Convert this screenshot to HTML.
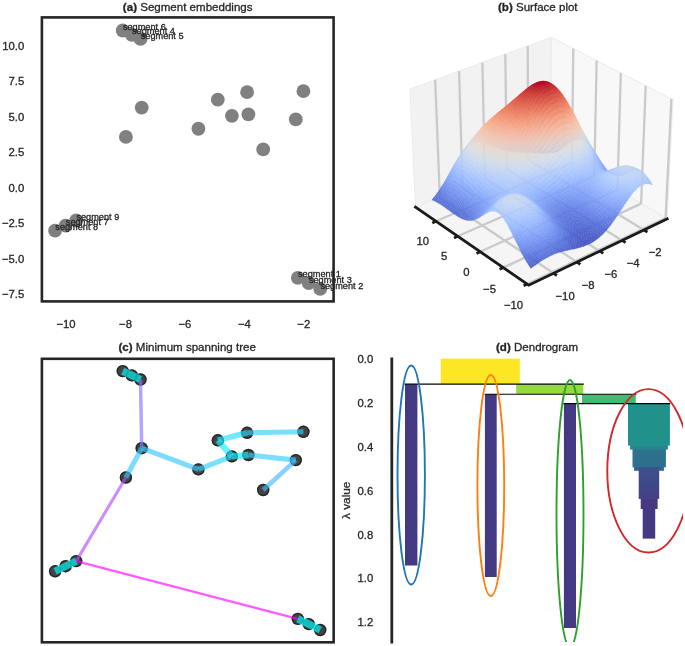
<!DOCTYPE html>
<html><head><meta charset="utf-8"><title>figure</title>
<style>html,body{margin:0;padding:0;background:#fff}svg{display:block}text{font-family:"Liberation Sans", sans-serif}</style></head>
<body><svg width="685" height="646" viewBox="0 0 685 646">
<rect width="685" height="646" fill="#fff"/>
<g opacity="0.9999">
<g>
<circle cx="122.7" cy="30.5" r="6.9" fill="#808080"/>
<circle cx="131.8" cy="34.8" r="6.9" fill="#808080"/>
<circle cx="140.5" cy="38.9" r="6.9" fill="#808080"/>
<circle cx="141.7" cy="107.6" r="6.9" fill="#808080"/>
<circle cx="125.9" cy="136.9" r="6.9" fill="#808080"/>
<circle cx="198.4" cy="128.75" r="6.9" fill="#808080"/>
<circle cx="217.8" cy="99.7" r="6.9" fill="#808080"/>
<circle cx="231.9" cy="115.8" r="6.9" fill="#808080"/>
<circle cx="247.1" cy="92.2" r="6.9" fill="#808080"/>
<circle cx="248.4" cy="114.35" r="6.9" fill="#808080"/>
<circle cx="263.2" cy="149.4" r="6.9" fill="#808080"/>
<circle cx="295.8" cy="119.45" r="6.9" fill="#808080"/>
<circle cx="303.4" cy="91.15" r="6.9" fill="#808080"/>
<circle cx="55.1" cy="230.7" r="6.9" fill="#808080"/>
<circle cx="65.6" cy="225.6" r="6.9" fill="#808080"/>
<circle cx="76.2" cy="220.5" r="6.9" fill="#808080"/>
<circle cx="297.8" cy="277.8" r="6.9" fill="#808080"/>
<circle cx="308.7" cy="283.0" r="6.9" fill="#808080"/>
<circle cx="320.2" cy="288.95" r="6.9" fill="#808080"/>
<rect x="41.9" y="17.4" width="291.70" height="284.00" fill="none" stroke="#262626" stroke-width="2.6"/>
<text opacity="0.9999" stroke="#262626" stroke-width="0.3" x="122.9" y="30.1" font-size="9.2" fill="#262626">segment 6</text>
<text opacity="0.9999" stroke="#262626" stroke-width="0.3" x="132.0" y="34.4" font-size="9.2" fill="#262626">segment 4</text>
<text opacity="0.9999" stroke="#262626" stroke-width="0.3" x="140.7" y="38.5" font-size="9.2" fill="#262626">segment 5</text>
<text opacity="0.9999" stroke="#262626" stroke-width="0.3" x="76.4" y="220.1" font-size="9.2" fill="#262626">segment 9</text>
<text opacity="0.9999" stroke="#262626" stroke-width="0.3" x="65.8" y="225.2" font-size="9.2" fill="#262626">segment 7</text>
<text opacity="0.9999" stroke="#262626" stroke-width="0.3" x="55.3" y="230.3" font-size="9.2" fill="#262626">segment 8</text>
<text opacity="0.9999" stroke="#262626" stroke-width="0.3" x="298.0" y="277.4" font-size="9.2" fill="#262626">segment 1</text>
<text opacity="0.9999" stroke="#262626" stroke-width="0.3" x="308.9" y="282.6" font-size="9.2" fill="#262626">segment 3</text>
<text opacity="0.9999" stroke="#262626" stroke-width="0.3" x="320.4" y="288.6" font-size="9.2" fill="#262626">segment 2</text>
<text opacity="0.9999" stroke="#262626" stroke-width="0.3" x="24.2" y="49.7" text-anchor="end" font-size="11.3" fill="#262626">10.0</text>
<text opacity="0.9999" stroke="#262626" stroke-width="0.3" x="24.2" y="85.2" text-anchor="end" font-size="11.3" fill="#262626">7.5</text>
<text opacity="0.9999" stroke="#262626" stroke-width="0.3" x="24.2" y="120.7" text-anchor="end" font-size="11.3" fill="#262626">5.0</text>
<text opacity="0.9999" stroke="#262626" stroke-width="0.3" x="24.2" y="156.2" text-anchor="end" font-size="11.3" fill="#262626">2.5</text>
<text opacity="0.9999" stroke="#262626" stroke-width="0.3" x="24.2" y="191.7" text-anchor="end" font-size="11.3" fill="#262626">0.0</text>
<text opacity="0.9999" stroke="#262626" stroke-width="0.3" x="24.2" y="227.2" text-anchor="end" font-size="11.3" fill="#262626">−2.5</text>
<text opacity="0.9999" stroke="#262626" stroke-width="0.3" x="24.2" y="262.7" text-anchor="end" font-size="11.3" fill="#262626">−5.0</text>
<text opacity="0.9999" stroke="#262626" stroke-width="0.3" x="24.2" y="298.2" text-anchor="end" font-size="11.3" fill="#262626">−7.5</text>
<text opacity="0.9999" stroke="#262626" stroke-width="0.3" x="66.0" y="328" text-anchor="middle" font-size="11.3" fill="#262626">−10</text>
<text opacity="0.9999" stroke="#262626" stroke-width="0.3" x="125.5" y="328" text-anchor="middle" font-size="11.3" fill="#262626">−8</text>
<text opacity="0.9999" stroke="#262626" stroke-width="0.3" x="184.9" y="328" text-anchor="middle" font-size="11.3" fill="#262626">−6</text>
<text opacity="0.9999" stroke="#262626" stroke-width="0.3" x="244.4" y="328" text-anchor="middle" font-size="11.3" fill="#262626">−4</text>
<text opacity="0.9999" stroke="#262626" stroke-width="0.3" x="303.8" y="328" text-anchor="middle" font-size="11.3" fill="#262626">−2</text>
<text opacity="0.9999" stroke="#262626" stroke-width="0.3" x="187.7" y="10.7" text-anchor="middle" font-size="11.55" fill="#262626"><tspan font-weight="bold">(a)</tspan> Segment embeddings</text>
</g>
<g>
<polygon points="415.5,207.2 550.9,150.4 551.3,37.3 409.9,89.0" fill="#f2f2f2" stroke="#e8e8e8" stroke-width="0.8"/>
<polygon points="667.2,218.9 550.9,150.4 551.3,37.3 673.0,99.7" fill="#f8f8f8" stroke="#e8e8e8" stroke-width="0.8"/>
<polygon points="528.7,285.2 667.2,218.9 550.9,150.4 415.5,207.2" fill="#f5f5f5" stroke="#e8e8e8" stroke-width="0.8"/>
<line x1="553.6" y1="273.3" x2="439.8" y2="197.0" stroke="#cacaca" stroke-width="2.3" stroke-linecap="butt"/>
<line x1="439.8" y1="197.0" x2="435.2" y2="79.7" stroke="#cacaca" stroke-width="2.3" stroke-linecap="butt"/>
<line x1="577.0" y1="262.1" x2="462.5" y2="187.5" stroke="#cacaca" stroke-width="2.3" stroke-linecap="butt"/>
<line x1="462.5" y1="187.5" x2="459.1" y2="71.0" stroke="#cacaca" stroke-width="2.3" stroke-linecap="butt"/>
<line x1="599.9" y1="251.2" x2="484.9" y2="178.1" stroke="#cacaca" stroke-width="2.3" stroke-linecap="butt"/>
<line x1="484.9" y1="178.1" x2="482.4" y2="62.5" stroke="#cacaca" stroke-width="2.3" stroke-linecap="butt"/>
<line x1="622.2" y1="240.4" x2="506.8" y2="168.9" stroke="#cacaca" stroke-width="2.3" stroke-linecap="butt"/>
<line x1="506.8" y1="168.9" x2="505.3" y2="54.1" stroke="#cacaca" stroke-width="2.3" stroke-linecap="butt"/>
<line x1="644.1" y1="230.0" x2="528.2" y2="159.9" stroke="#cacaca" stroke-width="2.3" stroke-linecap="butt"/>
<line x1="528.2" y1="159.9" x2="527.7" y2="45.9" stroke="#cacaca" stroke-width="2.3" stroke-linecap="butt"/>
<line x1="527.2" y1="284.1" x2="665.6" y2="218.0" stroke="#cacaca" stroke-width="2.3" stroke-linecap="butt"/>
<line x1="665.6" y1="218.0" x2="671.4" y2="98.9" stroke="#cacaca" stroke-width="2.3" stroke-linecap="butt"/>
<line x1="503.3" y1="267.6" x2="641.1" y2="203.6" stroke="#cacaca" stroke-width="2.3" stroke-linecap="butt"/>
<line x1="641.1" y1="203.6" x2="645.7" y2="85.7" stroke="#cacaca" stroke-width="2.3" stroke-linecap="butt"/>
<line x1="480.1" y1="251.7" x2="617.4" y2="189.6" stroke="#cacaca" stroke-width="2.3" stroke-linecap="butt"/>
<line x1="617.4" y1="189.6" x2="620.8" y2="72.9" stroke="#cacaca" stroke-width="2.3" stroke-linecap="butt"/>
<line x1="457.7" y1="236.2" x2="594.3" y2="176.0" stroke="#cacaca" stroke-width="2.3" stroke-linecap="butt"/>
<line x1="594.3" y1="176.0" x2="596.6" y2="60.5" stroke="#cacaca" stroke-width="2.3" stroke-linecap="butt"/>
<line x1="435.9" y1="221.2" x2="571.9" y2="162.8" stroke="#cacaca" stroke-width="2.3" stroke-linecap="butt"/>
<line x1="571.9" y1="162.8" x2="573.3" y2="48.5" stroke="#cacaca" stroke-width="2.3" stroke-linecap="butt"/>
<style>.s0{fill:#3b4cc0;stroke:#3b4cc0}.s1{fill:#3c4ec2;stroke:#3c4ec2}.s2{fill:#3e51c5;stroke:#3e51c5}.s3{fill:#3f53c6;stroke:#3f53c6}.s4{fill:#4257c9;stroke:#4257c9}.s5{fill:#445acc;stroke:#445acc}.s6{fill:#455cce;stroke:#455cce}.s7{fill:#485fd1;stroke:#485fd1}.s8{fill:#4961d2;stroke:#4961d2}.s9{fill:#4b64d5;stroke:#4b64d5}.s10{fill:#4e68d8;stroke:#4e68d8}.s11{fill:#4f69d9;stroke:#4f69d9}.s12{fill:#516ddb;stroke:#516ddb}.s13{fill:#536edd;stroke:#536edd}.s14{fill:#5572df;stroke:#5572df}.s15{fill:#5875e1;stroke:#5875e1}.s16{fill:#5977e3;stroke:#5977e3}.s17{fill:#5b7ae5;stroke:#5b7ae5}.s18{fill:#5d7ce6;stroke:#5d7ce6}.s19{fill:#5f7fe8;stroke:#5f7fe8}.s20{fill:#6282ea;stroke:#6282ea}.s21{fill:#6384eb;stroke:#6384eb}.s22{fill:#6687ed;stroke:#6687ed}.s23{fill:#688aef;stroke:#688aef}.s24{fill:#6a8bef;stroke:#6a8bef}.s25{fill:#6c8ff1;stroke:#6c8ff1}.s26{fill:#6e90f2;stroke:#6e90f2}.s27{fill:#7093f3;stroke:#7093f3}.s28{fill:#7396f5;stroke:#7396f5}.s29{fill:#7597f6;stroke:#7597f6}.s30{fill:#779af7;stroke:#779af7}.s31{fill:#799cf8;stroke:#799cf8}.s32{fill:#7b9ff9;stroke:#7b9ff9}.s33{fill:#7ea1fa;stroke:#7ea1fa}.s34{fill:#80a3fa;stroke:#80a3fa}.s35{fill:#82a6fb;stroke:#82a6fb}.s36{fill:#84a7fc;stroke:#84a7fc}.s37{fill:#86a9fc;stroke:#86a9fc}.s38{fill:#89acfd;stroke:#89acfd}.s39{fill:#8badfd;stroke:#8badfd}.s40{fill:#8db0fe;stroke:#8db0fe}.s41{fill:#90b2fe;stroke:#90b2fe}.s42{fill:#92b4fe;stroke:#92b4fe}.s43{fill:#94b6ff;stroke:#94b6ff}.s44{fill:#96b7ff;stroke:#96b7ff}.s45{fill:#98b9ff;stroke:#98b9ff}.s46{fill:#9bbcff;stroke:#9bbcff}.s47{fill:#9dbdff;stroke:#9dbdff}.s48{fill:#9fbfff;stroke:#9fbfff}.s49{fill:#a1c0ff;stroke:#a1c0ff}.s50{fill:#a3c2fe;stroke:#a3c2fe}.s51{fill:#a6c4fe;stroke:#a6c4fe}.s52{fill:#a7c5fe;stroke:#a7c5fe}.s53{fill:#aac7fd;stroke:#aac7fd}.s54{fill:#abc8fd;stroke:#abc8fd}.s55{fill:#aec9fc;stroke:#aec9fc}.s56{fill:#b1cbfc;stroke:#b1cbfc}.s57{fill:#b2ccfb;stroke:#b2ccfb}.s58{fill:#b5cdfa;stroke:#b5cdfa}.s59{fill:#b6cefa;stroke:#b6cefa}.s60{fill:#b9d0f9;stroke:#b9d0f9}.s61{fill:#bbd1f8;stroke:#bbd1f8}.s62{fill:#bcd2f7;stroke:#bcd2f7}.s63{fill:#bfd3f6;stroke:#bfd3f6}.s64{fill:#c1d4f4;stroke:#c1d4f4}.s65{fill:#c3d5f4;stroke:#c3d5f4}.s66{fill:#c5d6f2;stroke:#c5d6f2}.s67{fill:#c6d6f1;stroke:#c6d6f1}.s68{fill:#c9d7f0;stroke:#c9d7f0}.s69{fill:#cbd8ee;stroke:#cbd8ee}.s70{fill:#ccd9ed;stroke:#ccd9ed}.s71{fill:#cedaeb;stroke:#cedaeb}.s72{fill:#cfdaea;stroke:#cfdaea}.s73{fill:#d2dbe8;stroke:#d2dbe8}.s74{fill:#d4dbe6;stroke:#d4dbe6}.s75{fill:#d5dbe5;stroke:#d5dbe5}.s76{fill:#d7dce3;stroke:#d7dce3}.s77{fill:#d8dce2;stroke:#d8dce2}.s78{fill:#dadce0;stroke:#dadce0}.s79{fill:#dcdddd;stroke:#dcdddd}.s80{fill:#dddcdc;stroke:#dddcdc}.s81{fill:#dfdbd9;stroke:#dfdbd9}.s82{fill:#e1dad6;stroke:#e1dad6}.s83{fill:#e2dad5;stroke:#e2dad5}.s84{fill:#e4d9d2;stroke:#e4d9d2}.s85{fill:#e5d8d1;stroke:#e5d8d1}.s86{fill:#e7d7ce;stroke:#e7d7ce}.s87{fill:#e9d5cb;stroke:#e9d5cb}.s88{fill:#ead5c9;stroke:#ead5c9}.s89{fill:#ebd3c6;stroke:#ebd3c6}.s90{fill:#ecd3c5;stroke:#ecd3c5}.s91{fill:#edd1c2;stroke:#edd1c2}.s92{fill:#efcfbf;stroke:#efcfbf}.s93{fill:#efcebd;stroke:#efcebd}.s94{fill:#f1cdba;stroke:#f1cdba}.s95{fill:#f1ccb8;stroke:#f1ccb8}.s96{fill:#f2cab5;stroke:#f2cab5}.s97{fill:#f3c8b2;stroke:#f3c8b2}.s98{fill:#f3c7b1;stroke:#f3c7b1}.s99{fill:#f4c5ad;stroke:#f4c5ad}.s100{fill:#f5c2aa;stroke:#f5c2aa}.s101{fill:#f5c1a9;stroke:#f5c1a9}.s102{fill:#f6bfa6;stroke:#f6bfa6}.s103{fill:#f6bea4;stroke:#f6bea4}.s104{fill:#f7bca1;stroke:#f7bca1}.s105{fill:#f7b99e;stroke:#f7b99e}.s106{fill:#f7b89c;stroke:#f7b89c}.s107{fill:#f7b599;stroke:#f7b599}.s108{fill:#f7b497;stroke:#f7b497}.s109{fill:#f7b194;stroke:#f7b194}.s110{fill:#f7af91;stroke:#f7af91}.s111{fill:#f7ad90;stroke:#f7ad90}.s112{fill:#f7aa8c;stroke:#f7aa8c}.s113{fill:#f7a98b;stroke:#f7a98b}.s114{fill:#f7a688;stroke:#f7a688}.s115{fill:#f6a385;stroke:#f6a385}.s116{fill:#f6a283;stroke:#f6a283}.s117{fill:#f59f80;stroke:#f59f80}.s118{fill:#f59d7e;stroke:#f59d7e}.s119{fill:#f49a7b;stroke:#f49a7b}.s120{fill:#f39778;stroke:#f39778}.s121{fill:#f39577;stroke:#f39577}.s122{fill:#f29274;stroke:#f29274}.s123{fill:#f18f71;stroke:#f18f71}.s124{fill:#f18d6f;stroke:#f18d6f}.s125{fill:#f08a6c;stroke:#f08a6c}.s126{fill:#ef886b;stroke:#ef886b}.s127{fill:#ee8468;stroke:#ee8468}.s128{fill:#ec8165;stroke:#ec8165}.s129{fill:#ec7f63;stroke:#ec7f63}.s130{fill:#ea7b60;stroke:#ea7b60}.s131{fill:#e97a5f;stroke:#e97a5f}.s132{fill:#e8765c;stroke:#e8765c}.s133{fill:#e67259;stroke:#e67259}.s134{fill:#e57058;stroke:#e57058}.s135{fill:#e36c55;stroke:#e36c55}.s136{fill:#e36b54;stroke:#e36b54}.s137{fill:#e16751;stroke:#e16751}.s138{fill:#df634e;stroke:#df634e}.s139{fill:#de614d;stroke:#de614d}.s140{fill:#dc5d4a;stroke:#dc5d4a}.s141{fill:#d95847;stroke:#d95847}.s142{fill:#d85646;stroke:#d85646}.s143{fill:#d65244;stroke:#d65244}.s144{fill:#d55042;stroke:#d55042}.s145{fill:#d24b40;stroke:#d24b40}.s146{fill:#d0473d;stroke:#d0473d}.s147{fill:#cf453c;stroke:#cf453c}.s148{fill:#cc403a;stroke:#cc403a}.s149{fill:#cb3e38;stroke:#cb3e38}.s150{fill:#c83836;stroke:#c83836}.s151{fill:#c53334;stroke:#c53334}.s152{fill:#c43032;stroke:#c43032}.s153{fill:#c12b30;stroke:#c12b30}.s154{fill:#c0282f;stroke:#c0282f}.s155{fill:#bd1f2d;stroke:#bd1f2d}.s156{fill:#ba162b;stroke:#ba162b}.s157{fill:#b8122a;stroke:#b8122a}.s158{fill:#b50927;stroke:#b50927}.s159{fill:#b40426;stroke:#b40426}</style>
<g fill-opacity="0.93" stroke-opacity="0.6" stroke-width="0.4">
<path class="s4" d="M550 152.8l1.7 0-1.4 .1-1.6 .1z"/>
<path class="s5" d="M548.4 152.8l1.6 0-1.3 .2-1.7 .1z"/>
<path class="s6" d="M551.4 152.5l1.6 .1-1.3 .2-1.7 0z"/>
<path class="s6" d="M546.8 152.8l1.6 0-1.4 .3-1.6 0z"/>
<path class="s7" d="M549.8 152.4l1.6 .1-1.4 .3-1.6 0z"/>
<path class="s7" d="M552.8 152.1l1.6 .2-1.4 .3-1.6-.1z"/>
<path class="s7" d="M545.2 152.7l1.6 .1-1.4 .3-1.6 .1z"/>
<path class="s8" d="M548.2 152.2l1.6 .2-1.4 .4-1.6 0z"/>
<path class="s9" d="M551.2 151.8l1.6 .3-1.4 .4-1.6-.1z"/>
<path class="s9" d="M554.2 151.5l1.6 .4-1.4 .4-1.6-.2z"/>
<path class="s8" d="M543.5 152.6l1.7 .1-1.4 .5-1.7 0z"/>
<path class="s9" d="M546.5 152l1.7 .2-1.4 .6-1.6-.1z"/>
<path class="s10" d="M549.6 151.5l1.6 .3-1.4 .6-1.6-.2z"/>
<path class="s9" d="M541.9 152.4l1.6 .2-1.4 .6-1.6 0z"/>
<path class="s11" d="M552.6 151.1l1.6 .4-1.4 .6-1.6-.3z"/>
<path class="s11" d="M555.6 150.8l1.6 .5-1.4 .6-1.6-.4z"/>
<path class="s11" d="M544.9 151.8l1.6 .2-1.3 .7-1.7-.1z"/>
<path class="s12" d="M547.9 151.2l1.7 .3-1.4 .7-1.7-.2z"/>
<path class="s11" d="M540.2 152.3l1.7 .1-1.4 .8-1.6-.1z"/>
<path class="s12" d="M550.9 150.7l1.7 .4-1.4 .7-1.6-.3z"/>
<path class="s13" d="M554 150.3l1.6 .5-1.4 .7-1.6-.4z"/>
<path class="s12" d="M543.3 151.5l1.6 .3-1.4 .8-1.6-.2z"/>
<path class="s14" d="M557 150l1.6 .7-1.4 .6-1.6-.5z"/>
<path class="s13" d="M546.3 150.8l1.6 .4-1.4 .8-1.6-.2z"/>
<path class="s12" d="M538.6 152.1l1.6 .2-1.3 .8-1.7 0z"/>
<path class="s14" d="M549.3 150.2l1.6 .5-1.3 .8-1.7-.3z"/>
<path class="s13" d="M541.6 151.2l1.7 .3-1.4 .9-1.7-.1z"/>
<path class="s15" d="M552.3 149.7l1.7 .6-1.4 .8-1.7-.4z"/>
<path class="s16" d="M555.4 149.3l1.6 .7-1.4 .8-1.6-.5z"/>
<path class="s15" d="M544.6 150.4l1.7 .4-1.4 1-1.6-.3z"/>
<path class="s13" d="M536.9 151.9l1.7 .2-1.4 1-1.6-.1z"/>
<path class="s16" d="M558.4 149.1l1.6 .8-1.4 .8-1.6-.7z"/>
<path class="s16" d="M547.7 149.7l1.6 .5-1.4 1-1.6-.4z"/>
<path class="s15" d="M540 150.9l1.6 .3-1.4 1.1-1.6-.2z"/>
<path class="s17" d="M550.7 149l1.6 .7-1.4 1-1.6-.5z"/>
<path class="s16" d="M543 150l1.6 .4-1.3 1.1-1.7-.3z"/>
<path class="s14" d="M535.3 151.8l1.6 .1-1.3 1.1-1.7 0z"/>
<path class="s18" d="M553.7 148.6l1.7 .7-1.4 1-1.7-.6z"/>
<path class="s18" d="M556.8 148.3l1.6 .8-1.4 .9-1.6-.7z"/>
<path class="s18" d="M546 149.1l1.7 .6-1.4 1.1-1.7-.4z"/>
<path class="s19" d="M559.8 148.1l1.6 1-1.4 .8-1.6-.8z"/>
<path class="s16" d="M538.3 150.6l1.7 .3-1.4 1.2-1.7-.2z"/>
<path class="s19" d="M549.1 148.4l1.6 .6-1.4 1.2-1.6-.5z"/>
<path class="s16" d="M533.6 151.6l1.7 .2-1.4 1.2-1.6-.1z"/>
<path class="s18" d="M541.3 149.5l1.7 .5-1.4 1.2-1.6-.3z"/>
<path class="s20" d="M552.1 147.8l1.6 .8-1.4 1.1-1.6-.7z"/>
<path class="s21" d="M555.2 147.3l1.6 1-1.4 1-1.7-.7z"/>
<path class="s20" d="M544.4 148.5l1.6 .6-1.4 1.3-1.6-.4z"/>
<path class="s18" d="M536.7 150.3l1.6 .3-1.4 1.3-1.6-.1z"/>
<path class="s21" d="M558.2 147.1l1.6 1-1.4 1-1.6-.8z"/>
<path class="s22" d="M561.2 147l1.7 1.2-1.5 .9-1.6-1z"/>
<path class="s17" d="M532 151.4l1.6 .2-1.3 1.3-1.7-.1z"/>
<path class="s21" d="M547.4 147.6l1.7 .8-1.4 1.3-1.7-.6z"/>
<path class="s20" d="M539.7 149.1l1.6 .4-1.3 1.4-1.7-.3z"/>
<path class="s22" d="M550.5 146.9l1.6 .9-1.4 1.2-1.6-.6z"/>
<path class="s19" d="M535 150l1.7 .3-1.4 1.5-1.7-.2z"/>
<path class="s21" d="M542.7 147.9l1.7 .6-1.4 1.5-1.7-.5z"/>
<path class="s23" d="M553.5 146.3l1.7 1-1.5 1.3-1.6-.8z"/>
<path class="s18" d="M530.3 151.2l1.7 .2-1.4 1.4-1.7 0z"/>
<path class="s24" d="M556.6 145.9l1.6 1.2-1.4 1.2-1.6-1z"/>
<path class="s23" d="M545.8 146.9l1.6 .7-1.4 1.5-1.6-.6z"/>
<path class="s21" d="M538 148.6l1.7 .5-1.4 1.5-1.6-.3z"/>
<path class="s24" d="M559.6 145.8l1.6 1.2-1.4 1.1-1.6-1z"/>
<path class="s24" d="M562.7 145.9l1.6 1.3-1.4 1-1.7-1.2z"/>
<path class="s25" d="M548.8 146l1.7 .9-1.4 1.5-1.7-.8z"/>
<path class="s21" d="M533.3 149.7l1.7 .3-1.4 1.6-1.6-.2z"/>
<path class="s23" d="M541.1 147.3l1.6 .6-1.4 1.6-1.6-.4z"/>
<path class="s19" d="M528.6 151l1.7 .2-1.4 1.6-1.6-.1z"/>
<path class="s26" d="M551.9 145.3l1.6 1-1.4 1.5-1.6-.9z"/>
<path class="s23" d="M536.4 148.2l1.6 .4-1.3 1.7-1.7-.3z"/>
<path class="s25" d="M544.1 146.1l1.7 .8-1.4 1.6-1.7-.6z"/>
<path class="s27" d="M554.9 144.7l1.7 1.2-1.4 1.4-1.7-1z"/>
<path class="s27" d="M558 144.5l1.6 1.3-1.4 1.3-1.6-1.2z"/>
<path class="s22" d="M531.7 149.4l1.6 .3-1.3 1.7-1.7-.2z"/>
<path class="s28" d="M561 144.4l1.7 1.5-1.5 1.1-1.6-1.2z"/>
<path class="s27" d="M547.2 145l1.6 1-1.4 1.6-1.6-.7z"/>
<path class="s25" d="M539.4 146.7l1.7 .6-1.4 1.8-1.7-.5z"/>
<path class="s27" d="M564.1 144.7l1.6 1.5-1.4 1-1.6-1.3z"/>
<path class="s21" d="M527 150.8l1.6 .2-1.3 1.7-1.7-.1z"/>
<path class="s28" d="M550.2 144.2l1.7 1.1-1.4 1.6-1.7-.9z"/>
<path class="s25" d="M534.7 147.7l1.7 .5-1.4 1.8-1.7-.3z"/>
<path class="s27" d="M542.5 145.3l1.6 .8-1.4 1.8-1.6-.6z"/>
<path class="s23" d="M530 149.1l1.7 .3-1.4 1.8-1.7-.2z"/>
<path class="s29" d="M553.3 143.5l1.6 1.2-1.4 1.6-1.6-1z"/>
<path class="s22" d="M525.3 150.6l1.7 .2-1.4 1.8-1.7-.1z"/>
<path class="s30" d="M556.3 143.1l1.7 1.4-1.4 1.4-1.7-1.2z"/>
<path class="s27" d="M537.8 146.1l1.6 .6-1.4 1.9-1.6-.4z"/>
<path class="s29" d="M545.5 144.1l1.7 .9-1.4 1.9-1.7-.8z"/>
<path class="s31" d="M559.4 142.9l1.6 1.5-1.4 1.4-1.6-1.3z"/>
<path class="s31" d="M562.5 143.1l1.6 1.6-1.4 1.2-1.7-1.5z"/>
<path class="s26" d="M533 147.2l1.7 .5-1.4 2-1.6-.3z"/>
<path class="s30" d="M565.5 143.5l1.6 1.7-1.4 1-1.6-1.5z"/>
<path class="s31" d="M548.6 143l1.6 1.2-1.4 1.8-1.6-1z"/>
<path class="s29" d="M540.8 144.5l1.7 .8-1.4 2-1.7-.6z"/>
<path class="s25" d="M528.3 148.7l1.7 .4-1.4 1.9-1.6-.2z"/>
<path class="s23" d="M523.6 150.5l1.7 .1-1.4 1.9-1.7 0z"/>
<path class="s32" d="M551.6 142.2l1.7 1.3-1.4 1.8-1.7-1.1z"/>
<path class="s29" d="M536.1 145.5l1.7 .6-1.4 2.1-1.7-.5z"/>
<path class="s32" d="M543.9 143.1l1.6 1-1.4 2-1.6-.8z"/>
<path class="s33" d="M554.7 141.6l1.6 1.5-1.4 1.6-1.6-1.2z"/>
<path class="s28" d="M531.4 146.8l1.6 .4-1.3 2.2-1.7-.3z"/>
<path class="s34" d="M557.8 141.3l1.6 1.6-1.4 1.6-1.7-1.4z"/>
<path class="s26" d="M526.6 148.5l1.7 .2-1.3 2.1-1.7-.2z"/>
<path class="s34" d="M560.8 141.3l1.7 1.8-1.5 1.3-1.6-1.5z"/>
<path class="s32" d="M539.1 143.7l1.7 .8-1.4 2.2-1.6-.6z"/>
<path class="s34" d="M546.9 141.9l1.7 1.1-1.4 2-1.7-.9z"/>
<path class="s25" d="M521.9 150.3l1.7 .2-1.4 2-1.6-.1z"/>
<path class="s33" d="M567 142.3l1.6 1.8-1.5 1.1-1.6-1.7z"/>
<path class="s34" d="M563.9 141.6l1.6 1.9-1.4 1.2-1.6-1.6z"/>
<path class="s31" d="M534.4 144.9l1.7 .6-1.4 2.2-1.7-.5z"/>
<path class="s35" d="M550 140.9l1.6 1.3-1.4 2-1.6-1.2z"/>
<path class="s34" d="M542.2 142.1l1.7 1-1.4 2.2-1.7-.8z"/>
<path class="s29" d="M529.7 146.4l1.7 .4-1.4 2.3-1.7-.4z"/>
<path class="s28" d="M525 148.2l1.6 .3-1.3 2.1-1.7-.1z"/>
<path class="s37" d="M553.1 140.1l1.6 1.5-1.4 1.9-1.7-1.3z"/>
<path class="s26" d="M520.2 150.1l1.7 .2-1.3 2.1-1.7-.1z"/>
<path class="s34" d="M537.5 143l1.6 .7-1.3 2.4-1.7-.6z"/>
<path class="s37" d="M556.1 139.7l1.7 1.6-1.5 1.8-1.6-1.5z"/>
<path class="s36" d="M545.3 140.7l1.6 1.2-1.4 2.2-1.6-1z"/>
<path class="s38" d="M559.2 139.5l1.6 1.8-1.4 1.6-1.6-1.6z"/>
<path class="s33" d="M532.7 144.3l1.7 .6-1.4 2.3-1.6-.4z"/>
<path class="s36" d="M568.4 141.1l1.6 2.1-1.4 .9-1.6-1.8z"/>
<path class="s38" d="M562.3 139.7l1.6 1.9-1.4 1.5-1.7-1.8z"/>
<path class="s37" d="M565.3 140.2l1.7 2.1-1.5 1.2-1.6-1.9z"/>
<path class="s31" d="M528 146l1.7 .4-1.4 2.3-1.7-.2z"/>
<path class="s38" d="M548.3 139.5l1.7 1.4-1.4 2.1-1.7-1.1z"/>
<path class="s29" d="M523.3 147.9l1.7 .3-1.4 2.3-1.7-.2z"/>
<path class="s36" d="M540.5 141.2l1.7 .9-1.4 2.4-1.7-.8z"/>
<path class="s27" d="M518.5 149.9l1.7 .2-1.3 2.2-1.7-.1z"/>
<path class="s40" d="M551.4 138.6l1.7 1.5-1.5 2.1-1.6-1.3z"/>
<path class="s36" d="M535.8 142.2l1.7 .8-1.4 2.5-1.7-.6z"/>
<path class="s39" d="M543.6 139.6l1.7 1.1-1.4 2.4-1.7-1z"/>
<path class="s35" d="M531.1 143.7l1.6 .6-1.3 2.5-1.7-.4z"/>
<path class="s41" d="M554.5 137.9l1.6 1.8-1.4 1.9-1.6-1.5z"/>
<path class="s33" d="M526.3 145.6l1.7 .4-1.4 2.5-1.6-.3z"/>
<path class="s31" d="M521.6 147.6l1.7 .3-1.4 2.4-1.7-.2z"/>
<path class="s42" d="M557.6 137.6l1.6 1.9-1.4 1.8-1.7-1.6z"/>
<path class="s39" d="M569.8 140l1.7 2.2-1.5 1-1.6-2.1z"/>
<path class="s28" d="M516.8 149.7l1.7 .2-1.3 2.3-1.7-.2z"/>
<path class="s39" d="M538.9 140.2l1.6 1-1.4 2.5-1.6-.7z"/>
<path class="s42" d="M560.6 137.7l1.7 2-1.5 1.6-1.6-1.8z"/>
<path class="s40" d="M566.8 138.9l1.6 2.2-1.4 1.2-1.7-2.1z"/>
<path class="s41" d="M563.7 138.1l1.6 2.1-1.4 1.4-1.6-1.9z"/>
<path class="s41" d="M546.7 138.1l1.6 1.4-1.4 2.4-1.6-1.2z"/>
<path class="s38" d="M534.1 141.5l1.7 .7-1.4 2.7-1.7-.6z"/>
<path class="s36" d="M529.4 143.2l1.7 .5-1.4 2.7-1.7-.4z"/>
<path class="s43" d="M549.8 137l1.6 1.6-1.4 2.3-1.7-1.4z"/>
<path class="s34" d="M524.6 145.2l1.7 .4-1.3 2.6-1.7-.3z"/>
<path class="s42" d="M541.9 138.4l1.7 1.2-1.4 2.5-1.7-.9z"/>
<path class="s32" d="M519.9 147.3l1.7 .3-1.4 2.5-1.7-.2z"/>
<path class="s30" d="M515.1 149.4l1.7 .3-1.3 2.3-1.7-.2z"/>
<path class="s44" d="M552.8 136.2l1.7 1.7-1.4 2.2-1.7-1.5z"/>
<path class="s41" d="M537.2 139.3l1.7 .9-1.4 2.8-1.7-.8z"/>
<path class="s42" d="M571.3 139l1.6 2.4-1.4 .8-1.7-2.2z"/>
<path class="s45" d="M555.9 135.7l1.7 1.9-1.5 2.1-1.6-1.8z"/>
<path class="s44" d="M545 136.8l1.7 1.3-1.4 2.6-1.7-1.1z"/>
<path class="s40" d="M532.4 140.8l1.7 .7-1.4 2.8-1.6-.6z"/>
<path class="s44" d="M568.2 137.6l1.6 2.4-1.4 1.1-1.6-2.2z"/>
<path class="s46" d="M559 135.6l1.6 2.1-1.4 1.8-1.6-1.9z"/>
<path class="s45" d="M565.2 136.6l1.6 2.3-1.5 1.3-1.6-2.1z"/>
<path class="s38" d="M527.7 142.6l1.7 .6-1.4 2.8-1.7-.4z"/>
<path class="s46" d="M562.1 135.9l1.6 2.2-1.4 1.6-1.7-2z"/>
<path class="s36" d="M522.9 144.8l1.7 .4-1.3 2.7-1.7-.3z"/>
<path class="s34" d="M518.2 147l1.7 .3-1.4 2.6-1.7-.2z"/>
<path class="s31" d="M513.4 149.1l1.7 .3-1.3 2.4-1.7-.2z"/>
<path class="s44" d="M540.3 137.3l1.6 1.1-1.4 2.8-1.6-1z"/>
<path class="s46" d="M548.1 135.4l1.7 1.6-1.5 2.5-1.6-1.4z"/>
<path class="s44" d="M535.5 138.4l1.7 .9-1.4 2.9-1.7-.7z"/>
<path class="s48" d="M551.2 134.4l1.6 1.8-1.4 2.4-1.6-1.6z"/>
<path class="s42" d="M530.8 140.1l1.6 .7-1.3 2.9-1.7-.5z"/>
<path class="s44" d="M572.7 138.1l1.7 2.6-1.5 .7-1.6-2.4z"/>
<path class="s40" d="M526 142.1l1.7 .5-1.4 3-1.7-.4z"/>
<path class="s47" d="M543.3 135.4l1.7 1.4-1.4 2.8-1.7-1.2z"/>
<path class="s37" d="M521.2 144.4l1.7 .4-1.3 2.8-1.7-.3z"/>
<path class="s35" d="M516.5 146.7l1.7 .3-1.4 2.7-1.7-.3z"/>
<path class="s33" d="M511.7 148.8l1.7 .3-1.3 2.5-1.7-.2z"/>
<path class="s49" d="M554.3 133.7l1.6 2-1.4 2.2-1.7-1.7z"/>
<path class="s47" d="M569.7 136.4l1.6 2.6-1.5 1-1.6-2.4z"/>
<path class="s50" d="M557.4 133.4l1.6 2.2-1.4 2-1.7-1.9z"/>
<path class="s48" d="M566.6 135.1l1.6 2.5-1.4 1.3-1.6-2.3z"/>
<path class="s47" d="M538.6 136.2l1.7 1.1-1.4 2.9-1.7-.9z"/>
<path class="s50" d="M560.4 133.6l1.7 2.3-1.5 1.8-1.6-2.1z"/>
<path class="s49" d="M563.5 134.1l1.7 2.5-1.5 1.5-1.6-2.2z"/>
<path class="s50" d="M546.4 133.9l1.7 1.5-1.4 2.7-1.7-1.3z"/>
<path class="s46" d="M533.8 137.5l1.7 .9-1.4 3.1-1.7-.7z"/>
<path class="s44" d="M529.1 139.4l1.7 .7-1.4 3.1-1.7-.6z"/>
<path class="s42" d="M524.3 141.6l1.7 .5-1.4 3.1-1.7-.4z"/>
<path class="s39" d="M519.5 144l1.7 .4-1.3 2.9-1.7-.3z"/>
<path class="s36" d="M514.8 146.3l1.7 .4-1.4 2.7-1.7-.3z"/>
<path class="s34" d="M510 148.5l1.7 .3-1.3 2.6-1.7-.3z"/>
<path class="s52" d="M549.5 132.6l1.7 1.8-1.4 2.6-1.7-1.6z"/>
<path class="s47" d="M574.2 137.4l1.6 2.7-1.4 .6-1.7-2.6z"/>
<path class="s50" d="M541.7 134.1l1.6 1.3-1.4 3-1.6-1.1z"/>
<path class="s49" d="M571.1 135.4l1.6 2.7-1.4 .9-1.6-2.6z"/>
<path class="s53" d="M552.6 131.7l1.7 2-1.5 2.5-1.6-1.8z"/>
<path class="s49" d="M536.9 135.1l1.7 1.1-1.4 3.1-1.7-.9z"/>
<path class="s52" d="M568.1 133.7l1.6 2.7-1.5 1.2-1.6-2.5z"/>
<path class="s48" d="M532.1 136.7l1.7 .8-1.4 3.3-1.6-.7z"/>
<path class="s54" d="M555.7 131.2l1.7 2.2-1.5 2.3-1.6-2z"/>
<path class="s53" d="M544.8 132.3l1.6 1.6-1.4 2.9-1.7-1.4z"/>
<path class="s41" d="M517.8 143.6l1.7 .4-1.3 3-1.7-.3z"/>
<path class="s46" d="M527.4 138.8l1.7 .6-1.4 3.2-1.7-.5z"/>
<path class="s38" d="M513.1 146l1.7 .3-1.4 2.8-1.7-.3z"/>
<path class="s43" d="M522.6 141.2l1.7 .4-1.4 3.2-1.7-.4z"/>
<path class="s36" d="M508.3 148.1l1.7 .4-1.3 2.6-1.7-.3z"/>
<path class="s53" d="M565 132.5l1.6 2.6-1.4 1.5-1.7-2.5z"/>
<path class="s54" d="M558.8 131.2l1.6 2.4-1.4 2-1.6-2.2z"/>
<path class="s54" d="M561.9 131.6l1.6 2.5-1.4 1.8-1.7-2.3z"/>
<path class="s49" d="M575.7 136.9l1.6 2.8-1.5 .4-1.6-2.7z"/>
<path class="s53" d="M540 132.8l1.7 1.3-1.4 3.2-1.7-1.1z"/>
<path class="s55" d="M547.9 130.8l1.6 1.8-1.4 2.8-1.7-1.5z"/>
<path class="s52" d="M535.2 134.1l1.7 1-1.4 3.3-1.7-.9z"/>
<path class="s52" d="M572.6 134.6l1.6 2.8-1.5 .7-1.6-2.7z"/>
<path class="s42" d="M516.1 143.2l1.7 .4-1.3 3.1-1.7-.4z"/>
<path class="s40" d="M511.3 145.6l1.8 .4-1.4 2.8-1.7-.3z"/>
<path class="s50" d="M530.4 135.9l1.7 .8-1.3 3.4-1.7-.7z"/>
<path class="s45" d="M520.9 140.7l1.7 .5-1.4 3.2-1.7-.4z"/>
<path class="s48" d="M525.7 138.2l1.7 .6-1.4 3.3-1.7-.5z"/>
<path class="s57" d="M551 129.7l1.6 2-1.4 2.7-1.7-1.8z"/>
<path class="s37" d="M506.6 147.6l1.7 .5-1.3 2.7-1.8-.4z"/>
<path class="s56" d="M543.1 130.8l1.7 1.5-1.5 3.1-1.6-1.3z"/>
<path class="s55" d="M569.5 132.6l1.6 2.8-1.4 1-1.6-2.7z"/>
<path class="s58" d="M554.1 129l1.6 2.2-1.4 2.5-1.7-2z"/>
<path class="s51" d="M577.1 136.6l1.6 2.9-1.4 .2-1.6-2.8z"/>
<path class="s57" d="M566.4 130.9l1.7 2.8-1.5 1.4-1.6-2.6z"/>
<path class="s59" d="M557.2 128.8l1.6 2.4-1.4 2.2-1.7-2.2z"/>
<path class="s56" d="M538.3 131.6l1.7 1.2-1.4 3.4-1.7-1.1z"/>
<path class="s58" d="M563.3 129.8l1.7 2.7-1.5 1.6-1.6-2.5z"/>
<path class="s59" d="M560.2 129l1.7 2.6-1.5 2-1.6-2.4z"/>
<path class="s59" d="M546.2 129.1l1.7 1.7-1.5 3.1-1.6-1.6z"/>
<path class="s44" d="M514.4 142.8l1.7 .4-1.3 3.1-1.7-.3z"/>
<path class="s41" d="M509.6 145.1l1.7 .5-1.3 2.9-1.7-.4z"/>
<path class="s54" d="M533.5 133.1l1.7 1-1.4 3.4-1.7-.8z"/>
<path class="s47" d="M519.2 140.2l1.7 .5-1.4 3.3-1.7-.4z"/>
<path class="s50" d="M524 137.7l1.7 .5-1.4 3.4-1.7-.4z"/>
<path class="s52" d="M528.7 135.2l1.7 .7-1.3 3.5-1.7-.6z"/>
<path class="s39" d="M504.8 147.1l1.8 .5-1.4 2.8-1.7-.5z"/>
<path class="s54" d="M574 133.9l1.7 3-1.5 .5-1.6-2.8z"/>
<path class="s61" d="M549.3 127.7l1.7 2-1.5 2.9-1.6-1.8z"/>
<path class="s59" d="M541.4 129.3l1.7 1.5-1.4 3.3-1.7-1.3z"/>
<path class="s52" d="M578.6 136.5l1.6 3-1.5 0-1.6-2.9z"/>
<path class="s57" d="M571 131.6l1.6 3-1.5 .8-1.6-2.8z"/>
<path class="s62" d="M552.4 126.8l1.7 2.2-1.5 2.7-1.6-2z"/>
<path class="s58" d="M536.6 130.4l1.7 1.2-1.4 3.5-1.7-1z"/>
<path class="s46" d="M512.7 142.3l1.7 .5-1.3 3.2-1.8-.4z"/>
<path class="s43" d="M507.9 144.6l1.7 .5-1.3 3-1.7-.5z"/>
<path class="s48" d="M517.5 139.8l1.7 .4-1.4 3.4-1.7-.4z"/>
<path class="s60" d="M567.9 129.6l1.6 3-1.4 1.1-1.7-2.8z"/>
<path class="s51" d="M522.3 137.1l1.7 .6-1.4 3.5-1.7-.5z"/>
<path class="s41" d="M503.1 146.6l1.7 .5-1.3 2.8-1.7-.5z"/>
<path class="s57" d="M531.8 132.2l1.7 .9-1.4 3.6-1.7-.8z"/>
<path class="s54" d="M527 134.5l1.7 .7-1.3 3.6-1.7-.6z"/>
<path class="s63" d="M555.5 126.4l1.7 2.4-1.5 2.4-1.6-2.2z"/>
<path class="s62" d="M564.8 128l1.6 2.9-1.4 1.6-1.7-2.7z"/>
<path class="s62" d="M544.5 127.4l1.7 1.7-1.4 3.2-1.7-1.5z"/>
<path class="s56" d="M575.5 133.5l1.6 3.1-1.4 .3-1.7-3z"/>
<path class="s64" d="M558.6 126.4l1.6 2.6-1.4 2.2-1.6-2.4z"/>
<path class="s63" d="M561.7 127l1.6 2.8-1.4 1.8-1.7-2.6z"/>
<path class="s53" d="M580 136.7l1.6 3-1.4-.2-1.6-3z"/>
<path class="s62" d="M539.7 127.9l1.7 1.4-1.4 3.5-1.7-1.2z"/>
<path class="s60" d="M572.4 130.8l1.6 3.1-1.4 .7-1.6-3z"/>
<path class="s65" d="M547.6 125.8l1.7 1.9-1.4 3.1-1.7-1.7z"/>
<path class="s47" d="M511 141.8l1.7 .5-1.4 3.3-1.7-.5z"/>
<path class="s45" d="M506.2 144.1l1.7 .5-1.3 3-1.8-.5z"/>
<path class="s50" d="M515.8 139.3l1.7 .5-1.4 3.4-1.7-.4z"/>
<path class="s53" d="M520.5 136.6l1.8 .5-1.4 3.6-1.7-.5z"/>
<path class="s61" d="M534.9 129.3l1.7 1.1-1.4 3.7-1.7-1z"/>
<path class="s43" d="M501.4 145.9l1.7 .7-1.3 2.8-1.7-.6z"/>
<path class="s56" d="M525.3 133.9l1.7 .6-1.3 3.7-1.7-.5z"/>
<path class="s59" d="M530.1 131.4l1.7 .8-1.4 3.7-1.7-.7z"/>
<path class="s58" d="M577 133.4l1.6 3.1-1.5 .1-1.6-3.1z"/>
<path class="s63" d="M569.3 128.4l1.7 3.2-1.5 1-1.6-3z"/>
<path class="s67" d="M550.7 124.6l1.7 2.2-1.4 2.9-1.7-2z"/>
<path class="s54" d="M581.5 137.1l1.6 3.1-1.5-.5-1.6-3z"/>
<path class="s66" d="M542.8 125.7l1.7 1.7-1.4 3.4-1.7-1.5z"/>
<path class="s65" d="M566.3 126.5l1.6 3.1-1.5 1.3-1.6-2.9z"/>
<path class="s68" d="M553.8 123.9l1.7 2.5-1.4 2.6-1.7-2.2z"/>
<path class="s49" d="M509.2 141.3l1.8 .5-1.4 3.3-1.7-.5z"/>
<path class="s67" d="M563.2 125.1l1.6 2.9-1.5 1.8-1.6-2.8z"/>
<path class="s52" d="M514 138.8l1.8 .5-1.4 3.5-1.7-.5z"/>
<path class="s68" d="M556.9 123.8l1.7 2.6-1.4 2.4-1.7-2.4z"/>
<path class="s47" d="M504.4 143.5l1.8 .6-1.4 3-1.7-.5z"/>
<path class="s65" d="M538 126.6l1.7 1.3-1.4 3.7-1.7-1.2z"/>
<path class="s68" d="M560.1 124.2l1.6 2.8-1.5 2-1.6-2.6z"/>
<path class="s62" d="M573.9 130.3l1.6 3.2-1.5 .4-1.6-3.1z"/>
<path class="s55" d="M518.8 136.1l1.7 .5-1.3 3.6-1.7-.4z"/>
<path class="s45" d="M499.6 145.2l1.8 .7-1.3 2.9-1.8-.6z"/>
<path class="s58" d="M523.6 133.2l1.7 .7-1.3 3.8-1.7-.6z"/>
<path class="s64" d="M533.2 128.3l1.7 1-1.4 3.8-1.7-.9z"/>
<path class="s61" d="M528.4 130.6l1.7 .8-1.4 3.8-1.7-.7z"/>
<path class="s69" d="M545.9 123.8l1.7 2-1.4 3.3-1.7-1.7z"/>
<path class="s54" d="M582.9 137.9l1.6 3-1.4-.7-1.6-3.1z"/>
<path class="s59" d="M578.4 133.5l1.6 3.2-1.4-.2-1.6-3.1z"/>
<path class="s65" d="M570.8 127.6l1.6 3.2-1.4 .8-1.7-3.2z"/>
<path class="s71" d="M549 122.4l1.7 2.2-1.4 3.1-1.7-1.9z"/>
<path class="s69" d="M541.1 124.1l1.7 1.6-1.4 3.6-1.7-1.4z"/>
<path class="s51" d="M507.5 140.7l1.7 .6-1.3 3.3-1.7-.5z"/>
<path class="s54" d="M512.3 138.3l1.7 .5-1.3 3.5-1.7-.5z"/>
<path class="s49" d="M502.7 142.8l1.7 .7-1.3 3.1-1.7-.7z"/>
<path class="s57" d="M517.1 135.5l1.7 .6-1.3 3.7-1.7-.5z"/>
<path class="s54" d="M584.4 138.8l1.6 3.1-1.5-1-1.6-3z"/>
<path class="s69" d="M567.7 125.2l1.6 3.2-1.4 1.2-1.6-3.1z"/>
<path class="s64" d="M575.4 130.1l1.6 3.3-1.5 .1-1.6-3.2z"/>
<path class="s60" d="M521.9 132.7l1.7 .5-1.3 3.9-1.8-.5z"/>
<path class="s47" d="M497.9 144.5l1.7 .7-1.3 3-1.7-.7z"/>
<path class="s68" d="M536.3 125.3l1.7 1.3-1.4 3.8-1.7-1.1z"/>
<path class="s60" d="M579.9 133.9l1.6 3.2-1.5-.4-1.6-3.2z"/>
<path class="s72" d="M552.2 121.5l1.6 2.4-1.4 2.9-1.7-2.2z"/>
<path class="s63" d="M526.7 129.8l1.7 .8-1.4 3.9-1.7-.6z"/>
<path class="s66" d="M531.5 127.3l1.7 1-1.4 3.9-1.7-.8z"/>
<path class="s71" d="M564.6 123.4l1.7 3.1-1.5 1.5-1.6-2.9z"/>
<path class="s73" d="M555.3 121.1l1.6 2.7-1.4 2.6-1.7-2.5z"/>
<path class="s72" d="M544.2 122l1.7 1.8-1.4 3.6-1.7-1.7z"/>
<path class="s72" d="M561.5 122.1l1.7 3-1.5 1.9-1.6-2.8z"/>
<path class="s73" d="M558.4 121.3l1.7 2.9-1.5 2.2-1.7-2.6z"/>
<path class="s54" d="M585.9 140.1l1.5 2.9-1.4-1.1-1.6-3.1z"/>
<path class="s68" d="M572.3 127l1.6 3.3-1.5 .5-1.6-3.2z"/>
<path class="s56" d="M510.6 137.7l1.7 .6-1.3 3.5-1.8-.5z"/>
<path class="s53" d="M505.8 140.1l1.7 .6-1.3 3.4-1.8-.6z"/>
<path class="s59" d="M515.4 135l1.7 .5-1.3 3.8-1.8-.5z"/>
<path class="s51" d="M501 142.1l1.7 .7-1.3 3.1-1.8-.7z"/>
<path class="s60" d="M581.3 134.6l1.6 3.3-1.4-.8-1.6-3.2z"/>
<path class="s65" d="M576.8 130.2l1.6 3.3-1.4-.1-1.6-3.3z"/>
<path class="s72" d="M539.4 122.6l1.7 1.5-1.4 3.8-1.7-1.3z"/>
<path class="s62" d="M520.2 132.1l1.7 .6-1.4 3.9-1.7-.5z"/>
<path class="s49" d="M496.1 143.8l1.8 .7-1.3 3-1.8-.8z"/>
<path class="s75" d="M547.4 120.3l1.6 2.1-1.4 3.4-1.7-2z"/>
<path class="s53" d="M587.3 141.5l1.6 3-1.5-1.5-1.5-2.9z"/>
<path class="s65" d="M525 129.1l1.7 .7-1.4 4.1-1.7-.7z"/>
<path class="s71" d="M534.6 124.1l1.7 1.2-1.4 4-1.7-1z"/>
<path class="s71" d="M569.2 124.2l1.6 3.4-1.5 .8-1.6-3.2z"/>
<path class="s69" d="M529.8 126.4l1.7 .9-1.4 4.1-1.7-.8z"/>
<path class="s77" d="M550.5 119.1l1.7 2.4-1.5 3.1-1.7-2.2z"/>
<path class="s60" d="M582.8 135.6l1.6 3.2-1.5-.9-1.6-3.3z"/>
<path class="s74" d="M566.1 122l1.6 3.2-1.4 1.3-1.7-3.1z"/>
<path class="s52" d="M588.8 143.2l1.5 2.9-1.4-1.6-1.6-3z"/>
<path class="s70" d="M573.7 126.7l1.7 3.4-1.5 .2-1.6-3.3z"/>
<path class="s57" d="M508.8 137.2l1.8 .5-1.4 3.6-1.7-.6z"/>
<path class="s55" d="M504 139.4l1.8 .7-1.4 3.4-1.7-.7z"/>
<path class="s76" d="M542.6 120.2l1.6 1.8-1.4 3.7-1.7-1.6z"/>
<path class="s60" d="M513.7 134.5l1.7 .5-1.4 3.8-1.7-.5z"/>
<path class="s66" d="M578.3 130.5l1.6 3.4-1.5-.4-1.6-3.3z"/>
<path class="s53" d="M499.2 141.4l1.8 .7-1.4 3.1-1.7-.7z"/>
<path class="s78" d="M553.6 118.5l1.7 2.6-1.5 2.8-1.6-2.4z"/>
<path class="s76" d="M563 120.2l1.6 3.2-1.4 1.7-1.7-3z"/>
<path class="s64" d="M518.5 131.5l1.7 .6-1.4 4-1.7-.6z"/>
<path class="s78" d="M556.7 118.5l1.7 2.8-1.5 2.5-1.6-2.7z"/>
<path class="s78" d="M559.9 119.1l1.6 3-1.4 2.1-1.7-2.9z"/>
<path class="s52" d="M494.4 143l1.7 .8-1.3 2.9-1.7-.7z"/>
<path class="s67" d="M523.3 128.5l1.7 .6-1.4 4.1-1.7-.5z"/>
<path class="s51" d="M590.2 145.1l1.6 2.8-1.5-1.8-1.5-2.9z"/>
<path class="s75" d="M537.7 121.2l1.7 1.4-1.4 4-1.7-1.3z"/>
<path class="s60" d="M584.3 136.9l1.6 3.2-1.5-1.3-1.6-3.2z"/>
<path class="s71" d="M528.1 125.6l1.7 .8-1.4 4.2-1.7-.8z"/>
<path class="s74" d="M532.9 123l1.7 1.1-1.4 4.2-1.7-1z"/>
<path class="s74" d="M570.7 123.5l1.6 3.5-1.5 .6-1.6-3.4z"/>
<path class="s79" d="M545.7 118.3l1.7 2-1.5 3.5-1.7-1.8z"/>
<path class="s49" d="M591.7 147.2l1.5 2.6-1.4-1.9-1.6-2.8z"/>
<path class="s66" d="M579.7 131.3l1.6 3.3-1.4-.7-1.6-3.4z"/>
<path class="s59" d="M507.1 136.5l1.7 .7-1.3 3.5-1.7-.6z"/>
<path class="s71" d="M575.2 126.7l1.6 3.5-1.4-.1-1.7-3.4z"/>
<path class="s57" d="M502.3 138.7l1.7 .7-1.3 3.4-1.7-.7z"/>
<path class="s62" d="M511.9 133.9l1.8 .6-1.4 3.8-1.7-.6z"/>
<path class="s59" d="M585.7 138.5l1.6 3-1.4-1.4-1.6-3.2z"/>
<path class="s55" d="M497.4 140.6l1.8 .8-1.3 3.1-1.8-.7z"/>
<path class="s66" d="M516.7 131l1.8 .5-1.4 4-1.7-.5z"/>
<path class="s47" d="M593.1 149.4l1.6 2.5-1.5-2.1-1.5-2.6z"/>
<path class="s77" d="M567.6 120.8l1.6 3.4-1.5 1-1.6-3.2z"/>
<path class="s81" d="M548.8 116.9l1.7 2.2-1.5 3.3-1.6-2.1z"/>
<path class="s79" d="M540.9 118.6l1.7 1.6-1.5 3.9-1.7-1.5z"/>
<path class="s69" d="M521.6 127.9l1.7 .6-1.4 4.2-1.7-.6z"/>
<path class="s54" d="M492.6 142.2l1.8 .8-1.3 3-1.8-.8z"/>
<path class="s45" d="M594.5 151.7l1.6 2.4-1.4-2.2-1.6-2.5z"/>
<path class="s73" d="M526.4 124.8l1.7 .8-1.4 4.2-1.7-.7z"/>
<path class="s78" d="M536 119.9l1.7 1.3-1.4 4.1-1.7-1.2z"/>
<path class="s58" d="M587.2 140.3l1.6 2.9-1.5-1.7-1.6-3z"/>
<path class="s66" d="M581.2 132.3l1.6 3.3-1.5-1-1.6-3.3z"/>
<path class="s80" d="M564.4 118.6l1.7 3.4-1.5 1.4-1.6-3.2z"/>
<path class="s76" d="M531.2 122.1l1.7 .9-1.4 4.3-1.7-.9z"/>
<path class="s83" d="M551.9 116l1.7 2.5-1.4 3-1.7-2.4z"/>
<path class="s76" d="M572.1 123.1l1.6 3.6-1.4 .3-1.6-3.5z"/>
<path class="s43" d="M596 154.1l1.6 2.2-1.5-2.2-1.6-2.4z"/>
<path class="s72" d="M576.7 127.1l1.6 3.4-1.5-.3-1.6-3.5z"/>
<path class="s82" d="M561.3 117l1.7 3.2-1.5 1.9-1.6-3z"/>
<path class="s83" d="M555.1 115.7l1.6 2.8-1.4 2.6-1.7-2.6z"/>
<path class="s61" d="M505.4 135.9l1.7 .6-1.3 3.6-1.8-.7z"/>
<path class="s83" d="M558.2 116l1.7 3.1-1.5 2.2-1.7-2.8z"/>
<path class="s64" d="M510.2 133.4l1.7 .5-1.3 3.8-1.8-.5z"/>
<path class="s56" d="M588.6 142.3l1.6 2.8-1.4-1.9-1.6-2.9z"/>
<path class="s59" d="M500.5 138l1.8 .7-1.3 3.4-1.8-.7z"/>
<path class="s83" d="M544 116.4l1.7 1.9-1.5 3.7-1.6-1.8z"/>
<path class="s68" d="M515 130.5l1.7 .5-1.3 4-1.7-.5z"/>
<path class="s41" d="M597.4 156.5l1.6 2-1.4-2.2-1.6-2.2z"/>
<path class="s57" d="M495.7 139.8l1.7 .8-1.3 3.2-1.7-.8z"/>
<path class="s66" d="M582.7 133.6l1.6 3.3-1.5-1.3-1.6-3.3z"/>
<path class="s71" d="M519.8 127.3l1.8 .6-1.4 4.2-1.7-.6z"/>
<path class="s54" d="M590.1 144.5l1.6 2.7-1.5-2.1-1.6-2.8z"/>
<path class="s56" d="M490.8 141.4l1.8 .8-1.3 3-1.8-.8z"/>
<path class="s80" d="M569 120l1.7 3.5-1.5 .7-1.6-3.4z"/>
<path class="s39" d="M598.9 158.9l1.6 1.9-1.5-2.3-1.6-2z"/>
<path class="s83" d="M539.2 117l1.7 1.6-1.5 4-1.7-1.4z"/>
<path class="s75" d="M524.7 124.1l1.7 .7-1.4 4.3-1.7-.6z"/>
<path class="s85" d="M547.1 114.6l1.7 2.3-1.4 3.4-1.7-2z"/>
<path class="s72" d="M578.1 127.8l1.6 3.5-1.4-.8-1.6-3.4z"/>
<path class="s78" d="M529.5 121.2l1.7 .9-1.4 4.3-1.7-.8z"/>
<path class="s81" d="M534.3 118.7l1.7 1.2-1.4 4.2-1.7-1.1z"/>
<path class="s52" d="M591.5 146.8l1.6 2.6-1.4-2.2-1.6-2.7z"/>
<path class="s77" d="M573.6 123.1l1.6 3.6-1.5 0-1.6-3.6z"/>
<path class="s36" d="M600.3 161.3l1.6 1.7-1.4-2.2-1.6-1.9z"/>
<path class="s65" d="M584.1 135.3l1.6 3.2-1.4-1.6-1.6-3.3z"/>
<path class="s63" d="M503.6 135.2l1.8 .7-1.4 3.5-1.7-.7z"/>
<path class="s66" d="M508.4 132.8l1.8 .6-1.4 3.8-1.7-.7z"/>
<path class="s83" d="M565.9 117.4l1.7 3.4-1.5 1.2-1.7-3.4z"/>
<path class="s50" d="M592.9 149.3l1.6 2.4-1.4-2.3-1.6-2.6z"/>
<path class="s61" d="M498.8 137.2l1.7 .8-1.3 3.4-1.8-.8z"/>
<path class="s69" d="M513.3 129.9l1.7 .6-1.3 4-1.8-.6z"/>
<path class="s34" d="M601.8 163.5l1.6 1.6-1.5-2.1-1.6-1.7z"/>
<path class="s87" d="M550.3 113.5l1.6 2.5-1.4 3.1-1.7-2.2z"/>
<path class="s60" d="M493.9 139l1.8 .8-1.3 3.2-1.8-.8z"/>
<path class="s63" d="M585.6 137.2l1.6 3.1-1.5-1.8-1.6-3.2z"/>
<path class="s73" d="M518.1 126.8l1.7 .5-1.3 4.2-1.8-.5z"/>
<path class="s48" d="M594.4 151.9l1.6 2.2-1.5-2.4-1.6-2.4z"/>
<path class="s86" d="M542.3 114.6l1.7 1.8-1.4 3.8-1.7-1.6z"/>
<path class="s86" d="M562.8 115.3l1.6 3.3-1.4 1.6-1.7-3.2z"/>
<path class="s72" d="M579.6 128.8l1.6 3.5-1.5-1-1.6-3.5z"/>
<path class="s58" d="M489.1 140.7l1.7 .7-1.3 3-1.7-.7z"/>
<path class="s88" d="M553.4 113l1.7 2.7-1.5 2.8-1.7-2.5z"/>
<path class="s32" d="M603.2 165.7l1.6 1.4-1.4-2-1.6-1.6z"/>
<path class="s77" d="M522.9 123.5l1.8 .6-1.4 4.4-1.7-.6z"/>
<path class="s82" d="M570.5 119.6l1.6 3.5-1.4 .4-1.7-3.5z"/>
<path class="s88" d="M559.7 113.9l1.6 3.1-1.4 2.1-1.7-3.1z"/>
<path class="s45" d="M595.8 154.4l1.6 2.1-1.4-2.4-1.6-2.2z"/>
<path class="s89" d="M556.5 113.1l1.7 2.9-1.5 2.5-1.6-2.8z"/>
<path class="s78" d="M575.1 123.5l1.6 3.6-1.5-.4-1.6-3.6z"/>
<path class="s62" d="M587 139.3l1.6 3-1.4-2-1.6-3.1z"/>
<path class="s86" d="M537.4 115.6l1.8 1.4-1.5 4.2-1.7-1.3z"/>
<path class="s81" d="M527.8 120.4l1.7 .8-1.4 4.4-1.7-.8z"/>
<path class="s84" d="M532.6 117.6l1.7 1.1-1.4 4.3-1.7-.9z"/>
<path class="s43" d="M597.3 157l1.6 1.9-1.5-2.4-1.6-2.1z"/>
<path class="s31" d="M604.7 167.6l1.6 1.3-1.5-1.8-1.6-1.4z"/>
<path class="s68" d="M506.7 132.2l1.7 .6-1.3 3.7-1.7-.6z"/>
<path class="s66" d="M501.8 134.5l1.8 .7-1.3 3.5-1.8-.7z"/>
<path class="s72" d="M581.1 130.2l1.6 3.4-1.5-1.3-1.6-3.5z"/>
<path class="s60" d="M588.5 141.7l1.6 2.8-1.5-2.2-1.6-3z"/>
<path class="s89" d="M545.4 112.6l1.7 2-1.4 3.7-1.7-1.9z"/>
<path class="s71" d="M511.5 129.4l1.8 .5-1.4 4-1.7-.5z"/>
<path class="s64" d="M497 136.5l1.8 .7-1.4 3.4-1.7-.8z"/>
<path class="s40" d="M598.7 159.5l1.6 1.8-1.4-2.4-1.6-1.9z"/>
<path class="s86" d="M567.4 116.5l1.6 3.5-1.4 .8-1.7-3.4z"/>
<path class="s75" d="M516.4 126.3l1.7 .5-1.4 4.2-1.7-.5z"/>
<path class="s62" d="M492.1 138.3l1.8 .7-1.3 3.2-1.8-.8z"/>
<path class="s57" d="M589.9 144.2l1.6 2.6-1.4-2.3-1.6-2.8z"/>
<path class="s29" d="M606.2 169.4l1.6 1.2-1.5-1.7-1.6-1.3z"/>
<path class="s38" d="M600.2 161.9l1.6 1.6-1.5-2.2-1.6-1.8z"/>
<path class="s60" d="M487.3 140l1.8 .7-1.3 3-1.8-.6z"/>
<path class="s79" d="M576.5 124.2l1.6 3.6-1.4-.7-1.6-3.6z"/>
<path class="s79" d="M521.2 122.9l1.7 .6-1.3 4.4-1.8-.6z"/>
<path class="s71" d="M582.5 132l1.6 3.3-1.4-1.7-1.6-3.4z"/>
<path class="s55" d="M591.3 146.8l1.6 2.5-1.4-2.5-1.6-2.6z"/>
<path class="s84" d="M572 119.5l1.6 3.6-1.5 0-1.6-3.5z"/>
<path class="s92" d="M548.6 111.1l1.7 2.4-1.5 3.4-1.7-2.3z"/>
<path class="s90" d="M540.6 112.9l1.7 1.7-1.4 4-1.7-1.6z"/>
<path class="s36" d="M601.6 164.2l1.6 1.5-1.4-2.2-1.6-1.6z"/>
<path class="s89" d="M564.3 113.9l1.6 3.5-1.5 1.2-1.6-3.3z"/>
<path class="s83" d="M526 119.6l1.8 .8-1.4 4.4-1.7-.7z"/>
<path class="s52" d="M592.8 149.5l1.6 2.4-1.5-2.6-1.6-2.5z"/>
<path class="s28" d="M607.6 171l1.6 1.1-1.4-1.5-1.6-1.2z"/>
<path class="s89" d="M535.7 114.3l1.7 1.3-1.4 4.3-1.7-1.2z"/>
<path class="s86" d="M530.9 116.6l1.7 1-1.4 4.5-1.7-.9z"/>
<path class="s70" d="M504.9 131.5l1.8 .7-1.3 3.7-1.8-.7z"/>
<path class="s69" d="M584 134l1.6 3.2-1.5-1.9-1.6-3.3z"/>
<path class="s68" d="M500.1 133.8l1.7 .7-1.3 3.5-1.7-.8z"/>
<path class="s93" d="M551.7 110.3l1.7 2.7-1.5 3-1.6-2.5z"/>
<path class="s50" d="M594.2 152.3l1.6 2.1-1.4-2.5-1.6-2.4z"/>
<path class="s73" d="M509.8 128.8l1.7 .6-1.3 4-1.8-.6z"/>
<path class="s92" d="M561.1 112l1.7 3.3-1.5 1.7-1.6-3.1z"/>
<path class="s34" d="M603.1 166.3l1.6 1.3-1.5-1.9-1.6-1.5z"/>
<path class="s66" d="M495.2 135.7l1.8 .8-1.3 3.3-1.8-.8z"/>
<path class="s78" d="M578 125.3l1.6 3.5-1.5-1-1.6-3.6z"/>
<path class="s94" d="M554.9 110.2l1.6 2.9-1.4 2.6-1.7-2.7z"/>
<path class="s77" d="M514.6 125.8l1.8 .5-1.4 4.2-1.7-.6z"/>
<path class="s93" d="M558 110.7l1.7 3.2-1.5 2.1-1.7-2.9z"/>
<path class="s47" d="M595.7 155l1.6 2-1.5-2.6-1.6-2.1z"/>
<path class="s64" d="M490.4 137.5l1.7 .8-1.3 3.1-1.7-.7z"/>
<path class="s67" d="M585.4 136.2l1.6 3.1-1.4-2.1-1.6-3.2z"/>
<path class="s88" d="M568.9 115.9l1.6 3.7-1.5 .4-1.6-3.5z"/>
<path class="s93" d="M543.7 110.6l1.7 2-1.4 3.8-1.7-1.8z"/>
<path class="s27" d="M609.1 172.3l1.6 1-1.5-1.2-1.6-1.1z"/>
<path class="s62" d="M485.5 139.5l1.8 .5-1.3 3.1-1.8-.6z"/>
<path class="s44" d="M597.1 157.7l1.6 1.8-1.4-2.5-1.6-2z"/>
<path class="s81" d="M519.5 122.4l1.7 .5-1.4 4.4-1.7-.5z"/>
<path class="s85" d="M573.4 119.8l1.7 3.7-1.5-.4-1.6-3.6z"/>
<path class="s32" d="M604.6 168.2l1.6 1.2-1.5-1.8-1.6-1.3z"/>
<path class="s65" d="M586.9 138.7l1.6 3-1.5-2.4-1.6-3.1z"/>
<path class="s42" d="M598.6 160.2l1.6 1.7-1.5-2.4-1.6-1.8z"/>
<path class="s85" d="M524.3 119l1.7 .6-1.3 4.5-1.8-.6z"/>
<path class="s78" d="M579.4 126.8l1.7 3.4-1.5-1.4-1.6-3.5z"/>
<path class="s93" d="M538.9 111.3l1.7 1.6-1.4 4.1-1.8-1.4z"/>
<path class="s63" d="M588.3 141.4l1.6 2.8-1.4-2.5-1.6-3z"/>
<path class="s72" d="M503.2 130.9l1.7 .6-1.3 3.7-1.8-.7z"/>
<path class="s89" d="M529.2 115.8l1.7 .8-1.4 4.6-1.7-.8z"/>
<path class="s39" d="M600 162.6l1.6 1.6-1.4-2.3-1.6-1.7z"/>
<path class="s31" d="M606 169.8l1.6 1.2-1.4-1.6-1.6-1.2z"/>
<path class="s75" d="M508 128.3l1.8 .5-1.4 4-1.7-.6z"/>
<path class="s70" d="M498.3 133.1l1.8 .7-1.3 3.4-1.8-.7z"/>
<path class="s92" d="M565.7 112.9l1.7 3.6-1.5 .9-1.6-3.5z"/>
<path class="s91" d="M534 113.1l1.7 1.2-1.4 4.4-1.7-1.1z"/>
<path class="s96" d="M546.9 108.9l1.7 2.2-1.5 3.5-1.7-2z"/>
<path class="s27" d="M610.6 173.4l1.6 1-1.5-1.1-1.6-1z"/>
<path class="s60" d="M589.7 144.2l1.6 2.6-1.4-2.6-1.6-2.8z"/>
<path class="s68" d="M493.5 135l1.7 .7-1.3 3.3-1.8-.7z"/>
<path class="s79" d="M512.9 125.3l1.7 .5-1.3 4.1-1.8-.5z"/>
<path class="s66" d="M488.6 136.9l1.8 .6-1.3 3.2-1.8-.7z"/>
<path class="s77" d="M580.9 128.6l1.6 3.4-1.4-1.8-1.7-3.4z"/>
<path class="s85" d="M574.9 120.6l1.6 3.6-1.4-.7-1.7-3.7z"/>
<path class="s57" d="M591.2 147.1l1.6 2.4-1.5-2.7-1.6-2.6z"/>
<path class="s37" d="M601.5 164.9l1.6 1.4-1.5-2.1-1.6-1.6z"/>
<path class="s64" d="M483.7 139l1.8 .5-1.3 3-1.8-.5z"/>
<path class="s90" d="M570.3 115.8l1.7 3.7-1.5 .1-1.6-3.7z"/>
<path class="s82" d="M517.7 121.9l1.8 .5-1.4 4.4-1.7-.5z"/>
<path class="s95" d="M562.6 110.5l1.7 3.4-1.5 1.4-1.7-3.3z"/>
<path class="s54" d="M592.6 150l1.6 2.3-1.4-2.8-1.6-2.4z"/>
<path class="s98" d="M550 107.8l1.7 2.5-1.4 3.2-1.7-2.4z"/>
<path class="s30" d="M607.5 171.2l1.6 1.1-1.5-1.3-1.6-1.2z"/>
<path class="s51" d="M594.1 152.9l1.6 2.1-1.5-2.7-1.6-2.3z"/>
<path class="s35" d="M602.9 166.9l1.7 1.3-1.5-1.9-1.6-1.4z"/>
<path class="s97" d="M542 108.8l1.7 1.8-1.4 4-1.7-1.7z"/>
<path class="s75" d="M582.3 130.7l1.7 3.3-1.5-2-1.6-3.4z"/>
<path class="s87" d="M522.6 118.4l1.7 .6-1.4 4.5-1.7-.6z"/>
<path class="s27" d="M612.1 174.2l1.6 1-1.5-.8-1.6-1z"/>
<path class="s98" d="M559.5 108.7l1.6 3.3-1.4 1.9-1.7-3.2z"/>
<path class="s99" d="M553.2 107.4l1.7 2.8-1.5 2.8-1.7-2.7z"/>
<path class="s48" d="M595.5 155.8l1.6 1.9-1.4-2.7-1.6-2.1z"/>
<path class="s99" d="M556.3 107.7l1.7 3-1.5 2.4-1.6-2.9z"/>
<path class="s74" d="M501.4 130.2l1.8 .7-1.4 3.6-1.7-.7z"/>
<path class="s77" d="M506.3 127.7l1.7 .6-1.3 3.9-1.8-.7z"/>
<path class="s91" d="M527.4 115.1l1.8 .7-1.4 4.6-1.8-.8z"/>
<path class="s85" d="M576.4 121.7l1.6 3.6-1.5-1.1-1.6-3.6z"/>
<path class="s72" d="M496.6 132.3l1.7 .8-1.3 3.4-1.8-.8z"/>
<path class="s45" d="M597 158.5l1.6 1.7-1.5-2.5-1.6-1.9z"/>
<path class="s73" d="M583.8 133.1l1.6 3.1-1.4-2.2-1.7-3.3z"/>
<path class="s96" d="M537.2 109.9l1.7 1.4-1.5 4.3-1.7-1.3z"/>
<path class="s80" d="M511.1 124.8l1.8 .5-1.4 4.1-1.7-.6z"/>
<path class="s94" d="M532.3 112.1l1.7 1-1.4 4.5-1.7-1z"/>
<path class="s70" d="M491.7 134.3l1.8 .7-1.4 3.3-1.7-.8z"/>
<path class="s34" d="M604.4 168.7l1.6 1.1-1.4-1.6-1.7-1.3z"/>
<path class="s30" d="M609 172.4l1.6 1-1.5-1.1-1.6-1.1z"/>
<path class="s95" d="M567.2 112.3l1.7 3.6-1.5 .6-1.7-3.6z"/>
<path class="s68" d="M486.8 136.4l1.8 .5-1.3 3.1-1.8-.5z"/>
<path class="s43" d="M598.4 161.1l1.6 1.5-1.4-2.4-1.6-1.7z"/>
<path class="s66" d="M482 138.8l1.7 .2-1.3 3-1.7-.3z"/>
<path class="s91" d="M571.8 116.2l1.6 3.6-1.4-.3-1.7-3.7z"/>
<path class="s71" d="M585.2 135.8l1.7 2.9-1.5-2.5-1.6-3.1z"/>
<path class="s84" d="M516 121.5l1.7 .4-1.3 4.4-1.8-.5z"/>
<path class="s100" d="M545.2 106.8l1.7 2.1-1.5 3.7-1.7-2z"/>
<path class="s27" d="M613.6 174.8l1.6 .9-1.5-.5-1.6-1z"/>
<path class="s68" d="M586.7 138.6l1.6 2.8-1.4-2.7-1.7-2.9z"/>
<path class="s41" d="M599.9 163.5l1.6 1.4-1.5-2.3-1.6-1.5z"/>
<path class="s84" d="M577.8 123.3l1.6 3.5-1.4-1.5-1.6-3.6z"/>
<path class="s88" d="M520.8 117.9l1.8 .5-1.4 4.5-1.7-.5z"/>
<path class="s33" d="M605.9 170.2l1.6 1-1.5-1.4-1.6-1.1z"/>
<path class="s65" d="M588.1 141.6l1.6 2.6-1.4-2.8-1.6-2.8z"/>
<path class="s98" d="M564.1 109.4l1.6 3.5-1.4 1-1.7-3.4z"/>
<path class="s62" d="M589.6 144.7l1.6 2.4-1.5-2.9-1.6-2.6z"/>
<path class="s29" d="M610.5 173.3l1.6 .9-1.5-.8-1.6-1z"/>
<path class="s39" d="M601.3 165.6l1.6 1.3-1.4-2-1.6-1.4z"/>
<path class="s76" d="M499.6 129.5l1.8 .7-1.3 3.6-1.8-.7z"/>
<path class="s79" d="M504.5 127.1l1.8 .6-1.4 3.8-1.7-.6z"/>
<path class="s59" d="M591 147.8l1.6 2.2-1.4-2.9-1.6-2.4z"/>
<path class="s102" d="M548.3 105.4l1.7 2.4-1.4 3.3-1.7-2.2z"/>
<path class="s93" d="M525.7 114.4l1.7 .7-1.4 4.5-1.7-.6z"/>
<path class="s101" d="M540.3 107.1l1.7 1.7-1.4 4.1-1.7-1.6z"/>
<path class="s74" d="M494.8 131.7l1.8 .6-1.4 3.4-1.7-.7z"/>
<path class="s83" d="M579.3 125.2l1.6 3.4-1.5-1.8-1.6-3.5z"/>
<path class="s82" d="M509.4 124.3l1.7 .5-1.3 4-1.8-.5z"/>
<path class="s55" d="M592.5 150.9l1.6 2-1.5-2.9-1.6-2.2z"/>
<path class="s91" d="M573.3 116.9l1.6 3.7-1.5-.8-1.6-3.6z"/>
<path class="s72" d="M489.9 133.8l1.8 .5-1.3 3.2-1.8-.6z"/>
<path class="s67" d="M480.2 138.7l1.8 .1-1.3 2.9-1.8-.1z"/>
<path class="s96" d="M530.6 111.2l1.7 .9-1.4 4.5-1.7-.8z"/>
<path class="s52" d="M593.9 153.9l1.6 1.9-1.4-2.9-1.6-2z"/>
<path class="s70" d="M485 136l1.8 .4-1.3 3.1-1.8-.5z"/>
<path class="s101" d="M560.9 107.1l1.7 3.4-1.5 1.5-1.6-3.3z"/>
<path class="s99" d="M535.4 108.7l1.8 1.2-1.5 4.4-1.7-1.2z"/>
<path class="s96" d="M568.7 112.2l1.6 3.6-1.4 .1-1.7-3.6z"/>
<path class="s32" d="M607.4 171.4l1.6 1-1.5-1.2-1.6-1z"/>
<path class="s86" d="M514.2 121.1l1.8 .4-1.4 4.3-1.7-.5z"/>
<path class="s37" d="M602.8 167.5l1.6 1.2-1.5-1.8-1.6-1.3z"/>
<path class="s104" d="M551.5 104.7l1.7 2.7-1.5 2.9-1.7-2.5z"/>
<path class="s49" d="M595.3 156.8l1.7 1.7-1.5-2.7-1.6-1.9z"/>
<path class="s28" d="M615.2 175.1l1.6 1-1.6-.4-1.6-.9z"/>
<path class="s103" d="M557.8 105.6l1.7 3.1-1.5 2-1.7-3z"/>
<path class="s81" d="M580.7 127.4l1.6 3.3-1.4-2.1-1.6-3.4z"/>
<path class="s104" d="M554.6 104.8l1.7 2.9-1.4 2.5-1.7-2.8z"/>
<path class="s46" d="M596.8 159.6l1.6 1.5-1.4-2.6-1.7-1.7z"/>
<path class="s90" d="M519.1 117.5l1.7 .4-1.3 4.5-1.8-.5z"/>
<path class="s30" d="M612 173.9l1.6 .9-1.5-.6-1.6-.9z"/>
<path class="s79" d="M582.2 130l1.6 3.1-1.5-2.4-1.6-3.3z"/>
<path class="s104" d="M543.5 104.8l1.7 2-1.5 3.8-1.7-1.8z"/>
<path class="s44" d="M598.2 162.1l1.7 1.4-1.5-2.4-1.6-1.5z"/>
<path class="s36" d="M604.3 169.1l1.6 1.1-1.5-1.5-1.6-1.2z"/>
<path class="s91" d="M574.7 118.1l1.7 3.6-1.5-1.1-1.6-3.7z"/>
<path class="s81" d="M502.7 126.5l1.8 .6-1.3 3.8-1.8-.7z"/>
<path class="s95" d="M524 113.9l1.7 .5-1.4 4.6-1.7-.6z"/>
<path class="s78" d="M497.9 128.9l1.7 .6-1.3 3.6-1.7-.8z"/>
<path class="s32" d="M608.9 172.3l1.6 1-1.5-.9-1.6-1z"/>
<path class="s101" d="M565.6 108.7l1.6 3.6-1.5 .6-1.6-3.5z"/>
<path class="s68" d="M478.4 138.8l1.8-.1-1.3 2.9-1.8 0z"/>
<path class="s76" d="M583.6 132.8l1.6 3-1.4-2.7-1.6-3.1z"/>
<path class="s76" d="M493 131.1l1.8 .6-1.3 3.3-1.8-.7z"/>
<path class="s84" d="M507.6 123.8l1.8 .5-1.4 4-1.7-.6z"/>
<path class="s74" d="M488.1 133.3l1.8 .5-1.3 3.1-1.8-.5z"/>
<path class="s42" d="M599.7 164.4l1.6 1.2-1.4-2.1-1.7-1.4z"/>
<path class="s71" d="M483.3 135.8l1.7 .2-1.3 3-1.7-.2z"/>
<path class="s97" d="M570.1 112.5l1.7 3.7-1.5-.4-1.6-3.6z"/>
<path class="s73" d="M585.1 135.8l1.6 2.8-1.5-2.8-1.6-3z"/>
<path class="s104" d="M538.6 105.6l1.7 1.5-1.4 4.2-1.7-1.4z"/>
<path class="s99" d="M528.8 110.5l1.8 .7-1.4 4.6-1.8-.7z"/>
<path class="s88" d="M512.5 120.7l1.7 .4-1.3 4.2-1.8-.5z"/>
<path class="s70" d="M586.5 139l1.6 2.6-1.4-3-1.6-2.8z"/>
<path class="s29" d="M616.7 175.2l1.6 1-1.5-.1-1.6-1z"/>
<path class="s102" d="M533.7 107.6l1.7 1.1-1.4 4.4-1.7-1z"/>
<path class="s67" d="M588 142.2l1.6 2.5-1.5-3.1-1.6-2.6z"/>
<path class="s35" d="M605.8 170.5l1.6 .9-1.5-1.2-1.6-1.1z"/>
<path class="s90" d="M576.2 119.7l1.6 3.6-1.4-1.6-1.7-3.6z"/>
<path class="s107" d="M546.6 103.2l1.7 2.2-1.4 3.5-1.7-2.1z"/>
<path class="s63" d="M589.4 145.5l1.6 2.3-1.4-3.1-1.6-2.5z"/>
<path class="s30" d="M613.5 174.2l1.7 .9-1.6-.3-1.6-.9z"/>
<path class="s40" d="M601.2 166.4l1.6 1.1-1.5-1.9-1.6-1.2z"/>
<path class="s60" d="M590.8 148.8l1.7 2.1-1.5-3.1-1.6-2.3z"/>
<path class="s92" d="M517.4 117.1l1.7 .4-1.4 4.4-1.7-.4z"/>
<path class="s105" d="M562.4 105.9l1.7 3.5-1.5 1.1-1.7-3.4z"/>
<path class="s56" d="M592.3 152.1l1.6 1.8-1.4-3-1.7-2.1z"/>
<path class="s53" d="M593.7 155.1l1.6 1.7-1.4-2.9-1.6-1.8z"/>
<path class="s32" d="M610.4 173l1.6 .9-1.5-.6-1.6-1z"/>
<path class="s69" d="M476.6 139.2l1.8-.4-1.3 2.8-1.8 .3z"/>
<path class="s50" d="M595.2 158.1l1.6 1.5-1.5-2.8-1.6-1.7z"/>
<path class="s108" d="M549.8 102.2l1.7 2.5-1.5 3.1-1.7-2.4z"/>
<path class="s89" d="M577.6 121.7l1.7 3.5-1.5-1.9-1.6-3.6z"/>
<path class="s96" d="M522.2 113.4l1.8 .5-1.4 4.5-1.8-.5z"/>
<path class="s83" d="M501 126l1.7 .5-1.3 3.7-1.8-.7z"/>
<path class="s107" d="M559.3 103.8l1.6 3.3-1.4 1.6-1.7-3.1z"/>
<path class="s80" d="M496.1 128.4l1.8 .5-1.3 3.4-1.8-.6z"/>
<path class="s38" d="M602.7 168.1l1.6 1-1.5-1.6-1.6-1.1z"/>
<path class="s98" d="M571.6 113.3l1.7 3.6-1.5-.7-1.7-3.7z"/>
<path class="s73" d="M481.5 135.8l1.8 0-1.3 3-1.8-.1z"/>
<path class="s86" d="M505.9 123.3l1.7 .5-1.3 3.9-1.8-.6z"/>
<path class="s78" d="M491.2 130.6l1.8 .5-1.3 3.2-1.8-.5z"/>
<path class="s47" d="M596.6 160.8l1.6 1.3-1.4-2.5-1.6-1.5z"/>
<path class="s76" d="M486.3 133l1.8 .3-1.3 3.1-1.8-.4z"/>
<path class="s103" d="M567 108.6l1.7 3.6-1.5 .1-1.6-3.6z"/>
<path class="s34" d="M607.3 171.5l1.6 .8-1.5-.9-1.6-.9z"/>
<path class="s108" d="M541.7 103.1l1.8 1.7-1.5 4-1.7-1.7z"/>
<path class="s109" d="M552.9 102l1.7 2.8-1.4 2.6-1.7-2.7z"/>
<path class="s109" d="M556.1 102.5l1.7 3.1-1.5 2.1-1.7-2.9z"/>
<path class="s89" d="M510.7 120.3l1.8 .4-1.4 4.1-1.7-.5z"/>
<path class="s87" d="M579.1 124.1l1.6 3.3-1.4-2.2-1.7-3.5z"/>
<path class="s101" d="M527.1 109.8l1.7 .7-1.4 4.6-1.7-.7z"/>
<path class="s30" d="M618.2 175.1l1.6 1-1.5 .1-1.6-1z"/>
<path class="s45" d="M598.1 163.2l1.6 1.2-1.5-2.3-1.6-1.3z"/>
<path class="s31" d="M615.1 174.3l1.6 .9-1.5-.1-1.7-.9z"/>
<path class="s107" d="M536.9 104.3l1.7 1.3-1.4 4.3-1.8-1.2z"/>
<path class="s104" d="M532 106.7l1.7 .9-1.4 4.5-1.7-.9z"/>
<path class="s69" d="M474.8 139.8l1.8-.6-1.3 2.7-1.7 .5z"/>
<path class="s93" d="M515.6 116.8l1.8 .3-1.4 4.4-1.8-.4z"/>
<path class="s85" d="M580.5 126.8l1.7 3.2-1.5-2.6-1.6-3.3z"/>
<path class="s37" d="M604.1 169.6l1.7 .9-1.5-1.4-1.6-1z"/>
<path class="s33" d="M611.9 173.4l1.6 .8-1.5-.3-1.6-.9z"/>
<path class="s43" d="M599.6 165.4l1.6 1-1.5-2-1.6-1.2z"/>
<path class="s98" d="M573.1 114.5l1.6 3.6-1.4-1.2-1.7-3.6z"/>
<path class="s82" d="M582 129.8l1.6 3-1.4-2.8-1.7-3.2z"/>
<path class="s107" d="M563.9 105.2l1.7 3.5-1.5 .7-1.7-3.5z"/>
<path class="s73" d="M479.7 136l1.8-.2-1.3 2.9-1.8 .1z"/>
<path class="s111" d="M544.9 101.1l1.7 2.1-1.4 3.6-1.7-2z"/>
<path class="s34" d="M608.8 172.2l1.6 .8-1.5-.7-1.6-.8z"/>
<path class="s79" d="M583.4 133l1.7 2.8-1.5-3-1.6-3z"/>
<path class="s98" d="M520.5 113.1l1.7 .3-1.4 4.5-1.7-.4z"/>
<path class="s75" d="M584.9 136.3l1.6 2.7-1.4-3.2-1.7-2.8z"/>
<path class="s85" d="M499.2 125.5l1.8 .5-1.4 3.5-1.7-.6z"/>
<path class="s71" d="M586.3 139.8l1.7 2.4-1.5-3.2-1.6-2.7z"/>
<path class="s68" d="M587.8 143.3l1.6 2.2-1.4-3.3-1.7-2.4z"/>
<path class="s77" d="M484.6 132.9l1.7 .1-1.3 3-1.7-.2z"/>
<path class="s82" d="M494.3 127.9l1.8 .5-1.3 3.3-1.8-.6z"/>
<path class="s64" d="M589.2 146.8l1.6 2-1.4-3.3-1.6-2.2z"/>
<path class="s60" d="M590.6 150.2l1.7 1.9-1.5-3.3-1.6-2z"/>
<path class="s88" d="M504.1 122.9l1.8 .4-1.4 3.8-1.8-.6z"/>
<path class="s80" d="M489.4 130.2l1.8 .4-1.3 3.2-1.8-.5z"/>
<path class="s104" d="M568.5 108.9l1.6 3.6-1.4-.3-1.7-3.6z"/>
<path class="s57" d="M592.1 153.5l1.6 1.6-1.4-3-1.7-1.9z"/>
<path class="s69" d="M473.1 140.7l1.7-.9-1.2 2.6-1.8 .8z"/>
<path class="s41" d="M601 167.2l1.7 .9-1.5-1.7-1.6-1z"/>
<path class="s53" d="M593.5 156.6l1.7 1.5-1.5-3-1.6-1.6z"/>
<path class="s91" d="M509 119.9l1.7 .4-1.3 4-1.8-.5z"/>
<path class="s37" d="M605.6 170.6l1.7 .9-1.5-1-1.7-.9z"/>
<path class="s102" d="M525.4 109.3l1.7 .5-1.4 4.6-1.7-.5z"/>
<path class="s97" d="M574.5 116.2l1.7 3.5-1.5-1.6-1.6-3.6z"/>
<path class="s50" d="M595 159.5l1.6 1.3-1.4-2.7-1.7-1.5z"/>
<path class="s110" d="M560.7 102.6l1.7 3.3-1.5 1.2-1.6-3.3z"/>
<path class="s113" d="M548.1 99.8l1.7 2.4-1.5 3.2-1.7-2.2z"/>
<path class="s32" d="M619.8 174.8l1.6 1-1.6 .3-1.6-1z"/>
<path class="s111" d="M540 101.5l1.7 1.6-1.4 4-1.7-1.5z"/>
<path class="s95" d="M513.8 116.5l1.8 .3-1.4 4.3-1.7-.4z"/>
<path class="s33" d="M616.6 174.2l1.6 .9-1.5 .1-1.6-.9z"/>
<path class="s107" d="M530.2 105.9l1.8 .8-1.4 4.5-1.8-.7z"/>
<path class="s48" d="M596.4 162.1l1.7 1.1-1.5-2.4-1.6-1.3z"/>
<path class="s34" d="M613.5 173.5l1.6 .8-1.6-.1-1.6-.8z"/>
<path class="s74" d="M477.9 136.5l1.8-.5-1.3 2.8-1.8 .4z"/>
<path class="s110" d="M535.1 103.2l1.8 1.1-1.5 4.4-1.7-1.1z"/>
<path class="s40" d="M602.5 168.7l1.6 .9-1.4-1.5-1.7-.9z"/>
<path class="s69" d="M471.3 141.8l1.8-1.1-1.3 2.5-1.8 1z"/>
<path class="s35" d="M610.3 172.6l1.6 .8-1.5-.4-1.6-.8z"/>
<path class="s113" d="M557.6 100.7l1.7 3.1-1.5 1.8-1.7-3.1z"/>
<path class="s114" d="M551.2 99.3l1.7 2.7-1.4 2.7-1.7-2.5z"/>
<path class="s95" d="M576 118.4l1.6 3.3-1.4-2-1.7-3.5z"/>
<path class="s114" d="M554.4 99.6l1.7 2.9-1.5 2.3-1.7-2.8z"/>
<path class="s100" d="M518.7 112.8l1.8 .3-1.4 4.4-1.7-.4z"/>
<path class="s78" d="M482.8 133l1.8-.1-1.3 2.9-1.8 0z"/>
<path class="s45" d="M597.9 164.4l1.7 1-1.5-2.2-1.7-1.1z"/>
<path class="s104" d="M570 109.7l1.6 3.6-1.5-.8-1.6-3.6z"/>
<path class="s109" d="M565.4 105l1.6 3.6-1.4 .1-1.7-3.5z"/>
<path class="s37" d="M607.2 171.4l1.6 .8-1.5-.7-1.7-.9z"/>
<path class="s81" d="M487.7 130l1.7 .2-1.3 3.1-1.8-.3z"/>
<path class="s86" d="M497.4 125l1.8 .5-1.3 3.4-1.8-.5z"/>
<path class="s84" d="M492.5 127.5l1.8 .4-1.3 3.2-1.8-.5z"/>
<path class="s89" d="M502.3 122.5l1.8 .4-1.4 3.6-1.7-.5z"/>
<path class="s93" d="M577.5 120.9l1.6 3.2-1.5-2.4-1.6-3.3z"/>
<path class="s93" d="M507.2 119.6l1.8 .3-1.4 3.9-1.7-.5z"/>
<path class="s68" d="M469.5 143.2l1.8-1.4-1.3 2.4-1.7 1.3z"/>
<path class="s115" d="M543.2 99.3l1.7 1.8-1.4 3.7-1.8-1.7z"/>
<path class="s104" d="M523.6 109l1.8 .3-1.4 4.6-1.8-.5z"/>
<path class="s43" d="M599.4 166.4l1.6 .8-1.4-1.8-1.7-1z"/>
<path class="s74" d="M476.1 137.2l1.8-.7-1.3 2.7-1.8 .6z"/>
<path class="s39" d="M604 169.9l1.6 .7-1.5-1-1.6-.9z"/>
<path class="s90" d="M578.9 123.7l1.6 3.1-1.4-2.7-1.6-3.2z"/>
<path class="s97" d="M512.1 116.2l1.7 .3-1.3 4.2-1.8-.4z"/>
<path class="s60" d="M590.5 152l1.6 1.5-1.5-3.3-1.6-1.7z"/>
<path class="s64" d="M589 148.5l1.6 1.7-1.4-3.4-1.6-1.9z"/>
<path class="s68" d="M587.6 144.9l1.6 1.9-1.4-3.5-1.7-2.1z"/>
<path class="s57" d="M591.9 155.3l1.6 1.3-1.4-3.1-1.6-1.5z"/>
<path class="s87" d="M580.4 126.9l1.6 2.9-1.5-3-1.6-3.1z"/>
<path class="s72" d="M586.1 141.2l1.7 2.1-1.5-3.5-1.6-2.3z"/>
<path class="s76" d="M584.7 137.5l1.6 2.3-1.4-3.5-1.7-2.5z"/>
<path class="s84" d="M581.8 130.2l1.6 2.8-1.4-3.2-1.6-2.9z"/>
<path class="s34" d="M621.3 174.3l1.6 1-1.5 .5-1.6-1z"/>
<path class="s34" d="M618.2 173.8l1.6 1-1.6 .3-1.6-.9z"/>
<path class="s53" d="M593.3 158.3l1.7 1.2-1.5-2.9-1.6-1.3z"/>
<path class="s80" d="M583.2 133.8l1.7 2.5-1.5-3.3-1.6-2.8z"/>
<path class="s104" d="M571.4 111l1.7 3.5-1.5-1.2-1.6-3.6z"/>
<path class="s109" d="M528.5 105.3l1.7 .6-1.4 4.6-1.7-.7z"/>
<path class="s67" d="M467.8 145l1.7-1.8-1.2 2.3-1.8 1.6z"/>
<path class="s35" d="M615 173.3l1.6 .9-1.5 .1-1.6-.8z"/>
<path class="s113" d="M562.2 101.9l1.7 3.3-1.5 .7-1.7-3.3z"/>
<path class="s79" d="M481 133.3l1.8-.3-1.3 2.8-1.8 .2z"/>
<path class="s36" d="M611.8 172.7l1.7 .8-1.6-.1-1.6-.8z"/>
<path class="s114" d="M538.3 100.2l1.7 1.3-1.4 4.1-1.7-1.3z"/>
<path class="s50" d="M594.8 161.1l1.6 1-1.4-2.6-1.7-1.2z"/>
<path class="s112" d="M533.4 102.3l1.7 .9-1.4 4.4-1.7-.9z"/>
<path class="s101" d="M517 112.6l1.7 .2-1.3 4.3-1.8-.3z"/>
<path class="s42" d="M600.9 168l1.6 .7-1.5-1.5-1.6-.8z"/>
<path class="s37" d="M608.7 171.9l1.6 .7-1.5-.4-1.6-.8z"/>
<path class="s83" d="M485.9 130l1.8 0-1.4 3-1.7-.1z"/>
<path class="s117" d="M546.4 97.7l1.7 2.1-1.5 3.4-1.7-2.1z"/>
<path class="s74" d="M474.4 138.2l1.7-1-1.3 2.6-1.7 .9z"/>
<path class="s65" d="M466 146.9l1.8-1.9-1.3 2.1-1.8 1.8z"/>
<path class="s110" d="M566.8 105.4l1.7 3.5-1.5-.3-1.6-3.6z"/>
<path class="s86" d="M490.8 127.2l1.7 .3-1.3 3.1-1.8-.4z"/>
<path class="s88" d="M495.7 124.7l1.7 .3-1.3 3.4-1.8-.5z"/>
<path class="s91" d="M500.5 122.1l1.8 .4-1.3 3.5-1.8-.5z"/>
<path class="s48" d="M596.3 163.5l1.6 .9-1.5-2.3-1.6-1z"/>
<path class="s39" d="M605.5 170.8l1.7 .6-1.6-.8-1.6-.7z"/>
<path class="s94" d="M505.4 119.2l1.8 .4-1.3 3.7-1.8-.4z"/>
<path class="s103" d="M572.9 112.8l1.6 3.4-1.4-1.7-1.7-3.5z"/>
<path class="s25" d="M443.6 185.3l1.8-3-1.4 .1-1.7 2.8z"/>
<path class="s116" d="M559.1 99.4l1.6 3.2-1.4 1.2-1.7-3.1z"/>
<path class="s21" d="M441.9 188.1l1.7-2.8-1.3-.1-1.7 2.8z"/>
<path class="s63" d="M464.3 149.2l1.7-2.3-1.3 2-1.7 2.1z"/>
<path class="s28" d="M445.4 182.3l1.7-3.1-1.3 .2-1.8 3z"/>
<path class="s106" d="M521.9 108.7l1.7 .3-1.4 4.4-1.7-.3z"/>
<path class="s18" d="M440.2 190.9l1.7-2.8-1.3-.1-1.7 2.6z"/>
<path class="s31" d="M447.1 179.2l1.7-3.1-1.3 .3-1.7 3z"/>
<path class="s119" d="M549.5 96.9l1.7 2.4-1.4 2.9-1.7-2.4z"/>
<path class="s35" d="M448.8 176.1l1.7-3.2-1.3 .4-1.7 3.1z"/>
<path class="s16" d="M438.4 193.5l1.8-2.6-1.3-.3-1.8 2.5z"/>
<path class="s98" d="M510.3 116l1.8 .2-1.4 4.1-1.7-.4z"/>
<path class="s38" d="M450.5 172.9l1.7-3.2-1.3 .6-1.7 3z"/>
<path class="s61" d="M462.6 151.6l1.7-2.4-1.3 1.8-1.7 2.3z"/>
<path class="s41" d="M602.4 169.3l1.6 .6-1.5-1.2-1.6-.7z"/>
<path class="s46" d="M597.7 165.6l1.7 .8-1.5-2-1.6-.9z"/>
<path class="s79" d="M479.2 133.9l1.8-.6-1.3 2.7-1.8 .5z"/>
<path class="s13" d="M436.7 195.9l1.7-2.4-1.3-.4-1.7 2.4z"/>
<path class="s74" d="M472.6 139.5l1.8-1.3-1.3 2.5-1.8 1.1z"/>
<path class="s42" d="M452.2 169.7l1.7-3.3-1.3 .8-1.7 3.1z"/>
<path class="s118" d="M555.9 97.7l1.7 3-1.5 1.8-1.7-2.9z"/>
<path class="s119" d="M552.7 96.9l1.7 2.7-1.5 2.4-1.7-2.7z"/>
<path class="s58" d="M460.8 154.3l1.8-2.7-1.3 1.7-1.8 2.5z"/>
<path class="s46" d="M453.9 166.4l1.8-3.1-1.4 .9-1.7 3z"/>
<path class="s49" d="M455.7 163.3l1.7-3.1-1.3 1.1-1.8 2.9z"/>
<path class="s56" d="M459.1 157.2l1.7-2.9-1.3 1.5-1.7 2.7z"/>
<path class="s52" d="M457.4 160.2l1.7-3-1.3 1.3-1.7 2.8z"/>
<path class="s118" d="M541.5 97.7l1.7 1.6-1.5 3.8-1.7-1.6z"/>
<path class="s101" d="M574.4 115l1.6 3.4-1.5-2.2-1.6-3.4z"/>
<path class="s110" d="M526.8 104.9l1.7 .4-1.4 4.5-1.7-.5z"/>
<path class="s11" d="M435 198.2l1.7-2.3-1.3-.4-1.8 2.2z"/>
<path class="s37" d="M616.6 173l1.6 .8-1.6 .4-1.6-.9z"/>
<path class="s37" d="M613.4 172.6l1.6 .7-1.5 .2-1.7-.8z"/>
<path class="s102" d="M515.2 112.4l1.8 .2-1.4 4.2-1.8-.3z"/>
<path class="s84" d="M484.1 130.2l1.8-.2-1.3 2.9-1.8 .1z"/>
<path class="s36" d="M619.7 173.3l1.6 1-1.5 .5-1.6-1z"/>
<path class="s60" d="M590.3 154l1.6 1.3-1.4-3.3-1.7-1.5z"/>
<path class="s36" d="M622.9 173.7l1.6 1.1-1.6 .5-1.6-1z"/>
<path class="s38" d="M610.2 172.1l1.6 .6-1.5-.1-1.6-.7z"/>
<path class="s64" d="M588.8 150.5l1.7 1.5-1.5-3.5-1.6-1.7z"/>
<path class="s110" d="M568.3 106.2l1.7 3.5-1.5-.8-1.7-3.5z"/>
<path class="s56" d="M591.7 157.2l1.6 1.1-1.4-3-1.6-1.3z"/>
<path class="s115" d="M563.7 101.6l1.7 3.4-1.5 .2-1.7-3.3z"/>
<path class="s8" d="M433.2 200.4l1.8-2.2-1.4-.5-1.7 2.1z"/>
<path class="s68" d="M587.4 146.8l1.6 1.7-1.4-3.6-1.7-1.9z"/>
<path class="s114" d="M531.7 101.5l1.7 .8-1.4 4.4-1.8-.8z"/>
<path class="s87" d="M489 127.1l1.8 .1-1.4 3-1.7-.2z"/>
<path class="s44" d="M599.2 167.4l1.7 .6-1.5-1.6-1.7-.8z"/>
<path class="s117" d="M536.6 99l1.7 1.2-1.4 4.1-1.8-1.1z"/>
<path class="s39" d="M607 171.3l1.7 .6-1.5-.5-1.7-.6z"/>
<path class="s73" d="M470.8 141.1l1.8-1.6-1.3 2.3-1.8 1.4z"/>
<path class="s99" d="M575.8 117.7l1.7 3.2-1.5-2.5-1.6-3.4z"/>
<path class="s72" d="M585.9 143l1.7 1.9-1.5-3.7-1.6-2.1z"/>
<path class="s90" d="M493.9 124.4l1.8 .3-1.4 3.2-1.8-.4z"/>
<path class="s53" d="M593.2 160.2l1.6 .9-1.5-2.8-1.6-1.1z"/>
<path class="s93" d="M498.8 121.8l1.7 .3-1.3 3.4-1.8-.5z"/>
<path class="s76" d="M584.5 139.1l1.6 2.1-1.4-3.7-1.7-2.3z"/>
<path class="s79" d="M477.4 134.7l1.8-.8-1.3 2.6-1.8 .7z"/>
<path class="s96" d="M503.7 119l1.7 .2-1.3 3.7-1.8-.4z"/>
<path class="s41" d="M603.9 170.2l1.6 .6-1.5-.9-1.6-.6z"/>
<path class="s96" d="M577.3 120.7l1.6 3-1.4-2.8-1.7-3.2z"/>
<path class="s81" d="M583 135.2l1.7 2.3-1.5-3.7-1.6-2.5z"/>
<path class="s107" d="M520.1 108.5l1.8 .2-1.4 4.4-1.8-.3z"/>
<path class="s22" d="M443.2 188.4l1.8-2.9-1.4-.2-1.7 2.8z"/>
<path class="s50" d="M594.6 162.8l1.7 .7-1.5-2.4-1.6-.9z"/>
<path class="s19" d="M441.5 191.2l1.7-2.8-1.3-.3-1.7 2.8z"/>
<path class="s26" d="M445 185.5l1.7-3.1-1.3-.1-1.8 3z"/>
<path class="s85" d="M581.6 131.3l1.6 2.5-1.4-3.6-1.6-2.6z"/>
<path class="s93" d="M578.7 124l1.7 2.9-1.5-3.2-1.6-3z"/>
<path class="s16" d="M439.8 193.9l1.7-2.7-1.3-.3-1.8 2.6z"/>
<path class="s29" d="M446.7 182.4l1.7-3.2-1.3 0-1.7 3.1z"/>
<path class="s89" d="M580.2 127.6l1.6 2.6-1.4-3.3-1.7-2.9z"/>
<path class="s71" d="M469.1 142.9l1.7-1.8-1.3 2.1-1.7 1.8z"/>
<path class="s99" d="M508.6 115.8l1.7 .2-1.3 3.9-1.8-.3z"/>
<path class="s121" d="M544.6 95.8l1.8 1.9-1.5 3.4-1.7-1.8z"/>
<path class="s33" d="M448.4 179.2l1.7-3.3-1.3 .2-1.7 3.1z"/>
<path class="s14" d="M438 196.4l1.8-2.5-1.4-.4-1.7 2.4z"/>
<path class="s37" d="M450.1 175.9l1.7-3.4-1.3 .4-1.7 3.2z"/>
<path class="s43" d="M600.7 168.8l1.7 .5-1.5-1.3-1.7-.6z"/>
<path class="s110" d="M569.8 107.6l1.6 3.4-1.4-1.3-1.7-3.5z"/>
<path class="s119" d="M560.5 98.6l1.7 3.3-1.5 .7-1.6-3.2z"/>
<path class="s11" d="M436.3 198.8l1.7-2.4-1.3-.5-1.7 2.3z"/>
<path class="s48" d="M596.1 165l1.6 .6-1.4-2.1-1.7-.7z"/>
<path class="s84" d="M482.3 130.7l1.8-.5-1.3 2.8-1.8 .3z"/>
<path class="s70" d="M467.3 145.1l1.8-2.2-1.3 2.1-1.8 1.9z"/>
<path class="s41" d="M451.8 172.5l1.7-3.3-1.3 .5-1.7 3.2z"/>
<path class="s112" d="M525 104.6l1.8 .3-1.4 4.4-1.8-.3z"/>
<path class="s104" d="M513.5 112.3l1.7 .1-1.4 4.1-1.7-.3z"/>
<path class="s79" d="M475.7 135.9l1.7-1.2-1.3 2.5-1.7 1z"/>
<path class="s44" d="M453.5 169.2l1.7-3.4-1.3 .6-1.7 3.3z"/>
<path class="s9" d="M434.5 201l1.8-2.2-1.3-.6-1.8 2.2z"/>
<path class="s88" d="M487.2 127.3l1.8-.2-1.3 2.9-1.8 0z"/>
<path class="s67" d="M465.6 147.5l1.7-2.4-1.3 1.8-1.7 2.3z"/>
<path class="s48" d="M455.2 165.8l1.8-3.4-1.3 .9-1.8 3.1z"/>
<path class="s39" d="M611.7 172l1.7 .6-1.6 .1-1.6-.6z"/>
<path class="s116" d="M565.2 102l1.6 3.4-1.4-.4-1.7-3.4z"/>
<path class="s123" d="M547.8 94.7l1.7 2.2-1.4 2.9-1.7-2.1z"/>
<path class="s39" d="M614.9 172.2l1.7 .8-1.6 .3-1.6-.7z"/>
<path class="s40" d="M608.6 171.5l1.6 .6-1.5-.2-1.7-.6z"/>
<path class="s91" d="M492.1 124.3l1.8 .1-1.4 3.1-1.7-.3z"/>
<path class="s121" d="M539.7 96.3l1.8 1.4-1.5 3.8-1.7-1.3z"/>
<path class="s39" d="M618.1 172.5l1.6 .8-1.5 .5-1.6-.8z"/>
<path class="s52" d="M457 162.4l1.7-3.2-1.3 1-1.7 3.1z"/>
<path class="s65" d="M463.9 150.1l1.7-2.6-1.3 1.7-1.7 2.4z"/>
<path class="s116" d="M529.9 101l1.8 .5-1.5 4.4-1.7-.6z"/>
<path class="s122" d="M557.4 96.4l1.7 3-1.5 1.3-1.7-3z"/>
<path class="s46" d="M597.6 166.9l1.6 .5-1.5-1.8-1.6-.6z"/>
<path class="s41" d="M605.4 170.8l1.6 .5-1.5-.5-1.6-.6z"/>
<path class="s94" d="M497 121.6l1.8 .2-1.4 3.2-1.7-.3z"/>
<path class="s38" d="M621.3 172.7l1.6 1-1.6 .6-1.6-1z"/>
<path class="s55" d="M458.7 159.2l1.7-3.2-1.3 1.2-1.7 3z"/>
<path class="s62" d="M462.1 153l1.8-2.9-1.3 1.5-1.8 2.7z"/>
<path class="s59" d="M460.4 156l1.7-3-1.3 1.3-1.7 2.9z"/>
<path class="s38" d="M624.5 173l1.6 1.1-1.6 .7-1.6-1.1z"/>
<path class="s63" d="M588.6 152.9l1.7 1.1-1.5-3.5-1.6-1.3z"/>
<path class="s59" d="M590 156.3l1.7 .9-1.4-3.2-1.7-1.1z"/>
<path class="s109" d="M571.2 109.5l1.7 3.3-1.5-1.8-1.6-3.4z"/>
<path class="s97" d="M501.9 118.7l1.8 .3-1.4 3.5-1.8-.4z"/>
<path class="s119" d="M534.8 98.1l1.8 .9-1.5 4.2-1.7-.9z"/>
<path class="s108" d="M518.4 108.4l1.7 .1-1.4 4.3-1.7-.2z"/>
<path class="s67" d="M587.2 149.2l1.6 1.3-1.4-3.7-1.7-1.5z"/>
<path class="s124" d="M551 94.4l1.7 2.5-1.5 2.4-1.7-2.4z"/>
<path class="s55" d="M591.5 159.4l1.7 .8-1.5-3-1.7-.9z"/>
<path class="s20" d="M442.8 191.7l1.8-2.9-1.4-.4-1.7 2.8z"/>
<path class="s123" d="M554.2 95l1.7 2.7-1.5 1.9-1.7-2.7z"/>
<path class="s23" d="M444.6 188.8l1.7-3.1-1.3-.2-1.8 2.9z"/>
<path class="s43" d="M602.2 169.8l1.7 .4-1.5-.9-1.7-.5z"/>
<path class="s17" d="M441.1 194.4l1.7-2.7-1.3-.5-1.7 2.7z"/>
<path class="s78" d="M473.9 137.3l1.8-1.4-1.3 2.3-1.8 1.3z"/>
<path class="s27" d="M446.3 185.7l1.7-3.2-1.3-.1-1.7 3.1z"/>
<path class="s71" d="M585.7 145.3l1.7 1.5-1.5-3.8-1.6-1.7z"/>
<path class="s84" d="M480.5 131.4l1.8-.7-1.3 2.6-1.8 .6z"/>
<path class="s101" d="M506.8 115.7l1.8 .1-1.4 3.8-1.8-.4z"/>
<path class="s14" d="M439.4 197l1.7-2.6-1.3-.5-1.8 2.5z"/>
<path class="s52" d="M593 162.2l1.6 .6-1.4-2.6-1.7-.8z"/>
<path class="s31" d="M448 182.5l1.7-3.3-1.3 0-1.7 3.2z"/>
<path class="s76" d="M584.3 141.3l1.6 1.7-1.4-3.9-1.7-1.9z"/>
<path class="s12" d="M437.6 199.4l1.8-2.4-1.4-.6-1.7 2.4z"/>
<path class="s34" d="M449.7 179.2l1.7-3.4-1.3 .1-1.7 3.3z"/>
<path class="s107" d="M572.7 111.8l1.7 3.2-1.5-2.2-1.7-3.3z"/>
<path class="s45" d="M599.1 168.5l1.6 .3-1.5-1.4-1.6-.5z"/>
<path class="s113" d="M523.3 104.4l1.7 .2-1.4 4.4-1.7-.3z"/>
<path class="s81" d="M582.8 137.2l1.7 1.9-1.5-3.9-1.6-2.2z"/>
<path class="s105" d="M511.7 112.2l1.8 .1-1.4 3.9-1.8-.2z"/>
<path class="s38" d="M451.4 175.8l1.7-3.5-1.3 .2-1.7 3.4z"/>
<path class="s9" d="M435.9 201.7l1.7-2.3-1.3-.6-1.8 2.2z"/>
<path class="s50" d="M594.4 164.6l1.7 .4-1.5-2.2-1.6-.6z"/>
<path class="s89" d="M485.4 127.6l1.8-.3-1.3 2.7-1.8 .2z"/>
<path class="s77" d="M472.1 139l1.8-1.7-1.3 2.2-1.8 1.6z"/>
<path class="s121" d="M562 98.4l1.7 3.2-1.5 .3-1.7-3.3z"/>
<path class="s116" d="M566.6 102.9l1.7 3.3-1.5-.8-1.6-3.4z"/>
<path class="s125" d="M542.9 94.1l1.7 1.7-1.4 3.5-1.7-1.6z"/>
<path class="s85" d="M581.4 133l1.6 2.2-1.4-3.9-1.6-2.3z"/>
<path class="s42" d="M453.1 172.3l1.8-3.5-1.4 .4-1.7 3.3z"/>
<path class="s105" d="M574.2 114.6l1.6 3.1-1.4-2.7-1.7-3.2z"/>
<path class="s92" d="M490.3 124.4l1.8-.1-1.3 2.9-1.8-.1z"/>
<path class="s90" d="M580 129l1.6 2.3-1.4-3.7-1.7-2.6z"/>
<path class="s84" d="M478.8 132.4l1.7-1-1.3 2.5-1.8 .8z"/>
<path class="s41" d="M610.1 171.5l1.6 .5-1.5 .1-1.6-.6z"/>
<path class="s42" d="M606.9 171.1l1.7 .4-1.6-.2-1.6-.5z"/>
<path class="s96" d="M495.2 121.5l1.8 .1-1.3 3.1-1.8-.3z"/>
<path class="s46" d="M454.9 168.8l1.7-3.5-1.4 .5-1.7 3.4z"/>
<path class="s101" d="M575.6 117.8l1.7 2.9-1.5-3-1.6-3.1z"/>
<path class="s76" d="M470.4 141.1l1.7-2.1-1.3 2.1-1.7 1.8z"/>
<path class="s41" d="M613.3 171.6l1.6 .6-1.5 .4-1.7-.6z"/>
<path class="s118" d="M528.2 100.6l1.7 .4-1.4 4.3-1.7-.4z"/>
<path class="s94" d="M578.5 125l1.7 2.6-1.5-3.6-1.6-2.7z"/>
<path class="s43" d="M603.7 170.5l1.7 .3-1.5-.6-1.7-.4z"/>
<path class="s98" d="M577.1 121.3l1.6 2.7-1.4-3.3-1.7-2.9z"/>
<path class="s48" d="M595.9 166.6l1.7 .3-1.5-1.9-1.7-.4z"/>
<path class="s110" d="M516.6 108.4l1.8 0-1.4 4.2-1.8-.2z"/>
<path class="s99" d="M500.1 118.6l1.8 .1-1.4 3.4-1.7-.3z"/>
<path class="s41" d="M616.5 171.7l1.6 .8-1.5 .5-1.7-.8z"/>
<path class="s50" d="M456.6 165.3l1.7-3.5-1.3 .6-1.8 3.4z"/>
<path class="s21" d="M444.2 192.2l1.7-3-1.3-.4-1.8 2.9z"/>
<path class="s18" d="M442.4 195l1.8-2.8-1.4-.5-1.7 2.7z"/>
<path class="s24" d="M445.9 189.2l1.7-3.1-1.3-.4-1.7 3.1z"/>
<path class="s124" d="M538 95.1l1.7 1.2-1.4 3.9-1.7-1.2z"/>
<path class="s41" d="M619.7 171.8l1.6 .9-1.6 .6-1.6-.8z"/>
<path class="s15" d="M440.7 197.7l1.7-2.7-1.3-.6-1.7 2.6z"/>
<path class="s45" d="M600.6 169.6l1.6 .2-1.5-1-1.6-.3z"/>
<path class="s122" d="M533.1 97.4l1.7 .7-1.4 4.2-1.7-.8z"/>
<path class="s74" d="M468.6 143.4l1.8-2.3-1.3 1.8-1.8 2.2z"/>
<path class="s102" d="M505 115.6l1.8 .1-1.4 3.5-1.7-.2z"/>
<path class="s28" d="M447.6 186.1l1.7-3.3-1.3-.3-1.7 3.2z"/>
<path class="s61" d="M588.4 155.5l1.6 .8-1.4-3.4-1.7-1z"/>
<path class="s54" d="M458.3 161.8l1.7-3.5-1.3 .9-1.7 3.2z"/>
<path class="s41" d="M622.9 171.9l1.6 1.1-1.6 .7-1.6-1z"/>
<path class="s58" d="M589.8 158.8l1.7 .6-1.5-3.1-1.6-.8z"/>
<path class="s65" d="M586.9 151.9l1.7 1-1.4-3.7-1.7-1.2z"/>
<path class="s12" d="M439 200.1l1.7-2.4-1.3-.7-1.8 2.4z"/>
<path class="s40" d="M626.1 172.2l1.6 1.2-1.6 .7-1.6-1.1z"/>
<path class="s124" d="M558.8 95.6l1.7 3-1.4 .8-1.7-3z"/>
<path class="s127" d="M546.1 92.7l1.7 2-1.4 3-1.8-1.9z"/>
<path class="s32" d="M449.3 182.8l1.8-3.4-1.4-.2-1.7 3.3z"/>
<path class="s58" d="M460 158.3l1.7-3.3-1.3 1-1.7 3.2z"/>
<path class="s89" d="M483.6 128.2l1.8-.6-1.3 2.6-1.8 .5z"/>
<path class="s71" d="M466.9 146l1.7-2.6-1.3 1.7-1.7 2.4z"/>
<path class="s116" d="M568.1 104.3l1.7 3.3-1.5-1.4-1.7-3.3z"/>
<path class="s54" d="M591.3 161.7l1.7 .5-1.5-2.8-1.7-.6z"/>
<path class="s70" d="M585.5 148l1.7 1.2-1.5-3.9-1.6-1.4z"/>
<path class="s62" d="M461.7 155l1.7-3.2-1.3 1.2-1.7 3z"/>
<path class="s84" d="M477 133.7l1.8-1.3-1.4 2.3-1.7 1.2z"/>
<path class="s10" d="M437.2 202.4l1.8-2.3-1.4-.7-1.7 2.3z"/>
<path class="s68" d="M465.2 148.8l1.7-2.8-1.3 1.5-1.7 2.6z"/>
<path class="s65" d="M463.4 151.8l1.8-3-1.3 1.3-1.8 2.9z"/>
<path class="s115" d="M521.5 104.3l1.8 .1-1.4 4.3-1.8-.2z"/>
<path class="s36" d="M451.1 179.4l1.7-3.5-1.4-.1-1.7 3.4z"/>
<path class="s106" d="M509.9 112.2l1.8 0-1.4 3.8-1.7-.2z"/>
<path class="s47" d="M597.4 168.3l1.7 .2-1.5-1.6-1.7-.3z"/>
<path class="s75" d="M584.1 143.9l1.6 1.4-1.4-4-1.7-1.6z"/>
<path class="s52" d="M592.8 164.3l1.6 .3-1.4-2.4-1.7-.5z"/>
<path class="s93" d="M488.5 124.7l1.8-.3-1.3 2.7-1.8 .2z"/>
<path class="s40" d="M452.8 175.9l1.7-3.6-1.4 0-1.7 3.5z"/>
<path class="s127" d="M555.7 93.6l1.7 2.8-1.5 1.3-1.7-2.7z"/>
<path class="s128" d="M549.3 92.2l1.7 2.2-1.5 2.5-1.7-2.2z"/>
<path class="s122" d="M563.5 98.7l1.7 3.3-1.5-.4-1.7-3.2z"/>
<path class="s80" d="M582.6 139.7l1.7 1.6-1.5-4.1-1.6-1.8z"/>
<path class="s97" d="M493.4 121.5l1.8 0-1.3 2.9-1.8-.1z"/>
<path class="s128" d="M552.5 92.4l1.7 2.6-1.5 1.9-1.7-2.5z"/>
<path class="s44" d="M454.5 172.3l1.7-3.7-1.3 .2-1.8 3.5z"/>
<path class="s44" d="M605.3 170.9l1.6 .2-1.5-.3-1.7-.3z"/>
<path class="s111" d="M514.8 108.4l1.8 0-1.4 4-1.7-.1z"/>
<path class="s83" d="M475.2 135.3l1.8-1.6-1.3 2.2-1.8 1.4z"/>
<path class="s115" d="M569.6 106.3l1.6 3.2-1.4-1.9-1.7-3.3z"/>
<path class="s43" d="M608.5 171.1l1.6 .4-1.5 0-1.7-.4z"/>
<path class="s119" d="M526.4 100.4l1.8 .2-1.4 4.3-1.8-.3z"/>
<path class="s100" d="M498.3 118.6l1.8 0-1.3 3.2-1.8-.2z"/>
<path class="s45" d="M602.1 170.4l1.6 .1-1.5-.7-1.6-.2z"/>
<path class="s50" d="M594.2 166.5l1.7 .1-1.5-2-1.6-.3z"/>
<path class="s18" d="M443.8 195.7l1.7-2.9-1.3-.6-1.8 2.8z"/>
<path class="s21" d="M445.5 192.8l1.8-3-1.4-.6-1.7 3z"/>
<path class="s43" d="M611.7 171.2l1.6 .4-1.6 .4-1.6-.5z"/>
<path class="s15" d="M442.1 198.4l1.7-2.7-1.4-.7-1.7 2.7z"/>
<path class="s128" d="M541.2 92.7l1.7 1.4-1.4 3.6-1.8-1.4z"/>
<path class="s89" d="M481.9 129.1l1.7-.9-1.3 2.5-1.8 .7z"/>
<path class="s84" d="M581.2 135.4l1.6 1.8-1.4-4.2-1.7-1.9z"/>
<path class="s25" d="M447.3 189.8l1.7-3.3-1.4-.4-1.7 3.1z"/>
<path class="s48" d="M456.2 168.6l1.7-3.7-1.3 .4-1.7 3.5z"/>
<path class="s103" d="M503.3 115.5l1.7 .1-1.3 3.4-1.8-.3z"/>
<path class="s46" d="M598.9 169.5l1.7 .1-1.5-1.1-1.7-.2z"/>
<path class="s12" d="M440.3 200.9l1.8-2.5-1.4-.7-1.7 2.4z"/>
<path class="s43" d="M614.9 171.1l1.6 .6-1.6 .5-1.6-.6z"/>
<path class="s29" d="M449 186.5l1.7-3.3-1.4-.4-1.7 3.3z"/>
<path class="s124" d="M531.3 96.9l1.8 .5-1.4 4.1-1.8-.5z"/>
<path class="s89" d="M579.7 131.1l1.7 1.9-1.4-4-1.7-2.2z"/>
<path class="s81" d="M473.5 137.2l1.7-1.9-1.3 2-1.8 1.7z"/>
<path class="s10" d="M438.5 203.2l1.8-2.3-1.3-.8-1.8 2.3z"/>
<path class="s52" d="M457.9 164.9l1.7-3.6-1.3 .5-1.7 3.5z"/>
<path class="s43" d="M618.1 171l1.6 .8-1.6 .7-1.6-.8z"/>
<path class="s113" d="M571 108.7l1.7 3.1-1.5-2.3-1.6-3.2z"/>
<path class="s33" d="M450.7 183.2l1.7-3.5-1.3-.3-1.8 3.4z"/>
<path class="s126" d="M536.3 94.2l1.7 .9-1.4 3.9-1.8-.9z"/>
<path class="s60" d="M588.2 158.3l1.6 .5-1.4-3.3-1.7-.6z"/>
<path class="s64" d="M586.7 154.9l1.7 .6-1.5-3.6-1.6-.8z"/>
<path class="s116" d="M519.8 104.4l1.7-.1-1.4 4.2-1.7-.1z"/>
<path class="s107" d="M508.2 112.2l1.7 0-1.3 3.6-1.8-.1z"/>
<path class="s56" d="M589.6 161.4l1.7 .3-1.5-2.9-1.6-.5z"/>
<path class="s94" d="M486.7 125.2l1.8-.5-1.3 2.6-1.8 .3z"/>
<path class="s43" d="M621.3 171l1.6 .9-1.6 .8-1.6-.9z"/>
<path class="s48" d="M595.7 168.2l1.7 .1-1.5-1.7-1.7-.1z"/>
<path class="s68" d="M585.3 151.1l1.6 .8-1.4-3.9-1.7-1z"/>
<path class="s94" d="M578.3 126.8l1.7 2.2-1.5-4-1.6-2.4z"/>
<path class="s57" d="M459.6 161.3l1.7-3.6-1.3 .6-1.7 3.5z"/>
<path class="s126" d="M560.3 95.3l1.7 3.1-1.5 .2-1.7-3z"/>
<path class="s37" d="M452.4 179.7l1.7-3.7-1.3-.1-1.7 3.5z"/>
<path class="s43" d="M624.5 171.1l1.6 1.1-1.6 .8-1.6-1.1z"/>
<path class="s122" d="M565 99.7l1.6 3.2-1.4-.9-1.7-3.3z"/>
<path class="s110" d="M572.5 111.7l1.7 2.9-1.5-2.8-1.7-3.1z"/>
<path class="s80" d="M471.7 139.4l1.8-2.2-1.4 1.8-1.7 2.1z"/>
<path class="s43" d="M627.7 171.5l1.6 1.2-1.6 .7-1.6-1.2z"/>
<path class="s53" d="M591.1 164.1l1.7 .2-1.5-2.6-1.7-.3z"/>
<path class="s99" d="M576.9 122.6l1.6 2.4-1.4-3.7-1.7-2.6z"/>
<path class="s89" d="M480.1 130.2l1.8-1.1-1.4 2.3-1.7 1z"/>
<path class="s73" d="M583.8 147l1.7 1-1.4-4.1-1.7-1.2z"/>
<path class="s61" d="M461.3 157.7l1.7-3.5-1.3 .8-1.7 3.3z"/>
<path class="s98" d="M491.6 121.8l1.8-.3-1.3 2.8-1.8 .1z"/>
<path class="s107" d="M574 115l1.6 2.8-1.4-3.2-1.7-2.9z"/>
<path class="s103" d="M575.4 118.7l1.7 2.6-1.5-3.5-1.6-2.8z"/>
<path class="s41" d="M454.1 176l1.7-3.7-1.3 0-1.7 3.6z"/>
<path class="s130" d="M544.4 91l1.7 1.7-1.5 3.1-1.7-1.7z"/>
<path class="s77" d="M470 141.9l1.7-2.5-1.3 1.7-1.8 2.3z"/>
<path class="s112" d="M513.1 108.5l1.7-.1-1.3 3.9-1.8-.1z"/>
<path class="s65" d="M463 154.2l1.8-3.4-1.4 1-1.7 3.2z"/>
<path class="s45" d="M603.6 170.9l1.7 0-1.6-.4-1.6-.1z"/>
<path class="s101" d="M496.6 118.7l1.7-.1-1.3 3-1.8-.1z"/>
<path class="s18" d="M445.1 196.4l1.8-2.9-1.4-.7-1.7 2.9z"/>
<path class="s121" d="M524.7 100.3l1.7 .1-1.4 4.2-1.7-.2z"/>
<path class="s75" d="M468.2 144.6l1.8-2.7-1.4 1.5-1.7 2.6z"/>
<path class="s22" d="M446.9 193.5l1.7-3.1-1.3-.6-1.8 3z"/>
<path class="s46" d="M600.4 170.5l1.7-.1-1.5-.8-1.7-.1z"/>
<path class="s68" d="M464.8 150.8l1.7-3.2-1.3 1.2-1.8 3z"/>
<path class="s15" d="M443.4 199.1l1.7-2.7-1.3-.7-1.7 2.7z"/>
<path class="s78" d="M582.4 142.7l1.7 1.2-1.5-4.2-1.7-1.4z"/>
<path class="s45" d="M606.8 171l1.7 .1-1.6 0-1.6-.2z"/>
<path class="s51" d="M592.6 166.5l1.6 0-1.4-2.2-1.7-.2z"/>
<path class="s72" d="M466.5 147.6l1.7-3-1.3 1.4-1.7 2.8z"/>
<path class="s25" d="M448.6 190.4l1.7-3.3-1.3-.6-1.7 3.3z"/>
<path class="s45" d="M455.8 172.3l1.7-3.7-1.3 0-1.7 3.7z"/>
<path class="s13" d="M441.7 201.7l1.7-2.6-1.3-.7-1.8 2.5z"/>
<path class="s105" d="M501.5 115.6l1.8-.1-1.4 3.2-1.8-.1z"/>
<path class="s45" d="M610 170.9l1.7 .3-1.6 .3-1.6-.4z"/>
<path class="s47" d="M597.2 169.7l1.7-.2-1.5-1.2-1.7-.1z"/>
<path class="s130" d="M557.1 92.7l1.7 2.9-1.4 .8-1.7-2.8z"/>
<path class="s29" d="M450.3 187.1l1.7-3.4-1.3-.5-1.7 3.3z"/>
<path class="s10" d="M439.9 204l1.8-2.3-1.4-.8-1.8 2.3z"/>
<path class="s88" d="M478.3 131.7l1.8-1.5-1.3 2.2-1.8 1.3z"/>
<path class="s94" d="M485 125.9l1.7-.7-1.3 2.4-1.8 .6z"/>
<path class="s83" d="M580.9 138.3l1.7 1.4-1.4-4.3-1.7-1.6z"/>
<path class="s132" d="M547.6 90.2l1.7 2-1.5 2.5-1.7-2z"/>
<path class="s50" d="M457.5 168.6l1.7-3.8-1.3 .1-1.7 3.7z"/>
<path class="s45" d="M613.2 170.7l1.7 .4-1.6 .5-1.6-.4z"/>
<path class="s122" d="M566.4 101.2l1.7 3.1-1.5-1.4-1.6-3.2z"/>
<path class="s117" d="M518 104.5l1.8-.1-1.4 4-1.8 0z"/>
<path class="s125" d="M529.6 96.6l1.7 .3-1.4 4.1-1.7-.4z"/>
<path class="s33" d="M452 183.7l1.8-3.6-1.4-.4-1.7 3.5z"/>
<path class="s108" d="M506.4 112.3l1.8-.1-1.4 3.5-1.8-.1z"/>
<path class="s131" d="M539.5 91.6l1.7 1.1-1.5 3.6-1.7-1.2z"/>
<path class="s49" d="M594 168.4l1.7-.2-1.5-1.7-1.6 0z"/>
<path class="s61" d="M586.5 158l1.7 .3-1.5-3.4-1.7-.5z"/>
<path class="s132" d="M554 91l1.7 2.6-1.5 1.4-1.7-2.6z"/>
<path class="s58" d="M587.9 161.3l1.7 .1-1.4-3.1-1.7-.3z"/>
<path class="s45" d="M616.4 170.4l1.7 .6-1.6 .7-1.6-.6z"/>
<path class="s133" d="M550.8 90.1l1.7 2.3-1.5 2-1.7-2.2z"/>
<path class="s129" d="M534.5 93.5l1.8 .7-1.5 3.9-1.7-.7z"/>
<path class="s66" d="M585 154.4l1.7 .5-1.4-3.8-1.7-.6z"/>
<path class="s54" d="M459.2 164.8l1.7-3.8-1.3 .3-1.7 3.6z"/>
<path class="s88" d="M579.5 133.8l1.7 1.6-1.5-4.3-1.6-1.9z"/>
<path class="s38" d="M453.8 180.1l1.7-3.7-1.4-.4-1.7 3.7z"/>
<path class="s98" d="M489.9 122.2l1.7-.4-1.3 2.6-1.8 .3z"/>
<path class="s127" d="M561.8 95.7l1.7 3-1.5-.3-1.7-3.1z"/>
<path class="s55" d="M589.4 164.2l1.7-.1-1.5-2.7-1.7-.1z"/>
<path class="s87" d="M476.5 133.5l1.8-1.8-1.3 2-1.8 1.6z"/>
<path class="s46" d="M619.6 170.2l1.7 .8-1.6 .8-1.6-.8z"/>
<path class="s70" d="M583.6 150.5l1.7 .6-1.5-4.1-1.7-.8z"/>
<path class="s113" d="M511.3 108.7l1.8-.2-1.4 3.7-1.8 0z"/>
<path class="s59" d="M460.9 161l1.8-3.8-1.4 .5-1.7 3.6z"/>
<path class="s19" d="M446.5 197.2l1.7-3-1.3-.7-1.8 2.9z"/>
<path class="s102" d="M494.8 118.9l1.8-.2-1.4 2.8-1.8 0z"/>
<path class="s42" d="M455.5 176.4l1.7-3.8-1.4-.3-1.7 3.7z"/>
<path class="s16" d="M444.8 199.9l1.7-2.7-1.4-.8-1.7 2.7z"/>
<path class="s46" d="M601.9 171l1.7-.1-1.5-.5-1.7 .1z"/>
<path class="s22" d="M448.2 194.2l1.8-3.1-1.4-.7-1.7 3.1z"/>
<path class="s120" d="M567.9 103.3l1.7 3-1.5-2-1.7-3.1z"/>
<path class="s46" d="M622.9 170.2l1.6 .9-1.6 .8-1.6-.9z"/>
<path class="s47" d="M598.7 170.7l1.7-.2-1.5-1-1.7 .2z"/>
<path class="s122" d="M522.9 100.4l1.8-.1-1.4 4.1-1.8-.1z"/>
<path class="s93" d="M578.1 129.2l1.6 1.9-1.4-4.3-1.7-2z"/>
<path class="s94" d="M483.2 127l1.8-1.1-1.4 2.3-1.7 .9z"/>
<path class="s52" d="M590.9 166.7l1.7-.2-1.5-2.4-1.7 .1z"/>
<path class="s13" d="M443 202.5l1.8-2.6-1.4-.8-1.7 2.6z"/>
<path class="s46" d="M605.1 171l1.7 0-1.5-.1-1.7 0z"/>
<path class="s26" d="M450 191.1l1.7-3.3-1.4-.7-1.7 3.3z"/>
<path class="s75" d="M582.1 146.2l1.7 .8-1.4-4.3-1.7-.9z"/>
<path class="s46" d="M626.1 170.3l1.6 1.2-1.6 .7-1.6-1.1z"/>
<path class="s45" d="M629.3 170.8l1.6 1.2-1.6 .7-1.6-1.2z"/>
<path class="s85" d="M474.8 135.5l1.7-2-1.3 1.8-1.7 1.9z"/>
<path class="s48" d="M595.5 170l1.7-.3-1.5-1.5-1.7 .2z"/>
<path class="s106" d="M499.7 115.8l1.8-.2-1.4 3-1.8 0z"/>
<path class="s63" d="M462.7 157.2l1.7-3.6-1.4 .6-1.7 3.5z"/>
<path class="s10" d="M441.3 204.9l1.7-2.4-1.3-.8-1.8 2.3z"/>
<path class="s30" d="M451.7 187.8l1.7-3.5-1.4-.6-1.7 3.4z"/>
<path class="s47" d="M457.2 172.6l1.7-3.9-1.4-.1-1.7 3.7z"/>
<path class="s46" d="M608.3 170.8l1.7 .1-1.5 .2-1.7-.1z"/>
<path class="s98" d="M576.6 124.8l1.7 2-1.4-4.2-1.7-2.2z"/>
<path class="s134" d="M542.6 89.6l1.8 1.4-1.5 3.1-1.7-1.4z"/>
<path class="s118" d="M516.2 104.7l1.8-.2-1.4 3.9-1.8 0z"/>
<path class="s118" d="M569.4 105.9l1.6 2.8-1.4-2.4-1.7-3z"/>
<path class="s67" d="M464.4 153.6l1.7-3.6-1.3 .8-1.8 3.4z"/>
<path class="s83" d="M473 137.9l1.8-2.4-1.3 1.7-1.8 2.2z"/>
<path class="s109" d="M504.6 112.5l1.8-.2-1.4 3.3-1.7-.1z"/>
<path class="s81" d="M580.7 141.8l1.7 .9-1.5-4.4-1.6-1.2z"/>
<path class="s34" d="M453.4 184.3l1.7-3.7-1.3-.5-1.8 3.6z"/>
<path class="s50" d="M592.4 168.8l1.6-.4-1.4-1.9-1.7 .2z"/>
<path class="s127" d="M527.8 96.5l1.8 .1-1.4 4-1.8-.2z"/>
<path class="s46" d="M611.6 170.4l1.6 .3-1.5 .5-1.7-.3z"/>
<path class="s99" d="M488.1 122.9l1.8-.7-1.4 2.5-1.8 .5z"/>
<path class="s103" d="M575.2 120.4l1.7 2.2-1.5-3.9-1.7-2.4z"/>
<path class="s71" d="M466.1 150l1.7-3.3-1.3 .9-1.7 3.2z"/>
<path class="s132" d="M558.6 92.5l1.7 2.8-1.5 .3-1.7-2.9z"/>
<path class="s81" d="M471.3 140.6l1.7-2.7-1.3 1.5-1.7 2.5z"/>
<path class="s51" d="M458.9 168.7l1.7-3.9-1.4 0-1.7 3.8z"/>
<path class="s115" d="M570.8 108.9l1.7 2.8-1.5-3-1.6-2.8z"/>
<path class="s59" d="M586.3 161.4l1.6-.1-1.4-3.3-1.7 0z"/>
<path class="s75" d="M467.8 146.7l1.8-3.2-1.4 1.1-1.7 3z"/>
<path class="s63" d="M584.8 158l1.7 0-1.5-3.6-1.6-.2z"/>
<path class="s93" d="M481.4 128.3l1.8-1.3-1.3 2.1-1.8 1.1z"/>
<path class="s78" d="M469.6 143.5l1.7-2.9-1.3 1.3-1.8 2.7z"/>
<path class="s128" d="M563.3 96.7l1.7 3-1.5-1-1.7-3z"/>
<path class="s108" d="M573.7 116.3l1.7 2.4-1.4-3.7-1.7-2.6z"/>
<path class="s112" d="M572.3 112.4l1.7 2.6-1.5-3.3-1.7-2.8z"/>
<path class="s38" d="M455.1 180.6l1.7-3.7-1.3-.5-1.7 3.7z"/>
<path class="s56" d="M587.7 164.5l1.7-.3-1.5-2.9-1.6 .1z"/>
<path class="s47" d="M614.8 170l1.6 .4-1.5 .7-1.7-.4z"/>
<path class="s67" d="M583.4 154.2l1.6 .2-1.4-3.9-1.7-.5z"/>
<path class="s133" d="M537.7 90.7l1.8 .9-1.5 3.5-1.7-.9z"/>
<path class="s114" d="M509.5 109l1.8-.3-1.4 3.5-1.7 0z"/>
<path class="s130" d="M532.8 93.1l1.7 .4-1.4 3.9-1.8-.5z"/>
<path class="s86" d="M579.3 137.1l1.6 1.2-1.4-4.5-1.7-1.4z"/>
<path class="s103" d="M493 119.4l1.8-.5-1.4 2.6-1.8 .3z"/>
<path class="s19" d="M447.9 198l1.7-2.9-1.4-.9-1.7 3z"/>
<path class="s16" d="M446.1 200.8l1.8-2.8-1.4-.8-1.7 2.7z"/>
<path class="s47" d="M597 171.1l1.7-.4-1.5-1-1.7 .3z"/>
<path class="s56" d="M460.6 164.8l1.7-3.9-1.4 .1-1.7 3.8z"/>
<path class="s22" d="M449.6 195.1l1.7-3.2-1.3-.8-1.8 3.1z"/>
<path class="s47" d="M600.2 171.4l1.7-.4-1.5-.5-1.7 .2z"/>
<path class="s123" d="M521.2 100.6l1.7-.2-1.4 3.9-1.7 .1z"/>
<path class="s136" d="M545.8 88.4l1.8 1.8-1.5 2.5-1.7-1.7z"/>
<path class="s53" d="M589.2 167.1l1.7-.4-1.5-2.5-1.7 .3z"/>
<path class="s13" d="M444.4 203.4l1.7-2.6-1.3-.9-1.8 2.6z"/>
<path class="s26" d="M451.3 191.9l1.8-3.3-1.4-.8-1.7 3.3z"/>
<path class="s43" d="M456.8 176.9l1.7-3.9-1.3-.4-1.7 3.8z"/>
<path class="s72" d="M581.9 150l1.7 .5-1.5-4.3-1.6-.6z"/>
<path class="s47" d="M603.5 171.3l1.6-.3-1.5-.1-1.7 .1z"/>
<path class="s49" d="M593.9 170.5l1.6-.5-1.5-1.6-1.6 .4z"/>
<path class="s48" d="M618 169.7l1.6 .5-1.5 .8-1.7-.6z"/>
<path class="s134" d="M555.4 90.1l1.7 2.6-1.4 .9-1.7-2.6z"/>
<path class="s106" d="M497.9 116.1l1.8-.3-1.4 2.8-1.7 .1z"/>
<path class="s10" d="M442.6 205.8l1.8-2.4-1.4-.9-1.7 2.4z"/>
<path class="s92" d="M479.6 129.9l1.8-1.6-1.3 1.9-1.8 1.5z"/>
<path class="s30" d="M453.1 188.6l1.7-3.6-1.4-.7-1.7 3.5z"/>
<path class="s92" d="M577.8 132.4l1.7 1.4-1.4-4.6-1.7-1.5z"/>
<path class="s60" d="M462.3 160.9l1.7-3.9-1.3 .2-1.8 3.8z"/>
<path class="s99" d="M486.3 123.8l1.8-.9-1.4 2.3-1.7 .7z"/>
<path class="s47" d="M606.7 170.9l1.6-.1-1.5 .2-1.7 0z"/>
<path class="s48" d="M621.2 169.4l1.7 .8-1.6 .8-1.7-.8z"/>
<path class="s118" d="M514.5 105.1l1.7-.4-1.4 3.7-1.7 .1z"/>
<path class="s137" d="M549 88.1l1.8 2-1.5 2.1-1.7-2z"/>
<path class="s136" d="M552.2 88.7l1.8 2.3-1.5 1.4-1.7-2.3z"/>
<path class="s51" d="M590.7 169.3l1.7-.5-1.5-2.1-1.7 .4z"/>
<path class="s77" d="M580.5 145.6l1.6 .6-1.4-4.4-1.7-.8z"/>
<path class="s47" d="M458.5 173l1.7-4-1.3-.3-1.7 3.9z"/>
<path class="s110" d="M502.8 112.8l1.8-.3-1.3 3-1.8 .1z"/>
<path class="s127" d="M564.8 98.3l1.6 2.9-1.4-1.5-1.7-3z"/>
<path class="s34" d="M454.8 185l1.7-3.7-1.4-.7-1.7 3.7z"/>
<path class="s48" d="M624.4 169.4l1.7 .9-1.6 .8-1.6-.9z"/>
<path class="s128" d="M526.1 96.5l1.7 0-1.4 3.9-1.7-.1z"/>
<path class="s65" d="M464 157l1.7-3.8-1.3 .4-1.7 3.6z"/>
<path class="s47" d="M630.9 170.1l1.6 1.4-1.6 .5-1.6-1.2z"/>
<path class="s48" d="M627.7 169.6l1.6 1.2-1.6 .7-1.6-1.2z"/>
<path class="s91" d="M477.9 131.9l1.7-2-1.3 1.8-1.8 1.8z"/>
<path class="s48" d="M609.9 170.4l1.7 0-1.6 .5-1.7-.1z"/>
<path class="s60" d="M584.6 161.7l1.7-.3-1.5-3.4-1.7 .1z"/>
<path class="s97" d="M576.4 127.7l1.7 1.5-1.5-4.4-1.6-1.8z"/>
<path class="s56" d="M586 164.9l1.7-.4-1.4-3.1-1.7 .3z"/>
<path class="s64" d="M583.1 158.1l1.7-.1-1.4-3.8-1.7-.1z"/>
<path class="s133" d="M560.1 92.9l1.7 2.8-1.5-.4-1.7-2.8z"/>
<path class="s103" d="M491.2 120l1.8-.6-1.4 2.4-1.7 .4z"/>
<path class="s52" d="M460.2 169l1.7-4-1.3-.2-1.7 3.9z"/>
<path class="s39" d="M456.5 181.3l1.7-3.8-1.4-.6-1.7 3.7z"/>
<path class="s114" d="M507.8 109.3l1.7-.3-1.3 3.2-1.8 .1z"/>
<path class="s136" d="M540.9 88.5l1.7 1.1-1.4 3.1-1.7-1.1z"/>
<path class="s48" d="M595.4 171.8l1.6-.7-1.5-1.1-1.6 .5z"/>
<path class="s83" d="M579 141l1.7 .8-1.4-4.7-1.7-1z"/>
<path class="s19" d="M449.2 199l1.8-3-1.4-.9-1.7 2.9z"/>
<path class="s69" d="M465.7 153.2l1.7-3.7-1.3 .5-1.7 3.6z"/>
<path class="s16" d="M447.5 201.7l1.7-2.7-1.3-1-1.8 2.8z"/>
<path class="s47" d="M598.6 171.9l1.6-.5-1.5-.7-1.7 .4z"/>
<path class="s22" d="M451 196l1.7-3.2-1.4-.9-1.7 3.2z"/>
<path class="s53" d="M587.5 167.7l1.7-.6-1.5-2.6-1.7 .4z"/>
<path class="s69" d="M581.7 154.1l1.7 .1-1.5-4.2-1.7-.2z"/>
<path class="s13" d="M445.7 204.3l1.8-2.6-1.4-.9-1.7 2.6z"/>
<path class="s49" d="M592.2 171.1l1.7-.6-1.5-1.7-1.7 .5z"/>
<path class="s89" d="M476.1 134.1l1.8-2.2-1.4 1.6-1.7 2z"/>
<path class="s123" d="M519.4 100.9l1.8-.3-1.4 3.8-1.8 .1z"/>
<path class="s49" d="M613.1 169.8l1.7 .2-1.6 .7-1.6-.3z"/>
<path class="s98" d="M484.5 125.1l1.8-1.3-1.3 2.1-1.8 1.1z"/>
<path class="s132" d="M531 92.9l1.8 .2-1.5 3.8-1.7-.3z"/>
<path class="s26" d="M452.7 192.8l1.7-3.4-1.3-.8-1.8 3.3z"/>
<path class="s47" d="M601.8 171.8l1.7-.5-1.6-.3-1.7 .4z"/>
<path class="s102" d="M575 123l1.6 1.8-1.4-4.4-1.7-2z"/>
<path class="s125" d="M566.2 100.5l1.7 2.8-1.5-2.1-1.6-2.9z"/>
<path class="s73" d="M467.4 149.5l1.8-3.5-1.4 .7-1.7 3.3z"/>
<path class="s107" d="M496.1 116.5l1.8-.4-1.3 2.6-1.8 .2z"/>
<path class="s10" d="M444 206.7l1.7-2.4-1.3-.9-1.8 2.4z"/>
<path class="s135" d="M536 90.1l1.7 .6-1.4 3.5-1.8-.7z"/>
<path class="s43" d="M458.2 177.5l1.7-4-1.4-.5-1.7 3.9z"/>
<path class="s87" d="M474.4 136.7l1.7-2.6-1.3 1.4-1.8 2.4z"/>
<path class="s57" d="M461.9 165l1.8-4.1-1.4 0-1.7 3.9z"/>
<path class="s77" d="M469.2 146l1.7-3.4-1.3 .9-1.8 3.2z"/>
<path class="s30" d="M454.4 189.4l1.7-3.5-1.3-.9-1.7 3.6z"/>
<path class="s51" d="M589 170l1.7-.7-1.5-2.2-1.7 .6z"/>
<path class="s74" d="M580.2 149.8l1.7 .2-1.4-4.4-1.7-.4z"/>
<path class="s84" d="M472.6 139.5l1.8-2.8-1.4 1.2-1.7 2.7z"/>
<path class="s81" d="M470.9 142.6l1.7-3.1-1.3 1.1-1.7 2.9z"/>
<path class="s119" d="M512.7 105.5l1.8-.4-1.4 3.4-1.8 .2z"/>
<path class="s89" d="M577.6 136.1l1.7 1-1.5-4.7-1.7-1.2z"/>
<path class="s48" d="M605 171.3l1.7-.4-1.6 .1-1.6 .3z"/>
<path class="s49" d="M616.4 169.3l1.6 .4-1.6 .7-1.6-.4z"/>
<path class="s108" d="M573.5 118.4l1.7 2-1.5-4.1-1.6-2.2z"/>
<path class="s111" d="M501.1 113.2l1.7-.4-1.3 2.8-1.8 .2z"/>
<path class="s123" d="M567.7 103.2l1.7 2.7-1.5-2.6-1.7-2.8z"/>
<path class="s34" d="M456.1 185.9l1.8-3.8-1.4-.8-1.7 3.7z"/>
<path class="s48" d="M459.9 173.5l1.7-4-1.4-.5-1.7 4z"/>
<path class="s136" d="M556.9 90l1.7 2.5-1.5 .2-1.7-2.6z"/>
<path class="s62" d="M463.7 160.9l1.7-4-1.4 .1-1.7 3.9z"/>
<path class="s103" d="M489.4 120.9l1.8-.9-1.3 2.2-1.8 .7z"/>
<path class="s112" d="M572.1 114.1l1.6 2.2-1.4-3.9-1.7-2.3z"/>
<path class="s139" d="M544.1 87l1.7 1.4-1.4 2.6-1.8-1.4z"/>
<path class="s128" d="M524.3 96.7l1.8-.2-1.4 3.8-1.8 .1z"/>
<path class="s97" d="M482.8 126.6l1.7-1.5-1.3 1.9-1.8 1.3z"/>
<path class="s60" d="M582.9 162.2l1.7-.5-1.5-3.6-1.7 .3z"/>
<path class="s57" d="M584.3 165.5l1.7-.6-1.4-3.2-1.7 .5z"/>
<path class="s120" d="M569.2 106.4l1.6 2.5-1.4-3-1.7-2.7z"/>
<path class="s50" d="M619.6 168.8l1.6 .6-1.6 .8-1.6-.5z"/>
<path class="s48" d="M593.7 172.6l1.7-.8-1.5-1.3-1.7 .6z"/>
<path class="s116" d="M570.6 110.1l1.7 2.3-1.5-3.5-1.6-2.5z"/>
<path class="s49" d="M608.2 170.6l1.7-.2-1.6 .4-1.6 .1z"/>
<path class="s79" d="M578.8 145.2l1.7 .4-1.5-4.6-1.7-.6z"/>
<path class="s48" d="M596.9 172.7l1.7-.8-1.6-.8-1.6 .7z"/>
<path class="s133" d="M561.6 94l1.7 2.7-1.5-1-1.7-2.8z"/>
<path class="s65" d="M581.4 158.4l1.7-.3-1.4-4-1.7 .2z"/>
<path class="s53" d="M585.8 168.4l1.7-.7-1.5-2.8-1.7 .6z"/>
<path class="s115" d="M506 109.7l1.8-.4-1.4 3-1.8 .2z"/>
<path class="s49" d="M590.5 172l1.7-.9-1.5-1.8-1.7 .7z"/>
<path class="s19" d="M450.6 199.9l1.7-3-1.3-.9-1.8 3z"/>
<path class="s16" d="M448.9 202.7l1.7-2.8-1.4-.9-1.7 2.7z"/>
<path class="s95" d="M576.1 131.2l1.7 1.2-1.4-4.7-1.7-1.4z"/>
<path class="s39" d="M457.9 182.1l1.7-3.9-1.4-.7-1.7 3.8z"/>
<path class="s22" d="M452.3 196.9l1.8-3.1-1.4-1-1.7 3.2z"/>
<path class="s13" d="M447.1 205.3l1.8-2.6-1.4-1-1.8 2.6z"/>
<path class="s124" d="M517.6 101.3l1.8-.4-1.4 3.6-1.8 .2z"/>
<path class="s51" d="M622.8 168.6l1.6 .8-1.5 .8-1.7-.8z"/>
<path class="s48" d="M600.1 172.4l1.7-.6-1.6-.4-1.6 .5z"/>
<path class="s66" d="M465.4 156.9l1.7-3.9-1.4 .2-1.7 3.8z"/>
<path class="s53" d="M461.6 169.5l1.7-4.1-1.4-.4-1.7 4z"/>
<path class="s26" d="M454.1 193.8l1.7-3.4-1.4-1-1.7 3.4z"/>
<path class="s107" d="M494.4 117.2l1.7-.7-1.3 2.4-1.8 .5z"/>
<path class="s70" d="M580 154.3l1.7-.2-1.5-4.3-1.7 .1z"/>
<path class="s139" d="M553.7 87.9l1.7 2.2-1.4 .9-1.8-2.3z"/>
<path class="s10" d="M445.3 207.7l1.8-2.4-1.4-1-1.7 2.4z"/>
<path class="s140" d="M547.3 86.4l1.7 1.7-1.4 2.1-1.8-1.8z"/>
<path class="s51" d="M587.3 171l1.7-1-1.5-2.3-1.7 .7z"/>
<path class="s96" d="M481 128.4l1.8-1.8-1.4 1.7-1.8 1.6z"/>
<path class="s51" d="M626 168.6l1.7 1-1.6 .7-1.7-.9z"/>
<path class="s49" d="M632.5 169.7l1.5 1.3-1.5 .5-1.6-1.4z"/>
<path class="s50" d="M611.5 169.9l1.6-.1-1.5 .6-1.7 0z"/>
<path class="s133" d="M529.3 92.9l1.7 0-1.4 3.7-1.8-.1z"/>
<path class="s50" d="M629.3 169l1.6 1.1-1.6 .7-1.6-1.2z"/>
<path class="s85" d="M577.3 140.4l1.7 .6-1.4-4.9-1.7-.7z"/>
<path class="s44" d="M459.6 178.2l1.7-4-1.4-.7-1.7 4z"/>
<path class="s30" d="M455.8 190.4l1.7-3.6-1.4-.9-1.7 3.5z"/>
<path class="s140" d="M550.5 86.7l1.7 2-1.4 1.4-1.8-2z"/>
<path class="s139" d="M539.2 87.6l1.7 .9-1.4 3.1-1.8-.9z"/>
<path class="s119" d="M510.9 105.9l1.8-.4-1.4 3.2-1.8 .3z"/>
<path class="s48" d="M603.3 171.9l1.7-.6-1.5 0-1.7 .5z"/>
<path class="s71" d="M467.1 153l1.7-3.8-1.4 .3-1.7 3.7z"/>
<path class="s100" d="M574.7 126.3l1.7 1.4-1.4-4.7-1.7-1.6z"/>
<path class="s103" d="M487.7 122l1.7-1.1-1.3 2-1.8 .9z"/>
<path class="s111" d="M499.3 113.7l1.8-.5-1.4 2.6-1.8 .3z"/>
<path class="s137" d="M534.2 89.7l1.8 .4-1.5 3.4-1.7-.4z"/>
<path class="s58" d="M463.3 165.4l1.7-4.2-1.3-.3-1.8 4.1z"/>
<path class="s75" d="M578.5 149.9l1.7-.1-1.4-4.6-1.7-.1z"/>
<path class="s48" d="M592 173.6l1.7-1-1.5-1.5-1.7 .9z"/>
<path class="s57" d="M582.6 166.3l1.7-.8-1.4-3.3-1.7 .6z"/>
<path class="s94" d="M479.2 130.6l1.8-2.2-1.4 1.5-1.7 2z"/>
<path class="s34" d="M457.5 186.8l1.7-3.8-1.3-.9-1.8 3.8z"/>
<path class="s61" d="M581.2 162.8l1.7-.6-1.5-3.8-1.7 .6z"/>
<path class="s47" d="M595.2 173.7l1.7-1-1.5-.9-1.7 .8z"/>
<path class="s132" d="M563.1 95.7l1.7 2.6-1.5-1.6-1.7-2.7z"/>
<path class="s51" d="M614.7 169.1l1.7 .2-1.6 .7-1.7-.2z"/>
<path class="s49" d="M588.7 173.1l1.8-1.1-1.5-2-1.7 1z"/>
<path class="s75" d="M468.8 149.2l1.7-3.7-1.3 .5-1.8 3.5z"/>
<path class="s53" d="M584.1 169.4l1.7-1-1.5-2.9-1.7 .8z"/>
<path class="s129" d="M522.6 97.1l1.7-.4-1.4 3.7-1.7 .2z"/>
<path class="s49" d="M461.3 174.2l1.7-4.1-1.4-.6-1.7 4z"/>
<path class="s50" d="M606.6 171.1l1.6-.5-1.5 .3-1.7 .4z"/>
<path class="s65" d="M579.7 159l1.7-.6-1.4-4.1-1.7 .4z"/>
<path class="s115" d="M504.2 110.2l1.8-.5-1.4 2.8-1.8 .3z"/>
<path class="s19" d="M452 200.9l1.7-2.9-1.4-1.1-1.7 3z"/>
<path class="s92" d="M477.5 133l1.7-2.4-1.3 1.3-1.8 2.2z"/>
<path class="s91" d="M575.9 135.4l1.7 .7-1.5-4.9-1.6-.9z"/>
<path class="s16" d="M450.2 203.7l1.8-2.8-1.4-1-1.7 2.8z"/>
<path class="s48" d="M598.4 173.3l1.7-.9-1.5-.5-1.7 .8z"/>
<path class="s79" d="M470.5 145.5l1.8-3.5-1.4 .6-1.7 3.4z"/>
<path class="s106" d="M573.3 121.4l1.7 1.6-1.5-4.6-1.7-1.7z"/>
<path class="s137" d="M558.4 90.4l1.7 2.5-1.5-.4-1.7-2.5z"/>
<path class="s22" d="M453.7 198l1.7-3.2-1.3-1-1.8 3.1z"/>
<path class="s63" d="M465 161.2l1.7-4.1-1.3-.2-1.7 4z"/>
<path class="s39" d="M459.2 183l1.7-3.9-1.3-.9-1.7 3.9z"/>
<path class="s51" d="M585.6 172.1l1.7-1.1-1.5-2.6-1.7 1z"/>
<path class="s107" d="M492.6 118l1.8-.8-1.4 2.2-1.8 .6z"/>
<path class="s13" d="M448.5 206.3l1.7-2.6-1.3-1-1.8 2.6z"/>
<path class="s124" d="M515.9 101.9l1.7-.6-1.4 3.4-1.7 .4z"/>
<path class="s90" d="M475.7 135.7l1.8-2.7-1.4 1.1-1.7 2.6z"/>
<path class="s83" d="M472.3 142l1.7-3.2-1.4 .7-1.7 3.1z"/>
<path class="s81" d="M577.1 145.1l1.7 .1-1.5-4.8-1.7-.3z"/>
<path class="s52" d="M617.9 168.5l1.7 .3-1.6 .9-1.6-.4z"/>
<path class="s26" d="M455.4 194.8l1.8-3.4-1.4-1-1.7 3.4z"/>
<path class="s87" d="M474 138.8l1.7-3.1-1.3 1-1.8 2.8z"/>
<path class="s102" d="M485.9 123.5l1.8-1.5-1.4 1.8-1.8 1.3z"/>
<path class="s10" d="M446.7 208.7l1.8-2.4-1.4-1-1.8 2.4z"/>
<path class="s71" d="M578.3 154.7l1.7-.4-1.5-4.4-1.7 .2z"/>
<path class="s54" d="M463 170.1l1.7-4.2-1.4-.5-1.7 4.1z"/>
<path class="s130" d="M564.5 97.9l1.7 2.6-1.4-2.2-1.7-2.6z"/>
<path class="s142" d="M542.4 85.9l1.7 1.1-1.5 2.6-1.7-1.1z"/>
<path class="s49" d="M601.6 172.7l1.7-.8-1.5-.1-1.7 .6z"/>
<path class="s30" d="M457.2 191.4l1.7-3.6-1.4-1-1.7 3.6z"/>
<path class="s111" d="M571.8 116.7l1.7 1.7-1.4-4.3-1.7-1.9z"/>
<path class="s47" d="M590.2 174.8l1.8-1.2-1.5-1.6-1.8 1.1z"/>
<path class="s51" d="M609.8 170.2l1.7-.3-1.6 .5-1.7 .2z"/>
<path class="s134" d="M527.5 93.1l1.8-.2-1.5 3.6-1.7 0z"/>
<path class="s120" d="M509.2 106.5l1.7-.6-1.4 3.1-1.7 .3z"/>
<path class="s44" d="M460.9 179.1l1.8-4-1.4-.9-1.7 4z"/>
<path class="s68" d="M466.7 157.1l1.7-4-1.3-.1-1.7 3.9z"/>
<path class="s48" d="M587 174.3l1.7-1.2-1.4-2.1-1.7 1.1z"/>
<path class="s112" d="M497.5 114.4l1.8-.7-1.4 2.4-1.8 .4z"/>
<path class="s47" d="M593.5 174.8l1.7-1.1-1.5-1.1-1.7 1z"/>
<path class="s57" d="M580.9 167.3l1.7-1-1.4-3.5-1.8 .9z"/>
<path class="s53" d="M621.2 168l1.6 .6-1.6 .8-1.6-.6z"/>
<path class="s53" d="M582.4 170.5l1.7-1.1-1.5-3.1-1.7 1z"/>
<path class="s97" d="M574.5 130.3l1.6 .9-1.4-4.9-1.7-1.1z"/>
<path class="s61" d="M579.4 163.7l1.8-.9-1.5-3.8-1.7 .7z"/>
<path class="s34" d="M458.9 187.8l1.7-3.8-1.4-1-1.7 3.8z"/>
<path class="s116" d="M570.4 112.2l1.7 1.9-1.5-4-1.7-2.1z"/>
<path class="s128" d="M566 100.8l1.7 2.4-1.5-2.7-1.7-2.6z"/>
<path class="s87" d="M575.6 140.1l1.7 .3-1.4-5-1.7-.5z"/>
<path class="s76" d="M576.8 150.1l1.7-.2-1.4-4.8-1.7 .1z"/>
<path class="s101" d="M484.1 125.2l1.8-1.7-1.4 1.6-1.7 1.5z"/>
<path class="s141" d="M555.2 87.7l1.7 2.3-1.5 .1-1.7-2.2z"/>
<path class="s48" d="M596.7 174.4l1.7-1.1-1.5-.6-1.7 1z"/>
<path class="s50" d="M583.8 173.3l1.8-1.2-1.5-2.7-1.7 1.1z"/>
<path class="s53" d="M624.4 167.8l1.6 .8-1.6 .8-1.6-.8z"/>
<path class="s130" d="M520.8 97.6l1.8-.5-1.4 3.5-1.8 .3z"/>
<path class="s59" d="M464.7 165.9l1.7-4.2-1.4-.5-1.7 4.2z"/>
<path class="s51" d="M634 169.4l1.6 1.4-1.6 .2-1.5-1.3z"/>
<path class="s138" d="M532.5 89.6l1.7 .1-1.4 3.4-1.8-.2z"/>
<path class="s141" d="M537.4 87.1l1.8 .5-1.5 3.1-1.7-.6z"/>
<path class="s107" d="M490.8 119.1l1.8-1.1-1.4 2-1.8 .9z"/>
<path class="s50" d="M604.9 171.8l1.7-.7-1.6 .2-1.7 .6z"/>
<path class="s66" d="M578 159.7l1.7-.7-1.4-4.3-1.8 .6z"/>
<path class="s121" d="M568.9 108l1.7 2.1-1.4-3.7-1.7-2.2z"/>
<path class="s72" d="M468.4 153.1l1.8-4-1.4 .1-1.7 3.8z"/>
<path class="s125" d="M567.5 104.2l1.7 2.2-1.5-3.2-1.7-2.4z"/>
<path class="s116" d="M502.4 110.8l1.8-.6-1.4 2.6-1.7 .4z"/>
<path class="s49" d="M462.7 175.1l1.7-4.2-1.4-.8-1.7 4.1z"/>
<path class="s52" d="M613 169.2l1.7-.1-1.6 .7-1.6 .1z"/>
<path class="s53" d="M627.6 168l1.7 1-1.6 .6-1.7-1z"/>
<path class="s19" d="M453.4 202l1.7-3-1.4-1-1.7 2.9z"/>
<path class="s52" d="M630.8 168.5l1.7 1.2-1.6 .4-1.6-1.1z"/>
<path class="s15" d="M451.6 204.7l1.8-2.7-1.4-1.1-1.8 2.8z"/>
<path class="s143" d="M545.6 85l1.7 1.4-1.5 2-1.7-1.4z"/>
<path class="s22" d="M455.1 199l1.7-3.2-1.4-1-1.7 3.2z"/>
<path class="s125" d="M514.1 102.5l1.8-.6-1.4 3.2-1.8 .4z"/>
<path class="s137" d="M559.9 91.5l1.7 2.5-1.5-1.1-1.7-2.5z"/>
<path class="s39" d="M460.6 184l1.7-3.9-1.4-1-1.7 3.9z"/>
<path class="s13" d="M449.8 207.3l1.8-2.6-1.4-1-1.7 2.6z"/>
<path class="s47" d="M588.5 176.2l1.7-1.4-1.5-1.7-1.7 1.2z"/>
<path class="s26" d="M456.8 195.8l1.8-3.3-1.4-1.1-1.8 3.4z"/>
<path class="s48" d="M585.3 175.7l1.7-1.4-1.4-2.2-1.8 1.2z"/>
<path class="s103" d="M573 125.2l1.7 1.1-1.4-4.9-1.7-1.3z"/>
<path class="s143" d="M552 85.9l1.7 2-1.5 .8-1.7-2z"/>
<path class="s48" d="M599.9 173.7l1.7-1-1.5-.3-1.7 .9z"/>
<path class="s46" d="M591.7 176.2l1.8-1.4-1.5-1.2-1.8 1.2z"/>
<path class="s99" d="M482.3 127.2l1.8-2-1.3 1.4-1.8 1.8z"/>
<path class="s77" d="M470.2 149.1l1.7-3.8-1.4 .2-1.7 3.7z"/>
<path class="s10" d="M448.1 209.7l1.7-2.4-1.3-1-1.8 2.4z"/>
<path class="s144" d="M548.8 85l1.7 1.7-1.5 1.4-1.7-1.7z"/>
<path class="s56" d="M579.2 168.5l1.7-1.2-1.5-3.6-1.7 1z"/>
<path class="s71" d="M576.5 155.3l1.8-.6-1.5-4.6-1.7 .5z"/>
<path class="s52" d="M580.6 171.8l1.8-1.3-1.5-3.2-1.7 1.2z"/>
<path class="s64" d="M466.4 161.7l1.7-4.2-1.4-.4-1.7 4.1z"/>
<path class="s82" d="M575.4 145.2l1.7-.1-1.5-5-1.7 0z"/>
<path class="s30" d="M458.6 192.5l1.7-3.6-1.4-1.1-1.7 3.6z"/>
<path class="s112" d="M495.7 115.3l1.8-.9-1.4 2.1-1.7 .7z"/>
<path class="s120" d="M507.4 107.1l1.8-.6-1.4 2.8-1.8 .4z"/>
<path class="s93" d="M574.2 134.9l1.7 .5-1.4-5.1-1.7-.6z"/>
<path class="s61" d="M577.7 164.7l1.7-1-1.4-4-1.7 .9z"/>
<path class="s54" d="M464.4 170.9l1.7-4.2-1.4-.8-1.7 4.2z"/>
<path class="s51" d="M608.1 170.7l1.7-.5-1.6 .4-1.6 .5z"/>
<path class="s53" d="M616.3 168.4l1.6 .1-1.5 .8-1.7-.2z"/>
<path class="s49" d="M582.1 174.7l1.7-1.4-1.4-2.8-1.8 1.3z"/>
<path class="s135" d="M525.7 93.4l1.8-.3-1.4 3.4-1.8 .2z"/>
<path class="s44" d="M462.3 180.1l1.7-4-1.3-1-1.8 4z"/>
<path class="s47" d="M595 175.7l1.7-1.3-1.5-.7-1.7 1.1z"/>
<path class="s81" d="M471.9 145.3l1.7-3.6-1.3 .3-1.8 3.5z"/>
<path class="s97" d="M480.6 129.5l1.7-2.3-1.3 1.2-1.8 2.2z"/>
<path class="s107" d="M489 120.5l1.8-1.4-1.4 1.8-1.7 1.1z"/>
<path class="s34" d="M460.3 188.9l1.7-3.8-1.4-1.1-1.7 3.8z"/>
<path class="s46" d="M586.8 177.7l1.7-1.5-1.5-1.9-1.7 1.4z"/>
<path class="s109" d="M571.6 120.1l1.7 1.3-1.5-4.7-1.7-1.5z"/>
<path class="s66" d="M576.3 160.6l1.7-.9-1.5-4.4-1.7 .8z"/>
<path class="s85" d="M473.6 141.7l1.7-3.5-1.3 .6-1.7 3.2z"/>
<path class="s50" d="M603.2 172.7l1.7-.9-1.6 .1-1.7 .8z"/>
<path class="s130" d="M519 98.3l1.8-.7-1.4 3.3-1.8 .4z"/>
<path class="s95" d="M478.8 132.2l1.8-2.7-1.4 1.1-1.7 2.4z"/>
<path class="s69" d="M468.1 157.5l1.7-4.1-1.4-.3-1.7 4z"/>
<path class="s47" d="M583.6 177.2l1.7-1.5-1.5-2.4-1.7 1.4z"/>
<path class="s77" d="M575.1 150.6l1.7-.5-1.4-4.9-1.7 .3z"/>
<path class="s116" d="M500.7 111.6l1.7-.8-1.3 2.4-1.8 .5z"/>
<path class="s46" d="M590 177.7l1.7-1.5-1.5-1.4-1.7 1.4z"/>
<path class="s89" d="M475.3 138.2l1.8-3.1-1.4 .6-1.7 3.1z"/>
<path class="s92" d="M477.1 135.1l1.7-2.9-1.3 .8-1.8 2.7z"/>
<path class="s137" d="M561.4 93.3l1.7 2.4-1.5-1.7-1.7-2.5z"/>
<path class="s144" d="M540.6 85.1l1.8 .8-1.5 2.6-1.7-.9z"/>
<path class="s54" d="M619.5 167.7l1.7 .3-1.6 .8-1.7-.3z"/>
<path class="s18" d="M454.7 203.1l1.8-3-1.4-1.1-1.7 3z"/>
<path class="s52" d="M578.9 173.2l1.7-1.4-1.4-3.3-1.7 1.3z"/>
<path class="s59" d="M466.1 166.7l1.7-4.3-1.4-.7-1.7 4.2z"/>
<path class="s48" d="M598.2 174.9l1.7-1.2-1.5-.4-1.7 1.1z"/>
<path class="s15" d="M453 205.8l1.7-2.7-1.3-1.1-1.8 2.7z"/>
<path class="s49" d="M464 176.1l1.8-4.2-1.4-1-1.7 4.2z"/>
<path class="s56" d="M577.5 169.8l1.7-1.3-1.5-3.8-1.7 1.2z"/>
<path class="s125" d="M512.3 103.2l1.8-.7-1.4 3-1.8 .4z"/>
<path class="s22" d="M456.5 200.1l1.7-3.1-1.4-1.2-1.7 3.2z"/>
<path class="s139" d="M530.7 89.7l1.8-.1-1.5 3.3-1.7 0z"/>
<path class="s88" d="M573.9 140.1l1.7 0-1.4-5.2-1.7-.2z"/>
<path class="s53" d="M611.4 169.6l1.6-.4-1.5 .7-1.7 .3z"/>
<path class="s39" d="M462 185.1l1.7-3.9-1.4-1.1-1.7 3.9z"/>
<path class="s48" d="M580.4 176.2l1.7-1.5-1.5-2.9-1.7 1.4z"/>
<path class="s142" d="M556.7 88.2l1.7 2.2-1.5-.4-1.7-2.3z"/>
<path class="s100" d="M572.8 129.7l1.7 .6-1.5-5.1-1.7-.8z"/>
<path class="s12" d="M451.2 208.3l1.8-2.5-1.4-1.1-1.8 2.6z"/>
<path class="s25" d="M458.2 197l1.8-3.4-1.4-1.1-1.8 3.3z"/>
<path class="s46" d="M593.3 177.2l1.7-1.5-1.5-.9-1.8 1.4z"/>
<path class="s60" d="M576 165.9l1.7-1.2-1.4-4.1-1.7 1.1z"/>
<path class="s143" d="M535.7 86.8l1.7 .3-1.4 3-1.8-.4z"/>
<path class="s106" d="M487.2 122.1l1.8-1.6-1.3 1.5-1.8 1.5z"/>
<path class="s71" d="M574.8 156.1l1.7-.8-1.4-4.7-1.7 .7z"/>
<path class="s111" d="M493.9 116.3l1.8-1-1.3 1.9-1.8 .8z"/>
<path class="s115" d="M570.1 115.2l1.7 1.5-1.4-4.5-1.7-1.7z"/>
<path class="s73" d="M469.8 153.4l1.7-4.1-1.3-.2-1.8 4z"/>
<path class="s55" d="M622.8 167.3l1.6 .5-1.6 .8-1.6-.6z"/>
<path class="s10" d="M449.5 210.7l1.7-2.4-1.4-1-1.7 2.4z"/>
<path class="s53" d="M635.6 169.3l1.6 1.4-1.6 .1-1.6-1.4z"/>
<path class="s45" d="M585.1 179.3l1.7-1.6-1.5-2-1.7 1.5z"/>
<path class="s120" d="M505.6 107.9l1.8-.8-1.4 2.6-1.8 .5z"/>
<path class="s29" d="M460 193.6l1.7-3.5-1.4-1.2-1.7 3.6z"/>
<path class="s45" d="M581.9 178.8l1.7-1.6-1.5-2.5-1.7 1.5z"/>
<path class="s52" d="M606.4 171.5l1.7-.8-1.5 .4-1.7 .7z"/>
<path class="s44" d="M588.3 179.3l1.7-1.6-1.5-1.5-1.7 1.5z"/>
<path class="s135" d="M562.8 95.7l1.7 2.2-1.4-2.2-1.7-2.4z"/>
<path class="s83" d="M573.7 145.5l1.7-.3-1.5-5.1-1.7 .2z"/>
<path class="s55" d="M626 167.2l1.6 .8-1.6 .6-1.6-.8z"/>
<path class="s64" d="M467.8 162.4l1.7-4.3-1.4-.6-1.7 4.2z"/>
<path class="s135" d="M524 94l1.7-.6-1.4 3.3-1.7 .4z"/>
<path class="s44" d="M463.7 181.2l1.7-4.1-1.4-1-1.7 4z"/>
<path class="s54" d="M465.8 171.9l1.7-4.3-1.4-.9-1.7 4.2z"/>
<path class="s54" d="M632.4 168.2l1.6 1.2-1.5 .3-1.7-1.2z"/>
<path class="s65" d="M574.6 161.7l1.7-1.1-1.5-4.5-1.7 1z"/>
<path class="s50" d="M601.5 173.8l1.7-1.1-1.6 0-1.7 1z"/>
<path class="s51" d="M577.2 174.7l1.7-1.5-1.4-3.4-1.8 1.4z"/>
<path class="s55" d="M629.2 167.5l1.6 1-1.5 .5-1.7-1z"/>
<path class="s120" d="M568.7 110.5l1.7 1.7-1.5-4.2-1.7-1.8z"/>
<path class="s146" d="M543.8 83.9l1.8 1.1-1.5 2-1.7-1.1z"/>
<path class="s54" d="M614.6 168.5l1.7-.1-1.6 .7-1.7 .1z"/>
<path class="s55" d="M575.7 171.2l1.8-1.4-1.5-3.9-1.7 1.4z"/>
<path class="s47" d="M596.5 176.4l1.7-1.5-1.5-.5-1.7 1.3z"/>
<path class="s34" d="M461.7 190.1l1.7-3.8-1.4-1.2-1.7 3.8z"/>
<path class="s47" d="M578.7 177.9l1.7-1.7-1.5-3-1.7 1.5z"/>
<path class="s78" d="M471.5 149.3l1.8-3.9-1.4-.1-1.7 3.8z"/>
<path class="s130" d="M517.3 99l1.7-.7-1.4 3-1.7 .6z"/>
<path class="s104" d="M485.5 124l1.7-1.9-1.3 1.4-1.8 1.7z"/>
<path class="s116" d="M498.9 112.5l1.8-.9-1.4 2.1-1.8 .7z"/>
<path class="s95" d="M572.5 134.7l1.7 .2-1.4-5.2-1.8-.4z"/>
<path class="s45" d="M591.5 178.9l1.8-1.7-1.6-1-1.7 1.5z"/>
<path class="s145" d="M553.5 85.8l1.7 1.9-1.5 .2-1.7-2z"/>
<path class="s106" d="M571.3 124.4l1.7 .8-1.4-5.1-1.7-1z"/>
<path class="s77" d="M573.4 151.3l1.7-.7-1.4-5.1-1.8 .6z"/>
<path class="s132" d="M564.3 98.7l1.7 2.1-1.5-2.9-1.7-2.2z"/>
<path class="s43" d="M583.4 181.1l1.7-1.8-1.5-2.1-1.7 1.6z"/>
<path class="s125" d="M567.2 106.2l1.7 1.8-1.4-3.8-1.7-2z"/>
<path class="s59" d="M574.3 167.3l1.7-1.4-1.4-4.2-1.8 1.3z"/>
<path class="s44" d="M580.1 180.6l1.8-1.8-1.5-2.6-1.7 1.7z"/>
<path class="s125" d="M510.6 104l1.7-.8-1.4 2.7-1.7 .6z"/>
<path class="s129" d="M565.8 102.2l1.7 2-1.5-3.4-1.7-2.1z"/>
<path class="s18" d="M456.1 204.1l1.8-2.9-1.4-1.1-1.8 3z"/>
<path class="s111" d="M492.2 117.7l1.7-1.4-1.3 1.7-1.8 1.1z"/>
<path class="s43" d="M586.6 181.1l1.7-1.8-1.5-1.6-1.7 1.6z"/>
<path class="s21" d="M457.9 201.2l1.7-3.1-1.4-1.1-1.7 3.1z"/>
<path class="s15" d="M454.4 206.9l1.7-2.8-1.4-1-1.7 2.7z"/>
<path class="s49" d="M465.4 177.1l1.8-4.1-1.4-1.1-1.8 4.2z"/>
<path class="s83" d="M473.3 145.4l1.7-3.8-1.4 .1-1.7 3.6z"/>
<path class="s69" d="M469.5 158.1l1.7-4.2-1.4-.5-1.7 4.1z"/>
<path class="s38" d="M463.4 186.3l1.7-3.9-1.4-1.2-1.7 3.9z"/>
<path class="s147" d="M547.1 83.6l1.7 1.4-1.5 1.4-1.7-1.4z"/>
<path class="s71" d="M573.1 157.1l1.7-1-1.4-4.8-1.7 .9z"/>
<path class="s59" d="M467.5 167.6l1.7-4.3-1.4-.9-1.7 4.3z"/>
<path class="s53" d="M609.7 170.2l1.7-.6-1.6 .6-1.7 .5z"/>
<path class="s147" d="M550.3 84.2l1.7 1.7-1.5 .8-1.7-1.7z"/>
<path class="s102" d="M483.7 126.3l1.8-2.3-1.4 1.2-1.8 2z"/>
<path class="s25" d="M459.6 198.1l1.7-3.3-1.3-1.2-1.8 3.4z"/>
<path class="s140" d="M528.9 90l1.8-.3-1.4 3.2-1.8 .2z"/>
<path class="s12" d="M452.6 209.4l1.8-2.5-1.4-1.1-1.8 2.5z"/>
<path class="s49" d="M575.5 176.4l1.7-1.7-1.5-3.5-1.7 1.6z"/>
<path class="s142" d="M558.2 89.4l1.7 2.1-1.5-1.1-1.7-2.2z"/>
<path class="s56" d="M617.9 167.6l1.6 .1-1.6 .8-1.6-.1z"/>
<path class="s46" d="M576.9 179.6l1.8-1.7-1.5-3.2-1.7 1.7z"/>
<path class="s89" d="M572.2 140.3l1.7-.2-1.4-5.4-1.7 .1z"/>
<path class="s120" d="M503.8 108.8l1.8-.9-1.4 2.3-1.8 .6z"/>
<path class="s51" d="M604.7 172.5l1.7-1-1.5 .3-1.7 .9z"/>
<path class="s46" d="M594.8 178l1.7-1.6-1.5-.7-1.7 1.5z"/>
<path class="s54" d="M574 172.8l1.7-1.6-1.4-3.9-1.8 1.5z"/>
<path class="s49" d="M599.7 175.2l1.8-1.4-1.6-.1-1.7 1.2z"/>
<path class="s87" d="M475 141.6l1.7-3.6-1.4 .2-1.7 3.5z"/>
<path class="s44" d="M589.8 180.7l1.7-1.8-1.5-1.2-1.7 1.6z"/>
<path class="s65" d="M572.8 163l1.8-1.3-1.5-4.6-1.7 1.2z"/>
<path class="s29" d="M461.3 194.8l1.8-3.5-1.4-1.2-1.7 3.5z"/>
<path class="s10" d="M450.8 211.7l1.8-2.3-1.4-1.1-1.7 2.4z"/>
<path class="s42" d="M581.6 182.9l1.8-1.8-1.5-2.3-1.8 1.8z"/>
<path class="s146" d="M538.9 84.6l1.7 .5-1.4 2.5-1.8-.5z"/>
<path class="s100" d="M482 128.8l1.7-2.5-1.4 .9-1.7 2.3z"/>
<path class="s43" d="M578.4 182.4l1.7-1.8-1.4-2.7-1.8 1.7z"/>
<path class="s112" d="M569.9 119.1l1.7 1-1.5-4.9-1.7-1.1z"/>
<path class="s144" d="M533.9 86.8l1.8 0-1.5 2.9-1.7-.1z"/>
<path class="s42" d="M584.8 183l1.8-1.9-1.5-1.8-1.7 1.8z"/>
<path class="s135" d="M522.2 94.7l1.8-.7-1.4 3.1-1.8 .5z"/>
<path class="s43" d="M465.1 182.4l1.7-4.1-1.4-1.2-1.7 4.1z"/>
<path class="s91" d="M476.7 138l1.8-3.3-1.4 .4-1.8 3.1z"/>
<path class="s83" d="M571.9 146.1l1.8-.6-1.5-5.2-1.7 .4z"/>
<path class="s101" d="M571 129.3l1.8 .4-1.5-5.3-1.7-.6z"/>
<path class="s97" d="M480.2 131.6l1.8-2.8-1.4 .7-1.8 2.7z"/>
<path class="s74" d="M471.2 153.9l1.7-4.2-1.4-.4-1.7 4.1z"/>
<path class="s59" d="M572.5 168.8l1.8-1.5-1.5-4.3-1.7 1.4z"/>
<path class="s54" d="M467.2 173l1.7-4.3-1.4-1.1-1.7 4.3z"/>
<path class="s94" d="M478.5 134.7l1.7-3.1-1.4 .6-1.7 2.9z"/>
<path class="s116" d="M497.1 113.6l1.8-1.1-1.4 1.9-1.8 .9z"/>
<path class="s110" d="M490.4 119.2l1.8-1.5-1.4 1.4-1.8 1.4z"/>
<path class="s130" d="M515.5 99.9l1.8-.9-1.4 2.9-1.8 .6z"/>
<path class="s33" d="M463.1 191.3l1.7-3.7-1.4-1.3-1.7 3.8z"/>
<path class="s64" d="M469.2 163.3l1.7-4.4-1.4-.8-1.7 4.3z"/>
<path class="s57" d="M621.1 167l1.7 .3-1.6 .7-1.7-.3z"/>
<path class="s48" d="M573.7 178.1l1.8-1.7-1.5-3.6-1.7 1.6z"/>
<path class="s77" d="M571.7 152.2l1.7-.9-1.5-5.2-1.7 .8z"/>
<path class="s44" d="M575.2 181.4l1.7-1.8-1.4-3.2-1.8 1.7z"/>
<path class="s54" d="M637.2 169.5l1.6 1.4-1.6-.2-1.6-1.4z"/>
<path class="s55" d="M612.9 169l1.7-.5-1.6 .7-1.6 .4z"/>
<path class="s42" d="M588.1 182.6l1.7-1.9-1.5-1.4-1.7 1.8z"/>
<path class="s40" d="M579.9 184.8l1.7-1.9-1.5-2.3-1.7 1.8z"/>
<path class="s45" d="M593 179.8l1.8-1.8-1.5-.8-1.8 1.7z"/>
<path class="s125" d="M508.8 104.9l1.8-.9-1.4 2.5-1.8 .6z"/>
<path class="s52" d="M572.3 174.4l1.7-1.6-1.5-4-1.7 1.6z"/>
<path class="s71" d="M571.4 158.3l1.7-1.2-1.4-4.9-1.8 1z"/>
<path class="s41" d="M576.7 184.3l1.7-1.9-1.5-2.8-1.7 1.8z"/>
<path class="s40" d="M583.1 185l1.7-2-1.4-1.9-1.8 1.8z"/>
<path class="s48" d="M598 176.8l1.7-1.6-1.5-.3-1.7 1.5z"/>
<path class="s18" d="M457.5 205.2l1.8-2.8-1.4-1.2-1.8 2.9z"/>
<path class="s141" d="M559.6 91.3l1.8 2-1.5-1.8-1.7-2.1z"/>
<path class="s64" d="M571.1 164.4l1.7-1.4-1.4-4.7-1.8 1.3z"/>
<path class="s48" d="M466.8 178.3l1.8-4.1-1.4-1.2-1.8 4.1z"/>
<path class="s21" d="M459.3 202.4l1.7-3.1-1.4-1.2-1.7 3.1z"/>
<path class="s38" d="M464.8 187.6l1.7-3.9-1.4-1.3-1.7 3.9z"/>
<path class="s57" d="M624.4 166.7l1.6 .5-1.6 .6-1.6-.5z"/>
<path class="s118" d="M568.4 114.1l1.7 1.1-1.4-4.7-1.7-1.3z"/>
<path class="s53" d="M608 171.1l1.7-.9-1.6 .5-1.7 .8z"/>
<path class="s79" d="M472.9 149.7l1.7-4-1.3-.3-1.8 3.9z"/>
<path class="s15" d="M455.7 207.9l1.8-2.7-1.4-1.1-1.7 2.8z"/>
<path class="s51" d="M603 173.8l1.7-1.3-1.5 .2-1.7 1.1z"/>
<path class="s96" d="M570.8 134.8l1.7-.1-1.5-5.4-1.7-.1z"/>
<path class="s56" d="M634 168.2l1.6 1.1-1.6 .1-1.6-1.2z"/>
<path class="s25" d="M461 199.3l1.7-3.3-1.4-1.2-1.7 3.3z"/>
<path class="s146" d="M555 86.3l1.7 1.9-1.5-.5-1.7-1.9z"/>
<path class="s120" d="M502.1 109.8l1.7-1-1.4 2-1.7 .8z"/>
<path class="s59" d="M468.9 168.7l1.7-4.4-1.4-1-1.7 4.3z"/>
<path class="s57" d="M570.8 170.4l1.7-1.6-1.4-4.4-1.7 1.5z"/>
<path class="s12" d="M454 210.4l1.7-2.5-1.3-1-1.8 2.5z"/>
<path class="s140" d="M527.2 90.6l1.7-.6-1.4 3.1-1.8 .3z"/>
<path class="s109" d="M488.6 121.1l1.8-1.9-1.4 1.3-1.8 1.6z"/>
<path class="s57" d="M627.6 166.7l1.6 .8-1.6 .5-1.6-.8z"/>
<path class="s148" d="M542.1 83.2l1.7 .7-1.4 2-1.8-.8z"/>
<path class="s43" d="M573.5 183.2l1.7-1.8-1.5-3.3-1.7 1.8z"/>
<path class="s57" d="M630.8 167.2l1.6 1-1.6 .3-1.6-1z"/>
<path class="s70" d="M470.9 158.9l1.7-4.3-1.4-.7-1.7 4.2z"/>
<path class="s47" d="M572 179.9l1.7-1.8-1.4-3.7-1.8 1.7z"/>
<path class="s40" d="M586.3 184.6l1.8-2-1.5-1.5-1.8 1.9z"/>
<path class="s39" d="M578.2 186.8l1.7-2-1.5-2.4-1.7 1.9z"/>
<path class="s43" d="M591.3 181.7l1.7-1.9-1.5-.9-1.7 1.8z"/>
<path class="s29" d="M462.7 196l1.8-3.5-1.4-1.2-1.8 3.5z"/>
<path class="s108" d="M569.6 123.8l1.7 .6-1.4-5.3-1.7-.6z"/>
<path class="s115" d="M495.3 114.9l1.8-1.3-1.4 1.7-1.8 1z"/>
<path class="s90" d="M570.5 140.7l1.7-.4-1.4-5.5-1.7 .3z"/>
<path class="s38" d="M581.4 187l1.7-2-1.5-2.1-1.7 1.9z"/>
<path class="s40" d="M574.9 186.2l1.8-1.9-1.5-2.9-1.7 1.8z"/>
<path class="s51" d="M570.5 176.1l1.8-1.7-1.5-4-1.7 1.6z"/>
<path class="s10" d="M452.2 212.7l1.8-2.3-1.4-1-1.8 2.3z"/>
<path class="s135" d="M520.5 95.6l1.7-.9-1.4 2.9-1.8 .7z"/>
<path class="s57" d="M616.2 167.9l1.7-.3-1.6 .8-1.7 .1z"/>
<path class="s84" d="M474.6 145.7l1.8-3.9-1.4-.2-1.7 3.8z"/>
<path class="s43" d="M466.5 183.7l1.7-4.1-1.4-1.3-1.7 4.1z"/>
<path class="s123" d="M567 109.2l1.7 1.3-1.5-4.3-1.7-1.5z"/>
<path class="s84" d="M570.2 146.9l1.7-.8-1.4-5.4-1.7 .7z"/>
<path class="s47" d="M596.3 178.5l1.7-1.7-1.5-.4-1.7 1.6z"/>
<path class="s130" d="M513.7 100.8l1.8-.9-1.4 2.6-1.8 .7z"/>
<path class="s139" d="M561.1 93.8l1.7 1.9-1.4-2.4-1.8-2z"/>
<path class="s53" d="M468.6 174.2l1.7-4.3-1.4-1.2-1.7 4.3z"/>
<path class="s77" d="M569.9 153.2l1.8-1-1.5-5.3-1.7 1z"/>
<path class="s70" d="M569.6 159.6l1.8-1.3-1.5-5.1-1.7 1.3z"/>
<path class="s33" d="M464.5 192.5l1.7-3.7-1.4-1.2-1.7 3.7z"/>
<path class="s107" d="M486.9 123.2l1.7-2.1-1.4 1-1.7 1.9z"/>
<path class="s63" d="M569.4 165.9l1.7-1.5-1.5-4.8-1.7 1.5z"/>
<path class="s39" d="M584.6 186.7l1.7-2.1-1.5-1.6-1.7 2z"/>
<path class="s145" d="M532.1 87l1.8-.2-1.4 2.8-1.8 .1z"/>
<path class="s37" d="M576.4 188.8l1.8-2-1.5-2.5-1.8 1.9z"/>
<path class="s41" d="M571.7 185l1.8-1.8-1.5-3.3-1.7 1.8z"/>
<path class="s125" d="M507 105.9l1.8-1-1.4 2.2-1.8 .8z"/>
<path class="s148" d="M537.1 84.4l1.8 .2-1.5 2.5-1.7-.3z"/>
<path class="s148" d="M551.8 84.2l1.7 1.6-1.5 .1-1.7-1.7z"/>
<path class="s56" d="M569.1 172l1.7-1.6-1.4-4.5-1.8 1.7z"/>
<path class="s45" d="M570.3 181.7l1.7-1.8-1.5-3.8-1.7 1.8z"/>
<path class="s50" d="M601.3 175.3l1.7-1.5-1.5 0-1.8 1.4z"/>
<path class="s64" d="M470.6 164.3l1.7-4.4-1.4-1-1.7 4.4z"/>
<path class="s42" d="M589.6 183.8l1.7-2.1-1.5-1-1.7 1.9z"/>
<path class="s150" d="M545.3 82.6l1.8 1-1.5 1.4-1.8-1.1z"/>
<path class="s36" d="M579.6 189l1.8-2-1.5-2.2-1.7 2z"/>
<path class="s88" d="M476.4 141.8l1.7-3.8-1.4 0-1.7 3.6z"/>
<path class="s75" d="M472.6 154.6l1.7-4.2-1.4-.7-1.7 4.2z"/>
<path class="s128" d="M565.5 104.7l1.7 1.5-1.4-4-1.7-1.7z"/>
<path class="s55" d="M611.3 169.7l1.6-.7-1.5 .6-1.7 .6z"/>
<path class="s38" d="M573.2 188.1l1.7-1.9-1.4-3-1.8 1.8z"/>
<path class="s136" d="M562.6 96.9l1.7 1.8-1.5-3-1.7-1.9z"/>
<path class="s53" d="M606.3 172.2l1.7-1.1-1.6 .4-1.7 1z"/>
<path class="s103" d="M569.3 129.2l1.7 .1-1.4-5.5-1.7-.2z"/>
<path class="s50" d="M568.8 177.9l1.7-1.8-1.4-4.1-1.8 1.8z"/>
<path class="s150" d="M548.5 82.9l1.8 1.3-1.5 .8-1.7-1.4z"/>
<path class="s133" d="M564.1 100.5l1.7 1.7-1.5-3.5-1.7-1.8z"/>
<path class="s120" d="M500.3 111l1.8-1.2-1.4 1.8-1.8 .9z"/>
<path class="s105" d="M485.1 125.6l1.8-2.4-1.4 .8-1.8 2.3z"/>
<path class="s37" d="M466.2 188.8l1.7-3.8-1.4-1.3-1.7 3.9z"/>
<path class="s48" d="M468.2 179.6l1.8-4.1-1.4-1.3-1.8 4.1z"/>
<path class="s58" d="M619.5 167l1.6 0-1.6 .7-1.6-.1z"/>
<path class="s18" d="M458.9 206.3l1.7-2.8-1.3-1.1-1.8 2.8z"/>
<path class="s45" d="M594.6 180.5l1.7-2-1.5-.5-1.8 1.8z"/>
<path class="s21" d="M460.6 203.5l1.8-3.1-1.4-1.1-1.7 3.1z"/>
<path class="s114" d="M493.6 116.5l1.7-1.6-1.4 1.4-1.7 1.4z"/>
<path class="s37" d="M582.9 188.8l1.7-2.1-1.5-1.7-1.7 2z"/>
<path class="s92" d="M478.1 138l1.7-3.5-1.3 .2-1.8 3.3z"/>
<path class="s114" d="M568.2 118.5l1.7 .6-1.5-5-1.7-.9z"/>
<path class="s15" d="M457.1 209l1.8-2.7-1.4-1.1-1.8 2.7z"/>
<path class="s55" d="M638.8 170l1.6 1.3-1.6-.4-1.6-1.4z"/>
<path class="s24" d="M462.4 200.4l1.7-3.2-1.4-1.2-1.7 3.3z"/>
<path class="s35" d="M574.7 190.7l1.7-1.9-1.5-2.6-1.7 1.9z"/>
<path class="s40" d="M587.8 185.9l1.8-2.1-1.5-1.2-1.8 2z"/>
<path class="s102" d="M483.3 128.3l1.8-2.7-1.4 .7-1.7 2.5z"/>
<path class="s59" d="M470.3 169.9l1.7-4.4-1.4-1.2-1.7 4.4z"/>
<path class="s35" d="M577.9 191.1l1.7-2.1-1.4-2.2-1.8 2z"/>
<path class="s141" d="M525.4 91.3l1.8-.7-1.5 2.8-1.7 .6z"/>
<path class="s40" d="M570 186.9l1.7-1.9-1.4-3.3-1.8 1.8z"/>
<path class="s96" d="M479.8 134.5l1.8-3.2-1.4 .3-1.7 3.1z"/>
<path class="s146" d="M556.4 87.6l1.8 1.8-1.5-1.2-1.7-1.9z"/>
<path class="s44" d="M568.5 183.5l1.8-1.8-1.5-3.8-1.7 1.8z"/>
<path class="s62" d="M567.6 167.6l1.8-1.7-1.5-4.8-1.7 1.6z"/>
<path class="s99" d="M481.6 131.3l1.7-3-1.3 .5-1.8 2.8z"/>
<path class="s97" d="M569.1 135.1l1.7-.3-1.5-5.6-1.7 .2z"/>
<path class="s12" d="M455.4 211.4l1.7-2.4-1.4-1.1-1.7 2.5z"/>
<path class="s69" d="M567.9 161.1l1.7-1.5-1.4-5.1-1.7 1.5z"/>
<path class="s55" d="M567.3 173.8l1.8-1.8-1.5-4.4-1.7 1.7z"/>
<path class="s28" d="M464.1 197.2l1.8-3.4-1.4-1.3-1.8 3.5z"/>
<path class="s135" d="M518.7 96.5l1.8-.9-1.5 2.7-1.7 .7z"/>
<path class="s36" d="M571.5 189.9l1.7-1.8-1.5-3.1-1.7 1.9z"/>
<path class="s80" d="M474.3 150.4l1.7-4.2-1.4-.5-1.7 4z"/>
<path class="s49" d="M599.6 177l1.7-1.7-1.6-.1-1.7 1.6z"/>
<path class="s76" d="M568.2 154.5l1.7-1.3-1.4-5.3-1.8 1.2z"/>
<path class="s70" d="M472.3 159.9l1.7-4.3-1.4-1-1.7 4.3z"/>
<path class="s90" d="M568.8 141.4l1.7-.7-1.4-5.6-1.8 .6z"/>
<path class="s130" d="M512 101.9l1.7-1.1-1.4 2.4-1.7 .8z"/>
<path class="s83" d="M568.5 147.9l1.7-1-1.4-5.5-1.8 .9z"/>
<path class="s42" d="M467.9 185l1.8-4-1.5-1.4-1.7 4.1z"/>
<path class="s35" d="M581.1 190.9l1.8-2.1-1.5-1.8-1.8 2z"/>
<path class="s48" d="M567.1 179.7l1.7-1.8-1.5-4.1-1.7 1.8z"/>
<path class="s43" d="M592.8 182.5l1.8-2-1.6-.7-1.7 1.9z"/>
<path class="s59" d="M622.7 166.4l1.7 .3-1.6 .6-1.7-.3z"/>
<path class="s10" d="M453.6 213.7l1.8-2.3-1.4-1-1.8 2.3z"/>
<path class="s38" d="M586.1 188.1l1.7-2.2-1.5-1.3-1.7 2.1z"/>
<path class="s53" d="M470 175.5l1.7-4.3-1.4-1.3-1.7 4.3z"/>
<path class="s57" d="M635.6 168.4l1.6 1.1-1.6-.2-1.6-1.1z"/>
<path class="s124" d="M505.2 107l1.8-1.1-1.4 2-1.8 .9z"/>
<path class="s57" d="M614.5 168.4l1.7-.5-1.6 .6-1.7 .5z"/>
<path class="s32" d="M465.9 193.8l1.7-3.6-1.4-1.4-1.7 3.7z"/>
<path class="s33" d="M576.2 193.1l1.7-2-1.5-2.3-1.7 1.9z"/>
<path class="s33" d="M572.9 192.7l1.8-2-1.5-2.6-1.7 1.8z"/>
<path class="s113" d="M491.8 118.3l1.8-1.8-1.4 1.2-1.8 1.5z"/>
<path class="s52" d="M604.6 173.6l1.7-1.4-1.6 .3-1.7 1.3z"/>
<path class="s38" d="M568.3 188.7l1.7-1.8-1.5-3.4-1.7 1.8z"/>
<path class="s150" d="M540.3 82.8l1.8 .4-1.5 1.9-1.7-.5z"/>
<path class="s119" d="M498.5 112.3l1.8-1.3-1.4 1.5-1.8 1.1z"/>
<path class="s120" d="M566.7 113.2l1.7 .9-1.4-4.9-1.7-1z"/>
<path class="s42" d="M566.8 185.3l1.7-1.8-1.4-3.8-1.8 1.8z"/>
<path class="s55" d="M609.5 170.7l1.8-1-1.6 .5-1.7 .9z"/>
<path class="s59" d="M626 166.2l1.6 .5-1.6 .5-1.6-.5z"/>
<path class="s110" d="M567.9 123.6l1.7 .2-1.4-5.3-1.8-.4z"/>
<path class="s145" d="M530.4 87.5l1.7-.5-1.4 2.7-1.8 .3z"/>
<path class="s60" d="M565.9 169.3l1.7-1.7-1.4-4.9-1.8 1.7z"/>
<path class="s33" d="M579.4 193.1l1.7-2.2-1.5-1.9-1.7 2.1z"/>
<path class="s53" d="M565.6 175.6l1.7-1.8-1.4-4.5-1.8 1.8z"/>
<path class="s84" d="M476 146.2l1.8-4-1.4-.4-1.8 3.9z"/>
<path class="s64" d="M472 165.5l1.7-4.4-1.4-1.2-1.7 4.4z"/>
<path class="s35" d="M569.7 191.8l1.8-1.9-1.5-3-1.7 1.8z"/>
<path class="s58" d="M632.4 167.2l1.6 1-1.6 0-1.6-1z"/>
<path class="s41" d="M591.1 184.7l1.7-2.2-1.5-.8-1.7 2.1z"/>
<path class="s36" d="M584.4 190.3l1.7-2.2-1.5-1.4-1.7 2.1z"/>
<path class="s47" d="M597.8 178.9l1.8-1.9-1.6-.2-1.7 1.7z"/>
<path class="s59" d="M629.2 166.5l1.6 .7-1.6 .3-1.6-.8z"/>
<path class="s68" d="M566.2 162.7l1.7-1.6-1.4-5.1-1.8 1.5z"/>
<path class="s47" d="M469.7 181l1.7-4.2-1.4-1.3-1.8 4.1z"/>
<path class="s37" d="M467.6 190.2l1.7-3.8-1.4-1.4-1.7 3.8z"/>
<path class="s47" d="M565.3 181.5l1.8-1.8-1.5-4.1-1.7 1.8z"/>
<path class="s75" d="M474 155.6l1.7-4.4-1.4-.8-1.7 4.2z"/>
<path class="s149" d="M535.4 84.5l1.7-.1-1.4 2.4-1.8 0z"/>
<path class="s31" d="M574.4 195.1l1.8-2-1.5-2.4-1.8 2z"/>
<path class="s144" d="M557.9 89.6l1.7 1.7-1.4-1.9-1.8-1.8z"/>
<path class="s75" d="M566.5 156l1.7-1.5-1.5-5.4-1.7 1.4z"/>
<path class="s32" d="M571.2 194.5l1.7-1.8-1.4-2.8-1.8 1.9z"/>
<path class="s20" d="M462 204.6l1.8-3-1.4-1.2-1.8 3.1z"/>
<path class="s17" d="M460.3 207.4l1.7-2.8-1.4-1.1-1.7 2.8z"/>
<path class="s149" d="M553.2 84.8l1.8 1.5-1.5-.5-1.7-1.6z"/>
<path class="s111" d="M490 120.3l1.8-2-1.4 .9-1.8 1.9z"/>
<path class="s141" d="M523.6 92.2l1.8-.9-1.4 2.7-1.8 .7z"/>
<path class="s24" d="M463.8 201.6l1.7-3.2-1.4-1.2-1.7 3.2z"/>
<path class="s58" d="M471.7 171.2l1.7-4.4-1.4-1.3-1.7 4.4z"/>
<path class="s31" d="M577.7 195.2l1.7-2.1-1.5-2-1.7 2z"/>
<path class="s104" d="M567.6 129.4l1.7-.2-1.4-5.6-1.7 .1z"/>
<path class="s14" d="M458.5 210l1.8-2.6-1.4-1.1-1.8 2.7z"/>
<path class="s135" d="M516.9 97.6l1.8-1.1-1.4 2.5-1.8 .9z"/>
<path class="s37" d="M566.5 190.5l1.8-1.8-1.5-3.4-1.8 1.8z"/>
<path class="s39" d="M589.4 187l1.7-2.3-1.5-.9-1.8 2.1z"/>
<path class="s89" d="M477.8 142.2l1.7-3.8-1.4-.4-1.7 3.8z"/>
<path class="s34" d="M582.6 192.6l1.8-2.3-1.5-1.5-1.8 2.1z"/>
<path class="s83" d="M566.7 149.1l1.8-1.2-1.5-5.6-1.7 1.2z"/>
<path class="s41" d="M565 187.1l1.8-1.8-1.5-3.8-1.7 1.8z"/>
<path class="s129" d="M510.2 103l1.8-1.1-1.4 2.1-1.8 .9z"/>
<path class="s59" d="M617.8 167.2l1.7-.2-1.6 .6-1.7 .3z"/>
<path class="s126" d="M565.3 108.2l1.7 1-1.5-4.5-1.7-1.2z"/>
<path class="s51" d="M602.8 175.3l1.8-1.7-1.6 .2-1.7 1.5z"/>
<path class="s52" d="M563.9 177.4l1.7-1.8-1.5-4.5-1.7 1.8z"/>
<path class="s33" d="M568 193.6l1.7-1.8-1.4-3.1-1.8 1.8z"/>
<path class="s28" d="M465.5 198.4l1.8-3.4-1.4-1.2-1.8 3.4z"/>
<path class="s59" d="M564.1 171.1l1.8-1.8-1.5-4.9-1.7 1.8z"/>
<path class="s46" d="M596.1 181l1.7-2.1-1.5-.4-1.7 2z"/>
<path class="s90" d="M567 142.3l1.8-.9-1.5-5.7-1.7 .8z"/>
<path class="s97" d="M567.3 135.7l1.8-.6-1.5-5.7-1.7 .5z"/>
<path class="s41" d="M469.3 186.4l1.8-4-1.4-1.4-1.8 4z"/>
<path class="s12" d="M456.8 212.4l1.7-2.4-1.4-1-1.7 2.4z"/>
<path class="s124" d="M503.5 108.3l1.7-1.3-1.4 1.8-1.7 1z"/>
<path class="s55" d="M640.4 170.8l1.6 1.3-1.6-.8-1.6-1.3z"/>
<path class="s152" d="M543.6 82l1.7 .6-1.5 1.3-1.7-.7z"/>
<path class="s118" d="M496.7 113.9l1.8-1.6-1.4 1.3-1.8 1.3z"/>
<path class="s69" d="M473.7 161.1l1.7-4.4-1.4-1.1-1.7 4.3z"/>
<path class="s45" d="M563.6 183.3l1.7-1.8-1.4-4.1-1.8 1.8z"/>
<path class="s66" d="M564.4 164.4l1.8-1.7-1.5-5.2-1.7 1.7z"/>
<path class="s29" d="M572.7 197l1.7-1.9-1.5-2.4-1.7 1.8z"/>
<path class="s109" d="M488.2 122.7l1.8-2.4-1.4 .8-1.7 2.1z"/>
<path class="s52" d="M471.4 176.8l1.7-4.2-1.4-1.4-1.7 4.3z"/>
<path class="s37" d="M587.6 189.3l1.8-2.3-1.6-1.1-1.7 2.2z"/>
<path class="s93" d="M479.5 138.4l1.7-3.7-1.4-.2-1.7 3.5z"/>
<path class="s80" d="M475.7 151.2l1.7-4.2-1.4-.8-1.7 4.2z"/>
<path class="s31" d="M580.9 194.8l1.7-2.2-1.5-1.7-1.7 2.2z"/>
<path class="s30" d="M569.5 196.4l1.7-1.9-1.5-2.7-1.7 1.8z"/>
<path class="s32" d="M467.3 195l1.7-3.5-1.4-1.3-1.7 3.6z"/>
<path class="s55" d="M607.8 171.9l1.7-1.2-1.5 .4-1.7 1.1z"/>
<path class="s142" d="M559.4 92.2l1.7 1.6-1.5-2.5-1.7-1.7z"/>
<path class="s29" d="M575.9 197.2l1.8-2-1.5-2.1-1.8 2z"/>
<path class="s151" d="M550 82.9l1.8 1.3-1.5 0-1.8-1.3z"/>
<path class="s116" d="M566.4 118.1l1.8 .4-1.5-5.3-1.7-.5z"/>
<path class="s58" d="M612.8 169.1l1.7-.7-1.6 .6-1.6 .7z"/>
<path class="s9" d="M455 214.6l1.8-2.2-1.4-1-1.8 2.3z"/>
<path class="s131" d="M563.8 103.5l1.7 1.2-1.4-4.2-1.8-1.3z"/>
<path class="s152" d="M546.8 82l1.7 .9-1.4 .7-1.8-1z"/>
<path class="s74" d="M564.7 157.5l1.8-1.5-1.5-5.5-1.7 1.6z"/>
<path class="s44" d="M594.4 183.2l1.7-2.2-1.5-.5-1.8 2z"/>
<path class="s107" d="M486.5 125.3l1.7-2.6-1.3 .5-1.8 2.4z"/>
<path class="s35" d="M564.8 192.2l1.7-1.7-1.5-3.4-1.7 1.7z"/>
<path class="s97" d="M481.2 134.7l1.8-3.4-1.4 0-1.8 3.2z"/>
<path class="s39" d="M563.3 188.8l1.7-1.7-1.4-3.8-1.8 1.8z"/>
<path class="s63" d="M473.4 166.8l1.7-4.4-1.4-1.3-1.7 4.4z"/>
<path class="s50" d="M562.1 179.2l1.8-1.8-1.5-4.5-1.7 1.8z"/>
<path class="s145" d="M528.6 88.2l1.8-.7-1.5 2.5-1.7 .6z"/>
<path class="s35" d="M585.9 191.7l1.7-2.4-1.5-1.2-1.7 2.2z"/>
<path class="s57" d="M562.4 172.9l1.7-1.8-1.4-4.9-1.8 1.8z"/>
<path class="s60" d="M621.1 166.4l1.6 0-1.6 .6-1.6 0z"/>
<path class="s32" d="M566.2 195.3l1.8-1.7-1.5-3.1-1.7 1.7z"/>
<path class="s139" d="M560.9 95.4l1.7 1.5-1.5-3.1-1.7-1.6z"/>
<path class="s50" d="M601.1 177.1l1.7-1.8-1.5 0-1.7 1.7z"/>
<path class="s104" d="M484.7 128.2l1.8-2.9-1.4 .3-1.8 2.7z"/>
<path class="s46" d="M471.1 182.4l1.7-4.1-1.4-1.5-1.7 4.2z"/>
<path class="s101" d="M483 131.3l1.7-3.1-1.4 .1-1.7 3z"/>
<path class="s136" d="M562.3 99.2l1.8 1.3-1.5-3.6-1.7-1.5z"/>
<path class="s36" d="M469 191.5l1.7-3.7-1.4-1.4-1.7 3.8z"/>
<path class="s29" d="M579.1 197l1.8-2.2-1.5-1.7-1.7 2.1z"/>
<path class="s58" d="M637.2 168.9l1.6 1.1-1.6-.5-1.6-1.1z"/>
<path class="s28" d="M570.9 198.9l1.8-1.9-1.5-2.5-1.7 1.9z"/>
<path class="s82" d="M565 150.5l1.7-1.4-1.4-5.6-1.7 1.3z"/>
<path class="s44" d="M561.8 185.1l1.8-1.8-1.5-4.1-1.7 1.8z"/>
<path class="s65" d="M562.7 166.2l1.7-1.8-1.4-5.2-1.8 1.8z"/>
<path class="s27" d="M574.2 199.2l1.7-2-1.5-2.1-1.7 1.9z"/>
<path class="s140" d="M521.9 93.3l1.7-1.1-1.4 2.5-1.7 .9z"/>
<path class="s134" d="M515.1 98.8l1.8-1.2-1.4 2.3-1.8 .9z"/>
<path class="s117" d="M494.9 115.7l1.8-1.8-1.4 1-1.7 1.6z"/>
<path class="s129" d="M508.4 104.3l1.8-1.3-1.4 1.9-1.8 1z"/>
<path class="s42" d="M592.6 185.5l1.8-2.3-1.6-.7-1.7 2.2z"/>
<path class="s85" d="M477.4 147l1.8-4.1-1.4-.7-1.8 4z"/>
<path class="s75" d="M475.4 156.7l1.7-4.4-1.4-1.1-1.7 4.4z"/>
<path class="s29" d="M567.7 198.1l1.8-1.7-1.5-2.8-1.8 1.7z"/>
<path class="s57" d="M473.1 172.6l1.7-4.4-1.4-1.4-1.7 4.4z"/>
<path class="s33" d="M584.1 194l1.8-2.3-1.5-1.4-1.8 2.3z"/>
<path class="s152" d="M538.6 82.7l1.7 .1-1.4 1.8-1.8-.2z"/>
<path class="s111" d="M566.2 123.7l1.7-.1-1.5-5.5-1.7-.1z"/>
<path class="s123" d="M501.7 109.7l1.8-1.4-1.4 1.5-1.8 1.2z"/>
<path class="s20" d="M463.4 205.7l1.8-3-1.4-1.1-1.8 3z"/>
<path class="s17" d="M461.7 208.4l1.7-2.7-1.4-1.1-1.7 2.8z"/>
<path class="s149" d="M554.7 86.2l1.7 1.4-1.4-1.3-1.8-1.5z"/>
<path class="s24" d="M465.2 202.7l1.7-3.1-1.4-1.2-1.7 3.2z"/>
<path class="s149" d="M533.6 84.9l1.8-.4-1.5 2.3-1.8 .2z"/>
<path class="s90" d="M565.3 143.5l1.7-1.2-1.4-5.8-1.7 1.1z"/>
<path class="s61" d="M624.3 166l1.7 .2-1.6 .5-1.7-.3z"/>
<path class="s27" d="M577.4 199.1l1.7-2.1-1.4-1.8-1.8 2z"/>
<path class="s73" d="M563 159.2l1.7-1.7-1.4-5.4-1.8 1.7z"/>
<path class="s34" d="M563 193.9l1.8-1.7-1.5-3.4-1.7 1.7z"/>
<path class="s54" d="M606.1 173.4l1.7-1.5-1.5 .3-1.7 1.4z"/>
<path class="s41" d="M470.7 187.8l1.8-3.9-1.4-1.5-1.8 4z"/>
<path class="s14" d="M459.9 211l1.8-2.6-1.4-1-1.8 2.6z"/>
<path class="s49" d="M560.4 181l1.7-1.8-1.4-4.5-1.8 1.8z"/>
<path class="s56" d="M560.7 174.7l1.7-1.8-1.5-4.9-1.7 1.9z"/>
<path class="s38" d="M561.6 190.5l1.7-1.7-1.5-3.7-1.7 1.7z"/>
<path class="s60" d="M634 167.5l1.6 .9-1.6-.2-1.6-1z"/>
<path class="s48" d="M599.4 179.2l1.7-2.1-1.5-.1-1.8 1.9z"/>
<path class="s27" d="M466.9 199.6l1.8-3.3-1.4-1.3-1.8 3.4z"/>
<path class="s123" d="M565 112.7l1.7 .5-1.4-5-1.8-.7z"/>
<path class="s39" d="M590.9 187.9l1.7-2.4-1.5-.8-1.7 2.3z"/>
<path class="s105" d="M565.9 129.9l1.7-.5-1.4-5.7-1.8 .4z"/>
<path class="s98" d="M565.6 136.5l1.7-.8-1.4-5.8-1.8 .8z"/>
<path class="s60" d="M616.1 167.8l1.7-.6-1.6 .7-1.7 .5z"/>
<path class="s30" d="M582.4 196.3l1.7-2.3-1.5-1.4-1.7 2.2z"/>
<path class="s30" d="M564.5 196.9l1.7-1.6-1.4-3.1-1.8 1.7z"/>
<path class="s51" d="M472.8 178.3l1.7-4.2-1.4-1.5-1.7 4.2z"/>
<path class="s69" d="M475.1 162.4l1.7-4.4-1.4-1.3-1.7 4.4z"/>
<path class="s61" d="M627.6 166l1.6 .5-1.6 .2-1.6-.5z"/>
<path class="s26" d="M569.2 200.6l1.7-1.7-1.4-2.5-1.8 1.7z"/>
<path class="s25" d="M572.4 201.1l1.8-1.9-1.5-2.2-1.8 1.9z"/>
<path class="s63" d="M560.9 168l1.8-1.8-1.5-5.2-1.7 1.9z"/>
<path class="s42" d="M560.1 186.8l1.7-1.7-1.4-4.1-1.8 1.7z"/>
<path class="s61" d="M630.8 166.5l1.6 .7-1.6 0-1.6-.7z"/>
<path class="s12" d="M458.1 213.4l1.8-2.4-1.4-1-1.7 2.4z"/>
<path class="s57" d="M611.1 170.2l1.7-1.1-1.5 .6-1.8 1z"/>
<path class="s90" d="M479.2 142.9l1.7-4-1.4-.5-1.7 3.8z"/>
<path class="s55" d="M641.9 171.9l1.6 1.2-1.5-1-1.6-1.3z"/>
<path class="s115" d="M493.2 117.7l1.7-2-1.3 .8-1.8 1.8z"/>
<path class="s31" d="M468.7 196.3l1.7-3.5-1.4-1.3-1.7 3.5z"/>
<path class="s37" d="M589.1 190.4l1.8-2.5-1.5-.9-1.8 2.3z"/>
<path class="s81" d="M563.3 152.1l1.7-1.6-1.4-5.7-1.8 1.5z"/>
<path class="s27" d="M566 199.7l1.7-1.6-1.5-2.8-1.7 1.6z"/>
<path class="s26" d="M575.7 201.1l1.7-2-1.5-1.9-1.7 2z"/>
<path class="s80" d="M477.1 152.3l1.8-4.3-1.5-1-1.7 4.2z"/>
<path class="s28" d="M580.6 198.6l1.8-2.3-1.5-1.5-1.8 2.2z"/>
<path class="s46" d="M597.6 181.4l1.8-2.2-1.6-.3-1.7 2.1z"/>
<path class="s63" d="M474.8 168.2l1.7-4.4-1.4-1.4-1.7 4.4z"/>
<path class="s145" d="M526.9 89.2l1.7-1-1.4 2.4-1.8 .7z"/>
<path class="s45" d="M472.5 183.9l1.7-4.1-1.4-1.5-1.7 4.1z"/>
<path class="s9" d="M456.4 215.6l1.7-2.2-1.3-1-1.8 2.2z"/>
<path class="s122" d="M499.9 111.3l1.8-1.6-1.4 1.3-1.8 1.3z"/>
<path class="s54" d="M558.9 176.5l1.8-1.8-1.5-4.8-1.7 1.9z"/>
<path class="s71" d="M561.2 161l1.8-1.8-1.5-5.4-1.7 1.8z"/>
<path class="s134" d="M513.4 100.1l1.7-1.3-1.4 2-1.7 1.1z"/>
<path class="s128" d="M506.6 105.7l1.8-1.4-1.4 1.6-1.8 1.1z"/>
<path class="s47" d="M558.6 182.7l1.8-1.7-1.5-4.5-1.7 1.8z"/>
<path class="s140" d="M520.1 94.5l1.8-1.2-1.4 2.3-1.8 .9z"/>
<path class="s35" d="M470.4 192.8l1.8-3.6-1.5-1.4-1.7 3.7z"/>
<path class="s35" d="M587.4 192.8l1.7-2.4-1.5-1.1-1.7 2.4z"/>
<path class="s154" d="M541.8 81.6l1.8 .4-1.5 1.2-1.8-.4z"/>
<path class="s33" d="M561.3 195.4l1.7-1.5-1.4-3.4-1.8 1.5z"/>
<path class="s94" d="M480.9 138.9l1.7-3.7-1.4-.5-1.7 3.7z"/>
<path class="s53" d="M604.4 175.2l1.7-1.8-1.5 .2-1.8 1.7z"/>
<path class="s36" d="M559.8 192l1.8-1.5-1.5-3.7-1.8 1.6z"/>
<path class="s113" d="M491.4 119.9l1.8-2.2-1.4 .6-1.8 2z"/>
<path class="s128" d="M563.5 107.5l1.8 .7-1.5-4.7-1.7-.8z"/>
<path class="s152" d="M551.5 83.7l1.7 1.1-1.4-.6-1.8-1.3z"/>
<path class="s89" d="M563.6 144.8l1.7-1.3-1.4-5.9-1.8 1.3z"/>
<path class="s62" d="M559.2 169.9l1.7-1.9-1.4-5.1-1.8 1.9z"/>
<path class="s148" d="M556.2 88.3l1.7 1.3-1.5-2-1.7-1.4z"/>
<path class="s24" d="M570.7 202.8l1.7-1.7-1.5-2.2-1.7 1.7z"/>
<path class="s118" d="M564.7 118l1.7 .1-1.4-5.4-1.7-.2z"/>
<path class="s56" d="M474.5 174.1l1.7-4.3-1.4-1.6-1.7 4.4z"/>
<path class="s29" d="M562.8 198.4l1.7-1.5-1.5-3-1.7 1.5z"/>
<path class="s25" d="M567.5 202.2l1.7-1.6-1.5-2.5-1.7 1.6z"/>
<path class="s26" d="M578.9 200.8l1.7-2.2-1.5-1.6-1.7 2.1z"/>
<path class="s44" d="M595.9 183.7l1.7-2.3-1.5-.4-1.7 2.2z"/>
<path class="s41" d="M558.3 188.4l1.8-1.6-1.5-4.1-1.7 1.7z"/>
<path class="s61" d="M619.4 166.8l1.7-.4-1.6 .6-1.7 .2z"/>
<path class="s32" d="M585.6 195.3l1.8-2.5-1.5-1.1-1.8 2.3z"/>
<path class="s74" d="M476.8 158l1.7-4.4-1.4-1.3-1.7 4.4z"/>
<path class="s24" d="M573.9 203.1l1.8-2-1.5-1.9-1.8 1.9z"/>
<path class="s98" d="M482.6 135.2l1.8-3.6-1.4-.3-1.8 3.4z"/>
<path class="s80" d="M561.5 153.8l1.8-1.7-1.5-5.8-1.7 1.7z"/>
<path class="s111" d="M489.6 122.5l1.8-2.6-1.4 .4-1.8 2.4z"/>
<path class="s58" d="M638.8 169.7l1.6 1.1-1.6-.8-1.6-1.1z"/>
<path class="s40" d="M472.2 189.2l1.7-3.9-1.4-1.4-1.8 3.9z"/>
<path class="s20" d="M464.8 206.7l1.8-2.9-1.4-1.1-1.8 3z"/>
<path class="s85" d="M478.9 148l1.7-4.2-1.4-.9-1.8 4.1z"/>
<path class="s97" d="M563.9 137.6l1.7-1.1-1.5-5.8-1.7 1z"/>
<path class="s23" d="M466.6 203.8l1.7-3-1.4-1.2-1.7 3.1z"/>
<path class="s150" d="M531.8 85.6l1.8-.7-1.5 2.1-1.7 .5z"/>
<path class="s26" d="M564.2 201.2l1.8-1.5-1.5-2.8-1.7 1.5z"/>
<path class="s17" d="M463.1 209.4l1.7-2.7-1.4-1-1.7 2.7z"/>
<path class="s52" d="M557.2 178.3l1.7-1.8-1.4-4.7-1.8 1.9z"/>
<path class="s70" d="M559.5 162.9l1.7-1.9-1.4-5.4-1.8 1.9z"/>
<path class="s50" d="M474.2 179.8l1.7-4.2-1.4-1.5-1.7 4.2z"/>
<path class="s154" d="M545 81.4l1.8 .6-1.5 .6-1.7-.6z"/>
<path class="s57" d="M609.4 171.6l1.7-1.4-1.6 .5-1.7 1.2z"/>
<path class="s42" d="M594.1 186.2l1.8-2.5-1.5-.5-1.8 2.3z"/>
<path class="s154" d="M548.3 82.1l1.7 .8-1.5 0-1.7-.9z"/>
<path class="s112" d="M564.4 124.1l1.8-.4-1.5-5.7-1.7 .3z"/>
<path class="s30" d="M583.9 197.7l1.7-2.4-1.5-1.3-1.7 2.3z"/>
<path class="s46" d="M556.9 184.4l1.7-1.7-1.4-4.4-1.8 1.8z"/>
<path class="s27" d="M468.3 200.8l1.8-3.2-1.4-1.3-1.8 3.3z"/>
<path class="s102" d="M484.4 131.6l1.7-3.3-1.4-.1-1.7 3.1z"/>
<path class="s153" d="M536.8 82.9l1.8-.2-1.5 1.7-1.7 .1z"/>
<path class="s109" d="M487.9 125.3l1.7-2.8-1.4 .2-1.7 2.6z"/>
<path class="s121" d="M498.1 113.1l1.8-1.8-1.4 1-1.8 1.6z"/>
<path class="s105" d="M564.1 130.7l1.8-.8-1.5-5.8-1.7 .6z"/>
<path class="s60" d="M614.4 168.7l1.7-.9-1.6 .6-1.7 .7z"/>
<path class="s68" d="M476.5 163.8l1.7-4.4-1.4-1.4-1.7 4.4z"/>
<path class="s51" d="M602.7 177.2l1.7-2-1.6 .1-1.7 1.8z"/>
<path class="s134" d="M562.1 102.7l1.7 .8-1.5-4.3-1.7-.9z"/>
<path class="s105" d="M486.1 128.3l1.8-3-1.4 0-1.8 2.9z"/>
<path class="s24" d="M577.2 202.9l1.7-2.1-1.5-1.7-1.7 2z"/>
<path class="s60" d="M557.5 171.8l1.7-1.9-1.5-5.1-1.7 1.9z"/>
<path class="s14" d="M461.3 211.9l1.8-2.5-1.4-1-1.8 2.6z"/>
<path class="s145" d="M557.7 91l1.7 1.2-1.5-2.6-1.7-1.3z"/>
<path class="s127" d="M504.9 107.2l1.7-1.5-1.4 1.3-1.7 1.3z"/>
<path class="s35" d="M558.1 193.5l1.7-1.5-1.5-3.6-1.7 1.5z"/>
<path class="s31" d="M559.5 196.8l1.8-1.4-1.5-3.4-1.7 1.5z"/>
<path class="s31" d="M470.1 197.6l1.7-3.5-1.4-1.3-1.7 3.5z"/>
<path class="s55" d="M643.5 173.3l1.6 1.1-1.6-1.3-1.6-1.2z"/>
<path class="s133" d="M511.6 101.5l1.8-1.4-1.4 1.8-1.8 1.1z"/>
<path class="s23" d="M568.9 204.5l1.8-1.7-1.5-2.2-1.7 1.6z"/>
<path class="s40" d="M592.4 188.7l1.7-2.5-1.5-.7-1.7 2.4z"/>
<path class="s62" d="M622.6 166.1l1.7-.1-1.6 .4-1.6 0z"/>
<path class="s22" d="M572.2 204.9l1.7-1.8-1.5-2-1.7 1.7z"/>
<path class="s27" d="M582.1 200l1.8-2.3-1.5-1.4-1.8 2.3z"/>
<path class="s139" d="M518.3 95.8l1.8-1.3-1.4 2-1.8 1.1z"/>
<path class="s88" d="M561.8 146.3l1.8-1.5-1.5-5.9-1.7 1.5z"/>
<path class="s62" d="M476.2 169.8l1.8-4.4-1.5-1.6-1.7 4.4z"/>
<path class="s145" d="M525.1 90.3l1.8-1.1-1.5 2.1-1.8 .9z"/>
<path class="s39" d="M556.6 189.9l1.7-1.5-1.4-4-1.8 1.6z"/>
<path class="s12" d="M459.5 214.3l1.8-2.4-1.4-.9-1.8 2.4z"/>
<path class="s45" d="M473.9 185.3l1.7-3.9-1.4-1.6-1.7 4.1z"/>
<path class="s138" d="M560.6 98.3l1.7 .9-1.4-3.8-1.8-1z"/>
<path class="s24" d="M565.7 203.7l1.8-1.5-1.5-2.5-1.8 1.5z"/>
<path class="s28" d="M561 199.8l1.8-1.4-1.5-3-1.8 1.4z"/>
<path class="s142" d="M559.1 94.4l1.8 1-1.5-3.2-1.7-1.2z"/>
<path class="s60" d="M635.6 168l1.6 .9-1.6-.5-1.6-.9z"/>
<path class="s79" d="M478.5 153.6l1.8-4.4-1.4-1.2-1.8 4.3z"/>
<path class="s90" d="M480.6 143.8l1.7-4-1.4-.9-1.7 4z"/>
<path class="s78" d="M559.8 155.6l1.7-1.8-1.4-5.8-1.8 1.9z"/>
<path class="s68" d="M557.7 164.8l1.8-1.9-1.5-5.4-1.7 1.9z"/>
<path class="s37" d="M590.6 191.3l1.8-2.6-1.5-.8-1.8 2.5z"/>
<path class="s51" d="M555.4 180.1l1.8-1.8-1.5-4.6-1.7 1.8z"/>
<path class="s124" d="M563.3 112.5l1.7 .2-1.5-5.2-1.7-.3z"/>
<path class="s35" d="M471.8 194.1l1.8-3.5-1.4-1.4-1.8 3.6z"/>
<path class="s49" d="M600.9 179.4l1.8-2.2-1.6-.1-1.7 2.1z"/>
<path class="s22" d="M575.4 204.9l1.8-2-1.5-1.8-1.8 2z"/>
<path class="s56" d="M475.9 175.6l1.8-4.2-1.5-1.6-1.7 4.3z"/>
<path class="s58" d="M555.7 173.7l1.8-1.9-1.5-5.1-1.8 2z"/>
<path class="s119" d="M496.4 115.2l1.7-2.1-1.4 .8-1.8 1.8z"/>
<path class="s44" d="M555.1 186l1.8-1.6-1.5-4.3-1.7 1.7z"/>
<path class="s25" d="M580.4 202.3l1.7-2.3-1.5-1.4-1.7 2.2z"/>
<path class="s63" d="M625.9 165.8l1.7 .2-1.6 .2-1.7-.2z"/>
<path class="s25" d="M562.5 202.6l1.7-1.4-1.4-2.8-1.8 1.4z"/>
<path class="s9" d="M457.7 216.4l1.8-2.1-1.4-.9-1.7 2.2z"/>
<path class="s34" d="M588.9 193.8l1.7-2.5-1.5-.9-1.7 2.4z"/>
<path class="s56" d="M607.7 173.2l1.7-1.6-1.6 .3-1.7 1.5z"/>
<path class="s62" d="M632.4 166.8l1.6 .7-1.6-.3-1.6-.7z"/>
<path class="s152" d="M553 85.1l1.7 1.1-1.5-1.4-1.7-1.1z"/>
<path class="s97" d="M562.1 138.9l1.8-1.3-1.5-5.9-1.7 1.2z"/>
<path class="s73" d="M478.2 159.4l1.8-4.4-1.5-1.4-1.7 4.4z"/>
<path class="s63" d="M629.1 166.1l1.7 .4-1.6 0-1.6-.5z"/>
<path class="s126" d="M503.1 108.9l1.8-1.7-1.4 1.1-1.8 1.4z"/>
<path class="s39" d="M473.6 190.6l1.7-3.8-1.4-1.5-1.7 3.9z"/>
<path class="s94" d="M482.3 139.8l1.8-3.9-1.5-.7-1.7 3.7z"/>
<path class="s32" d="M587.1 196.4l1.8-2.6-1.5-1-1.8 2.5z"/>
<path class="s47" d="M599.2 181.7l1.7-2.3-1.5-.2-1.8 2.2z"/>
<path class="s21" d="M570.4 206.5l1.8-1.6-1.5-2.1-1.8 1.7z"/>
<path class="s49" d="M475.6 181.4l1.8-4.1-1.5-1.7-1.7 4.2z"/>
<path class="s62" d="M617.7 167.4l1.7-.6-1.6 .4-1.7 .6z"/>
<path class="s21" d="M567.2 206l1.7-1.5-1.4-2.3-1.8 1.5z"/>
<path class="s34" d="M556.3 194.9l1.8-1.4-1.5-3.6-1.7 1.5z"/>
<path class="s66" d="M556 166.7l1.7-1.9-1.4-5.4-1.8 2z"/>
<path class="s77" d="M558 157.5l1.8-1.9-1.5-5.7-1.7 1.9z"/>
<path class="s87" d="M560.1 148l1.7-1.7-1.4-5.9-1.8 1.7z"/>
<path class="s30" d="M557.8 198.1l1.7-1.3-1.4-3.3-1.8 1.4z"/>
<path class="s155" d="M540.1 81.7l1.7-.1-1.5 1.2-1.7-.1z"/>
<path class="s132" d="M509.8 103.1l1.8-1.6-1.4 1.5-1.8 1.3z"/>
<path class="s150" d="M530.1 86.5l1.7-.9-1.4 1.9-1.8 .7z"/>
<path class="s59" d="M612.7 169.9l1.7-1.2-1.6 .4-1.7 1.1z"/>
<path class="s119" d="M563 118.3l1.7-.3-1.4-5.5-1.8 .1z"/>
<path class="s23" d="M578.7 204.5l1.7-2.2-1.5-1.5-1.7 2.1z"/>
<path class="s67" d="M478 165.4l1.7-4.4-1.5-1.6-1.7 4.4z"/>
<path class="s38" d="M554.9 191.4l1.7-1.5-1.5-3.9-1.7 1.5z"/>
<path class="s85" d="M480.3 149.2l1.7-4.2-1.4-1.2-1.7 4.2z"/>
<path class="s117" d="M494.6 117.4l1.8-2.2-1.5 .5-1.7 2z"/>
<path class="s105" d="M562.4 131.7l1.7-1-1.4-6-1.7 1z"/>
<path class="s49" d="M553.7 181.8l1.7-1.7-1.4-4.6-1.8 1.8z"/>
<path class="s23" d="M468 204.9l1.8-3-1.5-1.1-1.7 3z"/>
<path class="s21" d="M573.7 206.7l1.7-1.8-1.5-1.8-1.7 1.8z"/>
<path class="s20" d="M466.2 207.7l1.8-2.8-1.4-1.1-1.8 2.9z"/>
<path class="s58" d="M640.3 170.9l1.6 1-1.5-1.1-1.6-1.1z"/>
<path class="s23" d="M564 205.1l1.7-1.4-1.5-2.5-1.7 1.4z"/>
<path class="s138" d="M516.6 97.3l1.7-1.5-1.4 1.8-1.8 1.2z"/>
<path class="s57" d="M554 175.5l1.7-1.8-1.5-5-1.7 1.9z"/>
<path class="s29" d="M585.4 198.9l1.7-2.5-1.5-1.1-1.7 2.4z"/>
<path class="s27" d="M559.3 201.1l1.7-1.3-1.5-3-1.7 1.3z"/>
<path class="s26" d="M469.8 201.9l1.7-3.1-1.4-1.2-1.8 3.2z"/>
<path class="s112" d="M562.7 124.7l1.7-.6-1.4-5.8-1.8 .5z"/>
<path class="s17" d="M464.5 210.4l1.7-2.7-1.4-1-1.7 2.7z"/>
<path class="s45" d="M597.4 184.2l1.8-2.5-1.6-.3-1.7 2.3z"/>
<path class="s54" d="M645 175l1.6 1.1-1.5-1.7-1.6-1.1z"/>
<path class="s144" d="M523.3 91.6l1.8-1.3-1.5 1.9-1.7 1.1z"/>
<path class="s130" d="M561.8 107.2l1.7 .3-1.4-4.8-1.8-.5z"/>
<path class="s61" d="M477.7 171.4l1.7-4.3-1.4-1.7-1.8 4.4z"/>
<path class="s99" d="M484.1 135.9l1.7-3.7-1.4-.6-1.8 3.6z"/>
<path class="s153" d="M535.1 83.5l1.7-.6-1.4 1.6-1.8 .4z"/>
<path class="s43" d="M553.4 187.5l1.7-1.5-1.4-4.2-1.8 1.6z"/>
<path class="s54" d="M606 175.1l1.7-1.9-1.6 .2-1.7 1.8z"/>
<path class="s30" d="M471.5 198.8l1.8-3.4-1.5-1.3-1.7 3.5z"/>
<path class="s44" d="M475.3 186.8l1.8-3.9-1.5-1.5-1.7 3.9z"/>
<path class="s14" d="M462.7 212.8l1.8-2.4-1.4-1-1.8 2.5z"/>
<path class="s27" d="M583.7 201.3l1.7-2.4-1.5-1.2-1.8 2.3z"/>
<path class="s115" d="M492.8 119.9l1.8-2.5-1.4 .3-1.8 2.2z"/>
<path class="s64" d="M554.2 168.7l1.8-2-1.5-5.3-1.7 2z"/>
<path class="s42" d="M595.7 186.8l1.7-2.6-1.5-.5-1.8 2.5z"/>
<path class="s75" d="M556.3 159.4l1.7-1.9-1.4-5.7-1.8 2z"/>
<path class="s154" d="M549.8 82.9l1.7 .8-1.5-.8-1.7-.8z"/>
<path class="s21" d="M576.9 206.5l1.8-2-1.5-1.6-1.8 2z"/>
<path class="s79" d="M480 155l1.7-4.4-1.4-1.4-1.8 4.4z"/>
<path class="s24" d="M560.8 203.8l1.7-1.2-1.5-2.8-1.7 1.3z"/>
<path class="s96" d="M560.4 140.4l1.7-1.5-1.4-6-1.8 1.5z"/>
<path class="s125" d="M501.3 110.7l1.8-1.8-1.4 .8-1.8 1.6z"/>
<path class="s54" d="M477.4 177.3l1.7-4.2-1.4-1.7-1.8 4.2z"/>
<path class="s103" d="M485.8 132.2l1.7-3.4-1.4-.5-1.7 3.3z"/>
<path class="s85" d="M558.3 149.9l1.8-1.9-1.5-5.9-1.7 1.9z"/>
<path class="s150" d="M554.5 87.3l1.7 1-1.5-2.1-1.7-1.1z"/>
<path class="s156" d="M543.3 81.2l1.7 .2-1.4 .6-1.8-.4z"/>
<path class="s20" d="M568.7 208.1l1.7-1.6-1.5-2-1.7 1.5z"/>
<path class="s34" d="M473.3 195.4l1.7-3.5-1.4-1.3-1.8 3.5z"/>
<path class="s113" d="M491.1 122.6l1.7-2.7-1.4 0-1.8 2.6z"/>
<path class="s63" d="M621 166.5l1.6-.4-1.5 .3-1.7 .4z"/>
<path class="s40" d="M593.9 189.4l1.8-2.6-1.6-.6-1.7 2.5z"/>
<path class="s90" d="M482 145l1.7-4.1-1.4-1.1-1.7 4z"/>
<path class="s12" d="M460.9 215.1l1.8-2.3-1.4-.9-1.8 2.4z"/>
<path class="s55" d="M552.2 177.3l1.8-1.8-1.5-4.9-1.8 1.9z"/>
<path class="s20" d="M565.5 207.3l1.7-1.3-1.5-2.3-1.7 1.4z"/>
<path class="s106" d="M487.5 128.8l1.8-3.2-1.4-.3-1.8 3z"/>
<path class="s19" d="M571.9 208.4l1.8-1.7-1.5-1.8-1.8 1.6z"/>
<path class="s48" d="M551.9 183.4l1.8-1.6-1.5-4.5-1.8 1.7z"/>
<path class="s25" d="M581.9 203.7l1.8-2.4-1.6-1.3-1.7 2.3z"/>
<path class="s110" d="M489.3 125.6l1.8-3-1.5-.1-1.7 2.8z"/>
<path class="s131" d="M508.1 104.7l1.7-1.6-1.4 1.2-1.8 1.4z"/>
<path class="s156" d="M546.5 81.6l1.8 .5-1.5-.1-1.8-.6z"/>
<path class="s33" d="M554.6 196.2l1.7-1.3-1.4-3.5-1.8 1.3z"/>
<path class="s73" d="M479.7 161l1.7-4.4-1.4-1.6-1.8 4.4z"/>
<path class="s61" d="M637.1 168.9l1.7 .8-1.6-.8-1.6-.9z"/>
<path class="s37" d="M553.1 192.7l1.8-1.3-1.5-3.9-1.8 1.5z"/>
<path class="s53" d="M604.2 177.2l1.8-2.1-1.6 .1-1.7 2z"/>
<path class="s30" d="M556.1 199.3l1.7-1.2-1.5-3.2-1.7 1.3z"/>
<path class="s37" d="M592.2 192.1l1.7-2.7-1.5-.7-1.8 2.6z"/>
<path class="s136" d="M560.3 102.2l1.8 .5-1.5-4.4-1.7-.6z"/>
<path class="s59" d="M611 171.4l1.7-1.5-1.6 .3-1.7 1.4z"/>
<path class="s48" d="M477.1 182.9l1.7-4-1.4-1.6-1.8 4.1z"/>
<path class="s137" d="M514.8 98.8l1.8-1.5-1.5 1.5-1.7 1.3z"/>
<path class="s63" d="M552.5 170.6l1.7-1.9-1.4-5.3-1.8 2.1z"/>
<path class="s73" d="M554.5 161.4l1.8-2-1.5-5.6-1.7 2.1z"/>
<path class="s38" d="M475 191.9l1.7-3.6-1.4-1.5-1.7 3.8z"/>
<path class="s22" d="M562.2 206.3l1.8-1.2-1.5-2.5-1.7 1.2z"/>
<path class="s66" d="M479.4 167.1l1.7-4.4-1.4-1.7-1.7 4.4z"/>
<path class="s104" d="M560.7 132.9l1.7-1.2-1.4-6-1.8 1.2z"/>
<path class="s34" d="M590.4 194.8l1.8-2.7-1.6-.8-1.7 2.5z"/>
<path class="s125" d="M561.5 112.6l1.8-.1-1.5-5.3-1.7 0z"/>
<path class="s149" d="M528.3 87.6l1.8-1.1-1.5 1.7-1.7 1z"/>
<path class="s20" d="M575.2 208.4l1.7-1.9-1.5-1.6-1.7 1.8z"/>
<path class="s62" d="M616 168.4l1.7-1-1.6 .4-1.7 .9z"/>
<path class="s42" d="M551.6 189l1.8-1.5-1.5-4.1-1.7 1.6z"/>
<path class="s10" d="M459.1 217.3l1.8-2.2-1.4-.8-1.8 2.1z"/>
<path class="s27" d="M557.5 202.2l1.8-1.1-1.5-3-1.7 1.2z"/>
<path class="s144" d="M521.5 93l1.8-1.4-1.4 1.7-1.8 1.2z"/>
<path class="s52" d="M646.6 177l1.6 1-1.6-1.9-1.6-1.1z"/>
<path class="s22" d="M580.2 205.9l1.7-2.2-1.5-1.4-1.7 2.2z"/>
<path class="s123" d="M499.5 112.8l1.8-2.1-1.4 .6-1.8 1.8z"/>
<path class="s148" d="M555.9 90.2l1.8 .8-1.5-2.7-1.7-1z"/>
<path class="s84" d="M556.6 151.8l1.7-1.9-1.4-5.9-1.8 1.9z"/>
<path class="s64" d="M624.2 166l1.7-.2-1.6 .2-1.7 .1z"/>
<path class="s32" d="M588.7 197.4l1.7-2.6-1.5-1-1.8 2.6z"/>
<path class="s84" d="M481.7 150.6l1.7-4.3-1.4-1.3-1.7 4.2z"/>
<path class="s94" d="M483.7 140.9l1.8-4-1.4-1-1.8 3.9z"/>
<path class="s60" d="M479.1 173.1l1.7-4.3-1.4-1.7-1.7 4.3z"/>
<path class="s141" d="M558.9 97.7l1.7 .6-1.5-3.9-1.7-.7z"/>
<path class="s94" d="M558.6 142.1l1.8-1.7-1.5-6-1.7 1.7z"/>
<path class="s57" d="M641.9 172.4l1.6 .9-1.6-1.4-1.6-1z"/>
<path class="s51" d="M602.5 179.5l1.7-2.3-1.5 0-1.8 2.2z"/>
<path class="s53" d="M550.4 179l1.8-1.7-1.5-4.8-1.7 1.8z"/>
<path class="s63" d="M633.9 167.4l1.7 .6-1.6-.5-1.6-.7z"/>
<path class="s112" d="M561 125.7l1.7-1-1.5-5.9-1.7 .9z"/>
<path class="s145" d="M557.4 93.7l1.7 .7-1.4-3.4-1.8-.8z"/>
<path class="s119" d="M561.2 118.8l1.8-.5-1.5-5.7-1.7 .5z"/>
<path class="s23" d="M469.4 205.9l1.8-2.9-1.4-1.1-1.8 3z"/>
<path class="s29" d="M586.9 200l1.8-2.6-1.6-1-1.7 2.5z"/>
<path class="s43" d="M476.7 188.3l1.8-3.8-1.4-1.6-1.8 3.9z"/>
<path class="s156" d="M538.3 82l1.8-.3-1.5 1-1.8 .2z"/>
<path class="s47" d="M550.2 185l1.7-1.6-1.5-4.4-1.7 1.7z"/>
<path class="s26" d="M471.2 203l1.7-3.1-1.4-1.1-1.7 3.1z"/>
<path class="s19" d="M566.9 209.4l1.8-1.3-1.5-2.1-1.7 1.3z"/>
<path class="s20" d="M467.6 208.7l1.8-2.8-1.4-1-1.8 2.8z"/>
<path class="s71" d="M552.8 163.4l1.7-2-1.4-5.5-1.8 2.1z"/>
<path class="s18" d="M570.2 209.9l1.7-1.5-1.5-1.9-1.7 1.6z"/>
<path class="s130" d="M506.3 106.5l1.8-1.8-1.5 1-1.7 1.5z"/>
<path class="s24" d="M559 204.9l1.8-1.1-1.5-2.7-1.8 1.1z"/>
<path class="s61" d="M550.7 172.5l1.8-1.9-1.5-5.1-1.7 2z"/>
<path class="s64" d="M627.5 165.9l1.6 .2-1.5-.1-1.7-.2z"/>
<path class="s153" d="M533.3 84.3l1.8-.8-1.5 1.4-1.8 .7z"/>
<path class="s53" d="M478.8 178.9l1.7-4.1-1.4-1.7-1.7 4.2z"/>
<path class="s64" d="M630.7 166.4l1.7 .4-1.6-.3-1.7-.4z"/>
<path class="s20" d="M578.4 208l1.8-2.1-1.5-1.4-1.8 2z"/>
<path class="s78" d="M481.4 156.6l1.7-4.4-1.4-1.6-1.7 4.4z"/>
<path class="s30" d="M472.9 199.9l1.8-3.2-1.4-1.3-1.8 3.4z"/>
<path class="s17" d="M465.9 211.2l1.7-2.5-1.4-1-1.7 2.7z"/>
<path class="s121" d="M497.8 115l1.7-2.2-1.4 .3-1.7 2.1z"/>
<path class="s20" d="M563.7 208.5l1.8-1.2-1.5-2.2-1.8 1.2z"/>
<path class="s48" d="M600.7 182l1.8-2.5-1.6-.1-1.7 2.3z"/>
<path class="s57" d="M609.3 173.1l1.7-1.7-1.6 .2-1.7 1.6z"/>
<path class="s26" d="M585.2 202.5l1.7-2.5-1.5-1.1-1.7 2.4z"/>
<path class="s82" d="M554.8 153.8l1.8-2-1.5-5.9-1.7 2.1z"/>
<path class="s18" d="M573.4 210.1l1.8-1.7-1.5-1.7-1.8 1.7z"/>
<path class="s136" d="M513 100.5l1.8-1.7-1.4 1.3-1.8 1.4z"/>
<path class="s154" d="M551.2 84.5l1.8 .6-1.5-1.4-1.7-.8z"/>
<path class="s99" d="M485.5 136.9l1.7-3.8-1.4-.9-1.7 3.7z"/>
<path class="s33" d="M552.8 197.3l1.8-1.1-1.5-3.5-1.7 1.2z"/>
<path class="s37" d="M551.4 193.9l1.7-1.2-1.5-3.7-1.7 1.3z"/>
<path class="s71" d="M481.1 162.7l1.7-4.4-1.4-1.7-1.7 4.4z"/>
<path class="s33" d="M474.7 196.7l1.7-3.4-1.4-1.4-1.7 3.5z"/>
<path class="s14" d="M464.1 213.6l1.8-2.4-1.4-.8-1.8 2.4z"/>
<path class="s29" d="M554.3 200.4l1.8-1.1-1.5-3.1-1.8 1.1z"/>
<path class="s103" d="M558.9 134.4l1.8-1.5-1.5-6-1.7 1.4z"/>
<path class="s46" d="M599 184.6l1.7-2.6-1.5-.3-1.8 2.5z"/>
<path class="s51" d="M648.1 179.3l1.6 .8-1.5-2.1-1.6-1z"/>
<path class="s41" d="M549.9 190.3l1.7-1.3-1.4-4-1.8 1.4z"/>
<path class="s93" d="M556.9 144l1.7-1.9-1.4-6-1.8 1.8z"/>
<path class="s89" d="M483.4 146.3l1.8-4.1-1.5-1.3-1.7 4.1z"/>
<path class="s131" d="M560.1 107.2l1.7 0-1.5-5-1.7-.1z"/>
<path class="s143" d="M519.8 94.6l1.7-1.6-1.4 1.5-1.8 1.3z"/>
<path class="s69" d="M551 165.5l1.8-2.1-1.5-5.4-1.7 2.1z"/>
<path class="s24" d="M583.4 205l1.8-2.5-1.5-1.2-1.8 2.4z"/>
<path class="s47" d="M478.5 184.5l1.7-3.9-1.4-1.7-1.7 4z"/>
<path class="s63" d="M619.3 167.2l1.7-.7-1.6 .3-1.7 .6z"/>
<path class="s52" d="M548.7 180.7l1.7-1.7-1.4-4.7-1.8 1.8z"/>
<path class="s65" d="M480.8 168.8l1.7-4.3-1.4-1.8-1.7 4.4z"/>
<path class="s21" d="M560.5 207.3l1.7-1-1.4-2.5-1.8 1.1z"/>
<path class="s149" d="M526.5 88.9l1.8-1.3-1.4 1.6-1.8 1.1z"/>
<path class="s119" d="M496 117.5l1.8-2.5-1.4 .2-1.8 2.2z"/>
<path class="s59" d="M549 174.3l1.7-1.8-1.4-5-1.8 1.9z"/>
<path class="s103" d="M487.2 133.1l1.8-3.6-1.5-.7-1.7 3.4z"/>
<path class="s61" d="M614.3 169.7l1.7-1.3-1.6 .3-1.7 1.2z"/>
<path class="s43" d="M597.2 187.3l1.8-2.7-1.6-.4-1.7 2.6z"/>
<path class="s19" d="M576.7 209.9l1.7-1.9-1.5-1.5-1.7 1.9z"/>
<path class="s128" d="M504.5 108.4l1.8-1.9-1.4 .7-1.8 1.7z"/>
<path class="s26" d="M555.8 203.2l1.7-1-1.4-2.9-1.8 1.1z"/>
<path class="s38" d="M476.4 193.3l1.8-3.6-1.5-1.4-1.7 3.6z"/>
<path class="s80" d="M553.1 155.9l1.7-2.1-1.4-5.8-1.8 2.1z"/>
<path class="s12" d="M462.3 215.9l1.8-2.3-1.4-.8-1.8 2.3z"/>
<path class="s60" d="M638.7 170.1l1.6 .8-1.5-1.2-1.7-.8z"/>
<path class="s157" d="M541.5 81.3l1.8-.1-1.5 .4-1.7 .1z"/>
<path class="s46" d="M548.4 186.4l1.8-1.4-1.5-4.3-1.8 1.5z"/>
<path class="s58" d="M480.5 174.8l1.7-4.2-1.4-1.8-1.7 4.3z"/>
<path class="s40" d="M595.5 190.1l1.7-2.8-1.5-.5-1.8 2.6z"/>
<path class="s56" d="M607.5 175.1l1.8-2-1.6 .1-1.7 1.9z"/>
<path class="s116" d="M494.2 120.1l1.8-2.6-1.4-.1-1.8 2.5z"/>
<path class="s17" d="M568.4 211.3l1.8-1.4-1.5-1.8-1.8 1.3z"/>
<path class="s22" d="M581.7 207.2l1.7-2.2-1.5-1.3-1.7 2.2z"/>
<path class="s107" d="M489 129.5l1.7-3.3-1.4-.6-1.8 3.2z"/>
<path class="s83" d="M483.1 152.2l1.8-4.3-1.5-1.6-1.7 4.3z"/>
<path class="s56" d="M643.4 174.2l1.6 .8-1.5-1.7-1.6-.9z"/>
<path class="s156" d="M548 82.5l1.8 .4-1.5-.8-1.8-.5z"/>
<path class="s111" d="M559.2 126.9l1.8-1.2-1.5-6-1.8 1.2z"/>
<path class="s37" d="M593.7 192.9l1.8-2.8-1.6-.7-1.7 2.7z"/>
<path class="s18" d="M565.2 210.6l1.7-1.2-1.4-2.1-1.8 1.2z"/>
<path class="s17" d="M571.7 211.7l1.7-1.6-1.5-1.7-1.7 1.5z"/>
<path class="s135" d="M511.3 102.3l1.7-1.8-1.4 1-1.8 1.6z"/>
<path class="s114" d="M492.5 123l1.7-2.9-1.4-.2-1.7 2.7z"/>
<path class="s67" d="M549.3 167.5l1.7-2-1.4-5.4-1.8 2.1z"/>
<path class="s110" d="M490.7 126.2l1.8-3.2-1.4-.4-1.8 3z"/>
<path class="s91" d="M555.1 145.9l1.8-1.9-1.5-6.1-1.7 2z"/>
<path class="s126" d="M559.8 113.1l1.7-.5-1.4-5.4-1.8 .4z"/>
<path class="s34" d="M591.9 195.7l1.8-2.8-1.5-.8-1.8 2.7z"/>
<path class="s157" d="M544.8 81.5l1.7 .1-1.5-.2-1.7-.2z"/>
<path class="s94" d="M485.2 142.2l1.7-4.1-1.4-1.2-1.8 4z"/>
<path class="s42" d="M478.2 189.7l1.7-3.7-1.4-1.5-1.8 3.8z"/>
<path class="s52" d="M480.2 180.6l1.8-4.1-1.5-1.7-1.7 4.1z"/>
<path class="s49" d="M649.6 181.8l1.6 .7-1.5-2.4-1.6-.8z"/>
<path class="s23" d="M557.3 205.8l1.7-.9-1.5-2.7-1.7 1z"/>
<path class="s10" d="M460.5 218l1.8-2.1-1.4-.8-1.8 2.2z"/>
<path class="s152" d="M552.7 86.8l1.8 .5-1.5-2.2-1.8-.6z"/>
<path class="s77" d="M482.8 158.3l1.8-4.4-1.5-1.7-1.7 4.4z"/>
<path class="s78" d="M551.3 158l1.8-2.1-1.5-5.8-1.8 2.2z"/>
<path class="s119" d="M559.5 119.7l1.7-.9-1.4-5.7-1.8 .8z"/>
<path class="s137" d="M558.6 102.1l1.7 .1-1.4-4.5-1.8-.2z"/>
<path class="s32" d="M590.2 198.4l1.7-2.7-1.5-.9-1.7 2.6z"/>
<path class="s153" d="M531.5 85.3l1.8-1-1.5 1.3-1.7 .9z"/>
<path class="s102" d="M557.2 136.1l1.7-1.7-1.4-6.1-1.8 1.7z"/>
<path class="s19" d="M562 209.5l1.7-1-1.5-2.2-1.7 1z"/>
<path class="s58" d="M547.2 176.1l1.8-1.8-1.5-4.9-1.7 1.9z"/>
<path class="s65" d="M622.5 166.4l1.7-.4-1.6 .1-1.6 .4z"/>
<path class="s51" d="M546.9 182.2l1.8-1.5-1.5-4.6-1.7 1.7z"/>
<path class="s127" d="M502.7 110.5l1.8-2.1-1.4 .5-1.8 1.8z"/>
<path class="s36" d="M549.6 195l1.8-1.1-1.5-3.6-1.8 1.2z"/>
<path class="s142" d="M518 96.2l1.8-1.6-1.5 1.2-1.7 1.5z"/>
<path class="s17" d="M574.9 211.7l1.8-1.8-1.5-1.5-1.8 1.7z"/>
<path class="s20" d="M579.9 209.4l1.8-2.2-1.5-1.3-1.8 2.1z"/>
<path class="s32" d="M551.1 198.2l1.7-.9-1.4-3.4-1.8 1.1z"/>
<path class="s54" d="M605.8 177.3l1.7-2.2-1.5 0-1.8 2.1z"/>
<path class="s156" d="M536.5 82.7l1.8-.7-1.5 .9-1.7 .6z"/>
<path class="s70" d="M482.5 164.5l1.8-4.4-1.5-1.8-1.7 4.4z"/>
<path class="s29" d="M588.4 201.1l1.8-2.7-1.5-1-1.8 2.6z"/>
<path class="s23" d="M470.8 206.8l1.8-2.8-1.4-1-1.8 2.9z"/>
<path class="s26" d="M472.6 204l1.7-3-1.4-1.1-1.7 3.1z"/>
<path class="s40" d="M548.1 191.5l1.8-1.2-1.5-3.9-1.7 1.3z"/>
<path class="s63" d="M635.5 168.4l1.6 .5-1.5-.9-1.7-.6z"/>
<path class="s29" d="M474.3 201l1.8-3.1-1.4-1.2-1.8 3.2z"/>
<path class="s20" d="M469 209.5l1.8-2.7-1.4-.9-1.8 2.8z"/>
<path class="s148" d="M524.8 90.4l1.7-1.5-1.4 1.4-1.8 1.3z"/>
<path class="s65" d="M547.5 169.4l1.8-1.9-1.5-5.3-1.8 2.1z"/>
<path class="s29" d="M552.6 201.2l1.7-.8-1.5-3.1-1.7 .9z"/>
<path class="s64" d="M482.2 170.6l1.8-4.3-1.5-1.8-1.7 4.3z"/>
<path class="s60" d="M612.6 171.2l1.7-1.5-1.6 .2-1.7 1.5z"/>
<path class="s89" d="M553.4 148l1.7-2.1-1.4-6-1.8 2.1z"/>
<path class="s26" d="M586.7 203.7l1.7-2.6-1.5-1.1-1.7 2.5z"/>
<path class="s46" d="M479.9 186l1.7-3.8-1.4-1.6-1.7 3.9z"/>
<path class="s76" d="M549.6 160.1l1.7-2.1-1.5-5.7-1.7 2.2z"/>
<path class="s88" d="M484.9 147.9l1.7-4.2-1.4-1.5-1.8 4.1z"/>
<path class="s98" d="M486.9 138.1l1.7-3.9-1.4-1.1-1.7 3.8z"/>
<path class="s45" d="M546.7 187.7l1.7-1.3-1.5-4.2-1.7 1.5z"/>
<path class="s33" d="M476.1 197.9l1.7-3.3-1.4-1.3-1.7 3.4z"/>
<path class="s17" d="M467.3 212l1.7-2.5-1.4-.8-1.7 2.5z"/>
<path class="s142" d="M557.1 97.5l1.8 .2-1.5-4-1.7-.4z"/>
<path class="s46" d="M651.1 184.5l1.6 .6-1.5-2.6-1.6-.7z"/>
<path class="s150" d="M554.2 89.7l1.7 .5-1.4-2.9-1.8-.5z"/>
<path class="s133" d="M509.5 104.2l1.8-1.9-1.5 .8-1.7 1.6z"/>
<path class="s21" d="M558.7 208.2l1.8-.9-1.5-2.4-1.7 .9z"/>
<path class="s63" d="M617.6 168.3l1.7-1.1-1.6 .2-1.7 1z"/>
<path class="s65" d="M625.8 166.1l1.7-.2-1.6-.1-1.7 .2z"/>
<path class="s52" d="M604 179.8l1.8-2.5-1.6-.1-1.7 2.3z"/>
<path class="s57" d="M482 176.5l1.7-4.1-1.5-1.8-1.7 4.2z"/>
<path class="s125" d="M501 112.8l1.7-2.3-1.4 .2-1.8 2.1z"/>
<path class="s64" d="M632.3 167.1l1.6 .3-1.5-.6-1.7-.4z"/>
<path class="s55" d="M644.9 176.3l1.7 .7-1.6-2-1.6-.8z"/>
<path class="s24" d="M584.9 206.2l1.8-2.5-1.5-1.2-1.8 2.5z"/>
<path class="s146" d="M555.7 93.3l1.7 .4-1.5-3.5-1.7-.5z"/>
<path class="s16" d="M566.7 212.5l1.7-1.2-1.5-1.9-1.7 1.2z"/>
<path class="s16" d="M569.9 213l1.8-1.3-1.5-1.8-1.8 1.4z"/>
<path class="s18" d="M578.2 211.3l1.7-1.9-1.5-1.4-1.7 1.9z"/>
<path class="s26" d="M554 204l1.8-.8-1.5-2.8-1.7 .8z"/>
<path class="s111" d="M557.5 128.3l1.7-1.4-1.5-6-1.7 1.4z"/>
<path class="s100" d="M555.4 137.9l1.8-1.8-1.5-6.1-1.8 1.8z"/>
<path class="s56" d="M545.5 177.8l1.7-1.7-1.4-4.8-1.8 1.8z"/>
<path class="s65" d="M629.1 166.3l1.6 .1-1.6-.3-1.6-.2z"/>
<path class="s37" d="M477.8 194.6l1.8-3.5-1.4-1.4-1.8 3.6z"/>
<path class="s14" d="M465.5 214.4l1.8-2.4-1.4-.8-1.8 2.4z"/>
<path class="s82" d="M484.6 153.9l1.7-4.3-1.4-1.7-1.8 4.3z"/>
<path class="s60" d="M640.3 171.7l1.6 .7-1.6-1.5-1.6-.8z"/>
<path class="s140" d="M516.2 98l1.8-1.8-1.4 1.1-1.8 1.5z"/>
<path class="s87" d="M551.6 150.1l1.8-2.1-1.5-6-1.8 2.2z"/>
<path class="s17" d="M563.5 211.6l1.7-1-1.5-2.1-1.7 1z"/>
<path class="s49" d="M602.3 182.4l1.7-2.6-1.5-.3-1.8 2.5z"/>
<path class="s132" d="M558.3 107.6l1.8-.4-1.5-5.1-1.7 .3z"/>
<path class="s49" d="M545.2 183.7l1.7-1.5-1.4-4.4-1.8 1.6z"/>
<path class="s16" d="M573.2 213.3l1.7-1.6-1.5-1.6-1.7 1.6z"/>
<path class="s64" d="M545.8 171.3l1.7-1.9-1.5-5.1-1.7 2z"/>
<path class="s103" d="M488.6 134.2l1.8-3.6-1.4-1.1-1.8 3.6z"/>
<path class="s74" d="M547.8 162.2l1.8-2.1-1.5-5.6-1.8 2.2z"/>
<path class="s75" d="M484.3 160.1l1.7-4.3-1.4-1.9-1.8 4.4z"/>
<path class="s51" d="M481.6 182.2l1.8-3.9-1.4-1.8-1.8 4.1z"/>
<path class="s21" d="M583.2 208.5l1.7-2.3-1.5-1.2-1.7 2.2z"/>
<path class="s156" d="M549.5 84.2l1.7 .3-1.4-1.6-1.8-.4z"/>
<path class="s122" d="M499.2 115.2l1.8-2.4-1.5 0-1.7 2.2z"/>
<path class="s47" d="M600.5 185.1l1.8-2.7-1.6-.4-1.7 2.6z"/>
<path class="s152" d="M529.8 86.6l1.7-1.3-1.4 1.2-1.8 1.1z"/>
<path class="s158" d="M539.8 81.8l1.7-.5-1.4 .4-1.8 .3z"/>
<path class="s59" d="M610.8 173.1l1.8-1.9-1.6 .2-1.7 1.7z"/>
<path class="s41" d="M479.6 191.1l1.7-3.6-1.4-1.5-1.7 3.7z"/>
<path class="s119" d="M557.7 120.9l1.8-1.2-1.5-5.8-1.7 1.1z"/>
<path class="s93" d="M486.6 143.7l1.7-4.1-1.4-1.5-1.7 4.1z"/>
<path class="s69" d="M484 166.3l1.7-4.2-1.4-2-1.8 4.4z"/>
<path class="s132" d="M507.7 106.2l1.8-2-1.4 .5-1.8 1.8z"/>
<path class="s147" d="M523 92l1.8-1.6-1.5 1.2-1.8 1.4z"/>
<path class="s12" d="M463.7 216.6l1.8-2.2-1.4-.8-1.8 2.3z"/>
<path class="s23" d="M555.5 206.5l1.8-.7-1.5-2.6-1.8 .8z"/>
<path class="s35" d="M547.8 195.9l1.8-.9-1.5-3.5-1.7 1.1z"/>
<path class="s44" d="M598.8 187.9l1.7-2.8-1.5-.5-1.8 2.7z"/>
<path class="s126" d="M558 113.9l1.8-.8-1.5-5.5-1.7 .7z"/>
<path class="s107" d="M490.4 130.6l1.7-3.5-1.4-.9-1.7 3.3z"/>
<path class="s39" d="M546.4 192.6l1.7-1.1-1.4-3.8-1.8 1.2z"/>
<path class="s19" d="M560.2 210.4l1.8-.9-1.5-2.2-1.8 .9z"/>
<path class="s85" d="M549.8 152.3l1.8-2.2-1.5-5.9-1.7 2.3z"/>
<path class="s120" d="M497.4 117.9l1.8-2.7-1.4-.2-1.8 2.5z"/>
<path class="s99" d="M553.7 139.9l1.7-2-1.5-6.1-1.7 2.1z"/>
<path class="s41" d="M597 190.8l1.8-2.9-1.6-.6-1.7 2.8z"/>
<path class="s62" d="M483.7 172.4l1.7-4.1-1.4-2-1.8 4.3z"/>
<path class="s32" d="M549.3 199.1l1.8-.9-1.5-3.2-1.8 .9z"/>
<path class="s16" d="M576.4 213.2l1.8-1.9-1.5-1.4-1.8 1.8z"/>
<path class="s72" d="M546 164.3l1.8-2.1-1.5-5.5-1.7 2.2z"/>
<path class="s38" d="M595.2 193.7l1.8-2.9-1.5-.7-1.8 2.8z"/>
<path class="s44" d="M544.9 188.9l1.8-1.2-1.5-4-1.8 1.3z"/>
<path class="s156" d="M534.8 83.6l1.7-.9-1.4 .8-1.8 .8z"/>
<path class="s19" d="M581.4 210.7l1.8-2.2-1.5-1.3-1.8 2.2z"/>
<path class="s53" d="M646.5 178.6l1.6 .7-1.5-2.3-1.7-.7z"/>
<path class="s65" d="M620.9 167.2l1.6-.8-1.5 .1-1.7 .7z"/>
<path class="s111" d="M492.1 127.1l1.8-3.3-1.4-.8-1.8 3.2z"/>
<path class="s55" d="M543.7 179.4l1.8-1.6-1.5-4.7-1.8 1.8z"/>
<path class="s35" d="M593.5 196.5l1.7-2.8-1.5-.8-1.8 2.8z"/>
<path class="s117" d="M495.7 120.7l1.7-2.8-1.4-.4-1.8 2.6z"/>
<path class="s62" d="M544 173.1l1.8-1.8-1.5-5-1.8 2z"/>
<path class="s109" d="M555.7 130l1.8-1.7-1.5-6-1.8 1.6z"/>
<path class="s114" d="M493.9 123.8l1.8-3.1-1.5-.6-1.7 2.9z"/>
<path class="s158" d="M546.2 82.5l1.8 0-1.5-.9-1.7-.1z"/>
<path class="s32" d="M591.7 199.4l1.8-2.9-1.6-.8-1.7 2.7z"/>
<path class="s87" d="M486.3 149.6l1.7-4.2-1.4-1.7-1.7 4.2z"/>
<path class="s139" d="M514.5 100l1.7-2-1.4 .8-1.8 1.7z"/>
<path class="s45" d="M481.3 187.5l1.8-3.6-1.5-1.7-1.7 3.8z"/>
<path class="s158" d="M543 81.7l1.8-.2-1.5-.3-1.8 .1z"/>
<path class="s29" d="M550.8 202l1.8-.8-1.5-3-1.8 .9z"/>
<path class="s63" d="M615.9 169.6l1.7-1.3-1.6 .1-1.7 1.3z"/>
<path class="s56" d="M483.4 178.3l1.7-4-1.4-1.9-1.7 4.1z"/>
<path class="s10" d="M461.9 218.7l1.8-2.1-1.4-.7-1.8 2.1z"/>
<path class="s62" d="M637.1 169.7l1.6 .4-1.6-1.2-1.6-.5z"/>
<path class="s29" d="M590 202.1l1.7-2.7-1.5-1-1.8 2.7z"/>
<path class="s15" d="M568.2 214.2l1.7-1.2-1.5-1.7-1.7 1.2z"/>
<path class="s26" d="M474 204.9l1.7-2.9-1.4-1-1.7 3z"/>
<path class="s138" d="M556.9 102.4l1.7-.3-1.5-4.6-1.7 .1z"/>
<path class="s130" d="M505.9 108.4l1.8-2.2-1.4 .3-1.8 1.9z"/>
<path class="s57" d="M609.1 175.2l1.7-2.1-1.5 0-1.8 2z"/>
<path class="s83" d="M548.1 154.5l1.7-2.2-1.4-5.8-1.8 2.3z"/>
<path class="s29" d="M475.7 202l1.8-3-1.4-1.1-1.8 3.1z"/>
<path class="s98" d="M488.3 139.6l1.8-4-1.5-1.4-1.7 3.9z"/>
<path class="s23" d="M472.2 207.7l1.8-2.8-1.4-.9-1.8 2.8z"/>
<path class="s48" d="M543.4 185l1.8-1.3-1.5-4.3-1.8 1.5z"/>
<path class="s15" d="M571.4 214.7l1.8-1.4-1.5-1.6-1.8 1.3z"/>
<path class="s16" d="M565 213.5l1.7-1-1.5-1.9-1.7 1z"/>
<path class="s81" d="M486 155.8l1.7-4.3-1.4-1.9-1.7 4.3z"/>
<path class="s21" d="M557 208.9l1.7-.7-1.4-2.4-1.8 .7z"/>
<path class="s97" d="M551.9 142l1.8-2.1-1.5-6-1.8 2.1z"/>
<path class="s26" d="M588.2 204.8l1.8-2.7-1.6-1-1.7 2.6z"/>
<path class="s33" d="M477.5 199l1.8-3.2-1.5-1.2-1.7 3.3z"/>
<path class="s70" d="M544.3 166.3l1.7-2-1.4-5.4-1.8 2.2z"/>
<path class="s20" d="M470.4 210.3l1.8-2.6-1.4-.9-1.8 2.7z"/>
<path class="s59" d="M641.8 173.6l1.6 .6-1.5-1.8-1.6-.7z"/>
<path class="s154" d="M551 86.6l1.7 .2-1.5-2.3-1.7-.3z"/>
<path class="s145" d="M521.2 93.8l1.8-1.8-1.5 1-1.7 1.6z"/>
<path class="s74" d="M485.7 162.1l1.8-4.3-1.5-2-1.7 4.3z"/>
<path class="s17" d="M579.7 212.7l1.7-2-1.5-1.3-1.7 1.9z"/>
<path class="s26" d="M552.3 204.7l1.7-.7-1.4-2.8-1.8 .8z"/>
<path class="s152" d="M528 88.1l1.8-1.5-1.5 1-1.8 1.3z"/>
<path class="s50" d="M483.1 183.9l1.7-3.8-1.4-1.8-1.8 3.9z"/>
<path class="s36" d="M479.3 195.8l1.7-3.3-1.4-1.4-1.8 3.5z"/>
<path class="s23" d="M586.4 207.3l1.8-2.5-1.5-1.1-1.8 2.5z"/>
<path class="s67" d="M485.4 168.3l1.8-4.2-1.5-2-1.7 4.2z"/>
<path class="s51" d="M648 181.3l1.6 .5-1.5-2.5-1.6-.7z"/>
<path class="s17" d="M561.7 212.4l1.8-.8-1.5-2.1-1.8 .9z"/>
<path class="s15" d="M574.7 214.8l1.7-1.6-1.5-1.5-1.7 1.6z"/>
<path class="s66" d="M624.1 166.7l1.7-.6-1.6-.1-1.7 .4z"/>
<path class="s118" d="M556 122.3l1.7-1.4-1.4-5.9-1.8 1.3z"/>
<path class="s17" d="M468.7 212.7l1.7-2.4-1.4-.8-1.7 2.5z"/>
<path class="s81" d="M546.3 156.7l1.8-2.2-1.5-5.7-1.7 2.3z"/>
<path class="s60" d="M542.2 174.9l1.8-1.8-1.5-4.8-1.7 1.9z"/>
<path class="s55" d="M607.3 177.6l1.8-2.4-1.6-.1-1.7 2.2z"/>
<path class="s128" d="M504.2 110.7l1.7-2.3-1.4 0-1.8 2.1z"/>
<path class="s137" d="M512.7 102l1.8-2-1.5 .5-1.7 1.8z"/>
<path class="s108" d="M553.9 131.8l1.8-1.8-1.5-6.1-1.7 1.9z"/>
<path class="s64" d="M633.9 168.1l1.6 .3-1.6-1-1.6-.3z"/>
<path class="s143" d="M555.4 97.6l1.7-.1-1.4-4.2-1.8 .1z"/>
<path class="s53" d="M541.9 180.9l1.8-1.5-1.5-4.5-1.7 1.7z"/>
<path class="s102" d="M490.1 135.6l1.7-3.7-1.4-1.3-1.8 3.6z"/>
<path class="s92" d="M488 145.4l1.8-4.1-1.5-1.7-1.7 4.1z"/>
<path class="s61" d="M485.1 174.3l1.8-4.1-1.5-1.9-1.7 4.1z"/>
<path class="s95" d="M550.1 144.2l1.8-2.2-1.5-6-1.7 2.3z"/>
<path class="s133" d="M556.6 108.3l1.7-.7-1.4-5.2-1.8 .6z"/>
<path class="s40" d="M481 192.5l1.8-3.5-1.5-1.5-1.7 3.6z"/>
<path class="s39" d="M544.6 193.5l1.8-.9-1.5-3.7-1.8 1.1z"/>
<path class="s151" d="M552.4 89.7l1.8 0-1.5-2.9-1.7-.2z"/>
<path class="s21" d="M584.7 209.7l1.7-2.4-1.5-1.1-1.7 2.3z"/>
<path class="s68" d="M542.5 168.3l1.8-2-1.5-5.2-1.8 2.1z"/>
<path class="s35" d="M546.1 196.7l1.7-.8-1.4-3.3-1.8 .9z"/>
<path class="s126" d="M556.3 115l1.7-1.1-1.4-5.6-1.8 1z"/>
<path class="s15" d="M466.9 215.1l1.8-2.4-1.4-.7-1.8 2.4z"/>
<path class="s66" d="M627.4 166.6l1.7-.3-1.6-.4-1.7 .2z"/>
<path class="s158" d="M538 82.6l1.8-.8-1.5 .2-1.8 .7z"/>
<path class="s43" d="M543.1 190l1.8-1.1-1.5-3.9-1.7 1.3z"/>
<path class="s62" d="M614.1 171.3l1.8-1.7-1.6 .1-1.7 1.5z"/>
<path class="s148" d="M553.9 93.4l1.8-.1-1.5-3.6-1.8 0z"/>
<path class="s66" d="M630.6 167.1l1.7 0-1.6-.7-1.6-.1z"/>
<path class="s53" d="M605.6 180.1l1.7-2.5-1.5-.3-1.8 2.5z"/>
<path class="s78" d="M544.6 158.9l1.7-2.2-1.4-5.6-1.8 2.4z"/>
<path class="s23" d="M553.8 207.1l1.7-.6-1.5-2.5-1.7 .7z"/>
<path class="s155" d="M533 84.8l1.8-1.2-1.5 .7-1.8 1z"/>
<path class="s86" d="M487.7 151.5l1.8-4.2-1.5-1.9-1.7 4.2z"/>
<path class="s19" d="M558.5 211l1.7-.6-1.5-2.2-1.7 .7z"/>
<path class="s126" d="M502.4 113.2l1.8-2.5-1.5-.2-1.7 2.3z"/>
<path class="s48" d="M649.5 184.1l1.6 .4-1.5-2.7-1.6-.5z"/>
<path class="s15" d="M577.9 214.6l1.8-1.9-1.5-1.4-1.8 1.9z"/>
<path class="s32" d="M547.6 199.8l1.7-.7-1.5-3.2-1.7 .8z"/>
<path class="s54" d="M484.8 180.1l1.8-3.9-1.5-1.9-1.7 4z"/>
<path class="s144" d="M519.5 95.7l1.7-1.9-1.4 .8-1.8 1.6z"/>
<path class="s107" d="M491.8 131.9l1.8-3.6-1.5-1.2-1.7 3.5z"/>
<path class="s65" d="M619.1 168.4l1.8-1.2-1.6 0-1.7 1.1z"/>
<path class="s92" d="M548.4 146.5l1.7-2.3-1.4-5.9-1.8 2.3z"/>
<path class="s47" d="M541.7 186.3l1.7-1.3-1.5-4.1-1.7 1.4z"/>
<path class="s79" d="M487.5 157.8l1.7-4.3-1.5-2-1.7 4.3z"/>
<path class="s44" d="M482.8 189l1.7-3.6-1.4-1.5-1.8 3.6z"/>
<path class="s50" d="M603.8 182.8l1.8-2.7-1.6-.3-1.7 2.6z"/>
<path class="s135" d="M510.9 104.1l1.8-2.1-1.4 .3-1.8 1.9z"/>
<path class="s14" d="M569.7 215.9l1.7-1.2-1.5-1.7-1.7 1.2z"/>
<path class="s19" d="M582.9 212l1.8-2.3-1.5-1.2-1.8 2.2z"/>
<path class="s157" d="M547.7 84.3l1.8-.1-1.5-1.7-1.8 0z"/>
<path class="s57" d="M643.3 175.8l1.6 .5-1.5-2.1-1.6-.6z"/>
<path class="s106" d="M552.2 133.9l1.7-2.1-1.4-6-1.8 2z"/>
<path class="s15" d="M566.4 215.2l1.8-1-1.5-1.7-1.7 1z"/>
<path class="s72" d="M487.2 164.1l1.7-4.2-1.4-2.1-1.8 4.3z"/>
<path class="s59" d="M540.5 176.6l1.7-1.7-1.4-4.7-1.8 1.8z"/>
<path class="s12" d="M465.1 217.2l1.8-2.1-1.4-.7-1.8 2.2z"/>
<path class="s150" d="M526.2 89.8l1.8-1.7-1.5 .8-1.7 1.5z"/>
<path class="s123" d="M500.6 115.8l1.8-2.6-1.4-.4-1.8 2.4z"/>
<path class="s97" d="M489.8 141.3l1.7-4-1.4-1.7-1.8 4z"/>
<path class="s62" d="M638.6 171.3l1.7 .4-1.6-1.6-1.6-.4z"/>
<path class="s47" d="M602.1 185.6l1.7-2.8-1.5-.4-1.8 2.7z"/>
<path class="s110" d="M493.6 128.3l1.7-3.4-1.4-1.1-1.8 3.3z"/>
<path class="s29" d="M549 202.5l1.8-.5-1.5-2.9-1.7 .7z"/>
<path class="s117" d="M554.2 123.9l1.8-1.6-1.5-6-1.7 1.7z"/>
<path class="s76" d="M542.8 161.1l1.8-2.2-1.5-5.4-1.8 2.3z"/>
<path class="s66" d="M540.8 170.2l1.7-1.9-1.5-5.1-1.7 2.1z"/>
<path class="s14" d="M572.9 216.2l1.8-1.4-1.5-1.5-1.8 1.4z"/>
<path class="s66" d="M486.9 170.2l1.7-4.1-1.4-2-1.8 4.2z"/>
<path class="s44" d="M600.3 188.5l1.8-2.9-1.6-.5-1.7 2.8z"/>
<path class="s41" d="M598.5 191.5l1.8-3-1.5-.6-1.8 2.9z"/>
<path class="s16" d="M563.2 214.3l1.8-.8-1.5-1.9-1.8 .8z"/>
<path class="s38" d="M596.8 194.5l1.7-3-1.5-.7-1.8 2.9z"/>
<path class="s90" d="M546.6 148.8l1.8-2.3-1.5-5.9-1.8 2.4z"/>
<path class="s35" d="M595 197.5l1.8-3-1.6-.8-1.7 2.8z"/>
<path class="s159" d="M541.2 82.3l1.8-.6-1.5-.4-1.7 .5z"/>
<path class="s120" d="M498.9 118.6l1.7-2.8-1.4-.6-1.8 2.7z"/>
<path class="s52" d="M540.2 182.3l1.7-1.4-1.4-4.3-1.8 1.5z"/>
<path class="s32" d="M593.2 200.4l1.8-2.9-1.5-1-1.8 2.9z"/>
<path class="s114" d="M495.3 124.9l1.8-3.3-1.4-.9-1.8 3.1z"/>
<path class="s117" d="M497.1 121.6l1.8-3-1.5-.7-1.7 2.8z"/>
<path class="s49" d="M484.5 185.4l1.8-3.6-1.5-1.7-1.7 3.8z"/>
<path class="s29" d="M591.5 203.2l1.7-2.8-1.5-1-1.7 2.7z"/>
<path class="s158" d="M544.5 82.9l1.7-.4-1.4-1-1.8 .2z"/>
<path class="s139" d="M555.1 103l1.8-.6-1.5-4.8-1.8 .5z"/>
<path class="s60" d="M612.4 173.3l1.7-2-1.5-.1-1.8 1.9z"/>
<path class="s21" d="M555.2 209.4l1.8-.5-1.5-2.4-1.7 .6z"/>
<path class="s59" d="M486.6 176.2l1.7-4-1.4-2-1.8 4.1z"/>
<path class="s29" d="M477.2 202.9l1.7-2.9-1.4-1-1.8 3z"/>
<path class="s26" d="M475.4 205.7l1.8-2.8-1.5-.9-1.7 2.9z"/>
<path class="s142" d="M517.7 97.8l1.8-2.1-1.5 .5-1.8 1.8z"/>
<path class="s91" d="M489.5 147.3l1.7-4.2-1.4-1.8-1.8 4.1z"/>
<path class="s133" d="M509.1 106.4l1.8-2.3-1.4 .1-1.8 2z"/>
<path class="s17" d="M581.2 214l1.7-2-1.5-1.3-1.7 2z"/>
<path class="s32" d="M478.9 200l1.8-3.1-1.4-1.1-1.8 3.2z"/>
<path class="s26" d="M589.7 205.9l1.8-2.7-1.5-1.1-1.8 2.7z"/>
<path class="s104" d="M550.4 136l1.8-2.1-1.5-6.1-1.7 2.2z"/>
<path class="s14" d="M576.2 216.2l1.7-1.6-1.5-1.4-1.7 1.6z"/>
<path class="s23" d="M473.6 208.4l1.8-2.7-1.4-.8-1.8 2.8z"/>
<path class="s10" d="M463.3 219.3l1.8-2.1-1.4-.6-1.8 2.1z"/>
<path class="s74" d="M541 163.2l1.8-2.1-1.5-5.3-1.7 2.2z"/>
<path class="s88" d="M544.9 151.1l1.7-2.3-1.5-5.8-1.7 2.5z"/>
<path class="s26" d="M550.5 205.1l1.8-.4-1.5-2.7-1.8 .5z"/>
<path class="s17" d="M560 213l1.7-.6-1.5-2-1.7 .6z"/>
<path class="s36" d="M480.7 196.9l1.7-3.2-1.4-1.2-1.7 3.3z"/>
<path class="s125" d="M554.5 116.3l1.8-1.3-1.5-5.7-1.7 1.3z"/>
<path class="s101" d="M491.5 137.3l1.8-3.9-1.5-1.5-1.7 3.7z"/>
<path class="s66" d="M622.4 167.5l1.7-.8-1.6-.3-1.6 .8z"/>
<path class="s84" d="M489.2 153.5l1.7-4.2-1.4-2-1.8 4.2z"/>
<path class="s23" d="M588 208.5l1.7-2.6-1.5-1.1-1.8 2.5z"/>
<path class="s155" d="M531.2 86.3l1.8-1.5-1.5 .5-1.7 1.3z"/>
<path class="s55" d="M644.8 178.2l1.7 .4-1.6-2.3-1.6-.5z"/>
<path class="s132" d="M554.8 109.3l1.8-1-1.5-5.3-1.7 1z"/>
<path class="s20" d="M471.8 210.9l1.8-2.5-1.4-.7-1.8 2.6z"/>
<path class="s64" d="M539 172l1.8-1.8-1.5-4.9-1.8 2z"/>
<path class="s39" d="M542.9 194.3l1.7-.8-1.5-3.5-1.7 1z"/>
<path class="s43" d="M541.4 191l1.7-1-1.4-3.7-1.8 1.1z"/>
<path class="s77" d="M488.9 159.9l1.7-4.2-1.4-2.2-1.7 4.3z"/>
<path class="s57" d="M538.7 178.1l1.8-1.5-1.5-4.6-1.8 1.8z"/>
<path class="s155" d="M549.2 86.8l1.8-.2-1.5-2.4-1.8 .1z"/>
<path class="s149" d="M524.4 91.7l1.8-1.9-1.4 .6-1.8 1.6z"/>
<path class="s64" d="M635.4 169.5l1.7 .2-1.6-1.3-1.6-.3z"/>
<path class="s53" d="M486.3 181.8l1.7-3.8-1.4-1.8-1.8 3.9z"/>
<path class="s40" d="M482.4 193.7l1.8-3.3-1.4-1.4-1.8 3.5z"/>
<path class="s158" d="M536.2 83.7l1.8-1.1-1.5 .1-1.7 .9z"/>
<path class="s115" d="M552.5 125.8l1.7-1.9-1.4-5.9-1.8 1.8z"/>
<path class="s64" d="M617.4 169.8l1.7-1.4-1.5-.1-1.7 1.3z"/>
<path class="s71" d="M488.6 166.1l1.8-4.1-1.5-2.1-1.7 4.2z"/>
<path class="s35" d="M544.3 197.4l1.8-.7-1.5-3.2-1.7 .8z"/>
<path class="s47" d="M539.9 187.4l1.8-1.1-1.5-4-1.8 1.3z"/>
<path class="s102" d="M548.7 138.3l1.7-2.3-1.4-6-1.8 2.3z"/>
<path class="s131" d="M507.4 108.7l1.7-2.3-1.4-.2-1.8 2.2z"/>
<path class="s58" d="M610.6 175.5l1.8-2.2-1.6-.2-1.7 2.1z"/>
<path class="s85" d="M543.1 153.5l1.8-2.4-1.5-5.6-1.8 2.4z"/>
<path class="s20" d="M586.2 211l1.8-2.5-1.6-1.2-1.7 2.4z"/>
<path class="s144" d="M553.6 98.1l1.8-.5-1.5-4.2-1.7 .4z"/>
<path class="s17" d="M470.1 213.3l1.7-2.4-1.4-.6-1.7 2.4z"/>
<path class="s140" d="M515.9 99.9l1.8-2.1-1.5 .2-1.7 2z"/>
<path class="s64" d="M488.3 172.2l1.8-4-1.5-2.1-1.7 4.1z"/>
<path class="s72" d="M539.3 165.3l1.7-2.1-1.4-5.2-1.8 2.2z"/>
<path class="s106" d="M493.3 133.4l1.7-3.7-1.4-1.4-1.8 3.6z"/>
<path class="s15" d="M579.4 215.9l1.8-1.9-1.5-1.3-1.8 1.9z"/>
<path class="s13" d="M567.9 216.9l1.8-1-1.5-1.7-1.8 1z"/>
<path class="s96" d="M491.2 143.1l1.8-4-1.5-1.8-1.7 4z"/>
<path class="s44" d="M484.2 190.4l1.8-3.4-1.5-1.6-1.7 3.6z"/>
<path class="s60" d="M640.2 173.3l1.6 .3-1.5-1.9-1.7-.4z"/>
<path class="s13" d="M571.2 217.4l1.7-1.2-1.5-1.5-1.7 1.2z"/>
<path class="s67" d="M625.7 167.2l1.7-.6-1.6-.5-1.7 .6z"/>
<path class="s32" d="M545.8 200.3l1.8-.5-1.5-3.1-1.8 .7z"/>
<path class="s51" d="M538.4 183.6l1.8-1.3-1.5-4.2-1.8 1.5z"/>
<path class="s19" d="M556.7 211.5l1.8-.5-1.5-2.1-1.8 .5z"/>
<path class="s24" d="M552 207.5l1.8-.4-1.5-2.4-1.8 .4z"/>
<path class="s152" d="M550.7 90l1.7-.3-1.4-3.1-1.8 .2z"/>
<path class="s14" d="M564.7 216l1.7-.8-1.4-1.7-1.8 .8z"/>
<path class="s66" d="M632.2 168.2l1.7-.1-1.6-1-1.7 0z"/>
<path class="s148" d="M552.2 93.8l1.7-.4-1.5-3.7-1.7 .3z"/>
<path class="s129" d="M505.6 111.3l1.8-2.6-1.5-.3-1.7 2.3z"/>
<path class="s100" d="M546.9 140.6l1.8-2.3-1.5-6-1.8 2.5z"/>
<path class="s83" d="M541.3 155.8l1.8-2.3-1.5-5.6-1.7 2.4z"/>
<path class="s53" d="M646.4 181l1.6 .3-1.5-2.7-1.7-.4z"/>
<path class="s56" d="M608.9 177.9l1.7-2.4-1.5-.3-1.8 2.4z"/>
<path class="s18" d="M584.5 213.2l1.7-2.2-1.5-1.3-1.8 2.3z"/>
<path class="s58" d="M488 178l1.8-3.8-1.5-2-1.7 4z"/>
<path class="s67" d="M629 167.4l1.6-.3-1.5-.8-1.7 .3z"/>
<path class="s89" d="M490.9 149.3l1.8-4.1-1.5-2.1-1.7 4.2z"/>
<path class="s15" d="M468.3 215.6l1.8-2.3-1.4-.6-1.8 2.4z"/>
<path class="s13" d="M574.4 217.7l1.8-1.5-1.5-1.4-1.8 1.4z"/>
<path class="s63" d="M537.2 173.8l1.8-1.8-1.5-4.7-1.8 1.9z"/>
<path class="s110" d="M495 129.7l1.8-3.5-1.5-1.3-1.7 3.4z"/>
<path class="s114" d="M550.7 127.8l1.8-2-1.5-6-1.7 2.1z"/>
<path class="s147" d="M522.7 93.6l1.7-1.9-1.4 .3-1.8 1.8z"/>
<path class="s48" d="M486 187l1.7-3.5-1.4-1.7-1.8 3.6z"/>
<path class="s124" d="M552.8 118l1.7-1.7-1.4-5.7-1.8 1.6z"/>
<path class="s82" d="M490.6 155.7l1.8-4.2-1.5-2.2-1.7 4.2z"/>
<path class="s139" d="M514.1 102.1l1.8-2.2-1.4 .1-1.8 2z"/>
<path class="s159" d="M539.5 83.2l1.7-.9-1.4-.5-1.8 .8z"/>
<path class="s157" d="M546 84.8l1.7-.5-1.5-1.8-1.7 .4z"/>
<path class="s126" d="M503.8 113.9l1.8-2.6-1.4-.6-1.8 2.5z"/>
<path class="s70" d="M537.5 167.3l1.8-2-1.5-5.1-1.8 2.2z"/>
<path class="s153" d="M529.5 88l1.7-1.7-1.4 .3-1.8 1.5z"/>
<path class="s16" d="M561.5 214.9l1.7-.6-1.5-1.9-1.7 .6z"/>
<path class="s56" d="M536.9 179.6l1.8-1.5-1.5-4.3-1.7 1.6z"/>
<path class="s75" d="M490.4 162l1.7-4.1-1.5-2.2-1.7 4.2z"/>
<path class="s29" d="M547.3 203l1.7-.5-1.4-2.7-1.8 .5z"/>
<path class="s97" d="M545.1 143l1.8-2.4-1.5-5.8-1.7 2.4z"/>
<path class="s54" d="M607.1 180.6l1.8-2.7-1.6-.3-1.7 2.5z"/>
<path class="s81" d="M539.6 158l1.7-2.2-1.4-5.5-1.8 2.4z"/>
<path class="s139" d="M553.4 104l1.7-1-1.5-4.9-1.7 .9z"/>
<path class="s114" d="M496.8 126.2l1.7-3.3-1.4-1.3-1.8 3.3z"/>
<path class="s63" d="M615.7 171.6l1.7-1.8-1.5-.2-1.8 1.7z"/>
<path class="s100" d="M493 139.1l1.7-3.9-1.4-1.8-1.8 3.9z"/>
<path class="s69" d="M490.1 168.2l1.7-4-1.4-2.2-1.8 4.1z"/>
<path class="s123" d="M502.1 116.7l1.7-2.8-1.4-.7-1.8 2.6z"/>
<path class="s50" d="M647.9 183.9l1.6 .2-1.5-2.8-1.6-.3z"/>
<path class="s51" d="M605.4 183.4l1.7-2.8-1.5-.5-1.8 2.7z"/>
<path class="s159" d="M542.7 83.6l1.8-.7-1.5-1.2-1.8 .6z"/>
<path class="s132" d="M553.1 110.6l1.7-1.3-1.4-5.3-1.8 1.2z"/>
<path class="s117" d="M498.5 122.9l1.8-3.2-1.4-1.1-1.8 3z"/>
<path class="s66" d="M620.7 168.7l1.7-1.2-1.5-.3-1.8 1.2z"/>
<path class="s31" d="M594.8 201.4l1.7-3-1.5-.9-1.8 2.9z"/>
<path class="s35" d="M596.5 198.4l1.8-3-1.5-.9-1.8 3z"/>
<path class="s13" d="M577.7 217.6l1.7-1.7-1.5-1.3-1.7 1.6z"/>
<path class="s120" d="M500.3 119.7l1.8-3-1.5-.9-1.7 2.8z"/>
<path class="s13" d="M466.5 217.8l1.8-2.2-1.4-.5-1.8 2.1z"/>
<path class="s16" d="M582.7 215.3l1.8-2.1-1.6-1.2-1.7 2z"/>
<path class="s38" d="M598.3 195.4l1.8-3-1.6-.9-1.7 3z"/>
<path class="s28" d="M593 204.3l1.8-2.9-1.6-1-1.7 2.8z"/>
<path class="s48" d="M603.6 186.3l1.8-2.9-1.6-.6-1.7 2.8z"/>
<path class="s52" d="M487.7 183.5l1.8-3.6-1.5-1.9-1.7 3.8z"/>
<path class="s41" d="M600.1 192.4l1.7-3.1-1.5-.8-1.8 3z"/>
<path class="s157" d="M534.5 85.1l1.7-1.4-1.4-.1-1.8 1.2z"/>
<path class="s45" d="M601.8 189.3l1.8-3-1.5-.7-1.8 2.9z"/>
<path class="s95" d="M543.4 145.5l1.7-2.5-1.4-5.8-1.8 2.6z"/>
<path class="s62" d="M489.8 174.2l1.7-3.8-1.4-2.2-1.8 4z"/>
<path class="s22" d="M553.5 209.7l1.7-.3-1.4-2.3-1.8 .4z"/>
<path class="s112" d="M549 130l1.7-2.2-1.4-5.9-1.8 2.2z"/>
<path class="s25" d="M591.2 207.1l1.8-2.8-1.5-1.1-1.8 2.7z"/>
<path class="s42" d="M539.6 191.8l1.8-.8-1.5-3.6-1.8 1z"/>
<path class="s46" d="M538.1 188.4l1.8-1-1.5-3.8-1.7 1.2z"/>
<path class="s32" d="M480.3 200.9l1.8-2.9-1.4-1.1-1.8 3.1z"/>
<path class="s29" d="M478.6 203.7l1.7-2.8-1.4-.9-1.7 2.9z"/>
<path class="s136" d="M512.4 104.5l1.7-2.4-1.4-.1-1.8 2.1z"/>
<path class="s59" d="M641.7 175.5l1.6 .3-1.5-2.2-1.6-.3z"/>
<path class="s78" d="M537.8 160.2l1.8-2.2-1.5-5.3-1.8 2.4z"/>
<path class="s63" d="M637 171.2l1.6 .1-1.5-1.6-1.7-.2z"/>
<path class="s94" d="M492.7 145.2l1.7-4-1.4-2.1-1.8 4z"/>
<path class="s39" d="M541.1 195l1.8-.7-1.5-3.3-1.8 .8z"/>
<path class="s35" d="M482.1 198l1.8-3.1-1.5-1.2-1.7 3.2z"/>
<path class="s146" d="M520.9 95.8l1.8-2.2-1.5 .2-1.7 1.9z"/>
<path class="s26" d="M476.8 206.5l1.8-2.8-1.4-.8-1.8 2.8z"/>
<path class="s61" d="M535.5 175.4l1.7-1.6-1.5-4.6-1.7 1.9z"/>
<path class="s18" d="M558.2 213.5l1.8-.5-1.5-2-1.8 .5z"/>
<path class="s68" d="M535.7 169.2l1.8-1.9-1.5-4.9-1.7 2.1z"/>
<path class="s23" d="M589.5 209.7l1.7-2.6-1.5-1.2-1.7 2.6z"/>
<path class="s27" d="M548.8 205.4l1.7-.3-1.5-2.6-1.7 .5z"/>
<path class="s50" d="M536.7 184.8l1.7-1.2-1.5-4-1.7 1.4z"/>
<path class="s92" d="M541.6 147.9l1.8-2.4-1.5-5.7-1.8 2.5z"/>
<path class="s39" d="M483.9 194.9l1.7-3.2-1.4-1.3-1.8 3.3z"/>
<path class="s105" d="M494.7 135.2l1.8-3.7-1.5-1.8-1.7 3.7z"/>
<path class="s87" d="M492.4 151.5l1.7-4.1-1.4-2.2-1.8 4.1z"/>
<path class="s123" d="M551 119.8l1.8-1.8-1.5-5.8-1.8 1.9z"/>
<path class="s23" d="M475 209l1.8-2.5-1.4-.8-1.8 2.7z"/>
<path class="s12" d="M569.4 218.5l1.8-1.1-1.5-1.5-1.8 1z"/>
<path class="s35" d="M542.6 197.9l1.7-.5-1.4-3.1-1.8 .7z"/>
<path class="s80" d="M492.1 157.9l1.7-4.1-1.4-2.3-1.8 4.2z"/>
<path class="s152" d="M527.7 89.9l1.8-1.9-1.5 .1-1.8 1.7z"/>
<path class="s56" d="M489.5 179.9l1.7-3.7-1.4-2-1.8 3.8z"/>
<path class="s144" d="M551.9 99l1.7-.9-1.4-4.3-1.8 .7z"/>
<path class="s155" d="M547.4 87.4l1.8-.6-1.5-2.5-1.7 .5z"/>
<path class="s109" d="M547.2 132.3l1.8-2.3-1.5-5.9-1.8 2.4z"/>
<path class="s61" d="M614 173.6l1.7-2-1.6-.3-1.7 2z"/>
<path class="s13" d="M566.2 217.7l1.7-.8-1.5-1.7-1.7 .8z"/>
<path class="s74" d="M491.8 164.2l1.8-4-1.5-2.3-1.7 4.1z"/>
<path class="s11" d="M464.7 219.8l1.8-2-1.4-.6-1.8 2.1z"/>
<path class="s12" d="M572.7 218.9l1.7-1.2-1.5-1.5-1.7 1.2z"/>
<path class="s20" d="M587.7 212.2l1.8-2.5-1.5-1.2-1.8 2.5z"/>
<path class="s134" d="M510.6 106.9l1.8-2.4-1.5-.4-1.8 2.3z"/>
<path class="s43" d="M485.6 191.7l1.8-3.2-1.4-1.5-1.8 3.4z"/>
<path class="s14" d="M581 217.2l1.7-1.9-1.5-1.3-1.8 1.9z"/>
<path class="s55" d="M535.2 181l1.7-1.4-1.4-4.2-1.8 1.6z"/>
<path class="s76" d="M536 162.4l1.8-2.2-1.5-5.1-1.7 2.4z"/>
<path class="s90" d="M539.9 150.3l1.7-2.4-1.5-5.6-1.7 2.6z"/>
<path class="s20" d="M473.2 211.5l1.8-2.5-1.4-.6-1.8 2.5z"/>
<path class="s67" d="M624 168.1l1.7-.9-1.6-.5-1.7 .8z"/>
<path class="s67" d="M491.5 170.4l1.8-3.9-1.5-2.3-1.7 4z"/>
<path class="s144" d="M519.1 98l1.8-2.2-1.4-.1-1.8 2.1z"/>
<path class="s109" d="M496.5 131.5l1.7-3.6-1.4-1.7-1.8 3.5z"/>
<path class="s15" d="M563 216.7l1.7-.7-1.5-1.7-1.7 .6z"/>
<path class="s65" d="M633.8 169.6l1.6-.1-1.5-1.4-1.7 .1z"/>
<path class="s99" d="M494.4 141.2l1.8-3.9-1.5-2.1-1.7 3.9z"/>
<path class="s47" d="M487.4 188.5l1.7-3.4-1.4-1.6-1.7 3.5z"/>
<path class="s32" d="M544 200.7l1.8-.4-1.5-2.9-1.7 .5z"/>
<path class="s107" d="M545.4 134.8l1.8-2.5-1.5-5.8-1.7 2.5z"/>
<path class="s12" d="M575.9 219.1l1.8-1.5-1.5-1.4-1.8 1.5z"/>
<path class="s66" d="M534 171.1l1.7-1.9-1.4-4.7-1.8 2.1z"/>
<path class="s149" d="M550.4 94.5l1.8-.7-1.5-3.8-1.8 .6z"/>
<path class="s158" d="M537.7 84.5l1.8-1.3-1.5-.6-1.8 1.1z"/>
<path class="s57" d="M643.2 178.1l1.6 .1-1.5-2.4-1.6-.3z"/>
<path class="s153" d="M548.9 90.6l1.8-.6-1.5-3.2-1.8 .6z"/>
<path class="s131" d="M551.3 112.2l1.8-1.6-1.5-5.4-1.8 1.6z"/>
<path class="s132" d="M508.8 109.5l1.8-2.6-1.5-.5-1.7 2.3z"/>
<path class="s18" d="M586 214.5l1.7-2.3-1.5-1.2-1.7 2.2z"/>
<path class="s87" d="M538.1 152.7l1.8-2.4-1.5-5.4-1.8 2.5z"/>
<path class="s20" d="M555 211.8l1.7-.3-1.5-2.1-1.7 .3z"/>
<path class="s138" d="M551.6 105.2l1.8-1.2-1.5-5-1.8 1.2z"/>
<path class="s65" d="M619 170.3l1.7-1.6-1.6-.3-1.7 1.4z"/>
<path class="s156" d="M532.7 86.7l1.8-1.6-1.5-.3-1.8 1.5z"/>
<path class="s24" d="M550.3 207.7l1.7-.2-1.5-2.4-1.7 .3z"/>
<path class="s60" d="M491.2 176.2l1.8-3.7-1.5-2.1-1.7 3.8z"/>
<path class="s121" d="M549.3 121.9l1.7-2.1-1.5-5.7-1.7 2z"/>
<path class="s18" d="M471.5 213.8l1.7-2.3-1.4-.6-1.7 2.4z"/>
<path class="s60" d="M533.7 177l1.8-1.6-1.5-4.3-1.8 1.8z"/>
<path class="s59" d="M612.2 175.9l1.8-2.3-1.6-.3-1.8 2.2z"/>
<path class="s92" d="M494.1 147.4l1.8-4-1.5-2.2-1.7 4z"/>
<path class="s67" d="M627.3 168.1l1.7-.7-1.6-.8-1.7 .6z"/>
<path class="s74" d="M534.3 164.5l1.7-2.1-1.4-4.9-1.8 2.2z"/>
<path class="s113" d="M498.2 127.9l1.8-3.5-1.5-1.5-1.7 3.3z"/>
<path class="s67" d="M630.5 168.6l1.7-.4-1.6-1.1-1.6 .3z"/>
<path class="s158" d="M544.2 85.6l1.8-.8-1.5-1.9-1.8 .7z"/>
<path class="s104" d="M543.7 137.2l1.7-2.4-1.4-5.8-1.8 2.5z"/>
<path class="s129" d="M507 112.2l1.8-2.7-1.4-.8-1.8 2.6z"/>
<path class="s51" d="M489.1 185.1l1.8-3.4-1.4-1.8-1.8 3.6z"/>
<path class="s85" d="M493.8 153.8l1.8-4-1.5-2.4-1.7 4.1z"/>
<path class="s150" d="M525.9 91.9l1.8-2-1.5-.1-1.8 1.9z"/>
<path class="s78" d="M493.6 160.2l1.7-4-1.5-2.4-1.7 4.1z"/>
<path class="s142" d="M517.4 100.4l1.7-2.4-1.4-.2-1.8 2.1z"/>
<path class="s85" d="M536.3 155.1l1.8-2.4-1.5-5.3-1.8 2.5z"/>
<path class="s62" d="M638.5 173.2l1.7 .1-1.6-2-1.6-.1z"/>
<path class="s158" d="M541 84.6l1.7-1-1.5-1.3-1.7 .9z"/>
<path class="s16" d="M559.7 215.3l1.8-.4-1.5-1.9-1.8 .5z"/>
<path class="s71" d="M493.3 166.5l1.7-3.9-1.4-2.4-1.8 4z"/>
<path class="s116" d="M500 124.4l1.7-3.2-1.4-1.5-1.8 3.2z"/>
<path class="s126" d="M505.3 115.1l1.7-2.9-1.4-.9-1.8 2.6z"/>
<path class="s46" d="M536.4 189.3l1.7-.9-1.4-3.6-1.8 1.1z"/>
<path class="s13" d="M579.2 218.9l1.8-1.7-1.6-1.3-1.7 1.7z"/>
<path class="s30" d="M545.5 203.2l1.8-.2-1.5-2.7-1.8 .4z"/>
<path class="s103" d="M496.2 137.3l1.7-3.8-1.4-2-1.8 3.7z"/>
<path class="s50" d="M534.9 185.9l1.8-1.1-1.5-3.8-1.8 1.3z"/>
<path class="s120" d="M501.7 121.2l1.8-3.2-1.4-1.3-1.8 3z"/>
<path class="s102" d="M541.9 139.8l1.8-2.6-1.5-5.7-1.8 2.6z"/>
<path class="s57" d="M610.4 178.5l1.8-2.6-1.6-.4-1.7 2.4z"/>
<path class="s123" d="M503.5 118l1.8-2.9-1.5-1.2-1.7 2.8z"/>
<path class="s16" d="M584.2 216.6l1.8-2.1-1.5-1.3-1.8 2.1z"/>
<path class="s16" d="M469.7 216.1l1.8-2.3-1.4-.5-1.8 2.3z"/>
<path class="s42" d="M537.8 192.5l1.8-.7-1.5-3.4-1.7 .9z"/>
<path class="s54" d="M644.7 180.9l1.7 .1-1.6-2.8-1.6-.1z"/>
<path class="s119" d="M547.5 124.1l1.8-2.2-1.5-5.8-1.8 2.3z"/>
<path class="s65" d="M493 172.5l1.7-3.7-1.4-2.3-1.8 3.9z"/>
<path class="s55" d="M490.9 181.7l1.8-3.5-1.5-2-1.7 3.7z"/>
<path class="s31" d="M596.3 202.5l1.8-3-1.6-1.1-1.7 3z"/>
<path class="s65" d="M532.2 172.9l1.8-1.8-1.5-4.5-1.8 2z"/>
<path class="s28" d="M594.5 205.5l1.8-3-1.5-1.1-1.8 2.9z"/>
<path class="s54" d="M533.4 182.3l1.8-1.3-1.5-4-1.8 1.5z"/>
<path class="s35" d="M598.1 199.5l1.7-3.1-1.5-1-1.8 3z"/>
<path class="s72" d="M532.5 166.6l1.8-2.1-1.5-4.8-1.8 2.3z"/>
<path class="s82" d="M534.6 157.5l1.7-2.4-1.5-5.2-1.7 2.5z"/>
<path class="s25" d="M592.8 208.3l1.7-2.8-1.5-1.2-1.8 2.8z"/>
<path class="s38" d="M599.8 196.4l1.8-3.1-1.5-.9-1.8 3z"/>
<path class="s99" d="M540.1 142.3l1.8-2.5-1.5-5.7-1.7 2.7z"/>
<path class="s54" d="M608.7 181.2l1.7-2.7-1.5-.6-1.8 2.7z"/>
<path class="s139" d="M515.6 102.8l1.8-2.4-1.5-.5-1.8 2.2z"/>
<path class="s39" d="M539.3 195.5l1.8-.5-1.5-3.2-1.8 .7z"/>
<path class="s129" d="M549.5 114.1l1.8-1.9-1.5-5.4-1.7 1.8z"/>
<path class="s97" d="M495.9 143.4l1.7-3.9-1.4-2.2-1.8 3.9z"/>
<path class="s144" d="M550.1 100.2l1.8-1.2-1.5-4.5-1.8 1.2z"/>
<path class="s12" d="M570.9 220l1.8-1.1-1.5-1.5-1.8 1.1z"/>
<path class="s41" d="M601.6 193.3l1.8-3.1-1.6-.9-1.7 3.1z"/>
<path class="s149" d="M524.1 94.1l1.8-2.2-1.5-.2-1.7 1.9z"/>
<path class="s12" d="M567.7 219.3l1.7-.8-1.5-1.6-1.7 .8z"/>
<path class="s22" d="M591 210.9l1.8-2.6-1.6-1.2-1.7 2.6z"/>
<path class="s51" d="M606.9 184.1l1.8-2.9-1.6-.6-1.7 2.8z"/>
<path class="s35" d="M483.5 198.9l1.8-2.9-1.4-1.1-1.8 3.1z"/>
<path class="s45" d="M603.4 190.2l1.8-3.1-1.6-.8-1.8 3z"/>
<path class="s154" d="M530.9 88.5l1.8-1.8-1.5-.4-1.7 1.7z"/>
<path class="s32" d="M481.8 201.7l1.7-2.8-1.4-.9-1.8 2.9z"/>
<path class="s22" d="M551.7 209.9l1.8-.2-1.5-2.2-1.7 .2z"/>
<path class="s48" d="M605.2 187.1l1.7-3-1.5-.7-1.8 2.9z"/>
<path class="s64" d="M617.3 172.1l1.7-1.8-1.6-.5-1.7 1.8z"/>
<path class="s90" d="M495.6 149.8l1.7-4-1.4-2.4-1.8 4z"/>
<path class="s107" d="M497.9 133.5l1.8-3.7-1.5-1.9-1.7 3.6z"/>
<path class="s39" d="M485.3 196l1.8-3-1.5-1.3-1.7 3.2z"/>
<path class="s58" d="M531.9 178.5l1.8-1.5-1.5-4.1-1.8 1.7z"/>
<path class="s66" d="M622.3 169.4l1.7-1.3-1.6-.6-1.7 1.2z"/>
<path class="s83" d="M495.3 156.2l1.8-3.9-1.5-2.5-1.8 4z"/>
<path class="s51" d="M646.2 183.9l1.7 0-1.5-2.9-1.7-.1z"/>
<path class="s96" d="M538.4 144.9l1.7-2.6-1.4-5.5-1.8 2.7z"/>
<path class="s11" d="M574.2 220.4l1.7-1.3-1.5-1.4-1.7 1.2z"/>
<path class="s155" d="M545.7 88.3l1.7-.9-1.4-2.6-1.8 .8z"/>
<path class="s29" d="M480 204.4l1.8-2.7-1.5-.8-1.7 2.8z"/>
<path class="s157" d="M535.9 86l1.8-1.5-1.5-.8-1.7 1.4z"/>
<path class="s76" d="M495 162.6l1.8-3.9-1.5-2.5-1.7 4z"/>
<path class="s18" d="M556.5 213.7l1.7-.2-1.5-2-1.7 .3z"/>
<path class="s116" d="M545.7 126.5l1.8-2.4-1.5-5.7-1.8 2.4z"/>
<path class="s59" d="M492.7 178.2l1.7-3.6-1.4-2.1-1.8 3.7z"/>
<path class="s14" d="M467.9 218.2l1.8-2.1-1.4-.5-1.8 2.2z"/>
<path class="s42" d="M487.1 193l1.7-3.1-1.4-1.4-1.8 3.2z"/>
<path class="s137" d="M549.8 106.8l1.8-1.6-1.5-5-1.7 1.5z"/>
<path class="s80" d="M532.8 159.7l1.8-2.2-1.5-5.1-1.8 2.5z"/>
<path class="s13" d="M564.5 218.3l1.7-.6-1.5-1.7-1.7 .7z"/>
<path class="s137" d="M513.8 105.3l1.8-2.5-1.5-.7-1.7 2.4z"/>
<path class="s36" d="M540.8 198.3l1.8-.4-1.5-2.9-1.8 .5z"/>
<path class="s27" d="M547 205.6l1.8-.2-1.5-2.4-1.8 .2z"/>
<path class="s20" d="M589.2 213.4l1.8-2.5-1.5-1.2-1.8 2.5z"/>
<path class="s14" d="M582.5 218.5l1.7-1.9-1.5-1.3-1.7 1.9z"/>
<path class="s26" d="M478.2 207l1.8-2.6-1.4-.7-1.8 2.8z"/>
<path class="s64" d="M635.3 171.4l1.7-.2-1.6-1.7-1.6 .1z"/>
<path class="s69" d="M494.7 168.8l1.8-3.8-1.5-2.4-1.7 3.9z"/>
<path class="s94" d="M536.6 147.4l1.8-2.5-1.5-5.4-1.8 2.6z"/>
<path class="s46" d="M488.8 189.9l1.8-3.2-1.5-1.6-1.7 3.4z"/>
<path class="s60" d="M640 175.6l1.7-.1-1.5-2.2-1.7-.1z"/>
<path class="s70" d="M530.7 168.6l1.8-2-1.5-4.6-1.8 2.1z"/>
<path class="s148" d="M548.6 95.7l1.8-1.2-1.5-3.9-1.7 1.1z"/>
<path class="s111" d="M499.7 129.8l1.7-3.5-1.4-1.9-1.8 3.5z"/>
<path class="s152" d="M547.2 91.7l1.7-1.1-1.5-3.2-1.7 .9z"/>
<path class="s146" d="M522.4 96.4l1.7-2.3-1.4-.5-1.8 2.2z"/>
<path class="s12" d="M577.5 220.5l1.7-1.6-1.5-1.3-1.8 1.5z"/>
<path class="s63" d="M530.4 174.6l1.8-1.7-1.5-4.3-1.7 1.9z"/>
<path class="s101" d="M497.6 139.5l1.8-3.8-1.5-2.2-1.7 3.8z"/>
<path class="s114" d="M544 129l1.7-2.5-1.5-5.7-1.7 2.5z"/>
<path class="s24" d="M476.4 209.5l1.8-2.5-1.4-.5-1.8 2.5z"/>
<path class="s134" d="M512 108l1.8-2.7-1.4-.8-1.8 2.4z"/>
<path class="s128" d="M547.8 116.1l1.7-2-1.4-5.5-1.8 2z"/>
<path class="s91" d="M534.8 149.9l1.8-2.5-1.5-5.3-1.7 2.7z"/>
<path class="s49" d="M490.6 186.7l1.8-3.3-1.5-1.7-1.8 3.4z"/>
<path class="s77" d="M531 162l1.8-2.3-1.5-4.8-1.8 2.4z"/>
<path class="s63" d="M494.4 174.6l1.8-3.5-1.5-2.3-1.7 3.7z"/>
<path class="s158" d="M539.2 86l1.8-1.4-1.5-1.4-1.8 1.3z"/>
<path class="s157" d="M542.4 86.7l1.8-1.1-1.5-2-1.7 1z"/>
<path class="s15" d="M561.2 217l1.8-.3-1.5-1.8-1.8 .4z"/>
<path class="s17" d="M587.5 215.8l1.7-2.4-1.5-1.2-1.7 2.3z"/>
<path class="s67" d="M625.6 169.1l1.7-1-1.6-.9-1.7 .9z"/>
<path class="s95" d="M497.3 145.8l1.8-3.9-1.5-2.4-1.7 3.9z"/>
<path class="s62" d="M615.5 174.3l1.8-2.2-1.6-.5-1.7 2z"/>
<path class="s115" d="M501.4 126.3l1.8-3.4-1.5-1.7-1.7 3.2z"/>
<path class="s153" d="M529.1 90.6l1.8-2.1-1.4-.5-1.8 1.9z"/>
<path class="s88" d="M497.1 152.3l1.7-3.9-1.5-2.6-1.7 4z"/>
<path class="s33" d="M542.3 200.9l1.7-.2-1.4-2.8-1.8 .4z"/>
<path class="s111" d="M542.2 131.5l1.8-2.5-1.5-5.7-1.8 2.6z"/>
<path class="s12" d="M466.1 220.2l1.8-2-1.4-.4-1.8 2z"/>
<path class="s132" d="M510.3 110.7l1.7-2.7-1.4-1.1-1.8 2.6z"/>
<path class="s81" d="M496.8 158.7l1.7-3.8-1.4-2.6-1.8 3.9z"/>
<path class="s66" d="M632.1 170.1l1.7-.5-1.6-1.4-1.7 .4z"/>
<path class="s49" d="M533.1 186.9l1.8-1-1.5-3.6-1.8 1.2z"/>
<path class="s88" d="M533.1 152.4l1.7-2.5-1.4-5.1-1.8 2.6z"/>
<path class="s74" d="M496.5 165l1.7-3.7-1.4-2.6-1.8 3.9z"/>
<path class="s53" d="M531.6 183.5l1.8-1.2-1.5-3.8-1.8 1.5z"/>
<path class="s53" d="M492.4 183.4l1.7-3.3-1.4-1.9-1.8 3.5z"/>
<path class="s21" d="M474.6 211.9l1.8-2.4-1.4-.5-1.8 2.5z"/>
<path class="s45" d="M534.6 190.1l1.8-.8-1.5-3.4-1.8 1z"/>
<path class="s119" d="M503.2 122.9l1.8-3.2-1.5-1.7-1.8 3.2z"/>
<path class="s67" d="M628.8 169.3l1.7-.7-1.5-1.2-1.7 .7z"/>
<path class="s129" d="M508.5 113.6l1.8-2.9-1.5-1.2-1.8 2.7z"/>
<path class="s144" d="M520.6 98.8l1.8-2.4-1.5-.6-1.8 2.2z"/>
<path class="s68" d="M529 170.5l1.7-1.9-1.5-4.5-1.7 2.2z"/>
<path class="s109" d="M540.4 134.1l1.8-2.6-1.5-5.6-1.8 2.7z"/>
<path class="s21" d="M553.2 211.9l1.8-.1-1.5-2.1-1.8 .2z"/>
<path class="s106" d="M499.4 135.7l1.7-3.7-1.4-2.2-1.8 3.7z"/>
<path class="s122" d="M505 119.7l1.7-3.1-1.4-1.5-1.8 2.9z"/>
<path class="s143" d="M548.4 101.7l1.7-1.5-1.5-4.5-1.7 1.4z"/>
<path class="s126" d="M506.7 116.6l1.8-3-1.5-1.4-1.7 2.9z"/>
<path class="s57" d="M530.1 180l1.8-1.5-1.5-3.9-1.7 1.6z"/>
<path class="s156" d="M534.2 87.7l1.7-1.7-1.4-.9-1.8 1.6z"/>
<path class="s136" d="M548.1 108.6l1.7-1.8-1.4-5.1-1.8 1.8z"/>
<path class="s75" d="M529.2 164.1l1.8-2.1-1.5-4.7-1.7 2.3z"/>
<path class="s12" d="M580.7 220.3l1.8-1.8-1.5-1.3-1.8 1.7z"/>
<path class="s25" d="M548.5 207.8l1.8-.1-1.5-2.3-1.8 .2z"/>
<path class="s67" d="M496.2 171.1l1.7-3.6-1.4-2.5-1.8 3.8z"/>
<path class="s58" d="M641.5 178.2l1.7-.1-1.5-2.6-1.7 .1z"/>
<path class="s126" d="M546 118.4l1.8-2.3-1.5-5.5-1.8 2.3z"/>
<path class="s86" d="M531.3 154.9l1.8-2.5-1.5-5-1.8 2.6z"/>
<path class="s42" d="M536.1 193.1l1.7-.6-1.4-3.2-1.8 .8z"/>
<path class="s65" d="M620.6 171l1.7-1.6-1.6-.7-1.7 1.6z"/>
<path class="s15" d="M585.7 217.9l1.8-2.1-1.5-1.3-1.8 2.1z"/>
<path class="s57" d="M494.1 180.1l1.8-3.4-1.5-2.1-1.7 3.6z"/>
<path class="s106" d="M538.7 136.8l1.7-2.7-1.5-5.5-1.7 2.8z"/>
<path class="s60" d="M613.8 176.6l1.7-2.3-1.5-.7-1.8 2.3z"/>
<path class="s17" d="M558 215.5l1.7-.2-1.5-1.8-1.7 .2z"/>
<path class="s99" d="M499.1 141.9l1.7-3.7-1.4-2.5-1.8 3.8z"/>
<path class="s19" d="M472.9 214.2l1.7-2.3-1.4-.4-1.7 2.3z"/>
<path class="s62" d="M528.7 176.2l1.7-1.6-1.4-4.1-1.8 1.8z"/>
<path class="s142" d="M518.8 101.3l1.8-2.5-1.5-.8-1.7 2.4z"/>
<path class="s11" d="M569.2 220.8l1.7-.8-1.5-1.5-1.7 .8z"/>
<path class="s28" d="M596.1 206.7l1.7-2.9-1.5-1.3-1.8 3z"/>
<path class="s151" d="M527.4 92.8l1.7-2.2-1.4-.7-1.8 2z"/>
<path class="s11" d="M572.5 221.4l1.7-1-1.5-1.5-1.8 1.1z"/>
<path class="s31" d="M597.8 203.8l1.8-3.1-1.5-1.2-1.8 3z"/>
<path class="s103" d="M536.9 139.5l1.8-2.7-1.5-5.4-1.8 2.7z"/>
<path class="s155" d="M543.9 89.5l1.8-1.2-1.5-2.7-1.8 1.1z"/>
<path class="s63" d="M636.8 173.5l1.7-.3-1.5-2-1.7 .2z"/>
<path class="s92" d="M498.8 148.4l1.8-3.8-1.5-2.7-1.8 3.9z"/>
<path class="s85" d="M498.5 154.9l1.8-3.8-1.5-2.7-1.7 3.9z"/>
<path class="s25" d="M594.3 209.5l1.8-2.8-1.6-1.2-1.7 2.8z"/>
<path class="s78" d="M498.2 161.3l1.8-3.7-1.5-2.7-1.7 3.8z"/>
<path class="s31" d="M543.8 203.3l1.7-.1-1.5-2.5-1.7 .2z"/>
<path class="s34" d="M599.6 200.7l1.8-3.1-1.6-1.2-1.7 3.1z"/>
<path class="s110" d="M501.1 132l1.8-3.5-1.5-2.2-1.7 3.5z"/>
<path class="s83" d="M529.5 157.3l1.8-2.4-1.5-4.9-1.8 2.6z"/>
<path class="s39" d="M537.5 195.9l1.8-.4-1.5-3-1.7 .6z"/>
<path class="s61" d="M495.9 176.7l1.7-3.4-1.4-2.2-1.8 3.5z"/>
<path class="s12" d="M566 219.9l1.7-.6-1.5-1.6-1.7 .6z"/>
<path class="s123" d="M544.2 120.8l1.8-2.4-1.5-5.5-1.7 2.4z"/>
<path class="s100" d="M535.1 142.1l1.8-2.6-1.5-5.4-1.8 2.8z"/>
<path class="s148" d="M546.9 97.1l1.7-1.4-1.4-4-1.8 1.3z"/>
<path class="s38" d="M601.4 197.6l1.7-3.2-1.5-1.1-1.8 3.1z"/>
<path class="s73" d="M527.5 166.3l1.7-2.2-1.4-4.5-1.8 2.4z"/>
<path class="s71" d="M497.9 167.5l1.8-3.6-1.5-2.6-1.7 3.7z"/>
<path class="s22" d="M592.5 212.2l1.8-2.7-1.5-1.2-1.8 2.6z"/>
<path class="s57" d="M612 179.3l1.8-2.7-1.6-.7-1.8 2.6z"/>
<path class="s11" d="M575.7 221.8l1.8-1.3-1.6-1.4-1.7 1.3z"/>
<path class="s55" d="M643 181.1l1.7-.2-1.5-2.8-1.7 .1z"/>
<path class="s157" d="M537.4 87.6l1.8-1.6-1.5-1.5-1.8 1.5z"/>
<path class="s139" d="M517 104l1.8-2.7-1.4-.9-1.8 2.4z"/>
<path class="s66" d="M527.2 172.3l1.8-1.8-1.5-4.2-1.8 2z"/>
<path class="s41" d="M603.1 194.4l1.8-3.2-1.5-1-1.8 3.1z"/>
<path class="s152" d="M545.4 93l1.8-1.3-1.5-3.4-1.8 1.2z"/>
<path class="s97" d="M533.4 144.8l1.7-2.7-1.5-5.2-1.7 2.8z"/>
<path class="s38" d="M486.7 196.9l1.8-2.8-1.4-1.1-1.8 3z"/>
<path class="s42" d="M488.5 194.1l1.8-3-1.5-1.2-1.7 3.1z"/>
<path class="s134" d="M546.3 110.6l1.8-2-1.5-5.1-1.8 2z"/>
<path class="s156" d="M540.7 88.2l1.7-1.5-1.4-2.1-1.8 1.4z"/>
<path class="s45" d="M604.9 191.2l1.8-3.1-1.5-1-1.8 3.1z"/>
<path class="s54" d="M610.2 182.1l1.8-2.8-1.6-.8-1.7 2.7z"/>
<path class="s35" d="M484.9 199.7l1.8-2.8-1.4-.9-1.8 2.9z"/>
<path class="s114" d="M502.9 128.5l1.8-3.5-1.5-2.1-1.8 3.4z"/>
<path class="s81" d="M527.8 159.6l1.7-2.3-1.5-4.7-1.7 2.5z"/>
<path class="s17" d="M471.1 216.4l1.8-2.2-1.4-.4-1.8 2.3z"/>
<path class="s45" d="M490.3 191.1l1.7-3-1.4-1.4-1.8 3.2z"/>
<path class="s13" d="M584 219.9l1.7-2-1.5-1.3-1.7 1.9z"/>
<path class="s154" d="M532.4 89.7l1.8-2-1.5-1-1.8 1.8z"/>
<path class="s104" d="M500.8 138.2l1.8-3.7-1.5-2.5-1.7 3.7z"/>
<path class="s19" d="M590.8 214.7l1.7-2.5-1.5-1.3-1.8 2.5z"/>
<path class="s48" d="M606.7 188.1l1.8-3.1-1.6-.9-1.7 3z"/>
<path class="s51" d="M608.5 185l1.7-2.9-1.5-.9-1.8 2.9z"/>
<path class="s149" d="M525.6 95.1l1.8-2.3-1.5-.9-1.8 2.2z"/>
<path class="s121" d="M542.5 123.3l1.7-2.5-1.4-5.5-1.8 2.6z"/>
<path class="s65" d="M497.6 173.3l1.8-3.4-1.5-2.4-1.7 3.6z"/>
<path class="s94" d="M531.6 147.4l1.8-2.6-1.5-5.1-1.8 2.7z"/>
<path class="s32" d="M483.2 202.4l1.7-2.7-1.4-.8-1.7 2.8z"/>
<path class="s137" d="M515.3 106.7l1.7-2.7-1.4-1.2-1.8 2.5z"/>
<path class="s48" d="M492 188.1l1.8-3-1.4-1.7-1.8 3.3z"/>
<path class="s14" d="M562.7 218.7l1.8-.4-1.5-1.6-1.8 .3z"/>
<path class="s141" d="M546.6 103.5l1.8-1.8-1.5-4.6-1.8 1.7z"/>
<path class="s66" d="M623.8 170.4l1.8-1.3-1.6-1-1.7 1.3z"/>
<path class="s97" d="M500.6 144.6l1.7-3.8-1.5-2.6-1.7 3.7z"/>
<path class="s83" d="M500 157.6l1.7-3.7-1.4-2.8-1.8 3.8z"/>
<path class="s90" d="M500.3 151.1l1.7-3.8-1.4-2.7-1.8 3.8z"/>
<path class="s64" d="M618.8 173l1.8-2-1.6-.7-1.7 1.8z"/>
<path class="s11" d="M579 221.8l1.7-1.5-1.5-1.4-1.7 1.6z"/>
<path class="s24" d="M550 209.8l1.7 .1-1.4-2.2-1.8 .1z"/>
<path class="s36" d="M539 198.5l1.8-.2-1.5-2.8-1.8 .4z"/>
<path class="s52" d="M529.9 184.7l1.7-1.2-1.5-3.5-1.7 1.3z"/>
<path class="s76" d="M499.7 163.9l1.8-3.6-1.5-2.7-1.8 3.7z"/>
<path class="s56" d="M528.4 181.3l1.7-1.3-1.4-3.8-1.8 1.6z"/>
<path class="s117" d="M504.7 125l1.7-3.3-1.4-2-1.8 3.2z"/>
<path class="s52" d="M644.5 184.2l1.7-.3-1.5-3-1.7 .2z"/>
<path class="s52" d="M493.8 185.1l1.8-3.2-1.5-1.8-1.7 3.3z"/>
<path class="s92" d="M529.8 150l1.8-2.6-1.5-5-1.8 2.8z"/>
<path class="s71" d="M525.7 168.3l1.8-2-1.5-4.3-1.8 2.2z"/>
<path class="s29" d="M481.4 205l1.8-2.6-1.4-.7-1.8 2.7z"/>
<path class="s65" d="M633.6 171.9l1.7-.5-1.5-1.8-1.7 .5z"/>
<path class="s19" d="M554.7 213.7l1.8 0-1.5-1.9-1.8 .1z"/>
<path class="s134" d="M513.5 109.5l1.8-2.8-1.5-1.4-1.8 2.7z"/>
<path class="s118" d="M540.7 125.9l1.8-2.6-1.5-5.4-1.8 2.6z"/>
<path class="s49" d="M531.3 187.8l1.8-.9-1.5-3.4-1.7 1.2z"/>
<path class="s60" d="M526.9 177.8l1.8-1.6-1.5-3.9-1.8 1.8z"/>
<path class="s78" d="M526 162l1.8-2.4-1.5-4.5-1.8 2.5z"/>
<path class="s121" d="M506.4 121.7l1.8-3.2-1.5-1.9-1.7 3.1z"/>
<path class="s17" d="M589 217.1l1.8-2.4-1.6-1.3-1.7 2.4z"/>
<path class="s28" d="M545.2 205.5l1.8 .1-1.5-2.4-1.7 .1z"/>
<path class="s131" d="M511.7 112.4l1.8-2.9-1.5-1.5-1.7 2.7z"/>
<path class="s69" d="M499.4 169.9l1.8-3.4-1.5-2.6-1.8 3.6z"/>
<path class="s56" d="M495.6 181.9l1.7-3.1-1.4-2.1-1.8 3.4z"/>
<path class="s108" d="M502.6 134.5l1.8-3.6-1.5-2.4-1.8 3.5z"/>
<path class="s61" d="M638.3 175.9l1.7-.3-1.5-2.4-1.7 .3z"/>
<path class="s146" d="M523.8 97.6l1.8-2.5-1.5-1-1.7 2.3z"/>
<path class="s89" d="M528 152.6l1.8-2.6-1.5-4.8-1.7 2.7z"/>
<path class="s124" d="M508.2 118.5l1.8-3.1-1.5-1.8-1.8 3z"/>
<path class="s128" d="M510 115.4l1.7-3-1.4-1.7-1.8 2.9z"/>
<path class="s115" d="M538.9 128.6l1.8-2.7-1.5-5.4-1.7 2.8z"/>
<path class="s132" d="M544.5 112.9l1.8-2.3-1.5-5.1-1.7 2.2z"/>
<path class="s27" d="M479.6 207.5l1.8-2.5-1.4-.6-1.8 2.6z"/>
<path class="s64" d="M525.4 174.1l1.8-1.8-1.5-4-1.8 2.1z"/>
<path class="s15" d="M469.3 218.5l1.8-2.1-1.4-.3-1.8 2.1z"/>
<path class="s67" d="M627.1 170.4l1.7-1.1-1.5-1.2-1.7 1z"/>
<path class="s45" d="M532.8 190.8l1.8-.7-1.5-3.2-1.8 .9z"/>
<path class="s66" d="M630.4 170.9l1.7-.8-1.6-1.5-1.7 .7z"/>
<path class="s153" d="M530.6 91.9l1.8-2.2-1.5-1.2-1.8 2.1z"/>
<path class="s112" d="M537.2 131.4l1.7-2.8-1.4-5.3-1.8 2.8z"/>
<path class="s154" d="M542.2 91.1l1.7-1.6-1.5-2.8-1.7 1.5z"/>
<path class="s59" d="M497.3 178.8l1.8-3.2-1.5-2.3-1.7 3.4z"/>
<path class="s101" d="M502.3 140.8l1.8-3.7-1.5-2.6-1.8 3.7z"/>
<path class="s87" d="M501.7 153.9l1.8-3.7-1.5-2.9-1.7 3.8z"/>
<path class="s80" d="M501.5 160.3l1.7-3.5-1.5-2.9-1.7 3.7z"/>
<path class="s155" d="M535.6 89.5l1.8-1.9-1.5-1.6-1.7 1.7z"/>
<path class="s146" d="M545.1 98.8l1.8-1.7-1.5-4.1-1.8 1.7z"/>
<path class="s16" d="M559.5 217.2l1.7-.2-1.5-1.7-1.7 .2z"/>
<path class="s94" d="M502 147.3l1.8-3.7-1.5-2.8-1.7 3.8z"/>
<path class="s86" d="M526.3 155.1l1.7-2.5-1.4-4.7-1.8 2.7z"/>
<path class="s76" d="M524.2 164.2l1.8-2.2-1.5-4.4-1.8 2.5z"/>
<path class="s109" d="M535.4 134.1l1.8-2.7-1.5-5.3-1.8 2.8z"/>
<path class="s12" d="M582.2 221.6l1.8-1.7-1.5-1.4-1.8 1.8z"/>
<path class="s73" d="M501.2 166.5l1.7-3.4-1.4-2.8-1.8 3.6z"/>
<path class="s144" d="M522.1 100.2l1.7-2.6-1.4-1.2-1.8 2.4z"/>
<path class="s69" d="M523.9 170.4l1.8-2.1-1.5-4.1-1.8 2.3z"/>
<path class="s112" d="M504.4 130.9l1.7-3.5-1.4-2.4-1.8 3.5z"/>
<path class="s62" d="M617.1 175.2l1.7-2.2-1.5-.9-1.8 2.2z"/>
<path class="s34" d="M540.5 201l1.8-.1-1.5-2.6-1.8 .2z"/>
<path class="s24" d="M477.8 209.9l1.8-2.4-1.4-.5-1.8 2.5z"/>
<path class="s140" d="M544.8 105.5l1.8-2-1.5-4.7-1.8 2z"/>
<path class="s106" d="M533.6 136.9l1.8-2.8-1.5-5.2-1.7 2.9z"/>
<path class="s151" d="M543.6 94.7l1.8-1.7-1.5-3.5-1.7 1.6z"/>
<path class="s63" d="M499.1 175.6l1.8-3.2-1.5-2.5-1.8 3.4z"/>
<path class="s14" d="M587.3 219.2l1.7-2.1-1.5-1.3-1.8 2.1z"/>
<path class="s155" d="M538.9 89.9l1.8-1.7-1.5-2.2-1.8 1.6z"/>
<path class="s130" d="M542.8 115.3l1.7-2.4-1.4-5.2-1.8 2.4z"/>
<path class="s42" d="M534.3 193.6l1.8-.5-1.5-3-1.8 .7z"/>
<path class="s11" d="M570.7 222.3l1.8-.9-1.6-1.4-1.7 .8z"/>
<path class="s103" d="M531.9 139.7l1.7-2.8-1.4-5.1-1.8 2.9z"/>
<path class="s83" d="M524.5 157.6l1.8-2.5-1.5-4.5-1.8 2.7z"/>
<path class="s10" d="M574 222.9l1.7-1.1-1.5-1.4-1.7 1z"/>
<path class="s100" d="M530.1 142.4l1.8-2.7-1.5-5-1.8 2.9z"/>
<path class="s11" d="M567.5 221.4l1.7-.6-1.5-1.5-1.7 .6z"/>
<path class="s141" d="M520.3 102.9l1.8-2.7-1.5-1.4-1.8 2.5z"/>
<path class="s27" d="M597.6 208.1l1.8-3-1.6-1.3-1.7 2.9z"/>
<path class="s84" d="M503.2 156.8l1.8-3.6-1.5-3-1.8 3.7z"/>
<path class="s105" d="M504.1 137.1l1.7-3.5-1.4-2.7-1.8 3.6z"/>
<path class="s30" d="M599.4 205.1l1.7-3.1-1.5-1.3-1.8 3.1z"/>
<path class="s116" d="M506.1 127.4l1.8-3.4-1.5-2.3-1.7 3.3z"/>
<path class="s67" d="M500.9 172.4l1.7-3.3-1.4-2.6-1.8 3.4z"/>
<path class="s58" d="M639.9 178.7l1.6-.5-1.5-2.6-1.7 .3z"/>
<path class="s24" d="M595.8 210.9l1.8-2.8-1.5-1.4-1.8 2.8z"/>
<path class="s65" d="M622.1 172.1l1.7-1.7-1.5-1-1.7 1.6z"/>
<path class="s150" d="M528.8 94.3l1.8-2.4-1.5-1.3-1.7 2.2z"/>
<path class="s77" d="M502.9 163.1l1.8-3.4-1.5-2.9-1.7 3.5z"/>
<path class="s91" d="M503.5 150.2l1.8-3.6-1.5-3-1.8 3.7z"/>
<path class="s73" d="M522.4 166.5l1.8-2.3-1.5-4.1-1.7 2.4z"/>
<path class="s97" d="M528.3 145.2l1.8-2.8-1.5-4.8-1.8 2.8z"/>
<path class="s98" d="M503.8 143.6l1.8-3.6-1.5-2.9-1.8 3.7z"/>
<path class="s13" d="M467.5 220.4l1.8-1.9-1.4-.3-1.8 2z"/>
<path class="s34" d="M601.1 202l1.8-3.1-1.5-1.3-1.8 3.1z"/>
<path class="s81" d="M522.7 160.1l1.8-2.5-1.5-4.3-1.8 2.6z"/>
<path class="s127" d="M541 117.9l1.8-2.6-1.5-5.2-1.8 2.6z"/>
<path class="s59" d="M525.1 179.3l1.8-1.5-1.5-3.7-1.8 1.8z"/>
<path class="s22" d="M476 212.2l1.8-2.3-1.4-.4-1.8 2.4z"/>
<path class="s22" d="M551.5 211.7l1.7 .2-1.5-2-1.7-.1z"/>
<path class="s10" d="M577.2 223.1l1.8-1.3-1.5-1.3-1.8 1.3z"/>
<path class="s94" d="M526.6 147.9l1.7-2.7-1.5-4.8-1.7 2.9z"/>
<path class="s55" d="M526.6 182.6l1.8-1.3-1.5-3.5-1.8 1.5z"/>
<path class="s63" d="M523.6 175.9l1.8-1.8-1.5-3.7-1.8 1.9z"/>
<path class="s60" d="M615.3 177.6l1.8-2.4-1.6-.9-1.7 2.3z"/>
<path class="s21" d="M594.1 213.6l1.7-2.7-1.5-1.4-1.8 2.7z"/>
<path class="s139" d="M518.5 105.6l1.8-2.7-1.5-1.6-1.8 2.7z"/>
<path class="s27" d="M546.7 207.6l1.8 .2-1.5-2.2-1.8-.1z"/>
<path class="s63" d="M635.1 174.1l1.7-.6-1.5-2.1-1.7 .5z"/>
<path class="s37" d="M602.9 198.9l1.8-3.2-1.6-1.3-1.7 3.2z"/>
<path class="s119" d="M507.9 124l1.8-3.3-1.5-2.2-1.8 3.2z"/>
<path class="s154" d="M533.9 91.6l1.7-2.1-1.4-1.8-1.8 2z"/>
<path class="s70" d="M502.6 169.1l1.8-3.2-1.5-2.8-1.7 3.4z"/>
<path class="s91" d="M524.8 150.6l1.8-2.7-1.5-4.6-1.8 2.8z"/>
<path class="s67" d="M522.1 172.3l1.8-1.9-1.5-3.9-1.7 2.2z"/>
<path class="s138" d="M543.1 107.7l1.7-2.2-1.5-4.7-1.7 2.2z"/>
<path class="s13" d="M564.2 220.3l1.8-.4-1.5-1.6-1.8 .4z"/>
<path class="s52" d="M528.1 185.7l1.8-1-1.5-3.4-1.8 1.3z"/>
<path class="s40" d="M535.8 196.2l1.7-.3-1.4-2.8-1.8 .5z"/>
<path class="s145" d="M543.3 100.8l1.8-2-1.5-4.1-1.7 1.9z"/>
<path class="s18" d="M556.2 215.5l1.8 0-1.5-1.8-1.8 0z"/>
<path class="s136" d="M516.7 108.5l1.8-2.9-1.5-1.6-1.7 2.7z"/>
<path class="s124" d="M539.2 120.5l1.8-2.6-1.5-5.2-1.8 2.7z"/>
<path class="s81" d="M504.7 159.7l1.8-3.4-1.5-3.1-1.8 3.6z"/>
<path class="s41" d="M604.7 195.7l1.8-3.2-1.6-1.3-1.8 3.2z"/>
<path class="s123" d="M509.7 120.7l1.7-3.2-1.4-2.1-1.8 3.1z"/>
<path class="s109" d="M505.8 133.6l1.8-3.5-1.5-2.7-1.7 3.5z"/>
<path class="s48" d="M493.5 189.5l1.7-2.9-1.4-1.5-1.8 3z"/>
<path class="s78" d="M521 162.5l1.7-2.4-1.5-4.2-1.7 2.7z"/>
<path class="s153" d="M540.4 92.9l1.8-1.8-1.5-2.9-1.8 1.7z"/>
<path class="s88" d="M505 153.2l1.7-3.5-1.4-3.1-1.8 3.6z"/>
<path class="s51" d="M495.2 186.6l1.8-2.9-1.4-1.8-1.8 3.2z"/>
<path class="s44" d="M491.7 192.3l1.8-2.8-1.5-1.4-1.7 3z"/>
<path class="s13" d="M585.5 221.2l1.8-2-1.6-1.3-1.7 2z"/>
<path class="s88" d="M523 153.3l1.8-2.7-1.5-4.5-1.8 2.9z"/>
<path class="s18" d="M592.3 216.1l1.8-2.5-1.6-1.4-1.7 2.5z"/>
<path class="s133" d="M515 111.4l1.7-2.9-1.4-1.8-1.8 2.8z"/>
<path class="s148" d="M527.1 96.8l1.7-2.5-1.4-1.5-1.8 2.3z"/>
<path class="s54" d="M497 183.7l1.8-3-1.5-1.9-1.7 3.1z"/>
<path class="s126" d="M511.4 117.5l1.8-3.1-1.5-2-1.7 3z"/>
<path class="s41" d="M489.9 195.1l1.8-2.8-1.4-1.2-1.8 3z"/>
<path class="s57" d="M613.6 180.3l1.7-2.7-1.5-1-1.8 2.7z"/>
<path class="s95" d="M505.3 146.6l1.7-3.5-1.4-3.1-1.8 3.6z"/>
<path class="s71" d="M520.7 168.7l1.7-2.2-1.4-4-1.8 2.5z"/>
<path class="s129" d="M513.2 114.4l1.8-3-1.5-1.9-1.8 2.9z"/>
<path class="s74" d="M504.4 165.9l1.8-3.2-1.5-3-1.8 3.4z"/>
<path class="s102" d="M505.6 140l1.7-3.5-1.5-2.9-1.7 3.5z"/>
<path class="s32" d="M542 203.2l1.8 .1-1.5-2.4-1.8 .1z"/>
<path class="s121" d="M537.5 123.3l1.7-2.8-1.5-5.1-1.7 2.8z"/>
<path class="s44" d="M606.5 192.5l1.7-3.2-1.5-1.2-1.8 3.1z"/>
<path class="s58" d="M498.8 180.7l1.8-3-1.5-2.1-1.8 3.2z"/>
<path class="s56" d="M641.4 181.6l1.6-.5-1.5-2.9-1.6 .5z"/>
<path class="s154" d="M537.1 91.9l1.8-2-1.5-2.3-1.8 1.9z"/>
<path class="s149" d="M541.9 96.6l1.7-1.9-1.4-3.6-1.8 1.8z"/>
<path class="s38" d="M488.1 197.7l1.8-2.6-1.4-1-1.8 2.8z"/>
<path class="s85" d="M521.2 155.9l1.8-2.6-1.5-4.3-1.7 2.8z"/>
<path class="s48" d="M529.6 188.6l1.7-.8-1.4-3.1-1.8 1z"/>
<path class="s10" d="M580.5 223.2l1.7-1.6-1.5-1.3-1.7 1.5z"/>
<path class="s20" d="M474.3 214.4l1.7-2.2-1.4-.3-1.7 2.3z"/>
<path class="s61" d="M500.6 177.7l1.7-3-1.4-2.3-1.8 3.2z"/>
<path class="s48" d="M608.2 189.3l1.8-3.1-1.5-1.2-1.8 3.1z"/>
<path class="s118" d="M535.7 126.1l1.8-2.8-1.5-5.1-1.8 2.9z"/>
<path class="s54" d="M611.8 183.2l1.8-2.9-1.6-1-1.8 2.8z"/>
<path class="s66" d="M625.4 171.8l1.7-1.4-1.5-1.3-1.8 1.3z"/>
<path class="s51" d="M610 186.2l1.8-3-1.6-1.1-1.7 2.9z"/>
<path class="s85" d="M506.5 156.3l1.7-3.3-1.5-3.3-1.7 3.5z"/>
<path class="s75" d="M519.2 165l1.8-2.5-1.5-3.9-1.8 2.6z"/>
<path class="s115" d="M533.9 128.9l1.8-2.8-1.5-5-1.8 2.9z"/>
<path class="s113" d="M507.6 130.1l1.8-3.4-1.5-2.7-1.8 3.4z"/>
<path class="s78" d="M506.2 162.7l1.7-3.2-1.4-3.2-1.8 3.4z"/>
<path class="s64" d="M502.3 174.7l1.8-3-1.5-2.6-1.7 3.3z"/>
<path class="s65" d="M631.9 172.8l1.7-.9-1.5-1.8-1.7 .8z"/>
<path class="s35" d="M486.4 200.4l1.7-2.7-1.4-.8-1.8 2.8z"/>
<path class="s112" d="M532.2 131.8l1.7-2.9-1.5-4.9-1.7 2.9z"/>
<path class="s135" d="M541.3 110.1l1.8-2.4-1.5-4.7-1.8 2.4z"/>
<path class="s83" d="M519.5 158.6l1.7-2.7-1.4-4.1-1.8 2.8z"/>
<path class="s146" d="M525.3 99.4l1.8-2.6-1.5-1.7-1.8 2.5z"/>
<path class="s92" d="M506.7 149.7l1.8-3.4-1.5-3.2-1.7 3.5z"/>
<path class="s109" d="M530.4 134.7l1.8-2.9-1.5-4.9-1.8 3z"/>
<path class="s151" d="M532.1 93.9l1.8-2.3-1.5-1.9-1.8 2.2z"/>
<path class="s16" d="M590.5 218.4l1.8-2.3-1.5-1.4-1.8 2.4z"/>
<path class="s68" d="M504.1 171.7l1.8-3-1.5-2.8-1.8 3.2z"/>
<path class="s106" d="M528.6 137.6l1.8-2.9-1.5-4.8-1.8 3z"/>
<path class="s64" d="M620.4 174.1l1.7-2-1.5-1.1-1.8 2z"/>
<path class="s103" d="M526.8 140.4l1.8-2.8-1.5-4.7-1.8 2.9z"/>
<path class="s15" d="M561 218.9l1.7-.2-1.5-1.7-1.7 .2z"/>
<path class="s99" d="M507 143.1l1.8-3.5-1.5-3.1-1.7 3.5z"/>
<path class="s107" d="M507.3 136.5l1.8-3.5-1.5-2.9-1.8 3.5z"/>
<path class="s66" d="M628.7 172l1.7-1.1-1.6-1.6-1.7 1.1z"/>
<path class="s53" d="M642.9 184.8l1.6-.6-1.5-3.1-1.6 .5z"/>
<path class="s100" d="M525.1 143.3l1.7-2.9-1.5-4.6-1.7 3z"/>
<path class="s65" d="M520.4 174.3l1.7-2-1.4-3.6-1.8 2.2z"/>
<path class="s82" d="M507.9 159.5l1.8-3.2-1.5-3.3-1.7 3.3z"/>
<path class="s71" d="M505.9 168.7l1.7-3-1.4-3-1.8 3.2z"/>
<path class="s80" d="M517.7 161.2l1.8-2.6-1.5-4-1.8 2.8z"/>
<path class="s97" d="M523.3 146.1l1.8-2.8-1.5-4.5-1.8 3z"/>
<path class="s69" d="M518.9 170.9l1.8-2.2-1.5-3.7-1.8 2.4z"/>
<path class="s143" d="M541.6 103l1.7-2.2-1.4-4.2-1.8 2.1z"/>
<path class="s61" d="M521.9 177.6l1.7-1.7-1.5-3.6-1.7 2z"/>
<path class="s117" d="M509.4 126.7l1.7-3.4-1.4-2.6-1.8 3.3z"/>
<path class="s33" d="M484.6 202.9l1.8-2.5-1.5-.7-1.7 2.7z"/>
<path class="s37" d="M537.3 198.6l1.7-.1-1.5-2.6-1.7 .3z"/>
<path class="s89" d="M508.2 153l1.8-3.3-1.5-3.4-1.8 3.4z"/>
<path class="s93" d="M521.5 149l1.8-2.9-1.5-4.3-1.8 2.9z"/>
<path class="s45" d="M531 191.4l1.8-.6-1.5-3-1.7 .8z"/>
<path class="s143" d="M523.5 102.1l1.8-2.7-1.5-1.8-1.7 2.6z"/>
<path class="s73" d="M517.4 167.4l1.8-2.4-1.5-3.8-1.8 2.6z"/>
<path class="s75" d="M507.6 165.7l1.8-3-1.5-3.2-1.7 3.2z"/>
<path class="s90" d="M519.8 151.8l1.7-2.8-1.5-4.3-1.7 3z"/>
<path class="s61" d="M636.7 176.6l1.6-.7-1.5-2.4-1.7 .6z"/>
<path class="s58" d="M523.3 180.8l1.8-1.5-1.5-3.4-1.7 1.7z"/>
<path class="s133" d="M539.5 112.7l1.8-2.6-1.5-4.7-1.8 2.6z"/>
<path class="s87" d="M518 154.6l1.8-2.8-1.5-4.1-1.8 3z"/>
<path class="s151" d="M538.6 95l1.8-2.1-1.5-3-1.8 2z"/>
<path class="s77" d="M515.9 163.8l1.8-2.6-1.5-3.8-1.8 2.8z"/>
<path class="s96" d="M508.5 146.3l1.8-3.4-1.5-3.3-1.8 3.5z"/>
<path class="s85" d="M509.7 156.3l1.8-3.2-1.5-3.4-1.8 3.3z"/>
<path class="s78" d="M509.4 162.7l1.8-3.1-1.5-3.3-1.8 3.2z"/>
<path class="s18" d="M472.5 216.6l1.8-2.2-1.4-.2-1.8 2.2z"/>
<path class="s84" d="M516.2 157.4l1.8-2.8-1.5-3.9-1.8 3z"/>
<path class="s121" d="M511.1 123.3l1.8-3.2-1.5-2.6-1.7 3.2z"/>
<path class="s152" d="M535.4 94.2l1.7-2.3-1.5-2.4-1.7 2.1z"/>
<path class="s140" d="M521.8 104.9l1.7-2.8-1.4-1.9-1.8 2.7z"/>
<path class="s82" d="M511.2 159.6l1.8-3-1.5-3.5-1.8 3.2z"/>
<path class="s81" d="M514.4 160.2l1.8-2.8-1.5-3.7-1.7 2.9z"/>
<path class="s110" d="M509.1 133l1.7-3.4-1.4-2.9-1.8 3.4z"/>
<path class="s11" d="M583.8 223l1.7-1.8-1.5-1.3-1.8 1.7z"/>
<path class="s103" d="M508.8 139.6l1.8-3.4-1.5-3.2-1.8 3.5z"/>
<path class="s147" d="M540.1 98.7l1.8-2.1-1.5-3.7-1.8 2.1z"/>
<path class="s149" d="M530.3 96.4l1.8-2.5-1.5-2-1.8 2.4z"/>
<path class="s25" d="M548.2 209.6l1.8 .2-1.5-2-1.8-.2z"/>
<path class="s30" d="M482.8 205.4l1.8-2.5-1.4-.5-1.8 2.6z"/>
<path class="s93" d="M510 149.7l1.8-3.3-1.5-3.5-1.8 3.4z"/>
<path class="s78" d="M512.7 163l1.7-2.8-1.4-3.6-1.8 3z"/>
<path class="s85" d="M513 156.6l1.7-2.9-1.5-3.7-1.7 3.1z"/>
<path class="s20" d="M553 213.6l1.7 .1-1.5-1.8-1.7-.2z"/>
<path class="s54" d="M524.8 183.8l1.8-1.2-1.5-3.3-1.8 1.5z"/>
<path class="s124" d="M512.9 120.1l1.8-3.2-1.5-2.5-1.8 3.1z"/>
<path class="s74" d="M514.1 166.4l1.8-2.6-1.5-3.6-1.7 2.8z"/>
<path class="s89" d="M511.5 153.1l1.7-3.1-1.4-3.6-1.8 3.3z"/>
<path class="s10" d="M572.2 223.7l1.8-.8-1.5-1.5-1.8 .9z"/>
<path class="s75" d="M510.9 165.8l1.8-2.8-1.5-3.4-1.8 3.1z"/>
<path class="s130" d="M537.7 115.4l1.8-2.7-1.5-4.7-1.7 2.7z"/>
<path class="s137" d="M520 107.8l1.8-2.9-1.5-2-1.8 2.7z"/>
<path class="s14" d="M588.8 220.6l1.7-2.2-1.5-1.3-1.7 2.1z"/>
<path class="s88" d="M514.7 153.7l1.8-3-1.5-3.9-1.8 3.2z"/>
<path class="s72" d="M509.1 168.6l1.8-2.8-1.5-3.1-1.8 3z"/>
<path class="s70" d="M515.6 169.7l1.8-2.3-1.5-3.6-1.8 2.6z"/>
<path class="s128" d="M514.7 116.9l1.7-3.1-1.4-2.4-1.8 3z"/>
<path class="s68" d="M507.3 171.5l1.8-2.9-1.5-2.9-1.7 3z"/>
<path class="s92" d="M516.5 150.7l1.8-3-1.5-4-1.8 3.1z"/>
<path class="s134" d="M518.2 110.8l1.8-3-1.5-2.2-1.8 2.9z"/>
<path class="s9" d="M575.5 224.3l1.7-1.2-1.5-1.3-1.7 1.1z"/>
<path class="s11" d="M569 222.9l1.7-.6-1.5-1.5-1.7 .6z"/>
<path class="s131" d="M516.4 113.8l1.8-3-1.5-2.3-1.7 2.9z"/>
<path class="s30" d="M543.5 205.3l1.7 .2-1.4-2.2-1.8-.1z"/>
<path class="s141" d="M539.8 105.4l1.8-2.4-1.5-4.3-1.8 2.4z"/>
<path class="s100" d="M510.3 142.9l1.7-3.3-1.4-3.4-1.8 3.4z"/>
<path class="s65" d="M505.6 174.3l1.7-2.8-1.4-2.8-1.8 3z"/>
<path class="s95" d="M518.3 147.7l1.7-3-1.5-4.1-1.7 3.1z"/>
<path class="s67" d="M517.1 173l1.8-2.1-1.5-3.5-1.8 2.3z"/>
<path class="s62" d="M618.6 176.4l1.8-2.3-1.6-1.1-1.7 2.2z"/>
<path class="s92" d="M513.2 150l1.8-3.2-1.5-3.7-1.7 3.3z"/>
<path class="s127" d="M536 118.2l1.7-2.8-1.4-4.7-1.8 2.8z"/>
<path class="s98" d="M520 144.7l1.8-2.9-1.5-4.2-1.8 3z"/>
<path class="s62" d="M503.8 177.1l1.8-2.8-1.5-2.6-1.8 3z"/>
<path class="s114" d="M510.8 129.6l1.8-3.3-1.5-3-1.7 3.4z"/>
<path class="s26" d="M599.1 209.5l1.8-3-1.5-1.4-1.8 3z"/>
<path class="s71" d="M512.4 169l1.7-2.6-1.4-3.4-1.8 2.8z"/>
<path class="s96" d="M511.8 146.4l1.7-3.3-1.5-3.5-1.7 3.3z"/>
<path class="s102" d="M521.8 141.8l1.8-3-1.5-4.3-1.8 3.1z"/>
<path class="s30" d="M600.9 206.5l1.8-3-1.6-1.5-1.7 3.1z"/>
<path class="s59" d="M502 179.8l1.8-2.7-1.5-2.4-1.7 3z"/>
<path class="s43" d="M532.5 194l1.8-.4-1.5-2.8-1.8 .6z"/>
<path class="s105" d="M523.6 138.8l1.7-3-1.4-4.4-1.8 3.1z"/>
<path class="s107" d="M510.6 136.2l1.7-3.4-1.5-3.2-1.7 3.4z"/>
<path class="s23" d="M597.4 212.3l1.7-2.8-1.5-1.4-1.8 2.8z"/>
<path class="s124" d="M534.2 121.1l1.8-2.9-1.5-4.7-1.8 2.9z"/>
<path class="s147" d="M528.6 99l1.7-2.6-1.5-2.1-1.7 2.5z"/>
<path class="s108" d="M525.3 135.8l1.8-2.9-1.5-4.5-1.7 3z"/>
<path class="s63" d="M518.6 176.2l1.8-1.9-1.5-3.4-1.8 2.1z"/>
<path class="s56" d="M500.2 182.6l1.8-2.8-1.4-2.1-1.8 3z"/>
<path class="s111" d="M527.1 132.9l1.8-3-1.5-4.6-1.8 3.1z"/>
<path class="s28" d="M481 207.8l1.8-2.4-1.4-.4-1.8 2.5z"/>
<path class="s17" d="M557.7 217.2l1.8 0-1.5-1.7-1.8 0z"/>
<path class="s121" d="M532.4 124l1.8-2.9-1.5-4.7-1.8 2.9z"/>
<path class="s96" d="M515 146.8l1.8-3.1-1.5-3.8-1.8 3.2z"/>
<path class="s115" d="M528.9 129.9l1.8-3-1.5-4.6-1.8 3z"/>
<path class="s33" d="M602.7 203.5l1.7-3.2-1.5-1.4-1.8 3.1z"/>
<path class="s118" d="M530.7 126.9l1.7-2.9-1.5-4.7-1.7 3z"/>
<path class="s51" d="M526.3 186.7l1.8-1-1.5-3.1-1.8 1.2z"/>
<path class="s65" d="M623.7 173.5l1.7-1.7-1.6-1.4-1.7 1.7z"/>
<path class="s149" d="M533.6 96.6l1.8-2.4-1.5-2.6-1.8 2.3z"/>
<path class="s53" d="M498.5 185.3l1.7-2.7-1.4-1.9-1.8 3z"/>
<path class="s149" d="M536.8 97.3l1.8-2.3-1.5-3.1-1.7 2.3z"/>
<path class="s68" d="M510.6 171.6l1.8-2.6-1.5-3.2-1.8 2.8z"/>
<path class="s9" d="M578.7 224.5l1.8-1.3-1.5-1.4-1.8 1.3z"/>
<path class="s68" d="M513.8 172.1l1.8-2.4-1.5-3.3-1.7 2.6z"/>
<path class="s20" d="M595.6 215l1.8-2.7-1.6-1.4-1.7 2.7z"/>
<path class="s104" d="M512 139.6l1.8-3.4-1.5-3.4-1.7 3.4z"/>
<path class="s118" d="M512.6 126.3l1.8-3.3-1.5-2.9-1.8 3.2z"/>
<path class="s12" d="M565.7 221.9l1.8-.5-1.5-1.5-1.8 .4z"/>
<path class="s100" d="M513.5 143.1l1.8-3.2-1.5-3.7-1.8 3.4z"/>
<path class="s59" d="M638.2 179.4l1.7-.7-1.6-2.8-1.6 .7z"/>
<path class="s99" d="M516.8 143.7l1.7-3.1-1.4-3.9-1.8 3.2z"/>
<path class="s145" d="M538.3 101.1l1.8-2.4-1.5-3.7-1.8 2.3z"/>
<path class="s37" d="M604.4 200.3l1.8-3.2-1.5-1.4-1.8 3.2z"/>
<path class="s16" d="M470.7 218.6l1.8-2-1.4-.2-1.8 2.1z"/>
<path class="s50" d="M496.7 188l1.8-2.7-1.5-1.6-1.8 2.9z"/>
<path class="s138" d="M538 108l1.8-2.6-1.5-4.3-1.8 2.5z"/>
<path class="s35" d="M538.7 200.9l1.8 .1-1.5-2.5-1.7 .1z"/>
<path class="s60" d="M520.1 179.2l1.8-1.6-1.5-3.3-1.8 1.9z"/>
<path class="s63" d="M633.4 175l1.7-.9-1.5-2.2-1.7 .9z"/>
<path class="s111" d="M512.3 132.8l1.8-3.3-1.5-3.2-1.8 3.3z"/>
<path class="s144" d="M526.8 101.8l1.8-2.8-1.5-2.2-1.8 2.6z"/>
<path class="s103" d="M518.5 140.6l1.8-3-1.5-4.1-1.7 3.2z"/>
<path class="s66" d="M508.8 174.2l1.8-2.6-1.5-3-1.8 2.9z"/>
<path class="s121" d="M514.4 123l1.8-3.2-1.5-2.9-1.8 3.2z"/>
<path class="s60" d="M616.9 178.9l1.7-2.5-1.5-1.2-1.8 2.4z"/>
<path class="s47" d="M494.9 190.7l1.8-2.7-1.5-1.4-1.7 2.9z"/>
<path class="s104" d="M515.3 139.9l1.8-3.2-1.5-3.7-1.8 3.2z"/>
<path class="s40" d="M606.2 197.1l1.8-3.2-1.5-1.4-1.8 3.2z"/>
<path class="s107" d="M513.8 136.2l1.8-3.2-1.5-3.5-1.8 3.3z"/>
<path class="s106" d="M520.3 137.6l1.8-3.1-1.5-4.1-1.8 3.1z"/>
<path class="s65" d="M515.3 175.1l1.8-2.1-1.5-3.3-1.8 2.4z"/>
<path class="s18" d="M593.8 217.5l1.8-2.5-1.5-1.4-1.8 2.5z"/>
<path class="s141" d="M525 104.6l1.8-2.8-1.5-2.4-1.8 2.7z"/>
<path class="s12" d="M587 222.6l1.8-2-1.5-1.4-1.8 2z"/>
<path class="s25" d="M479.2 210.1l1.8-2.3-1.4-.3-1.8 2.4z"/>
<path class="s135" d="M536.3 110.7l1.7-2.7-1.5-4.4-1.7 2.7z"/>
<path class="s125" d="M516.2 119.8l1.7-3.2-1.5-2.8-1.7 3.1z"/>
<path class="s147" d="M531.8 99.1l1.8-2.5-1.5-2.7-1.8 2.5z"/>
<path class="s115" d="M514.1 129.5l1.8-3.3-1.5-3.2-1.8 3.3z"/>
<path class="s110" d="M522.1 134.5l1.8-3.1-1.5-4.1-1.8 3.1z"/>
<path class="s65" d="M512.1 174.4l1.7-2.3-1.4-3.1-1.8 2.6z"/>
<path class="s44" d="M493.1 193.3l1.8-2.6-1.4-1.2-1.8 2.8z"/>
<path class="s48" d="M527.8 189.4l1.8-.8-1.5-2.9-1.8 1z"/>
<path class="s63" d="M507 176.7l1.8-2.5-1.5-2.7-1.7 2.8z"/>
<path class="s56" d="M521.5 182.2l1.8-1.4-1.4-3.2-1.8 1.6z"/>
<path class="s107" d="M517.1 136.7l1.7-3.2-1.5-3.8-1.7 3.3z"/>
<path class="s138" d="M523.2 107.5l1.8-2.9-1.5-2.5-1.7 2.8z"/>
<path class="s44" d="M608 193.9l1.8-3.2-1.6-1.4-1.7 3.2z"/>
<path class="s65" d="M626.9 173.5l1.8-1.5-1.6-1.6-1.7 1.4z"/>
<path class="s146" d="M535.1 99.8l1.7-2.5-1.4-3.1-1.8 2.4z"/>
<path class="s128" d="M517.9 116.6l1.8-3.1-1.5-2.7-1.8 3z"/>
<path class="s113" d="M523.9 131.4l1.7-3-1.5-4.3-1.7 3.2z"/>
<path class="s143" d="M536.5 103.6l1.8-2.5-1.5-3.8-1.7 2.5z"/>
<path class="s65" d="M630.2 174l1.7-1.2-1.5-1.9-1.7 1.1z"/>
<path class="s135" d="M521.5 110.5l1.7-3-1.4-2.6-1.8 2.9z"/>
<path class="s132" d="M519.7 113.5l1.8-3-1.5-2.7-1.8 3z"/>
<path class="s111" d="M515.6 133l1.7-3.3-1.4-3.5-1.8 3.3z"/>
<path class="s57" d="M615.1 181.6l1.8-2.7-1.6-1.3-1.7 2.7z"/>
<path class="s133" d="M534.5 113.5l1.8-2.8-1.5-4.4-1.8 2.8z"/>
<path class="s10" d="M582 224.5l1.8-1.5-1.6-1.4-1.7 1.6z"/>
<path class="s116" d="M525.6 128.4l1.8-3.1-1.5-4.2-1.8 3z"/>
<path class="s56" d="M639.7 182.4l1.7-.8-1.5-2.9-1.7 .7z"/>
<path class="s40" d="M534 196.4l1.8-.2-1.5-2.6-1.8 .4z"/>
<path class="s47" d="M609.8 190.7l1.8-3.1-1.6-1.4-1.8 3.1z"/>
<path class="s118" d="M515.9 126.2l1.7-3.2-1.4-3.2-1.8 3.2z"/>
<path class="s14" d="M562.5 220.5l1.7-.2-1.5-1.6-1.7 .2z"/>
<path class="s111" d="M518.8 133.5l1.8-3.1-1.5-3.9-1.8 3.2z"/>
<path class="s120" d="M527.4 125.3l1.8-3-1.5-4.3-1.8 3.1z"/>
<path class="s129" d="M532.7 116.4l1.8-2.9-1.5-4.4-1.8 2.9z"/>
<path class="s61" d="M516.8 178.1l1.8-1.9-1.5-3.2-1.8 2.1z"/>
<path class="s41" d="M491.4 195.9l1.7-2.6-1.4-1-1.8 2.8z"/>
<path class="s123" d="M529.2 122.3l1.7-3-1.4-4.3-1.8 3z"/>
<path class="s126" d="M530.9 119.3l1.8-2.9-1.5-4.4-1.7 3z"/>
<path class="s60" d="M505.3 179.3l1.7-2.6-1.4-2.4-1.8 2.8z"/>
<path class="s144" d="M530 101.9l1.8-2.8-1.5-2.7-1.7 2.6z"/>
<path class="s54" d="M613.3 184.5l1.8-2.9-1.5-1.3-1.8 2.9z"/>
<path class="s51" d="M611.6 187.6l1.7-3.1-1.5-1.3-1.8 3z"/>
<path class="s115" d="M517.3 129.7l1.8-3.2-1.5-3.5-1.7 3.2z"/>
<path class="s114" d="M520.6 130.4l1.8-3.1-1.5-3.9-1.8 3.1z"/>
<path class="s15" d="M592.1 219.9l1.7-2.4-1.5-1.4-1.8 2.3z"/>
<path class="s23" d="M549.7 211.4l1.8 .3-1.5-1.9-1.8-.2z"/>
<path class="s122" d="M517.6 123l1.8-3.2-1.5-3.2-1.7 3.2z"/>
<path class="s140" d="M534.8 106.3l1.7-2.7-1.4-3.8-1.8 2.7z"/>
<path class="s144" d="M533.3 102.5l1.8-2.7-1.5-3.2-1.8 2.5z"/>
<path class="s63" d="M510.3 176.8l1.8-2.4-1.5-2.8-1.8 2.6z"/>
<path class="s63" d="M621.9 175.6l1.8-2.1-1.6-1.4-1.7 2z"/>
<path class="s14" d="M468.9 220.6l1.8-2-1.4-.1-1.8 1.9z"/>
<path class="s28" d="M545 207.3l1.7 .3-1.5-2.1-1.7-.2z"/>
<path class="s141" d="M528.3 104.7l1.7-2.8-1.4-2.9-1.8 2.8z"/>
<path class="s62" d="M513.5 177.2l1.8-2.1-1.5-3-1.7 2.3z"/>
<path class="s118" d="M522.4 127.3l1.7-3.2-1.4-3.9-1.8 3.2z"/>
<path class="s53" d="M523 184.9l1.8-1.1-1.5-3-1.8 1.4z"/>
<path class="s23" d="M477.4 212.3l1.8-2.2-1.4-.2-1.8 2.3z"/>
<path class="s118" d="M519.1 126.5l1.8-3.1-1.5-3.6-1.8 3.2z"/>
<path class="s125" d="M519.4 119.8l1.8-3.1-1.5-3.2-1.8 3.1z"/>
<path class="s57" d="M503.5 181.8l1.8-2.5-1.5-2.2-1.8 2.7z"/>
<path class="s38" d="M489.6 198.4l1.8-2.5-1.5-.8-1.8 2.6z"/>
<path class="s19" d="M554.5 215.3l1.7 .2-1.5-1.8-1.7-.1z"/>
<path class="s53" d="M641.2 185.6l1.7-.8-1.5-3.2-1.7 .8z"/>
<path class="s137" d="M533 109.1l1.8-2.8-1.5-3.8-1.8 2.7z"/>
<path class="s121" d="M524.1 124.1l1.8-3-1.5-4-1.7 3.1z"/>
<path class="s138" d="M526.5 107.6l1.8-2.9-1.5-2.9-1.8 2.8z"/>
<path class="s129" d="M521.2 116.7l1.7-3.1-1.4-3.1-1.8 3z"/>
<path class="s122" d="M520.9 123.4l1.8-3.2-1.5-3.5-1.8 3.1z"/>
<path class="s141" d="M531.5 105.2l1.8-2.7-1.5-3.4-1.8 2.8z"/>
<path class="s132" d="M522.9 113.6l1.8-3-1.5-3.1-1.7 3z"/>
<path class="s135" d="M524.7 110.6l1.8-3-1.5-3-1.8 2.9z"/>
<path class="s61" d="M635 177.6l1.7-1-1.6-2.5-1.7 .9z"/>
<path class="s124" d="M525.9 121.1l1.8-3.1-1.5-3.9-1.8 3z"/>
<path class="s58" d="M518.3 180.9l1.8-1.7-1.5-3-1.8 1.9z"/>
<path class="s46" d="M529.3 191.9l1.7-.5-1.4-2.8-1.8 .8z"/>
<path class="s134" d="M531.2 112l1.8-2.9-1.5-3.9-1.8 2.9z"/>
<path class="s128" d="M527.7 118l1.8-3-1.5-3.9-1.8 3z"/>
<path class="s33" d="M540.2 203l1.8 .2-1.5-2.2-1.8-.1z"/>
<path class="s131" d="M529.5 115l1.7-3-1.5-3.9-1.7 3z"/>
<path class="s125" d="M522.7 120.2l1.7-3.1-1.5-3.5-1.7 3.1z"/>
<path class="s54" d="M501.7 184.4l1.8-2.6-1.5-2-1.8 2.8z"/>
<path class="s138" d="M529.7 108.1l1.8-2.9-1.5-3.3-1.7 2.8z"/>
<path class="s129" d="M524.4 117.1l1.8-3-1.5-3.5-1.8 3z"/>
<path class="s60" d="M508.5 179.1l1.8-2.3-1.5-2.6-1.8 2.5z"/>
<path class="s10" d="M585.3 224.3l1.7-1.7-1.5-1.4-1.7 1.8z"/>
<path class="s135" d="M528 111.1l1.7-3-1.4-3.4-1.8 2.9z"/>
<path class="s36" d="M487.8 200.9l1.8-2.5-1.5-.7-1.7 2.7z"/>
<path class="s132" d="M526.2 114.1l1.8-3-1.5-3.5-1.8 3z"/>
<path class="s9" d="M573.7 225.2l1.8-.9-1.5-1.4-1.8 .8z"/>
<path class="s13" d="M590.3 222l1.8-2.1-1.6-1.5-1.7 2.2z"/>
<path class="s10" d="M570.5 224.4l1.7-.7-1.5-1.4-1.7 .6z"/>
<path class="s16" d="M559.2 218.9l1.8 0-1.5-1.7-1.8 0z"/>
<path class="s26" d="M600.6 211.1l1.8-3-1.5-1.6-1.8 3z"/>
<path class="s9" d="M577 225.7l1.7-1.2-1.5-1.4-1.7 1.2z"/>
<path class="s60" d="M515 179.9l1.8-1.8-1.5-3-1.8 2.1z"/>
<path class="s29" d="M602.4 208.1l1.8-3-1.5-1.6-1.8 3z"/>
<path class="s52" d="M499.9 186.9l1.8-2.5-1.5-1.8-1.7 2.7z"/>
<path class="s51" d="M524.5 187.6l1.8-.9-1.5-2.9-1.8 1.1z"/>
<path class="s60" d="M511.8 179.3l1.7-2.1-1.4-2.8-1.8 2.4z"/>
<path class="s21" d="M475.6 214.5l1.8-2.2-1.4-.1-1.7 2.2z"/>
<path class="s23" d="M598.9 213.9l1.7-2.8-1.5-1.6-1.7 2.8z"/>
<path class="s38" d="M535.5 198.6l1.8 0-1.5-2.4-1.8 .2z"/>
<path class="s61" d="M620.2 177.9l1.7-2.3-1.5-1.5-1.8 2.3z"/>
<path class="s32" d="M604.2 205.1l1.8-3.2-1.6-1.6-1.7 3.2z"/>
<path class="s64" d="M625.2 175.3l1.7-1.8-1.5-1.7-1.7 1.7z"/>
<path class="s55" d="M519.8 183.5l1.7-1.3-1.4-3-1.8 1.7z"/>
<path class="s33" d="M486 203.3l1.8-2.4-1.4-.5-1.8 2.5z"/>
<path class="s63" d="M631.7 176.3l1.7-1.3-1.5-2.2-1.7 1.2z"/>
<path class="s58" d="M506.7 181.4l1.8-2.3-1.5-2.4-1.7 2.6z"/>
<path class="s11" d="M567.2 223.4l1.8-.5-1.5-1.5-1.8 .5z"/>
<path class="s20" d="M597.1 216.5l1.8-2.6-1.5-1.6-1.8 2.7z"/>
<path class="s36" d="M606 201.9l1.8-3.2-1.6-1.6-1.8 3.2z"/>
<path class="s49" d="M498.1 189.3l1.8-2.4-1.4-1.6-1.8 2.7z"/>
<path class="s59" d="M636.5 180.4l1.7-1-1.5-2.8-1.7 1z"/>
<path class="s9" d="M580.3 225.9l1.7-1.4-1.5-1.3-1.8 1.3z"/>
<path class="s64" d="M628.5 175.5l1.7-1.5-1.5-2-1.8 1.5z"/>
<path class="s43" d="M530.7 194.2l1.8-.2-1.5-2.6-1.7 .5z"/>
<path class="s39" d="M607.8 198.7l1.7-3.2-1.5-1.6-1.8 3.2z"/>
<path class="s59" d="M618.4 180.4l1.8-2.5-1.6-1.5-1.7 2.5z"/>
<path class="s17" d="M595.4 219l1.7-2.5-1.5-1.5-1.8 2.5z"/>
<path class="s31" d="M484.2 205.6l1.8-2.3-1.4-.4-1.8 2.5z"/>
<path class="s46" d="M496.4 191.8l1.7-2.5-1.4-1.3-1.8 2.7z"/>
<path class="s57" d="M516.5 182.4l1.8-1.5-1.5-2.8-1.8 1.8z"/>
<path class="s43" d="M609.5 195.5l1.8-3.2-1.5-1.6-1.8 3.2z"/>
<path class="s55" d="M504.9 183.7l1.8-2.3-1.4-2.1-1.8 2.5z"/>
<path class="s11" d="M588.6 224l1.7-2-1.5-1.4-1.8 2z"/>
<path class="s58" d="M510 181.4l1.8-2.1-1.5-2.5-1.8 2.3z"/>
<path class="s26" d="M546.5 209.2l1.7 .4-1.5-2-1.7-.3z"/>
<path class="s22" d="M551.2 213.2l1.8 .4-1.5-1.9-1.8-.3z"/>
<path class="s19" d="M473.9 216.6l1.7-2.1-1.3-.1-1.8 2.2z"/>
<path class="s48" d="M526 190l1.8-.6-1.5-2.7-1.8 .9z"/>
<path class="s13" d="M564 222.1l1.7-.2-1.5-1.6-1.7 .2z"/>
<path class="s56" d="M616.6 183.2l1.8-2.8-1.5-1.5-1.8 2.7z"/>
<path class="s46" d="M611.3 192.3l1.8-3.1-1.5-1.6-1.8 3.1z"/>
<path class="s58" d="M513.2 181.7l1.8-1.8-1.5-2.7-1.7 2.1z"/>
<path class="s56" d="M638 183.5l1.7-1.1-1.5-3-1.7 1z"/>
<path class="s53" d="M521.2 186l1.8-1.1-1.5-2.7-1.7 1.3z"/>
<path class="s31" d="M541.7 205l1.8 .3-1.5-2.1-1.8-.2z"/>
<path class="s9" d="M583.5 225.9l1.8-1.6-1.5-1.3-1.8 1.5z"/>
<path class="s50" d="M613.1 189.2l1.8-3.1-1.6-1.6-1.7 3.1z"/>
<path class="s53" d="M614.9 186.1l1.7-2.9-1.5-1.6-1.8 2.9z"/>
<path class="s18" d="M556 217l1.7 .2-1.5-1.7-1.7-.2z"/>
<path class="s62" d="M623.5 177.3l1.7-2-1.5-1.8-1.8 2.1z"/>
<path class="s44" d="M494.6 194.2l1.8-2.4-1.5-1.1-1.8 2.6z"/>
<path class="s15" d="M593.6 221.3l1.8-2.3-1.6-1.5-1.7 2.4z"/>
<path class="s36" d="M537 200.7l1.7 .2-1.4-2.3-1.8 0z"/>
<path class="s61" d="M633.2 178.9l1.8-1.3-1.6-2.6-1.7 1.3z"/>
<path class="s29" d="M482.4 207.9l1.8-2.3-1.4-.2-1.8 2.4z"/>
<path class="s53" d="M503.2 186l1.7-2.3-1.4-1.9-1.8 2.6z"/>
<path class="s53" d="M639.5 186.7l1.7-1.1-1.5-3.2-1.7 1.1z"/>
<path class="s56" d="M508.2 183.4l1.8-2-1.5-2.3-1.8 2.3z"/>
<path class="s41" d="M492.8 196.6l1.8-2.4-1.5-.9-1.7 2.6z"/>
<path class="s41" d="M532.2 196.4l1.8 0-1.5-2.4-1.8 .2z"/>
<path class="s54" d="M518 184.8l1.8-1.3-1.5-2.6-1.8 1.5z"/>
<path class="s17" d="M472.1 218.6l1.8-2-1.4 0-1.8 2z"/>
<path class="s63" d="M626.7 177.3l1.8-1.8-1.6-2-1.7 1.8z"/>
<path class="s62" d="M630 177.8l1.7-1.5-1.5-2.3-1.7 1.5z"/>
<path class="s15" d="M560.7 220.5l1.8 0-1.5-1.6-1.8 0z"/>
<path class="s28" d="M604 209.8l1.7-3-1.5-1.7-1.8 3z"/>
<path class="s25" d="M602.2 212.7l1.8-2.9-1.6-1.7-1.8 3z"/>
<path class="s10" d="M586.8 225.7l1.8-1.7-1.6-1.4-1.7 1.7z"/>
<path class="s8" d="M575.2 226.6l1.8-.9-1.5-1.4-1.8 .9z"/>
<path class="s51" d="M501.4 188.3l1.8-2.3-1.5-1.6-1.8 2.5z"/>
<path class="s46" d="M527.5 192.3l1.8-.4-1.5-2.5-1.8 .6z"/>
<path class="s60" d="M621.7 179.7l1.8-2.4-1.6-1.7-1.7 2.3z"/>
<path class="s31" d="M605.7 206.8l1.8-3.1-1.5-1.8-1.8 3.2z"/>
<path class="s9" d="M572 225.9l1.7-.7-1.5-1.5-1.7 .7z"/>
<path class="s50" d="M522.7 188.4l1.8-.8-1.5-2.7-1.8 1.1z"/>
<path class="s56" d="M511.5 183.5l1.7-1.8-1.4-2.4-1.8 2.1z"/>
<path class="s13" d="M591.8 223.4l1.8-2.1-1.5-1.4-1.8 2.1z"/>
<path class="s22" d="M600.4 215.5l1.8-2.8-1.6-1.6-1.7 2.8z"/>
<path class="s26" d="M480.6 210.1l1.8-2.2-1.4-.1-1.8 2.3z"/>
<path class="s55" d="M514.7 184l1.8-1.6-1.5-2.5-1.8 1.8z"/>
<path class="s8" d="M578.5 227.1l1.8-1.2-1.6-1.4-1.7 1.2z"/>
<path class="s35" d="M607.5 203.7l1.8-3.2-1.5-1.8-1.8 3.2z"/>
<path class="s58" d="M634.8 181.7l1.7-1.3-1.5-2.8-1.8 1.3z"/>
<path class="s39" d="M491 198.9l1.8-2.3-1.4-.7-1.8 2.5z"/>
<path class="s19" d="M598.6 218.1l1.8-2.6-1.5-1.6-1.8 2.6z"/>
<path class="s10" d="M568.7 224.9l1.8-.5-1.5-1.5-1.8 .5z"/>
<path class="s38" d="M609.3 200.5l1.8-3.1-1.6-1.9-1.7 3.2z"/>
<path class="s54" d="M506.4 185.5l1.8-2.1-1.5-2-1.8 2.3z"/>
<path class="s58" d="M619.9 182.3l1.8-2.6-1.5-1.8-1.8 2.5z"/>
<path class="s25" d="M548 211l1.7 .4-1.5-1.8-1.7-.4z"/>
<path class="s48" d="M499.6 190.5l1.8-2.2-1.5-1.4-1.8 2.4z"/>
<path class="s8" d="M581.8 227.3l1.7-1.4-1.5-1.4-1.7 1.4z"/>
<path class="s30" d="M543.2 206.8l1.8 .5-1.5-2-1.8-.3z"/>
<path class="s42" d="M611.1 197.4l1.7-3.2-1.5-1.9-1.8 3.2z"/>
<path class="s21" d="M552.7 214.9l1.8 .4-1.5-1.7-1.8-.4z"/>
<path class="s16" d="M596.9 220.5l1.7-2.4-1.5-1.6-1.7 2.5z"/>
<path class="s15" d="M470.2 220.6l1.9-2-1.4 0-1.8 2z"/>
<path class="s24" d="M478.8 212.3l1.8-2.2-1.4 0-1.8 2.2z"/>
<path class="s55" d="M636.3 184.8l1.7-1.3-1.5-3.1-1.7 1.3z"/>
<path class="s45" d="M612.8 194.2l1.8-3.2-1.5-1.8-1.8 3.1z"/>
<path class="s52" d="M519.5 187.1l1.7-1.1-1.4-2.5-1.8 1.3z"/>
<path class="s36" d="M489.2 201.2l1.8-2.3-1.4-.5-1.8 2.5z"/>
<path class="s34" d="M538.4 202.6l1.8 .4-1.5-2.1-1.7-.2z"/>
<path class="s61" d="M625 179.4l1.7-2.1-1.5-2-1.7 2z"/>
<path class="s55" d="M618.2 185l1.7-2.7-1.5-1.9-1.8 2.8z"/>
<path class="s49" d="M614.6 191l1.8-3-1.5-1.9-1.8 3.1z"/>
<path class="s60" d="M631.5 180.4l1.7-1.5-1.5-2.6-1.7 1.5z"/>
<path class="s52" d="M616.4 188l1.8-3-1.6-1.8-1.7 2.9z"/>
<path class="s12" d="M565.5 223.6l1.7-.2-1.5-1.5-1.7 .2z"/>
<path class="s11" d="M590.1 225.4l1.7-2-1.5-1.4-1.7 2z"/>
<path class="s39" d="M533.7 198.4l1.8 .2-1.5-2.2-1.8 0z"/>
<path class="s54" d="M509.7 185.3l1.8-1.8-1.5-2.1-1.8 2z"/>
<path class="s17" d="M557.5 218.7l1.7 .2-1.5-1.7-1.7-.2z"/>
<path class="s61" d="M628.3 179.7l1.7-1.9-1.5-2.3-1.8 1.8z"/>
<path class="s48" d="M524.2 190.6l1.8-.6-1.5-2.4-1.8 .8z"/>
<path class="s52" d="M637.8 188l1.7-1.3-1.5-3.2-1.7 1.3z"/>
<path class="s46" d="M497.8 192.7l1.8-2.2-1.5-1.2-1.7 2.5z"/>
<path class="s44" d="M528.9 194.4l1.8-.2-1.4-2.3-1.8 .4z"/>
<path class="s52" d="M504.6 187.5l1.8-2-1.5-1.8-1.7 2.3z"/>
<path class="s53" d="M516.2 186.1l1.8-1.3-1.5-2.4-1.8 1.6z"/>
<path class="s8" d="M585 227.3l1.8-1.6-1.5-1.4-1.8 1.6z"/>
<path class="s14" d="M595.1 222.8l1.8-2.3-1.5-1.5-1.8 2.3z"/>
<path class="s54" d="M512.9 185.5l1.8-1.5-1.5-2.3-1.7 1.8z"/>
<path class="s34" d="M487.4 203.5l1.8-2.3-1.4-.3-1.8 2.4z"/>
<path class="s59" d="M623.2 181.8l1.8-2.4-1.5-2.1-1.8 2.4z"/>
<path class="s22" d="M477 214.4l1.8-2.1-1.4 0-1.8 2.2z"/>
<path class="s27" d="M605.5 211.6l1.8-2.9-1.6-1.9-1.7 3z"/>
<path class="s57" d="M633 183.3l1.8-1.6-1.6-2.8-1.7 1.5z"/>
<path class="s30" d="M607.3 208.7l1.7-3.1-1.5-1.9-1.8 3.1z"/>
<path class="s23" d="M603.7 214.5l1.8-2.9-1.5-1.8-1.8 2.9z"/>
<path class="s14" d="M562.2 222.1l1.8 0-1.5-1.6-1.8 0z"/>
<path class="s44" d="M496 194.9l1.8-2.2-1.4-.9-1.8 2.4z"/>
<path class="s33" d="M609 205.6l1.8-3.1-1.5-2-1.8 3.2z"/>
<path class="s21" d="M601.9 217.2l1.8-2.7-1.5-1.8-1.8 2.8z"/>
<path class="s37" d="M610.8 202.5l1.8-3.2-1.5-1.9-1.8 3.1z"/>
<path class="s50" d="M520.9 189.2l1.8-.8-1.5-2.4-1.7 1.1z"/>
<path class="s50" d="M502.8 189.5l1.8-2-1.4-1.5-1.8 2.3z"/>
<path class="s56" d="M621.5 184.4l1.7-2.6-1.5-2.1-1.8 2.6z"/>
<path class="s9" d="M588.3 227.2l1.8-1.8-1.5-1.4-1.8 1.7z"/>
<path class="s8" d="M576.8 228l1.7-.9-1.5-1.4-1.8 .9z"/>
<path class="s32" d="M485.6 205.7l1.8-2.2-1.4-.2-1.8 2.3z"/>
<path class="s12" d="M593.4 224.9l1.7-2.1-1.5-1.5-1.8 2.1z"/>
<path class="s8" d="M573.5 227.4l1.7-.8-1.5-1.4-1.7 .7z"/>
<path class="s53" d="M507.9 187.1l1.8-1.8-1.5-1.9-1.8 2.1z"/>
<path class="s59" d="M626.5 181.8l1.8-2.1-1.6-2.4-1.7 2.1z"/>
<path class="s58" d="M629.8 182.3l1.7-1.9-1.5-2.6-1.7 1.9z"/>
<path class="s40" d="M612.6 199.3l1.8-3.1-1.6-2-1.7 3.2z"/>
<path class="s18" d="M600.2 219.7l1.7-2.5-1.5-1.7-1.8 2.6z"/>
<path class="s28" d="M544.7 208.6l1.8 .6-1.5-1.9-1.8-.5z"/>
<path class="s24" d="M549.4 212.7l1.8 .5-1.5-1.8-1.7-.4z"/>
<path class="s54" d="M634.5 186.4l1.8-1.6-1.5-3.1-1.8 1.6z"/>
<path class="s7" d="M580 228.5l1.8-1.2-1.5-1.4-1.8 1.2z"/>
<path class="s53" d="M619.7 187.1l1.8-2.7-1.6-2.1-1.7 2.7z"/>
<path class="s44" d="M614.4 196.2l1.8-3.1-1.6-2.1-1.8 3.2z"/>
<path class="s33" d="M539.9 204.4l1.8 .6-1.5-2-1.8-.4z"/>
<path class="s9" d="M570.2 226.4l1.8-.5-1.5-1.5-1.8 .5z"/>
<path class="s46" d="M525.7 192.6l1.8-.3-1.5-2.3-1.8 .6z"/>
<path class="s20" d="M475.2 216.5l1.8-2.1-1.4 .1-1.7 2.1z"/>
<path class="s20" d="M554.2 216.6l1.8 .4-1.5-1.7-1.8-.4z"/>
<path class="s47" d="M616.2 193.1l1.7-3-1.5-2.1-1.8 3z"/>
<path class="s50" d="M617.9 190.1l1.8-3-1.5-2.1-1.8 3z"/>
<path class="s37" d="M535.2 200.3l1.8 .4-1.5-2.1-1.8-.2z"/>
<path class="s42" d="M494.2 197.1l1.8-2.2-1.4-.7-1.8 2.4z"/>
<path class="s42" d="M530.4 196.4l1.8 0-1.5-2.2-1.8 .2z"/>
<path class="s52" d="M517.7 188.1l1.8-1-1.5-2.3-1.8 1.3z"/>
<path class="s53" d="M511.1 187l1.8-1.5-1.4-2-1.8 1.8z"/>
<path class="s51" d="M636 189.7l1.8-1.7-1.5-3.2-1.8 1.6z"/>
<path class="s15" d="M598.4 222.1l1.8-2.4-1.6-1.6-1.7 2.4z"/>
<path class="s7" d="M583.3 228.7l1.7-1.4-1.5-1.4-1.7 1.4z"/>
<path class="s52" d="M514.4 187.4l1.8-1.3-1.5-2.1-1.8 1.5z"/>
<path class="s30" d="M483.8 207.9l1.8-2.2-1.4-.1-1.8 2.3z"/>
<path class="s57" d="M624.8 184.1l1.7-2.3-1.5-2.4-1.8 2.4z"/>
<path class="s48" d="M501 191.5l1.8-2-1.4-1.2-1.8 2.2z"/>
<path class="s11" d="M567 225.2l1.7-.3-1.5-1.5-1.7 .2z"/>
<path class="s56" d="M631.3 185.2l1.7-1.9-1.5-2.9-1.7 1.9z"/>
<path class="s16" d="M559 220.3l1.7 .2-1.5-1.6-1.7-.2z"/>
<path class="s10" d="M591.6 226.9l1.8-2-1.6-1.5-1.7 2z"/>
<path class="s57" d="M628 184.4l1.8-2.1-1.5-2.6-1.8 2.1z"/>
<path class="s51" d="M506.1 188.9l1.8-1.8-1.5-1.6-1.8 2z"/>
<path class="s39" d="M492.4 199.3l1.8-2.2-1.4-.5-1.8 2.3z"/>
<path class="s28" d="M608.8 210.6l1.8-3-1.6-2-1.7 3.1z"/>
<path class="s13" d="M596.6 224.4l1.8-2.3-1.5-1.6-1.8 2.3z"/>
<path class="s25" d="M607 213.5l1.8-2.9-1.5-1.9-1.8 2.9z"/>
<path class="s54" d="M623 186.7l1.8-2.6-1.6-2.3-1.7 2.6z"/>
<path class="s18" d="M473.4 218.5l1.8-2-1.3 .1-1.8 2z"/>
<path class="s32" d="M610.6 207.6l1.7-3-1.5-2.1-1.8 3.1z"/>
<path class="s8" d="M586.6 228.7l1.7-1.5-1.5-1.5-1.8 1.6z"/>
<path class="s48" d="M522.4 191.1l1.8-.5-1.5-2.2-1.8 .8z"/>
<path class="s22" d="M605.2 216.3l1.8-2.8-1.5-1.9-1.8 2.9z"/>
<path class="s35" d="M612.3 204.6l1.8-3.1-1.5-2.2-1.8 3.2z"/>
<path class="s53" d="M632.8 188.2l1.7-1.8-1.5-3.1-1.7 1.9z"/>
<path class="s28" d="M482 210l1.8-2.1-1.4 0-1.8 2.2z"/>
<path class="s39" d="M614.1 201.5l1.8-3.1-1.5-2.2-1.8 3.1z"/>
<path class="s52" d="M621.2 189.5l1.8-2.8-1.5-2.3-1.8 2.7z"/>
<path class="s19" d="M603.5 218.9l1.7-2.6-1.5-1.8-1.8 2.7z"/>
<path class="s46" d="M499.2 193.5l1.8-2-1.4-1-1.8 2.2z"/>
<path class="s42" d="M615.9 198.4l1.8-3-1.5-2.3-1.8 3.1z"/>
<path class="s13" d="M563.7 223.7l1.8-.1-1.5-1.5-1.8 0z"/>
<path class="s49" d="M619.5 192.4l1.7-2.9-1.5-2.4-1.8 3z"/>
<path class="s45" d="M617.7 195.4l1.8-3-1.6-2.3-1.7 3z"/>
<path class="s54" d="M626.3 186.8l1.7-2.4-1.5-2.6-1.7 2.3z"/>
<path class="s45" d="M527.2 194.5l1.7-.1-1.4-2.1-1.8 .3z"/>
<path class="s49" d="M634.3 191.5l1.7-1.8-1.5-3.3-1.7 1.8z"/>
<path class="s54" d="M629.5 187.3l1.8-2.1-1.5-2.9-1.8 2.1z"/>
<path class="s52" d="M509.3 188.6l1.8-1.6-1.4-1.7-1.8 1.8z"/>
<path class="s37" d="M490.6 201.4l1.8-2.1-1.4-.4-1.8 2.3z"/>
<path class="s27" d="M546.2 210.3l1.8 .7-1.5-1.8-1.8-.6z"/>
<path class="s17" d="M601.7 221.4l1.8-2.5-1.6-1.7-1.7 2.5z"/>
<path class="s31" d="M541.4 206.2l1.8 .6-1.5-1.8-1.8-.6z"/>
<path class="s23" d="M550.9 214.4l1.8 .5-1.5-1.7-1.8-.5z"/>
<path class="s50" d="M519.1 189.9l1.8-.7-1.4-2.1-1.8 1z"/>
<path class="s40" d="M531.9 198.2l1.8 .2-1.5-2-1.8 0z"/>
<path class="s36" d="M536.7 202.1l1.7 .5-1.4-1.9-1.8-.4z"/>
<path class="s11" d="M594.9 226.5l1.7-2.1-1.5-1.6-1.7 2.1z"/>
<path class="s8" d="M589.9 228.6l1.7-1.7-1.5-1.5-1.8 1.8z"/>
<path class="s8" d="M575 228.8l1.8-.8-1.6-1.4-1.7 .8z"/>
<path class="s7" d="M578.3 229.5l1.7-1-1.5-1.4-1.7 .9z"/>
<path class="s49" d="M504.3 190.6l1.8-1.7-1.5-1.4-1.8 2z"/>
<path class="s19" d="M555.7 218.3l1.8 .4-1.5-1.7-1.8-.4z"/>
<path class="s17" d="M471.6 220.5l1.8-2-1.3 .1-1.9 2z"/>
<path class="s52" d="M512.6 188.6l1.8-1.2-1.5-1.9-1.8 1.5z"/>
<path class="s26" d="M480.2 212.1l1.8-2.1-1.4 .1-1.8 2.2z"/>
<path class="s52" d="M624.5 189.3l1.8-2.5-1.5-2.7-1.8 2.6z"/>
<path class="s51" d="M515.9 189.1l1.8-1-1.5-2-1.8 1.3z"/>
<path class="s7" d="M581.5 229.9l1.8-1.2-1.5-1.4-1.8 1.2z"/>
<path class="s9" d="M571.7 227.9l1.8-.5-1.5-1.5-1.8 .5z"/>
<path class="s51" d="M631.1 190.3l1.7-2.1-1.5-3-1.8 2.1z"/>
<path class="s14" d="M599.9 223.8l1.8-2.4-1.5-1.7-1.8 2.4z"/>
<path class="s44" d="M497.5 195.5l1.7-2-1.4-.8-1.8 2.2z"/>
<path class="s52" d="M627.8 189.6l1.7-2.3-1.5-2.9-1.7 2.4z"/>
<path class="s49" d="M622.7 192l1.8-2.7-1.5-2.6-1.8 2.8z"/>
<path class="s35" d="M488.8 203.5l1.8-2.1-1.4-.2-1.8 2.3z"/>
<path class="s30" d="M612.1 209.8l1.8-3-1.6-2.2-1.7 3z"/>
<path class="s27" d="M610.3 212.7l1.8-2.9-1.5-2.2-1.8 3z"/>
<path class="s33" d="M613.9 206.8l1.7-3-1.5-2.3-1.8 3.1z"/>
<path class="s24" d="M608.5 215.5l1.8-2.8-1.5-2.1-1.8 2.9z"/>
<path class="s15" d="M560.5 221.9l1.7 .2-1.5-1.6-1.7-.2z"/>
<path class="s7" d="M584.8 230.1l1.8-1.4-1.6-1.4-1.7 1.4z"/>
<path class="s37" d="M615.6 203.8l1.8-3-1.5-2.4-1.8 3.1z"/>
<path class="s46" d="M621 194.9l1.7-2.9-1.5-2.5-1.7 2.9z"/>
<path class="s48" d="M632.6 193.5l1.7-2-1.5-3.3-1.7 2.1z"/>
<path class="s40" d="M617.4 200.8l1.8-3-1.5-2.4-1.8 3z"/>
<path class="s47" d="M523.9 192.9l1.8-.3-1.5-2-1.8 .5z"/>
<path class="s43" d="M619.2 197.8l1.8-2.9-1.5-2.5-1.8 3z"/>
<path class="s10" d="M568.5 226.7l1.7-.3-1.5-1.5-1.7 .3z"/>
<path class="s21" d="M606.8 218.2l1.7-2.7-1.5-2-1.8 2.8z"/>
<path class="s9" d="M593.1 228.3l1.8-1.8-1.5-1.6-1.8 2z"/>
<path class="s49" d="M626 192.1l1.8-2.5-1.5-2.8-1.8 2.5z"/>
<path class="s24" d="M478.4 214.2l1.8-2.1-1.4 .2-1.8 2.1z"/>
<path class="s12" d="M598.2 226l1.7-2.2-1.5-1.7-1.8 2.3z"/>
<path class="s49" d="M629.3 192.6l1.8-2.3-1.6-3-1.7 2.3z"/>
<path class="s50" d="M507.5 190.1l1.8-1.5-1.4-1.5-1.8 1.8z"/>
<path class="s48" d="M502.5 192.4l1.8-1.8-1.5-1.1-1.8 2z"/>
<path class="s18" d="M605 220.8l1.8-2.6-1.6-1.9-1.7 2.6z"/>
<path class="s42" d="M495.7 197.5l1.8-2-1.5-.6-1.8 2.2z"/>
<path class="s43" d="M528.6 196.2l1.8 .2-1.5-2-1.7 .1z"/>
<path class="s7" d="M588.1 230.2l1.8-1.6-1.6-1.4-1.7 1.5z"/>
<path class="s33" d="M487 205.6l1.8-2.1-1.4 0-1.8 2.2z"/>
<path class="s47" d="M624.3 194.8l1.7-2.7-1.5-2.8-1.8 2.7z"/>
<path class="s46" d="M630.8 195.8l1.8-2.3-1.5-3.2-1.8 2.3z"/>
<path class="s49" d="M520.6 191.6l1.8-.5-1.5-1.9-1.8 .7z"/>
<path class="s39" d="M533.4 199.9l1.8 .4-1.5-1.9-1.8-.2z"/>
<path class="s12" d="M565.2 225.3l1.8-.1-1.5-1.6-1.8 .1z"/>
<path class="s44" d="M622.5 197.6l1.8-2.8-1.6-2.8-1.7 2.9z"/>
<path class="s26" d="M547.7 212l1.7 .7-1.4-1.7-1.8-.7z"/>
<path class="s15" d="M603.2 223.2l1.8-2.4-1.5-1.9-1.8 2.5z"/>
<path class="s30" d="M542.9 207.9l1.8 .7-1.5-1.8-1.8-.6z"/>
<path class="s35" d="M538.2 203.8l1.7 .6-1.5-1.8-1.7-.5z"/>
<path class="s47" d="M627.5 195.1l1.8-2.5-1.5-3-1.8 2.5z"/>
<path class="s22" d="M552.4 216l1.8 .6-1.5-1.7-1.8-.5z"/>
<path class="s41" d="M620.7 200.4l1.8-2.8-1.5-2.7-1.8 2.9z"/>
<path class="s51" d="M510.8 189.9l1.8-1.3-1.5-1.6-1.8 1.6z"/>
<path class="s38" d="M618.9 203.3l1.8-2.9-1.5-2.6-1.8 3z"/>
<path class="s34" d="M617.2 206.3l1.7-3-1.5-2.5-1.8 3z"/>
<path class="s31" d="M615.4 209.2l1.8-2.9-1.6-2.5-1.7 3z"/>
<path class="s28" d="M613.6 212.1l1.8-2.9-1.5-2.4-1.8 3z"/>
<path class="s10" d="M596.4 228l1.8-2-1.6-1.6-1.7 2.1z"/>
<path class="s22" d="M476.6 216.2l1.8-2-1.4 .2-1.8 2.1z"/>
<path class="s50" d="M517.3 190.6l1.8-.7-1.4-1.8-1.8 1z"/>
<path class="s25" d="M611.8 214.9l1.8-2.8-1.5-2.3-1.8 2.9z"/>
<path class="s18" d="M557.2 219.9l1.8 .4-1.5-1.6-1.8-.4z"/>
<path class="s51" d="M514.1 190l1.8-.9-1.5-1.7-1.8 1.2z"/>
<path class="s8" d="M591.4 230.1l1.7-1.8-1.5-1.4-1.7 1.7z"/>
<path class="s44" d="M625.8 197.7l1.7-2.6-1.5-3-1.7 2.7z"/>
<path class="s7" d="M576.5 230.3l1.8-.8-1.5-1.5-1.8 .8z"/>
<path class="s6" d="M579.8 230.9l1.7-1-1.5-1.4-1.7 1z"/>
<path class="s43" d="M629 198.2l1.8-2.4-1.5-3.2-1.8 2.5z"/>
<path class="s22" d="M610.1 217.6l1.7-2.7-1.5-2.2-1.8 2.8z"/>
<path class="s31" d="M485.2 207.7l1.8-2.1-1.4 .1-1.8 2.2z"/>
<path class="s40" d="M493.9 199.4l1.8-1.9-1.5-.4-1.8 2.2z"/>
<path class="s13" d="M601.5 225.5l1.7-2.3-1.5-1.8-1.8 2.4z"/>
<path class="s46" d="M500.7 194.1l1.8-1.7-1.5-.9-1.8 2z"/>
<path class="s8" d="M573.3 229.4l1.7-.6-1.5-1.4-1.8 .5z"/>
<path class="s6" d="M583.1 231.3l1.7-1.2-1.5-1.4-1.8 1.2z"/>
<path class="s41" d="M624 200.4l1.8-2.7-1.5-2.9-1.8 2.8z"/>
<path class="s49" d="M505.7 191.5l1.8-1.4-1.4-1.2-1.8 1.7z"/>
<path class="s19" d="M608.3 220.2l1.8-2.6-1.6-2.1-1.7 2.7z"/>
<path class="s45" d="M525.4 194.5l1.8 0-1.5-1.9-1.8 .3z"/>
<path class="s38" d="M622.2 203.1l1.8-2.7-1.5-2.8-1.8 2.8z"/>
<path class="s14" d="M562 223.6l1.7 .1-1.5-1.6-1.7-.2z"/>
<path class="s41" d="M627.3 200.7l1.7-2.5-1.5-3.1-1.7 2.6z"/>
<path class="s35" d="M620.5 206l1.7-2.9-1.5-2.7-1.8 2.9z"/>
<path class="s9" d="M570 228.3l1.7-.4-1.5-1.5-1.7 .3z"/>
<path class="s6" d="M586.3 231.6l1.8-1.4-1.5-1.5-1.8 1.4z"/>
<path class="s17" d="M606.5 222.7l1.8-2.5-1.5-2-1.8 2.6z"/>
<path class="s32" d="M618.7 208.8l1.8-2.8-1.6-2.7-1.7 3z"/>
<path class="s20" d="M474.8 218.3l1.8-2.1-1.4 .3-1.8 2z"/>
<path class="s8" d="M594.7 229.9l1.7-1.9-1.5-1.5-1.8 1.8z"/>
<path class="s29" d="M616.9 211.6l1.8-2.8-1.5-2.5-1.8 2.9z"/>
<path class="s11" d="M599.7 227.6l1.8-2.1-1.6-1.7-1.7 2.2z"/>
<path class="s38" d="M625.5 203.3l1.8-2.6-1.5-3-1.8 2.7z"/>
<path class="s42" d="M530.1 197.8l1.8 .4-1.5-1.8-1.8-.2z"/>
<path class="s29" d="M483.4 209.7l1.8-2-1.4 .2-1.8 2.1z"/>
<path class="s26" d="M615.1 214.4l1.8-2.8-1.5-2.4-1.8 2.9z"/>
<path class="s38" d="M492.1 201.4l1.8-2-1.5-.1-1.8 2.1z"/>
<path class="s23" d="M613.4 217.1l1.7-2.7-1.5-2.3-1.8 2.8z"/>
<path class="s35" d="M623.7 206l1.8-2.7-1.5-2.9-1.8 2.7z"/>
<path class="s45" d="M498.9 195.9l1.8-1.8-1.5-.6-1.7 2z"/>
<path class="s47" d="M522.1 193.1l1.8-.2-1.5-1.8-1.8 .5z"/>
<path class="s38" d="M534.9 201.5l1.8 .6-1.5-1.8-1.8-.4z"/>
<path class="s50" d="M509 191.1l1.8-1.2-1.5-1.3-1.8 1.5z"/>
<path class="s14" d="M604.8 225l1.7-2.3-1.5-1.9-1.8 2.4z"/>
<path class="s6" d="M589.6 231.6l1.8-1.5-1.5-1.5-1.8 1.6z"/>
<path class="s34" d="M539.6 205.4l1.8 .8-1.5-1.8-1.7-.6z"/>
<path class="s29" d="M544.4 209.5l1.8 .8-1.5-1.7-1.8-.7z"/>
<path class="s25" d="M549.2 213.6l1.7 .8-1.5-1.7-1.7-.7z"/>
<path class="s33" d="M622 208.7l1.7-2.7-1.5-2.9-1.7 2.9z"/>
<path class="s11" d="M566.7 226.9l1.8-.2-1.5-1.5-1.8 .1z"/>
<path class="s20" d="M611.6 219.7l1.8-2.6-1.6-2.2-1.7 2.7z"/>
<path class="s20" d="M553.9 217.7l1.8 .6-1.5-1.7-1.8-.6z"/>
<path class="s48" d="M503.9 193.1l1.8-1.6-1.4-.9-1.8 1.8z"/>
<path class="s30" d="M620.2 211.4l1.8-2.7-1.5-2.7-1.8 2.8z"/>
<path class="s9" d="M598 229.6l1.7-2-1.5-1.6-1.8 2z"/>
<path class="s18" d="M473 220.2l1.8-1.9-1.4 .2-1.8 2z"/>
<path class="s49" d="M518.8 192l1.8-.4-1.5-1.7-1.8 .7z"/>
<path class="s50" d="M512.3 191l1.8-1-1.5-1.4-1.8 1.3z"/>
<path class="s27" d="M481.6 211.8l1.8-2.1-1.4 .3-1.8 2.1z"/>
<path class="s18" d="M609.8 222.2l1.8-2.5-1.5-2.1-1.8 2.6z"/>
<path class="s17" d="M558.7 221.6l1.8 .3-1.5-1.6-1.8-.4z"/>
<path class="s27" d="M618.4 214.1l1.8-2.7-1.5-2.6-1.8 2.8z"/>
<path class="s12" d="M603 227.2l1.8-2.2-1.6-1.8-1.7 2.3z"/>
<path class="s37" d="M490.3 203.4l1.8-2-1.5 0-1.8 2.1z"/>
<path class="s50" d="M515.5 191.3l1.8-.7-1.4-1.5-1.8 .9z"/>
<path class="s7" d="M592.9 231.6l1.8-1.7-1.6-1.6-1.7 1.8z"/>
<path class="s6" d="M578.1 231.8l1.7-.9-1.5-1.4-1.8 .8z"/>
<path class="s24" d="M616.7 216.7l1.7-2.6-1.5-2.5-1.8 2.8z"/>
<path class="s6" d="M581.3 232.4l1.8-1.1-1.6-1.4-1.7 1z"/>
<path class="s44" d="M526.8 196l1.8 .2-1.4-1.7-1.8 0z"/>
<path class="s7" d="M574.8 230.9l1.7-.6-1.5-1.5-1.7 .6z"/>
<path class="s43" d="M497.1 197.7l1.8-1.8-1.4-.4-1.8 2z"/>
<path class="s15" d="M608.1 224.6l1.7-2.4-1.5-2-1.8 2.5z"/>
<path class="s5" d="M584.6 232.8l1.7-1.2-1.5-1.5-1.7 1.2z"/>
<path class="s21" d="M614.9 219.3l1.8-2.6-1.6-2.3-1.7 2.7z"/>
<path class="s13" d="M563.5 225.2l1.7 .1-1.5-1.6-1.7-.1z"/>
<path class="s8" d="M571.5 229.8l1.8-.4-1.6-1.5-1.7 .4z"/>
<path class="s10" d="M601.2 229.3l1.8-2.1-1.5-1.7-1.8 2.1z"/>
<path class="s25" d="M479.8 213.8l1.8-2-1.4 .3-1.8 2.1z"/>
<path class="s41" d="M531.6 199.3l1.8 .6-1.5-1.7-1.8-.4z"/>
<path class="s19" d="M613.1 221.8l1.8-2.5-1.5-2.2-1.8 2.6z"/>
<path class="s5" d="M587.9 233l1.7-1.4-1.5-1.4-1.8 1.4z"/>
<path class="s49" d="M507.2 192.3l1.8-1.2-1.5-1-1.8 1.4z"/>
<path class="s7" d="M596.2 231.4l1.8-1.8-1.6-1.6-1.7 1.9z"/>
<path class="s35" d="M488.5 205.3l1.8-1.9-1.5 .1-1.8 2.1z"/>
<path class="s13" d="M606.3 226.8l1.8-2.2-1.6-1.9-1.7 2.3z"/>
<path class="s47" d="M502.1 194.6l1.8-1.5-1.4-.7-1.8 1.7z"/>
<path class="s37" d="M536.4 203l1.8 .8-1.5-1.7-1.8-.6z"/>
<path class="s46" d="M523.6 194.5l1.8 0-1.5-1.6-1.8 .2z"/>
<path class="s33" d="M541.1 207l1.8 .9-1.5-1.7-1.8-.8z"/>
<path class="s28" d="M545.9 211.1l1.8 .9-1.5-1.7-1.8-.8z"/>
<path class="s24" d="M550.7 215.3l1.7 .7-1.5-1.6-1.7-.8z"/>
<path class="s16" d="M611.4 224.2l1.7-2.4-1.5-2.1-1.8 2.5z"/>
<path class="s19" d="M555.4 219.4l1.8 .5-1.5-1.6-1.8-.6z"/>
<path class="s6" d="M591.2 233.1l1.7-1.5-1.5-1.5-1.8 1.5z"/>
<path class="s41" d="M495.3 199.4l1.8-1.7-1.4-.2-1.8 1.9z"/>
<path class="s10" d="M568.2 228.5l1.8-.2-1.5-1.6-1.8 .2z"/>
<path class="s50" d="M510.5 192l1.8-1-1.5-1.1-1.8 1.2z"/>
<path class="s24" d="M478 215.8l1.8-2-1.4 .4-1.8 2z"/>
<path class="s11" d="M604.5 229l1.8-2.2-1.5-1.8-1.8 2.2z"/>
<path class="s8" d="M599.5 231.2l1.7-1.9-1.5-1.7-1.7 2z"/>
<path class="s16" d="M560.2 223.2l1.8 .4-1.5-1.7-1.8-.3z"/>
<path class="s33" d="M486.7 207.3l1.8-2-1.5 .3-1.8 2.1z"/>
<path class="s48" d="M520.3 193.3l1.8-.2-1.5-1.5-1.8 .4z"/>
<path class="s14" d="M609.6 226.5l1.8-2.3-1.6-2-1.7 2.4z"/>
<path class="s6" d="M594.4 233l1.8-1.6-1.5-1.5-1.8 1.7z"/>
<path class="s50" d="M513.7 192l1.8-.7-1.4-1.3-1.8 1z"/>
<path class="s43" d="M528.3 197.4l1.8 .4-1.5-1.6-1.8-.2z"/>
<path class="s49" d="M517 192.4l1.8-.4-1.5-1.4-1.8 .7z"/>
<path class="s5" d="M579.6 233.2l1.7-.8-1.5-1.5-1.7 .9z"/>
<path class="s5" d="M582.8 233.8l1.8-1-1.5-1.5-1.8 1.1z"/>
<path class="s45" d="M500.3 196.1l1.8-1.5-1.4-.5-1.8 1.8z"/>
<path class="s6" d="M576.3 232.4l1.8-.6-1.6-1.5-1.7 .6z"/>
<path class="s12" d="M565 226.8l1.7 .1-1.5-1.6-1.7-.1z"/>
<path class="s48" d="M505.4 193.6l1.8-1.3-1.5-.8-1.8 1.6z"/>
<path class="s40" d="M493.5 201.2l1.8-1.8-1.4 0-1.8 2z"/>
<path class="s5" d="M586.1 234.2l1.8-1.2-1.6-1.4-1.7 1.2z"/>
<path class="s9" d="M602.8 230.9l1.7-1.9-1.5-1.8-1.8 2.1z"/>
<path class="s11" d="M607.8 228.7l1.8-2.2-1.5-1.9-1.8 2.2z"/>
<path class="s22" d="M476.2 217.9l1.8-2.1-1.4 .4-1.8 2.1z"/>
<path class="s8" d="M573 231.4l1.8-.5-1.5-1.5-1.8 .4z"/>
<path class="s40" d="M533.1 200.8l1.8 .7-1.5-1.6-1.8-.6z"/>
<path class="s31" d="M484.9 209.3l1.8-2-1.5 .4-1.8 2z"/>
<path class="s7" d="M597.7 232.9l1.8-1.7-1.5-1.6-1.8 1.8z"/>
<path class="s5" d="M589.4 234.4l1.8-1.3-1.6-1.5-1.7 1.4z"/>
<path class="s36" d="M537.9 204.5l1.7 .9-1.4-1.6-1.8-.8z"/>
<path class="s27" d="M547.4 212.7l1.8 .9-1.5-1.6-1.8-.9z"/>
<path class="s23" d="M552.2 216.9l1.7 .8-1.5-1.7-1.7-.7z"/>
<path class="s32" d="M542.6 208.5l1.8 1-1.5-1.6-1.8-.9z"/>
<path class="s46" d="M525 195.7l1.8 .3-1.4-1.5-1.8 0z"/>
<path class="s18" d="M556.9 221l1.8 .6-1.5-1.7-1.8-.5z"/>
<path class="s9" d="M569.8 230.1l1.7-.3-1.5-1.5-1.8 .2z"/>
<path class="s9" d="M606.1 230.7l1.7-2-1.5-1.9-1.8 2.2z"/>
<path class="s5" d="M592.7 234.5l1.7-1.5-1.5-1.4-1.7 1.5z"/>
<path class="s49" d="M508.7 193l1.8-1-1.5-.9-1.8 1.2z"/>
<path class="s38" d="M491.7 203.1l1.8-1.9-1.4 .2-1.8 2z"/>
<path class="s44" d="M498.5 197.7l1.8-1.6-1.4-.2-1.8 1.8z"/>
<path class="s7" d="M601 232.8l1.8-1.9-1.6-1.6-1.7 1.9z"/>
<path class="s20" d="M474.4 219.8l1.8-1.9-1.4 .4-1.8 1.9z"/>
<path class="s15" d="M561.7 224.9l1.8 .3-1.5-1.6-1.8-.4z"/>
<path class="s29" d="M483 211.3l1.9-2-1.5 .4-1.8 2.1z"/>
<path class="s47" d="M503.6 194.9l1.8-1.3-1.5-.5-1.8 1.5z"/>
<path class="s47" d="M521.8 194.4l1.8 .1-1.5-1.4-1.8 .2z"/>
<path class="s5" d="M596 234.6l1.7-1.7-1.5-1.5-1.8 1.6z"/>
<path class="s43" d="M529.8 198.7l1.8 .6-1.5-1.5-1.8-.4z"/>
<path class="s50" d="M511.9 192.7l1.8-.7-1.4-1-1.8 1z"/>
<path class="s5" d="M581.1 234.7l1.7-.9-1.5-1.4-1.7 .8z"/>
<path class="s11" d="M566.5 228.5l1.7 0-1.5-1.6-1.7-.1z"/>
<path class="s4" d="M584.4 235.3l1.7-1.1-1.5-1.4-1.8 1z"/>
<path class="s6" d="M577.8 233.9l1.8-.7-1.5-1.4-1.8 .6z"/>
<path class="s8" d="M604.3 232.6l1.8-1.9-1.6-1.7-1.7 1.9z"/>
<path class="s49" d="M518.5 193.4l1.8-.1-1.5-1.3-1.8 .4z"/>
<path class="s49" d="M515.2 192.9l1.8-.5-1.5-1.1-1.8 .7z"/>
<path class="s4" d="M587.7 235.7l1.7-1.3-1.5-1.4-1.8 1.2z"/>
<path class="s37" d="M489.9 204.9l1.8-1.8-1.4 .3-1.8 1.9z"/>
<path class="s28" d="M481.2 213.3l1.8-2-1.4 .5-1.8 2z"/>
<path class="s7" d="M574.6 232.9l1.7-.5-1.5-1.5-1.8 .5z"/>
<path class="s39" d="M534.6 202.2l1.8 .8-1.5-1.5-1.8-.7z"/>
<path class="s6" d="M599.3 234.5l1.7-1.7-1.5-1.6-1.8 1.7z"/>
<path class="s43" d="M496.7 199.3l1.8-1.6-1.4 0-1.8 1.7z"/>
<path class="s4" d="M590.9 235.9l1.8-1.4-1.5-1.4-1.8 1.3z"/>
<path class="s22" d="M553.7 218.6l1.7 .8-1.5-1.7-1.7-.8z"/>
<path class="s26" d="M548.9 214.3l1.8 1-1.5-1.7-1.8-.9z"/>
<path class="s35" d="M539.4 206l1.7 1-1.5-1.6-1.7-.9z"/>
<path class="s31" d="M544.1 210.1l1.8 1-1.5-1.6-1.8-1z"/>
<path class="s17" d="M558.5 222.7l1.7 .5-1.5-1.6-1.8-.6z"/>
<path class="s49" d="M506.8 194l1.9-1-1.5-.7-1.8 1.3z"/>
<path class="s8" d="M571.3 231.7l1.7-.3-1.5-1.6-1.7 .3z"/>
<path class="s45" d="M526.5 196.9l1.8 .5-1.5-1.4-1.8-.3z"/>
<path class="s6" d="M602.6 234.4l1.7-1.8-1.5-1.7-1.8 1.9z"/>
<path class="s4" d="M594.2 236l1.8-1.4-1.6-1.6-1.7 1.5z"/>
<path class="s13" d="M563.2 226.6l1.8 .2-1.5-1.6-1.8-.3z"/>
<path class="s46" d="M501.8 196.2l1.8-1.3-1.5-.3-1.8 1.5z"/>
<path class="s26" d="M479.4 215.3l1.8-2-1.4 .5-1.8 2z"/>
<path class="s35" d="M488.1 206.8l1.8-1.9-1.4 .4-1.8 2z"/>
<path class="s4" d="M597.5 236.1l1.8-1.6-1.6-1.6-1.7 1.7z"/>
<path class="s41" d="M494.9 200.9l1.8-1.6-1.4 .1-1.8 1.8z"/>
<path class="s10" d="M568 230.1l1.8 0-1.6-1.6-1.7 0z"/>
<path class="s49" d="M510.1 193.4l1.8-.7-1.4-.7-1.8 1z"/>
<path class="s47" d="M523.2 195.4l1.8 .3-1.4-1.2-1.8-.1z"/>
<path class="s4" d="M582.6 236.2l1.8-.9-1.6-1.5-1.7 .9z"/>
<path class="s42" d="M531.3 200l1.8 .8-1.5-1.5-1.8-.6z"/>
<path class="s4" d="M585.9 236.7l1.8-1-1.6-1.5-1.7 1.1z"/>
<path class="s5" d="M579.4 235.4l1.7-.7-1.5-1.5-1.8 .7z"/>
<path class="s24" d="M477.6 217.3l1.8-2-1.4 .5-1.8 2.1z"/>
<path class="s3" d="M589.2 237.1l1.7-1.2-1.5-1.5-1.7 1.3z"/>
<path class="s33" d="M486.3 208.7l1.8-1.9-1.4 .5-1.8 2z"/>
<path class="s5" d="M600.8 236l1.8-1.6-1.6-1.6-1.7 1.7z"/>
<path class="s6" d="M576.1 234.5l1.7-.6-1.5-1.5-1.7 .5z"/>
<path class="s21" d="M555.2 220.3l1.7 .7-1.5-1.6-1.7-.8z"/>
<path class="s38" d="M536.1 203.5l1.8 1-1.5-1.5-1.8-.8z"/>
<path class="s49" d="M519.9 194.3l1.9 .1-1.5-1.1-1.8 .1z"/>
<path class="s50" d="M513.4 193.3l1.8-.4-1.5-.9-1.8 .7z"/>
<path class="s25" d="M550.4 216l1.8 .9-1.5-1.6-1.8-1z"/>
<path class="s16" d="M560 224.5l1.7 .4-1.5-1.7-1.7-.5z"/>
<path class="s30" d="M545.6 211.7l1.8 1-1.5-1.6-1.8-1z"/>
<path class="s45" d="M500 197.6l1.8-1.4-1.5-.1-1.8 1.6z"/>
<path class="s34" d="M540.8 207.4l1.8 1.1-1.5-1.5-1.7-1z"/>
<path class="s3" d="M592.5 237.4l1.7-1.4-1.5-1.5-1.8 1.4z"/>
<path class="s49" d="M516.7 193.6l1.8-.2-1.5-1-1.8 .5z"/>
<path class="s48" d="M505 195l1.8-1-1.4-.4-1.8 1.3z"/>
<path class="s7" d="M572.8 233.3l1.8-.4-1.6-1.5-1.7 .3z"/>
<path class="s40" d="M493.1 202.6l1.8-1.7-1.4 .3-1.8 1.9z"/>
<path class="s12" d="M564.7 228.3l1.8 .2-1.5-1.7-1.8-.2z"/>
<path class="s3" d="M595.8 237.5l1.7-1.4-1.5-1.5-1.8 1.4z"/>
<path class="s22" d="M475.8 219.3l1.8-2-1.4 .6-1.8 1.9z"/>
<path class="s45" d="M528 198l1.8 .7-1.5-1.3-1.8-.5z"/>
<path class="s31" d="M484.5 210.7l1.8-2-1.4 .6-1.9 2z"/>
<path class="s4" d="M599.1 237.6l1.7-1.6-1.5-1.5-1.8 1.6z"/>
<path class="s9" d="M569.5 231.8l1.8-.1-1.5-1.6-1.8 0z"/>
<path class="s49" d="M508.3 194.2l1.8-.8-1.4-.4-1.9 1z"/>
<path class="s3" d="M584.2 237.7l1.7-1-1.5-1.4-1.8 .9z"/>
<path class="s4" d="M580.9 237l1.7-.8-1.5-1.5-1.7 .7z"/>
<path class="s44" d="M498.2 199l1.8-1.4-1.5 .1-1.8 1.6z"/>
<path class="s3" d="M587.4 238.2l1.8-1.1-1.5-1.4-1.8 1z"/>
<path class="s41" d="M532.8 201.2l1.8 1-1.5-1.4-1.8-.8z"/>
<path class="s39" d="M491.3 204.3l1.8-1.7-1.4 .5-1.8 1.8z"/>
<path class="s19" d="M556.7 222.1l1.8 .6-1.6-1.7-1.7-.7z"/>
<path class="s47" d="M524.7 196.4l1.8 .5-1.5-1.2-1.8-.3z"/>
<path class="s30" d="M482.6 212.6l1.9-1.9-1.5 .6-1.8 2z"/>
<path class="s24" d="M551.9 217.7l1.8 .9-1.5-1.7-1.8-.9z"/>
<path class="s5" d="M577.6 236l1.8-.6-1.6-1.5-1.7 .6z"/>
<path class="s3" d="M590.7 238.6l1.8-1.2-1.6-1.5-1.7 1.2z"/>
<path class="s15" d="M561.5 226.2l1.7 .4-1.5-1.7-1.7-.4z"/>
<path class="s47" d="M503.2 196.1l1.8-1.1-1.4-.1-1.8 1.3z"/>
<path class="s29" d="M547.1 213.3l1.8 1-1.5-1.6-1.8-1z"/>
<path class="s38" d="M537.6 204.9l1.8 1.1-1.5-1.5-1.8-1z"/>
<path class="s33" d="M542.3 208.9l1.8 1.2-1.5-1.6-1.8-1.1z"/>
<path class="s3" d="M594 238.8l1.8-1.3-1.6-1.5-1.7 1.4z"/>
<path class="s11" d="M566.3 230l1.7 .1-1.5-1.6-1.8-.2z"/>
<path class="s50" d="M511.6 193.8l1.8-.5-1.5-.6-1.8 .7z"/>
<path class="s6" d="M574.3 234.9l1.8-.4-1.5-1.6-1.8 .4z"/>
<path class="s48" d="M521.4 195.1l1.8 .3-1.4-1-1.9-.1z"/>
<path class="s3" d="M597.3 239l1.8-1.4-1.6-1.5-1.7 1.4z"/>
<path class="s50" d="M514.8 193.8l1.9-.2-1.5-.7-1.8 .4z"/>
<path class="s37" d="M489.5 206.1l1.8-1.8-1.4 .6-1.8 1.9z"/>
<path class="s28" d="M480.8 214.6l1.8-2-1.4 .7-1.8 2z"/>
<path class="s50" d="M518.1 194.3l1.8 0-1.4-.9-1.8 .2z"/>
<path class="s43" d="M496.3 200.5l1.9-1.5-1.5 .3-1.8 1.6z"/>
<path class="s44" d="M529.5 199.1l1.8 .9-1.5-1.3-1.8-.7z"/>
<path class="s8" d="M571 233.5l1.8-.2-1.5-1.6-1.8 .1z"/>
<path class="s49" d="M506.5 195l1.8-.8-1.5-.2-1.8 1z"/>
<path class="s18" d="M558.2 223.9l1.8 .6-1.5-1.8-1.8-.6z"/>
<path class="s3" d="M585.7 239.1l1.7-.9-1.5-1.5-1.7 1z"/>
<path class="s3" d="M582.4 238.5l1.8-.8-1.6-1.5-1.7 .8z"/>
<path class="s23" d="M553.4 219.5l1.8 .8-1.5-1.7-1.8-.9z"/>
<path class="s14" d="M563 228l1.7 .3-1.5-1.7-1.7-.4z"/>
<path class="s47" d="M501.4 197.3l1.8-1.2-1.4 .1-1.8 1.4z"/>
<path class="s2" d="M589 239.6l1.7-1-1.5-1.5-1.8 1.1z"/>
<path class="s26" d="M479 216.7l1.8-2.1-1.4 .7-1.8 2z"/>
<path class="s41" d="M534.3 202.4l1.8 1.1-1.5-1.3-1.8-1z"/>
<path class="s4" d="M579.1 237.6l1.8-.6-1.5-1.6-1.8 .6z"/>
<path class="s28" d="M548.6 214.9l1.8 1.1-1.5-1.7-1.8-1z"/>
<path class="s35" d="M487.7 208l1.8-1.9-1.4 .7-1.8 1.9z"/>
<path class="s2" d="M592.3 240l1.7-1.2-1.5-1.4-1.8 1.2z"/>
<path class="s32" d="M543.8 210.5l1.8 1.2-1.5-1.6-1.8-1.2z"/>
<path class="s37" d="M539.1 206.3l1.7 1.1-1.4-1.4-1.8-1.1z"/>
<path class="s10" d="M567.8 231.8l1.7 0-1.5-1.7-1.7-.1z"/>
<path class="s47" d="M526.2 197.3l1.8 .7-1.5-1.1-1.8-.5z"/>
<path class="s5" d="M575.8 236.5l1.8-.5-1.5-1.5-1.8 .4z"/>
<path class="s2" d="M595.6 240.2l1.7-1.2-1.5-1.5-1.8 1.3z"/>
<path class="s42" d="M494.5 202l1.8-1.5-1.4 .4-1.8 1.7z"/>
<path class="s50" d="M509.8 194.3l1.8-.5-1.5-.4-1.8 .8z"/>
<path class="s24" d="M477.2 218.7l1.8-2-1.4 .6-1.8 2z"/>
<path class="s34" d="M485.9 209.9l1.8-1.9-1.4 .7-1.8 2z"/>
<path class="s7" d="M572.6 235.2l1.7-.3-1.5-1.6-1.8 .2z"/>
<path class="s49" d="M522.9 195.9l1.8 .5-1.5-1-1.8-.3z"/>
<path class="s17" d="M559.7 225.7l1.8 .5-1.5-1.7-1.8-.6z"/>
<path class="s46" d="M499.6 198.5l1.8-1.2-1.4 .3-1.8 1.4z"/>
<path class="s51" d="M513 194.1l1.8-.3-1.4-.5-1.8 .5z"/>
<path class="s44" d="M531 200.2l1.8 1-1.5-1.2-1.8-.9z"/>
<path class="s22" d="M554.9 221.3l1.8 .8-1.5-1.8-1.8-.8z"/>
<path class="s13" d="M564.5 229.8l1.8 .2-1.6-1.7-1.7-.3z"/>
<path class="s49" d="M504.7 195.9l1.8-.9-1.5 0-1.8 1.1z"/>
<path class="s50" d="M519.6 194.9l1.8 .2-1.5-.8-1.8 0z"/>
<path class="s2" d="M587.2 240.6l1.8-1-1.6-1.4-1.7 .9z"/>
<path class="s2" d="M583.9 239.9l1.8-.8-1.5-1.4-1.8 .8z"/>
<path class="s41" d="M492.7 203.6l1.8-1.6-1.4 .6-1.8 1.7z"/>
<path class="s51" d="M516.3 194.2l1.8 .1-1.4-.7-1.9 .2z"/>
<path class="s27" d="M550.1 216.7l1.8 1-1.5-1.7-1.8-1.1z"/>
<path class="s1" d="M590.5 241.1l1.8-1.1-1.6-1.4-1.7 1z"/>
<path class="s3" d="M580.7 239.1l1.7-.6-1.5-1.5-1.8 .6z"/>
<path class="s9" d="M569.3 233.5l1.7 0-1.5-1.7-1.7 0z"/>
<path class="s32" d="M484 211.8l1.9-1.9-1.4 .8-1.9 1.9z"/>
<path class="s40" d="M535.8 203.7l1.8 1.2-1.5-1.4-1.8-1.1z"/>
<path class="s32" d="M545.3 212.1l1.8 1.2-1.5-1.6-1.8-1.2z"/>
<path class="s1" d="M593.8 241.4l1.8-1.2-1.6-1.4-1.7 1.2z"/>
<path class="s36" d="M540.6 207.7l1.7 1.2-1.5-1.5-1.7-1.1z"/>
<path class="s5" d="M577.4 238.1l1.7-.5-1.5-1.6-1.8 .5z"/>
<path class="s47" d="M527.7 198.2l1.8 .9-1.5-1.1-1.8-.7z"/>
<path class="s50" d="M507.9 194.9l1.9-.6-1.5-.1-1.8 .8z"/>
<path class="s6" d="M574.1 236.8l1.7-.3-1.5-1.6-1.7 .3z"/>
<path class="s45" d="M497.8 199.9l1.8-1.4-1.4 .5-1.9 1.5z"/>
<path class="s39" d="M490.9 205.3l1.8-1.7-1.4 .7-1.8 1.8z"/>
<path class="s30" d="M482.2 213.8l1.8-2-1.4 .8-1.8 2z"/>
<path class="s16" d="M561.2 227.6l1.8 .4-1.5-1.8-1.8-.5z"/>
<path class="s20" d="M556.4 223.1l1.8 .8-1.5-1.8-1.8-.8z"/>
<path class="s12" d="M566 231.6l1.8 .2-1.5-1.8-1.8-.2z"/>
<path class="s49" d="M502.8 196.9l1.9-1-1.5 .2-1.8 1.2z"/>
<path class="s25" d="M551.6 218.5l1.8 1-1.5-1.8-1.8-1z"/>
<path class="s2" d="M585.5 241.4l1.7-.8-1.5-1.5-1.8 .8z"/>
<path class="s44" d="M532.5 201.3l1.8 1.1-1.5-1.2-1.8-1z"/>
<path class="s49" d="M524.4 196.6l1.8 .7-1.5-.9-1.8-.5z"/>
<path class="s1" d="M588.8 242l1.7-.9-1.5-1.5-1.8 1z"/>
<path class="s8" d="M570.8 235.3l1.8-.1-1.6-1.7-1.7 0z"/>
<path class="s51" d="M511.2 194.4l1.8-.3-1.4-.3-1.8 .5z"/>
<path class="s3" d="M582.2 240.7l1.7-.8-1.5-1.4-1.7 .6z"/>
<path class="s1" d="M592.1 242.5l1.7-1.1-1.5-1.4-1.8 1.1z"/>
<path class="s31" d="M546.9 213.8l1.7 1.1-1.5-1.6-1.8-1.2z"/>
<path class="s29" d="M480.4 215.9l1.8-2.1-1.4 .8-1.8 2.1z"/>
<path class="s38" d="M489.1 207.1l1.8-1.8-1.4 .8-1.8 1.9z"/>
<path class="s40" d="M537.3 205l1.8 1.3-1.5-1.4-1.8-1.2z"/>
<path class="s35" d="M542.1 209.2l1.7 1.3-1.5-1.6-1.7-1.2z"/>
<path class="s4" d="M578.9 239.7l1.8-.6-1.6-1.5-1.7 .5z"/>
<path class="s50" d="M521.1 195.4l1.8 .5-1.5-.8-1.8-.2z"/>
<path class="s44" d="M495.9 201.3l1.9-1.4-1.5 .6-1.8 1.5z"/>
<path class="s52" d="M514.5 194.3l1.8-.1-1.5-.4-1.8 .3z"/>
<path class="s51" d="M517.8 194.6l1.8 .3-1.5-.6-1.8-.1z"/>
<path class="s15" d="M562.7 229.5l1.8 .3-1.5-1.8-1.8-.4z"/>
<path class="s5" d="M575.6 238.5l1.8-.4-1.6-1.6-1.7 .3z"/>
<path class="s19" d="M557.9 225l1.8 .7-1.5-1.8-1.8-.8z"/>
<path class="s27" d="M478.6 218l1.8-2.1-1.4 .8-1.8 2z"/>
<path class="s10" d="M567.5 233.5l1.8 0-1.5-1.7-1.8-.2z"/>
<path class="s50" d="M506.1 195.6l1.8-.7-1.4 .1-1.8 .9z"/>
<path class="s48" d="M501 198l1.8-1.1-1.4 .4-1.8 1.2z"/>
<path class="s46" d="M529.2 199.1l1.8 1.1-1.5-1.1-1.8-.9z"/>
<path class="s24" d="M553.2 220.3l1.7 1-1.5-1.8-1.8-1z"/>
<path class="s36" d="M487.3 209l1.8-1.9-1.4 .9-1.8 1.9z"/>
<path class="s7" d="M572.3 237l1.8-.2-1.5-1.6-1.8 .1z"/>
<path class="s29" d="M548.4 215.5l1.7 1.2-1.5-1.8-1.7-1.1z"/>
<path class="s1" d="M587 242.9l1.8-.9-1.6-1.4-1.7 .8z"/>
<path class="s43" d="M494.1 202.8l1.8-1.5-1.4 .7-1.8 1.6z"/>
<path class="s0" d="M590.3 243.4l1.8-.9-1.6-1.4-1.7 .9z"/>
<path class="s2" d="M583.7 242.2l1.8-.8-1.6-1.5-1.7 .8z"/>
<path class="s43" d="M534 202.4l1.8 1.3-1.5-1.3-1.8-1.1z"/>
<path class="s35" d="M543.6 210.8l1.7 1.3-1.5-1.6-1.7-1.3z"/>
<path class="s3" d="M580.4 241.3l1.8-.6-1.5-1.6-1.8 .6z"/>
<path class="s35" d="M485.4 210.9l1.9-1.9-1.4 .9-1.9 1.9z"/>
<path class="s39" d="M538.8 206.4l1.8 1.3-1.5-1.4-1.8-1.3z"/>
<path class="s52" d="M509.4 194.8l1.8-.4-1.4-.1-1.9 .6z"/>
<path class="s13" d="M564.3 231.4l1.7 .2-1.5-1.8-1.8-.3z"/>
<path class="s49" d="M525.9 197.3l1.8 .9-1.5-.9-1.8-.7z"/>
<path class="s18" d="M559.5 227l1.7 .6-1.5-1.9-1.8-.7z"/>
<path class="s9" d="M569.1 235.3l1.7 0-1.5-1.8-1.8 0z"/>
<path class="s4" d="M577.1 240.1l1.8-.4-1.5-1.6-1.8 .4z"/>
<path class="s23" d="M554.7 222.3l1.7 .8-1.5-1.8-1.7-1z"/>
<path class="s47" d="M499.2 199.2l1.8-1.2-1.4 .5-1.8 1.4z"/>
<path class="s50" d="M504.3 196.4l1.8-.8-1.4 .3-1.9 1z"/>
<path class="s42" d="M492.3 204.4l1.8-1.6-1.4 .8-1.8 1.7z"/>
<path class="s52" d="M512.7 194.4l1.8-.1-1.5-.2-1.8 .3z"/>
<path class="s51" d="M522.6 195.9l1.8 .7-1.5-.7-1.8-.5z"/>
<path class="s33" d="M483.6 212.9l1.8-2-1.4 .9-1.8 2z"/>
<path class="s6" d="M573.9 238.8l1.7-.3-1.5-1.7-1.8 .2z"/>
<path class="s28" d="M549.9 217.4l1.7 1.1-1.5-1.8-1.7-1.2z"/>
<path class="s53" d="M516 194.4l1.8 .2-1.5-.4-1.8 .1z"/>
<path class="s52" d="M519.3 194.9l1.8 .5-1.5-.5-1.8-.3z"/>
<path class="s46" d="M530.7 200.1l1.8 1.2-1.5-1.1-1.8-1.1z"/>
<path class="s0" d="M588.6 244.3l1.7-.9-1.5-1.4-1.8 .9z"/>
<path class="s1" d="M585.3 243.6l1.7-.7-1.5-1.5-1.8 .8z"/>
<path class="s34" d="M545.1 212.5l1.8 1.3-1.6-1.7-1.7-1.3z"/>
<path class="s12" d="M565.8 233.3l1.7 .2-1.5-1.9-1.7-.2z"/>
<path class="s16" d="M561 229l1.7 .5-1.5-1.9-1.7-.6z"/>
<path class="s2" d="M582 242.8l1.7-.6-1.5-1.5-1.8 .6z"/>
<path class="s31" d="M481.8 215l1.8-2.1-1.4 .9-1.8 2.1z"/>
<path class="s43" d="M535.5 203.7l1.8 1.3-1.5-1.3-1.8-1.3z"/>
<path class="s38" d="M540.3 207.8l1.8 1.4-1.5-1.5-1.8-1.3z"/>
<path class="s41" d="M490.5 206.2l1.8-1.8-1.4 .9-1.8 1.8z"/>
<path class="s8" d="M570.6 237.1l1.7-.1-1.5-1.7-1.7 0z"/>
<path class="s21" d="M556.2 224.3l1.7 .7-1.5-1.9-1.7-.8z"/>
<path class="s47" d="M497.4 200.5l1.8-1.3-1.4 .7-1.9 1.4z"/>
<path class="s3" d="M578.7 241.8l1.7-.5-1.5-1.6-1.8 .4z"/>
<path class="s52" d="M507.6 195.3l1.8-.5-1.5 .1-1.8 .7z"/>
<path class="s49" d="M527.4 198.1l1.8 1-1.5-.9-1.8-.9z"/>
<path class="s50" d="M502.5 197.4l1.8-1-1.5 .5-1.8 1.1z"/>
<path class="s29" d="M480 217.2l1.8-2.2-1.4 .9-1.8 2.1z"/>
<path class="s27" d="M551.4 219.3l1.8 1-1.6-1.8-1.7-1.1z"/>
<path class="s5" d="M575.4 240.5l1.7-.4-1.5-1.6-1.7 .3z"/>
<path class="s39" d="M488.7 208l1.8-1.8-1.4 .9-1.8 1.9z"/>
<path class="s15" d="M562.5 231l1.8 .4-1.6-1.9-1.7-.5z"/>
<path class="s11" d="M567.3 235.2l1.8 .1-1.6-1.8-1.7-.2z"/>
<path class="s32" d="M546.6 214.3l1.8 1.2-1.5-1.7-1.8-1.3z"/>
<path class="s53" d="M510.8 194.6l1.9-.2-1.5 0-1.8 .4z"/>
<path class="s20" d="M557.7 226.3l1.8 .7-1.6-2-1.7-.7z"/>
<path class="s51" d="M524 196.5l1.9 .8-1.5-.7-1.8-.7z"/>
<path class="s0" d="M586.8 245.1l1.8-.8-1.6-1.4-1.7 .7z"/>
<path class="s46" d="M495.6 201.9l1.8-1.4-1.5 .8-1.8 1.5z"/>
<path class="s46" d="M532.2 201.2l1.8 1.2-1.5-1.1-1.8-1.2z"/>
<path class="s7" d="M572.1 239l1.8-.2-1.6-1.8-1.7 .1z"/>
<path class="s1" d="M583.5 244.3l1.8-.7-1.6-1.4-1.7 .6z"/>
<path class="s38" d="M541.8 209.4l1.8 1.4-1.5-1.6-1.8-1.4z"/>
<path class="s42" d="M537 205l1.8 1.4-1.5-1.4-1.8-1.3z"/>
<path class="s54" d="M514.1 194.3l1.9 .1-1.5-.1-1.8 .1z"/>
<path class="s2" d="M580.2 243.4l1.8-.6-1.6-1.5-1.7 .5z"/>
<path class="s38" d="M486.9 209.9l1.8-1.9-1.4 1-1.9 1.9z"/>
<path class="s53" d="M520.7 195.3l1.9 .6-1.5-.5-1.8-.5z"/>
<path class="s25" d="M552.9 221.3l1.8 1-1.5-2-1.8-1z"/>
<path class="s54" d="M517.4 194.6l1.9 .3-1.5-.3-1.8-.2z"/>
<path class="s52" d="M505.7 195.9l1.9-.6-1.5 .3-1.8 .8z"/>
<path class="s50" d="M500.6 198.4l1.9-1-1.5 .6-1.8 1.2z"/>
<path class="s4" d="M576.9 242.2l1.8-.4-1.6-1.7-1.7 .4z"/>
<path class="s13" d="M564 233l1.8 .3-1.5-1.9-1.8-.4z"/>
<path class="s9" d="M568.8 237.2l1.8-.1-1.5-1.8-1.8-.1z"/>
<path class="s45" d="M493.7 203.5l1.9-1.6-1.5 .9-1.8 1.6z"/>
<path class="s31" d="M548.1 216.2l1.8 1.2-1.5-1.9-1.8-1.2z"/>
<path class="s18" d="M559.2 228.4l1.8 .6-1.5-2-1.8-.7z"/>
<path class="s49" d="M528.8 199l1.9 1.1-1.5-1-1.8-1z"/>
<path class="s36" d="M485 212l1.9-2.1-1.5 1-1.8 2z"/>
<path class="s6" d="M573.6 240.8l1.8-.3-1.5-1.7-1.8 .2z"/>
<path class="s37" d="M543.3 211.1l1.8 1.4-1.5-1.7-1.8-1.4z"/>
<path class="s24" d="M554.4 223.4l1.8 .9-1.5-2-1.8-1z"/>
<path class="s1" d="M585 245.8l1.8-.7-1.5-1.5-1.8 .7z"/>
<path class="s54" d="M509 194.9l1.8-.3-1.4 .2-1.8 .5z"/>
<path class="s46" d="M533.7 202.3l1.8 1.4-1.5-1.3-1.8-1.2z"/>
<path class="s2" d="M581.7 244.9l1.8-.6-1.5-1.5-1.8 .6z"/>
<path class="s34" d="M483.2 214.1l1.8-2.1-1.4 .9-1.8 2.1z"/>
<path class="s42" d="M538.5 206.4l1.8 1.4-1.5-1.4-1.8-1.4z"/>
<path class="s49" d="M498.8 199.6l1.8-1.2-1.4 .8-1.8 1.3z"/>
<path class="s12" d="M565.5 235.1l1.8 .1-1.5-1.9-1.8-.3z"/>
<path class="s43" d="M491.9 205.2l1.8-1.7-1.4 .9-1.8 1.8z"/>
<path class="s52" d="M525.5 197.1l1.9 1-1.5-.8-1.9-.8z"/>
<path class="s8" d="M570.3 239.1l1.8-.1-1.5-1.9-1.8 .1z"/>
<path class="s17" d="M560.7 230.5l1.8 .5-1.5-2-1.8-.6z"/>
<path class="s3" d="M578.5 243.8l1.7-.4-1.5-1.6-1.8 .4z"/>
<path class="s52" d="M503.9 196.7l1.8-.8-1.4 .5-1.8 1z"/>
<path class="s30" d="M549.6 218.2l1.8 1.1-1.5-1.9-1.8-1.2z"/>
<path class="s55" d="M512.3 194.3l1.8 0-1.4 .1-1.9 .2z"/>
<path class="s32" d="M481.4 216.3l1.8-2.2-1.4 .9-1.8 2.2z"/>
<path class="s53" d="M522.2 195.7l1.8 .8-1.4-.6-1.9-.6z"/>
<path class="s22" d="M555.9 225.6l1.8 .7-1.5-2-1.8-.9z"/>
<path class="s5" d="M575.2 242.5l1.7-.3-1.5-1.7-1.8 .3z"/>
<path class="s55" d="M515.6 194.3l1.8 .3-1.4-.2-1.9-.1z"/>
<path class="s35" d="M544.8 213l1.8 1.3-1.5-1.8-1.8-1.4z"/>
<path class="s42" d="M490.1 207l1.8-1.8-1.4 1-1.8 1.8z"/>
<path class="s55" d="M518.9 194.7l1.8 .6-1.4-.4-1.9-.3z"/>
<path class="s49" d="M530.3 199.9l1.9 1.3-1.5-1.1-1.9-1.1z"/>
<path class="s11" d="M567 237.1l1.8 .1-1.5-2-1.8-.1z"/>
<path class="s48" d="M497 200.9l1.8-1.3-1.4 .9-1.8 1.4z"/>
<path class="s15" d="M562.2 232.7l1.8 .3-1.5-2-1.8-.5z"/>
<path class="s41" d="M540 208l1.8 1.4-1.5-1.6-1.8-1.4z"/>
<path class="s1" d="M583.3 246.4l1.7-.6-1.5-1.5-1.8 .6z"/>
<path class="s28" d="M551.1 220.3l1.8 1-1.5-2-1.8-1.1z"/>
<path class="s45" d="M535.2 203.6l1.8 1.4-1.5-1.3-1.8-1.4z"/>
<path class="s7" d="M571.9 240.9l1.7-.1-1.5-1.8-1.8 .1z"/>
<path class="s54" d="M507.2 195.4l1.8-.5-1.4 .4-1.9 .6z"/>
<path class="s2" d="M580 245.4l1.7-.5-1.5-1.5-1.7 .4z"/>
<path class="s40" d="M488.3 208.9l1.8-1.9-1.4 1-1.8 1.9z"/>
<path class="s52" d="M502.1 197.6l1.8-.9-1.4 .7-1.9 1z"/>
<path class="s21" d="M557.4 227.8l1.8 .6-1.5-2.1-1.8-.7z"/>
<path class="s52" d="M527 197.8l1.8 1.2-1.4-.9-1.9-1z"/>
<path class="s4" d="M576.7 244.2l1.8-.4-1.6-1.6-1.7 .3z"/>
<path class="s34" d="M546.3 214.9l1.8 1.3-1.5-1.9-1.8-1.3z"/>
<path class="s47" d="M495.2 202.4l1.8-1.5-1.4 1-1.9 1.6z"/>
<path class="s9" d="M568.6 239.1l1.7 0-1.5-1.9-1.8-.1z"/>
<path class="s14" d="M563.8 234.8l1.7 .3-1.5-2.1-1.8-.3z"/>
<path class="s39" d="M486.4 211l1.9-2.1-1.4 1-1.9 2.1z"/>
<path class="s26" d="M552.6 222.5l1.8 .9-1.5-2.1-1.8-1z"/>
<path class="s56" d="M510.5 194.5l1.8-.2-1.5 .3-1.8 .3z"/>
<path class="s40" d="M541.5 209.8l1.8 1.3-1.5-1.7-1.8-1.4z"/>
<path class="s5" d="M573.4 242.8l1.8-.3-1.6-1.7-1.7 .1z"/>
<path class="s19" d="M558.9 230l1.8 .5-1.5-2.1-1.8-.6z"/>
<path class="s54" d="M523.7 196.2l1.8 .9-1.5-.6-1.8-.8z"/>
<path class="s49" d="M531.8 201l1.9 1.3-1.5-1.1-1.9-1.3z"/>
<path class="s45" d="M536.7 205l1.8 1.4-1.5-1.4-1.8-1.4z"/>
<path class="s1" d="M581.5 247l1.8-.6-1.6-1.5-1.7 .5z"/>
<path class="s37" d="M484.6 213.1l1.8-2.1-1.4 1-1.8 2.1z"/>
<path class="s56" d="M513.8 194.1l1.8 .2-1.5 0-1.8 0z"/>
<path class="s52" d="M500.2 198.7l1.9-1.1-1.5 .8-1.8 1.2z"/>
<path class="s55" d="M505.4 196l1.8-.6-1.5 .5-1.8 .8z"/>
<path class="s33" d="M547.8 217l1.8 1.2-1.5-2-1.8-1.3z"/>
<path class="s55" d="M520.4 195l1.8 .7-1.5-.4-1.8-.6z"/>
<path class="s46" d="M493.3 204.1l1.9-1.7-1.5 1.1-1.8 1.7z"/>
<path class="s56" d="M517.1 194.3l1.8 .4-1.5-.1-1.8-.3z"/>
<path class="s12" d="M565.3 237l1.7 .1-1.5-2-1.7-.3z"/>
<path class="s25" d="M554.1 224.8l1.8 .8-1.5-2.2-1.8-.9z"/>
<path class="s3" d="M578.2 245.9l1.8-.5-1.5-1.6-1.8 .4z"/>
<path class="s8" d="M570.1 241.1l1.8-.2-1.6-1.8-1.7 0z"/>
<path class="s35" d="M482.8 215.4l1.8-2.3-1.4 1-1.8 2.2z"/>
<path class="s17" d="M560.5 232.3l1.7 .4-1.5-2.2-1.8-.5z"/>
<path class="s39" d="M543 211.6l1.8 1.4-1.5-1.9-1.8-1.3z"/>
<path class="s52" d="M528.5 198.7l1.8 1.2-1.5-.9-1.8-1.2z"/>
<path class="s4" d="M574.9 244.6l1.8-.4-1.5-1.7-1.8 .3z"/>
<path class="s45" d="M491.5 205.9l1.8-1.8-1.4 1.1-1.8 1.8z"/>
<path class="s31" d="M549.3 219.2l1.8 1.1-1.5-2.1-1.8-1.2z"/>
<path class="s51" d="M498.4 200l1.8-1.3-1.4 .9-1.8 1.3z"/>
<path class="s56" d="M508.6 194.8l1.9-.3-1.5 .4-1.8 .5z"/>
<path class="s23" d="M555.7 227.1l1.7 .7-1.5-2.2-1.8-.8z"/>
<path class="s44" d="M538.2 206.6l1.8 1.4-1.5-1.6-1.8-1.4z"/>
<path class="s49" d="M533.3 202.2l1.9 1.4-1.5-1.3-1.9-1.3z"/>
<path class="s10" d="M566.8 239.1l1.8 0-1.6-2-1.7-.1z"/>
<path class="s6" d="M571.6 243l1.8-.2-1.5-1.9-1.8 .2z"/>
<path class="s15" d="M562 234.5l1.8 .3-1.6-2.1-1.7-.4z"/>
<path class="s55" d="M503.5 196.8l1.9-.8-1.5 .7-1.8 .9z"/>
<path class="s2" d="M579.8 247.5l1.7-.5-1.5-1.6-1.8 .5z"/>
<path class="s54" d="M525.2 196.8l1.8 1-1.5-.7-1.8-.9z"/>
<path class="s43" d="M489.7 207.9l1.8-2-1.4 1.1-1.8 1.9z"/>
<path class="s37" d="M544.5 213.7l1.8 1.2-1.5-1.9-1.8-1.4z"/>
<path class="s57" d="M511.9 194.2l1.9-.1-1.5 .2-1.8 .2z"/>
<path class="s29" d="M550.8 221.5l1.8 1-1.5-2.2-1.8-1.1z"/>
<path class="s3" d="M576.5 246.3l1.7-.4-1.5-1.7-1.8 .4z"/>
<path class="s21" d="M557.2 229.4l1.7 .6-1.5-2.2-1.7-.7z"/>
<path class="s50" d="M496.6 201.4l1.8-1.4-1.4 .9-1.8 1.5z"/>
<path class="s56" d="M521.9 195.4l1.8 .8-1.5-.5-1.8-.7z"/>
<path class="s9" d="M568.3 241.1l1.8 0-1.5-2-1.8 0z"/>
<path class="s58" d="M515.3 194l1.8 .3-1.5 0-1.8-.2z"/>
<path class="s42" d="M487.9 210l1.8-2.1-1.4 1-1.9 2.1z"/>
<path class="s13" d="M563.5 236.8l1.8 .2-1.5-2.2-1.8-.3z"/>
<path class="s57" d="M518.6 194.4l1.8 .6-1.5-.3-1.8-.4z"/>
<path class="s43" d="M539.7 208.4l1.8 1.4-1.5-1.8-1.8-1.4z"/>
<path class="s52" d="M530 199.7l1.8 1.3-1.5-1.1-1.8-1.2z"/>
<path class="s5" d="M573.2 244.9l1.7-.3-1.5-1.8-1.8 .2z"/>
<path class="s48" d="M534.8 203.6l1.9 1.4-1.5-1.4-1.9-1.4z"/>
<path class="s57" d="M506.8 195.3l1.8-.5-1.4 .6-1.8 .6z"/>
<path class="s27" d="M552.4 223.9l1.7 .9-1.5-2.3-1.8-1z"/>
<path class="s54" d="M501.7 197.8l1.8-1-1.4 .8-1.9 1.1z"/>
<path class="s36" d="M546 215.8l1.8 1.2-1.5-2.1-1.8-1.2z"/>
<path class="s19" d="M558.7 231.8l1.8 .5-1.6-2.3-1.7-.6z"/>
<path class="s40" d="M486 212.2l1.9-2.2-1.5 1-1.8 2.1z"/>
<path class="s49" d="M494.8 203l1.8-1.6-1.4 1-1.9 1.7z"/>
<path class="s2" d="M578 248l1.8-.5-1.6-1.6-1.7 .4z"/>
<path class="s12" d="M565 239l1.8 .1-1.5-2.1-1.8-.2z"/>
<path class="s7" d="M569.9 243.2l1.7-.2-1.5-1.9-1.8 0z"/>
<path class="s38" d="M484.2 214.5l1.8-2.3-1.4 .9-1.8 2.3z"/>
<path class="s55" d="M526.7 197.6l1.8 1.1-1.5-.9-1.8-1z"/>
<path class="s42" d="M541.2 210.3l1.8 1.3-1.5-1.8-1.8-1.4z"/>
<path class="s25" d="M553.9 226.3l1.8 .8-1.6-2.3-1.7-.9z"/>
<path class="s17" d="M560.2 234.2l1.8 .3-1.5-2.2-1.8-.5z"/>
<path class="s58" d="M510.1 194.4l1.8-.2-1.4 .3-1.9 .3z"/>
<path class="s34" d="M547.5 218.1l1.8 1.1-1.5-2.2-1.8-1.2z"/>
<path class="s4" d="M574.7 246.7l1.8-.4-1.6-1.7-1.7 .3z"/>
<path class="s48" d="M492.9 204.9l1.9-1.9-1.5 1.1-1.8 1.8z"/>
<path class="s54" d="M499.9 199l1.8-1.2-1.5 .9-1.8 1.3z"/>
<path class="s52" d="M531.5 200.9l1.8 1.3-1.5-1.2-1.8-1.3z"/>
<path class="s47" d="M536.4 205.2l1.8 1.4-1.5-1.6-1.9-1.4z"/>
<path class="s57" d="M523.4 195.9l1.8 .9-1.5-.6-1.8-.8z"/>
<path class="s10" d="M566.6 241.2l1.7-.1-1.5-2-1.8-.1z"/>
<path class="s57" d="M505 196.1l1.8-.8-1.4 .7-1.9 .8z"/>
<path class="s59" d="M513.4 193.9l1.9 .1-1.5 .1-1.9 .1z"/>
<path class="s23" d="M555.4 228.8l1.8 .6-1.5-2.3-1.8-.8z"/>
<path class="s6" d="M571.4 245.1l1.8-.2-1.6-1.9-1.7 .2z"/>
<path class="s15" d="M561.7 236.6l1.8 .2-1.5-2.3-1.8-.3z"/>
<path class="s58" d="M520.1 194.7l1.8 .7-1.5-.4-1.8-.6z"/>
<path class="s32" d="M549 220.5l1.8 1-1.5-2.3-1.8-1.1z"/>
<path class="s59" d="M516.7 194l1.9 .4-1.5-.1-1.8-.3z"/>
<path class="s40" d="M542.7 212.4l1.8 1.3-1.5-2.1-1.8-1.3z"/>
<path class="s46" d="M491.1 206.8l1.8-1.9-1.4 1-1.8 2z"/>
<path class="s3" d="M576.2 248.5l1.8-.5-1.5-1.7-1.8 .4z"/>
<path class="s53" d="M498 200.4l1.9-1.4-1.5 1-1.8 1.4z"/>
<path class="s21" d="M556.9 231.3l1.8 .5-1.5-2.4-1.8-.6z"/>
<path class="s55" d="M528.2 198.5l1.8 1.2-1.5-1-1.8-1.1z"/>
<path class="s8" d="M568.1 243.3l1.8-.1-1.6-2.1-1.7 .1z"/>
<path class="s46" d="M537.9 207l1.8 1.4-1.5-1.8-1.8-1.4z"/>
<path class="s44" d="M489.3 209l1.8-2.2-1.4 1.1-1.8 2.1z"/>
<path class="s30" d="M550.6 223l1.8 .9-1.6-2.4-1.8-1z"/>
<path class="s13" d="M563.3 238.9l1.7 .1-1.5-2.2-1.8-.2z"/>
<path class="s59" d="M508.3 194.8l1.8-.4-1.5 .4-1.8 .5z"/>
<path class="s51" d="M533 202.3l1.8 1.3-1.5-1.4-1.8-1.3z"/>
<path class="s5" d="M572.9 247l1.8-.3-1.5-1.8-1.8 .2z"/>
<path class="s38" d="M544.2 214.7l1.8 1.1-1.5-2.1-1.8-1.3z"/>
<path class="s57" d="M503.1 197l1.9-.9-1.5 .7-1.8 1z"/>
<path class="s42" d="M487.5 211.2l1.8-2.2-1.4 1-1.9 2.2z"/>
<path class="s19" d="M558.4 233.8l1.8 .4-1.5-2.4-1.8-.5z"/>
<path class="s57" d="M524.9 196.6l1.8 1-1.5-.8-1.8-.9z"/>
<path class="s52" d="M496.2 202l1.8-1.6-1.4 1-1.8 1.6z"/>
<path class="s28" d="M552.1 225.6l1.8 .7-1.5-2.4-1.8-.9z"/>
<path class="s60" d="M511.6 194l1.8-.1-1.5 .3-1.8 .2z"/>
<path class="s11" d="M564.8 241.2l1.8 0-1.6-2.2-1.7-.1z"/>
<path class="s7" d="M569.6 245.4l1.8-.3-1.5-1.9-1.8 .1z"/>
<path class="s40" d="M485.6 213.6l1.9-2.4-1.5 1-1.8 2.3z"/>
<path class="s45" d="M539.4 209l1.8 1.3-1.5-1.9-1.8-1.4z"/>
<path class="s37" d="M545.7 217.1l1.8 1-1.5-2.3-1.8-1.1z"/>
<path class="s59" d="M521.5 195.1l1.9 .8-1.5-.5-1.8-.7z"/>
<path class="s17" d="M559.9 236.3l1.8 .3-1.5-2.4-1.8-.4z"/>
<path class="s3" d="M574.5 248.9l1.7-.4-1.5-1.8-1.8 .3z"/>
<path class="s61" d="M514.9 193.8l1.8 .2-1.4 0-1.9-.1z"/>
<path class="s55" d="M529.7 199.7l1.8 1.2-1.5-1.2-1.8-1.2z"/>
<path class="s25" d="M553.6 228.2l1.8 .6-1.5-2.5-1.8-.7z"/>
<path class="s60" d="M518.2 194.2l1.9 .5-1.5-.3-1.9-.4z"/>
<path class="s50" d="M534.5 203.9l1.9 1.3-1.6-1.6-1.8-1.3z"/>
<path class="s56" d="M501.3 198.1l1.8-1.1-1.4 .8-1.8 1.2z"/>
<path class="s51" d="M494.4 203.9l1.8-1.9-1.4 1-1.9 1.9z"/>
<path class="s59" d="M506.4 195.4l1.9-.6-1.5 .5-1.8 .8z"/>
<path class="s10" d="M566.3 243.4l1.8-.1-1.5-2.1-1.8 0z"/>
<path class="s34" d="M547.2 219.6l1.8 .9-1.5-2.4-1.8-1z"/>
<path class="s5" d="M571.1 247.3l1.8-.3-1.5-1.9-1.8 .3z"/>
<path class="s43" d="M540.9 211.2l1.8 1.2-1.5-2.1-1.8-1.3z"/>
<path class="s15" d="M561.5 238.8l1.8 .1-1.6-2.3-1.8-.3z"/>
<path class="s23" d="M555.1 230.9l1.8 .4-1.5-2.5-1.8-.6z"/>
<path class="s49" d="M492.5 205.9l1.9-2-1.5 1-1.8 1.9z"/>
<path class="s57" d="M526.4 197.5l1.8 1-1.5-.9-1.8-1z"/>
<path class="s32" d="M548.8 222.2l1.8 .8-1.6-2.5-1.8-.9z"/>
<path class="s61" d="M509.7 194.3l1.9-.3-1.5 .4-1.8 .4z"/>
<path class="s56" d="M499.5 199.5l1.8-1.4-1.4 .9-1.9 1.4z"/>
<path class="s49" d="M536.1 205.8l1.8 1.2-1.5-1.8-1.9-1.3z"/>
<path class="s8" d="M567.8 245.6l1.8-.2-1.5-2.1-1.8 .1z"/>
<path class="s21" d="M556.6 233.5l1.8 .3-1.5-2.5-1.8-.4z"/>
<path class="s13" d="M563 241.2l1.8 0-1.5-2.3-1.8-.1z"/>
<path class="s47" d="M490.7 208l1.8-2.1-1.4 .9-1.8 2.2z"/>
<path class="s54" d="M531.2 201.1l1.8 1.2-1.5-1.4-1.8-1.2z"/>
<path class="s41" d="M542.4 213.5l1.8 1.2-1.5-2.3-1.8-1.2z"/>
<path class="s4" d="M572.7 249.3l1.8-.4-1.6-1.9-1.8 .3z"/>
<path class="s59" d="M504.6 196.3l1.8-.9-1.4 .7-1.9 .9z"/>
<path class="s60" d="M523 195.7l1.9 .9-1.5-.7-1.9-.8z"/>
<path class="s30" d="M550.3 224.9l1.8 .7-1.5-2.6-1.8-.8z"/>
<path class="s62" d="M513.1 193.8l1.8 0-1.5 .1-1.8 .1z"/>
<path class="s45" d="M488.9 210.4l1.8-2.4-1.4 1-1.8 2.2z"/>
<path class="s18" d="M558.2 236.1l1.7 .2-1.5-2.5-1.8-.3z"/>
<path class="s61" d="M519.7 194.5l1.8 .6-1.4-.4-1.9-.5z"/>
<path class="s55" d="M497.6 201.1l1.9-1.6-1.5 .9-1.8 1.6z"/>
<path class="s62" d="M516.4 193.9l1.8 .3-1.5-.2-1.8-.2z"/>
<path class="s39" d="M543.9 216l1.8 1.1-1.5-2.4-1.8-1.2z"/>
<path class="s11" d="M564.5 243.5l1.8-.1-1.5-2.2-1.8 0z"/>
<path class="s6" d="M569.4 247.6l1.7-.3-1.5-1.9-1.8 .2z"/>
<path class="s48" d="M537.6 207.8l1.8 1.2-1.5-2-1.8-1.2z"/>
<path class="s27" d="M551.8 227.6l1.8 .6-1.5-2.6-1.8-.7z"/>
<path class="s43" d="M487.1 212.9l1.8-2.5-1.4 .8-1.9 2.4z"/>
<path class="s57" d="M527.9 198.6l1.8 1.1-1.5-1.2-1.8-1z"/>
<path class="s16" d="M559.7 238.7l1.8 .1-1.6-2.5-1.7-.2z"/>
<path class="s53" d="M532.7 202.7l1.8 1.2-1.5-1.6-1.8-1.2z"/>
<path class="s61" d="M507.9 194.9l1.8-.6-1.4 .5-1.9 .6z"/>
<path class="s59" d="M502.8 197.4l1.8-1.1-1.5 .7-1.8 1.1z"/>
<path class="s25" d="M553.3 230.4l1.8 .5-1.5-2.7-1.8-.6z"/>
<path class="s37" d="M545.4 218.7l1.8 .9-1.5-2.5-1.8-1.1z"/>
<path class="s53" d="M495.8 203l1.8-1.9-1.4 .9-1.8 1.9z"/>
<path class="s9" d="M566.1 245.8l1.7-.2-1.5-2.2-1.8 .1z"/>
<path class="s46" d="M539.1 210l1.8 1.2-1.5-2.2-1.8-1.2z"/>
<path class="s5" d="M570.9 249.6l1.8-.3-1.6-2-1.7 .3z"/>
<path class="s14" d="M561.2 241.2l1.8 0-1.5-2.4-1.8-.1z"/>
<path class="s60" d="M524.5 196.6l1.9 .9-1.5-.9-1.9-.9z"/>
<path class="s22" d="M554.8 233.2l1.8 .3-1.5-2.6-1.8-.5z"/>
<path class="s35" d="M547 221.4l1.8 .8-1.6-2.6-1.8-.9z"/>
<path class="s63" d="M511.2 194l1.9-.2-1.5 .2-1.9 .3z"/>
<path class="s52" d="M494 205l1.8-2-1.4 .9-1.9 2z"/>
<path class="s52" d="M534.2 204.6l1.9 1.2-1.6-1.9-1.8-1.2z"/>
<path class="s58" d="M500.9 198.7l1.9-1.3-1.5 .7-1.8 1.4z"/>
<path class="s7" d="M567.6 247.9l1.8-.3-1.6-2-1.7 .2z"/>
<path class="s62" d="M521.2 195.1l1.8 .6-1.5-.6-1.8-.6z"/>
<path class="s57" d="M529.4 200l1.8 1.1-1.5-1.4-1.8-1.1z"/>
<path class="s20" d="M556.4 235.9l1.8 .2-1.6-2.6-1.8-.3z"/>
<path class="s44" d="M540.6 212.5l1.8 1-1.5-2.3-1.8-1.2z"/>
<path class="s32" d="M548.5 224.2l1.8 .7-1.5-2.7-1.8-.8z"/>
<path class="s63" d="M514.5 193.8l1.9 .1-1.5-.1-1.8 0z"/>
<path class="s12" d="M562.7 243.6l1.8-.1-1.5-2.3-1.8 0z"/>
<path class="s62" d="M506.1 195.7l1.8-.8-1.5 .5-1.8 .9z"/>
<path class="s50" d="M492.1 207.2l1.9-2.2-1.5 .9-1.8 2.1z"/>
<path class="s63" d="M517.9 194.1l1.8 .4-1.5-.3-1.8-.3z"/>
<path class="s30" d="M550 227.1l1.8 .5-1.5-2.7-1.8-.7z"/>
<path class="s18" d="M557.9 238.6l1.8 .1-1.5-2.6-1.8-.2z"/>
<path class="s48" d="M490.3 209.6l1.8-2.4-1.4 .8-1.8 2.4z"/>
<path class="s42" d="M542.1 215.1l1.8 .9-1.5-2.5-1.8-1z"/>
<path class="s57" d="M499.1 200.3l1.8-1.6-1.4 .8-1.9 1.6z"/>
<path class="s10" d="M564.3 246l1.8-.2-1.6-2.3-1.8 .1z"/>
<path class="s51" d="M535.7 206.7l1.9 1.1-1.5-2-1.9-1.2z"/>
<path class="s6" d="M569.1 250l1.8-.4-1.5-2-1.8 .3z"/>
<path class="s45" d="M488.5 212.2l1.8-2.6-1.4 .8-1.8 2.5z"/>
<path class="s60" d="M526 197.7l1.9 .9-1.5-1.1-1.9-.9z"/>
<path class="s27" d="M551.5 230l1.8 .4-1.5-2.8-1.8-.5z"/>
<path class="s63" d="M509.4 194.5l1.8-.5-1.5 .3-1.8 .6z"/>
<path class="s15" d="M559.4 241.2l1.8 0-1.5-2.5-1.8-.1z"/>
<path class="s56" d="M530.9 201.7l1.8 1-1.5-1.6-1.8-1.1z"/>
<path class="s40" d="M543.6 217.8l1.8 .9-1.5-2.7-1.8-.9z"/>
<path class="s61" d="M504.2 196.8l1.9-1.1-1.5 .6-1.8 1.1z"/>
<path class="s24" d="M553.1 232.9l1.7 .3-1.5-2.8-1.8-.4z"/>
<path class="s56" d="M497.2 202.2l1.9-1.9-1.5 .8-1.8 1.9z"/>
<path class="s8" d="M565.8 248.2l1.8-.3-1.5-2.1-1.8 .2z"/>
<path class="s62" d="M522.7 195.9l1.8 .7-1.5-.9-1.8-.6z"/>
<path class="s49" d="M537.3 209l1.8 1-1.5-2.2-1.9-1.1z"/>
<path class="s64" d="M512.7 194l1.8-.2-1.4 0-1.9 .2z"/>
<path class="s37" d="M545.2 220.7l1.8 .7-1.6-2.7-1.8-.9z"/>
<path class="s13" d="M561 243.8l1.7-.2-1.5-2.4-1.8 0z"/>
<path class="s22" d="M554.6 235.7l1.8 .2-1.6-2.7-1.7-.3z"/>
<path class="s64" d="M519.4 194.7l1.8 .4-1.5-.6-1.8-.4z"/>
<path class="s64" d="M516 194l1.9 .1-1.5-.2-1.9-.1z"/>
<path class="s54" d="M495.4 204.3l1.8-2.1-1.4 .8-1.8 2z"/>
<path class="s34" d="M546.7 223.6l1.8 .6-1.5-2.8-1.8-.7z"/>
<path class="s55" d="M532.4 203.6l1.8 1-1.5-1.9-1.8-1z"/>
<path class="s59" d="M527.5 199.1l1.9 .9-1.5-1.4-1.9-.9z"/>
<path class="s47" d="M538.8 211.5l1.8 1-1.5-2.5-1.8-1z"/>
<path class="s61" d="M502.4 198.1l1.8-1.3-1.4 .6-1.9 1.3z"/>
<path class="s19" d="M556.1 238.5l1.8 .1-1.5-2.7-1.8-.2z"/>
<path class="s6" d="M567.3 250.4l1.8-.4-1.5-2.1-1.8 .3z"/>
<path class="s64" d="M507.5 195.3l1.9-.8-1.5 .4-1.8 .8z"/>
<path class="s11" d="M562.5 246.2l1.8-.2-1.6-2.4-1.7 .2z"/>
<path class="s32" d="M548.2 226.6l1.8 .5-1.5-2.9-1.8-.6z"/>
<path class="s52" d="M493.6 206.6l1.8-2.3-1.4 .7-1.9 2.2z"/>
<path class="s16" d="M557.6 241.3l1.8-.1-1.5-2.6-1.8-.1z"/>
<path class="s45" d="M540.3 214.2l1.8 .9-1.5-2.6-1.8-1z"/>
<path class="s29" d="M549.7 229.6l1.8 .4-1.5-2.9-1.8-.5z"/>
<path class="s50" d="M491.8 209l1.8-2.4-1.5 .6-1.8 2.4z"/>
<path class="s62" d="M524.2 197l1.8 .7-1.5-1.1-1.8-.7z"/>
<path class="s53" d="M533.9 205.7l1.8 1-1.5-2.1-1.8-1z"/>
<path class="s9" d="M564 248.6l1.8-.4-1.5-2.2-1.8 .2z"/>
<path class="s60" d="M500.5 199.8l1.9-1.7-1.5 .6-1.8 1.6z"/>
<path class="s65" d="M510.8 194.4l1.9-.4-1.5 0-1.8 .5z"/>
<path class="s48" d="M489.9 211.7l1.9-2.7-1.5 .6-1.8 2.6z"/>
<path class="s26" d="M551.3 232.7l1.8 .2-1.6-2.9-1.8-.4z"/>
<path class="s42" d="M541.8 217.1l1.8 .7-1.5-2.7-1.8-.9z"/>
<path class="s59" d="M529.1 200.8l1.8 .9-1.5-1.7-1.9-.9z"/>
<path class="s14" d="M559.2 243.9l1.8-.1-1.6-2.6-1.8 .1z"/>
<path class="s63" d="M505.7 196.4l1.8-1.1-1.4 .4-1.9 1.1z"/>
<path class="s64" d="M520.9 195.5l1.8 .4-1.5-.8-1.8-.4z"/>
<path class="s66" d="M514.2 194.2l1.8-.2-1.5-.2-1.8 .2z"/>
<path class="s23" d="M552.8 235.6l1.8 .1-1.5-2.8-1.8-.2z"/>
<path class="s65" d="M517.5 194.5l1.9 .2-1.5-.6-1.9-.1z"/>
<path class="s39" d="M543.4 220.1l1.8 .6-1.6-2.9-1.8-.7z"/>
<path class="s52" d="M535.4 208.1l1.9 .9-1.6-2.3-1.8-1z"/>
<path class="s58" d="M498.7 201.6l1.8-1.8-1.4 .5-1.9 1.9z"/>
<path class="s7" d="M565.5 250.8l1.8-.4-1.5-2.2-1.8 .4z"/>
<path class="s12" d="M560.7 246.5l1.8-.3-1.5-2.4-1.8 .1z"/>
<path class="s20" d="M554.3 238.6l1.8-.1-1.5-2.8-1.8-.1z"/>
<path class="s36" d="M544.9 223.1l1.8 .5-1.5-2.9-1.8-.6z"/>
<path class="s62" d="M525.7 198.4l1.8 .7-1.5-1.4-1.8-.7z"/>
<path class="s57" d="M530.6 202.7l1.8 .9-1.5-1.9-1.8-.9z"/>
<path class="s57" d="M496.9 203.7l1.8-2.1-1.5 .6-1.8 2.1z"/>
<path class="s49" d="M537 210.7l1.8 .8-1.5-2.5-1.9-.9z"/>
<path class="s33" d="M546.4 226.2l1.8 .4-1.5-3-1.8-.5z"/>
<path class="s65" d="M509 195.2l1.8-.8-1.4 .1-1.9 .8z"/>
<path class="s18" d="M555.8 241.4l1.8-.1-1.5-2.8-1.8 .1z"/>
<path class="s63" d="M503.8 197.7l1.9-1.3-1.5 .4-1.8 1.3z"/>
<path class="s10" d="M562.2 248.9l1.8-.3-1.5-2.4-1.8 .3z"/>
<path class="s30" d="M547.9 229.4l1.8 .2-1.5-3-1.8-.4z"/>
<path class="s55" d="M495 206.1l1.9-2.4-1.5 .6-1.8 2.3z"/>
<path class="s47" d="M538.5 213.5l1.8 .7-1.5-2.7-1.8-.8z"/>
<path class="s64" d="M522.4 196.6l1.8 .4-1.5-1.1-1.8-.4z"/>
<path class="s15" d="M557.4 244.1l1.8-.2-1.6-2.6-1.8 .1z"/>
<path class="s27" d="M549.4 232.5l1.9 .2-1.6-3.1-1.8-.2z"/>
<path class="s66" d="M512.3 194.6l1.9-.4-1.5-.2-1.9 .4z"/>
<path class="s56" d="M532.1 205l1.8 .7-1.5-2.1-1.8-.9z"/>
<path class="s52" d="M493.2 208.6l1.8-2.5-1.4 .5-1.8 2.4z"/>
<path class="s8" d="M563.8 251.2l1.7-.4-1.5-2.2-1.8 .3z"/>
<path class="s66" d="M519 195.3l1.9 .2-1.5-.8-1.9-.2z"/>
<path class="s62" d="M502 199.4l1.8-1.7-1.4 .4-1.9 1.7z"/>
<path class="s24" d="M551 235.6l1.8 0-1.5-2.9-1.9-.2z"/>
<path class="s66" d="M515.7 194.6l1.8-.1-1.5-.5-1.8 .2z"/>
<path class="s44" d="M540 216.5l1.8 .6-1.5-2.9-1.8-.7z"/>
<path class="s61" d="M527.2 200.1l1.9 .7-1.6-1.7-1.8-.7z"/>
<path class="s50" d="M491.4 211.3l1.8-2.7-1.4 .4-1.9 2.7z"/>
<path class="s13" d="M558.9 246.8l1.8-.3-1.5-2.6-1.8 .2z"/>
<path class="s65" d="M507.2 196.3l1.8-1.1-1.5 .1-1.8 1.1z"/>
<path class="s21" d="M552.5 238.6l1.8 0-1.5-3-1.8 0z"/>
<path class="s41" d="M541.5 219.6l1.9 .5-1.6-3-1.8-.6z"/>
<path class="s54" d="M533.6 207.4l1.8 .7-1.5-2.4-1.8-.7z"/>
<path class="s60" d="M500.2 201.3l1.8-1.9-1.5 .4-1.8 1.8z"/>
<path class="s38" d="M543.1 222.8l1.8 .3-1.5-3-1.9-.5z"/>
<path class="s19" d="M554 241.6l1.8-.2-1.5-2.8-1.8 0z"/>
<path class="s10" d="M560.4 249.3l1.8-.4-1.5-2.4-1.8 .3z"/>
<path class="s64" d="M523.9 198l1.8 .4-1.5-1.4-1.8-.4z"/>
<path class="s35" d="M544.6 226l1.8 .2-1.5-3.1-1.8-.3z"/>
<path class="s60" d="M528.7 202.1l1.9 .6-1.5-1.9-1.9-.7z"/>
<path class="s67" d="M510.5 195.4l1.8-.8-1.5-.2-1.8 .8z"/>
<path class="s52" d="M535.1 210.1l1.9 .6-1.6-2.6-1.8-.7z"/>
<path class="s16" d="M555.6 244.4l1.8-.3-1.6-2.7-1.8 .2z"/>
<path class="s32" d="M546.1 229.2l1.8 .2-1.5-3.2-1.8-.2z"/>
<path class="s64" d="M505.3 197.6l1.9-1.3-1.5 .1-1.9 1.3z"/>
<path class="s59" d="M498.3 203.5l1.9-2.2-1.5 .3-1.8 2.1z"/>
<path class="s66" d="M520.5 196.4l1.9 .2-1.5-1.1-1.9-.2z"/>
<path class="s8" d="M562 251.7l1.8-.5-1.6-2.3-1.8 .4z"/>
<path class="s29" d="M547.6 232.5l1.8 0-1.5-3.1-1.8-.2z"/>
<path class="s67" d="M513.8 195.1l1.9-.5-1.5-.4-1.9 .4z"/>
<path class="s49" d="M536.7 213l1.8 .5-1.5-2.8-1.9-.6z"/>
<path class="s67" d="M517.2 195.4l1.8-.1-1.5-.8-1.8 .1z"/>
<path class="s13" d="M557.1 247.1l1.8-.3-1.5-2.7-1.8 .3z"/>
<path class="s57" d="M496.5 205.8l1.8-2.3-1.4 .2-1.9 2.4z"/>
<path class="s26" d="M549.2 235.7l1.8-.1-1.6-3.1-1.8 0z"/>
<path class="s58" d="M530.3 204.4l1.8 .6-1.5-2.3-1.9-.6z"/>
<path class="s23" d="M550.7 238.8l1.8-.2-1.5-3-1.8 .1z"/>
<path class="s46" d="M538.2 216.1l1.8 .4-1.5-3-1.8-.5z"/>
<path class="s54" d="M494.7 208.5l1.8-2.7-1.5 .3-1.8 2.5z"/>
<path class="s63" d="M525.4 199.7l1.8 .4-1.5-1.7-1.8-.4z"/>
<path class="s63" d="M503.5 199.3l1.8-1.7-1.5 .1-1.8 1.7z"/>
<path class="s66" d="M508.6 196.4l1.9-1-1.5-.2-1.8 1.1z"/>
<path class="s52" d="M492.8 211.2l1.9-2.7-1.5 .1-1.8 2.7z"/>
<path class="s11" d="M558.6 249.7l1.8-.4-1.5-2.5-1.8 .3z"/>
<path class="s43" d="M539.7 219.3l1.8 .3-1.5-3.1-1.8-.4z"/>
<path class="s20" d="M552.2 241.8l1.8-.2-1.5-3-1.8 .2z"/>
<path class="s56" d="M531.8 206.9l1.8 .5-1.5-2.4-1.8-.6z"/>
<path class="s40" d="M541.2 222.6l1.9 .2-1.6-3.2-1.8-.3z"/>
<path class="s65" d="M522 197.8l1.9 .2-1.5-1.4-1.9-.2z"/>
<path class="s17" d="M553.7 244.8l1.9-.4-1.6-2.8-1.8 .2z"/>
<path class="s37" d="M542.8 225.9l1.8 .1-1.5-3.2-1.9-.2z"/>
<path class="s62" d="M501.6 201.2l1.9-1.9-1.5 .1-1.8 1.9z"/>
<path class="s67" d="M512 195.8l1.8-.7-1.5-.5-1.8 .8z"/>
<path class="s9" d="M560.2 252.2l1.8-.5-1.6-2.4-1.8 .4z"/>
<path class="s33" d="M544.3 229.2l1.8 0-1.5-3.2-1.8-.1z"/>
<path class="s62" d="M526.9 201.8l1.8 .3-1.5-2-1.8-.4z"/>
<path class="s67" d="M518.7 196.5l1.8-.1-1.5-1.1-1.8 .1z"/>
<path class="s54" d="M533.3 209.7l1.8 .4-1.5-2.7-1.8-.5z"/>
<path class="s30" d="M545.8 232.6l1.8-.1-1.5-3.3-1.8 0z"/>
<path class="s68" d="M515.3 195.9l1.9-.5-1.5-.8-1.9 .5z"/>
<path class="s14" d="M555.3 247.6l1.8-.5-1.5-2.7-1.9 .4z"/>
<path class="s66" d="M506.8 197.8l1.8-1.4-1.4-.1-1.9 1.3z"/>
<path class="s60" d="M499.8 203.4l1.8-2.2-1.4 .1-1.9 2.2z"/>
<path class="s27" d="M547.3 235.9l1.9-.2-1.6-3.2-1.8 .1z"/>
<path class="s51" d="M534.8 212.7l1.9 .3-1.6-2.9-1.8-.4z"/>
<path class="s24" d="M548.9 239.1l1.8-.3-1.5-3.1-1.9 .2z"/>
<path class="s12" d="M556.8 250.2l1.8-.5-1.5-2.6-1.8 .5z"/>
<path class="s58" d="M498 205.9l1.8-2.5-1.5 .1-1.8 2.3z"/>
<path class="s60" d="M528.4 204.1l1.9 .3-1.6-2.3-1.8-.3z"/>
<path class="s64" d="M523.5 199.6l1.9 .1-1.5-1.7-1.9-.2z"/>
<path class="s20" d="M550.4 242.2l1.8-.4-1.5-3-1.8 .3z"/>
<path class="s48" d="M536.4 215.9l1.8 .2-1.5-3.1-1.9-.3z"/>
<path class="s67" d="M510.1 196.9l1.9-1.1-1.5-.4-1.9 1z"/>
<path class="s56" d="M496.1 208.5l1.9-2.6-1.5-.1-1.8 2.7z"/>
<path class="s65" d="M504.9 199.5l1.9-1.7-1.5-.2-1.8 1.7z"/>
<path class="s45" d="M537.9 219.1l1.8 .2-1.5-3.2-1.8-.2z"/>
<path class="s53" d="M494.3 211.4l1.8-2.9-1.4 0-1.9 2.7z"/>
<path class="s18" d="M551.9 245.2l1.8-.4-1.5-3-1.8 .4z"/>
<path class="s9" d="M558.3 252.7l1.9-.5-1.6-2.5-1.8 .5z"/>
<path class="s41" d="M539.4 222.5l1.8 .1-1.5-3.3-1.8-.2z"/>
<path class="s66" d="M520.2 198l1.8-.2-1.5-1.4-1.8 .1z"/>
<path class="s58" d="M529.9 206.7l1.9 .2-1.5-2.5-1.9-.3z"/>
<path class="s38" d="M540.9 225.9l1.9 0-1.6-3.3-1.8-.1z"/>
<path class="s68" d="M513.5 196.6l1.8-.7-1.5-.8-1.8 .7z"/>
<path class="s68" d="M516.8 197l1.9-.5-1.5-1.1-1.9 .5z"/>
<path class="s35" d="M542.5 229.4l1.8-.2-1.5-3.3-1.9 0z"/>
<path class="s15" d="M553.5 248.1l1.8-.5-1.6-2.8-1.8 .4z"/>
<path class="s63" d="M503.1 201.4l1.8-1.9-1.4-.2-1.9 1.9z"/>
<path class="s31" d="M544 232.8l1.8-.2-1.5-3.4-1.8 .2z"/>
<path class="s63" d="M525.1 201.7l1.8 .1-1.5-2.1-1.9-.1z"/>
<path class="s28" d="M545.5 236.2l1.8-.3-1.5-3.3-1.8 .2z"/>
<path class="s55" d="M531.5 209.6l1.8 .1-1.5-2.8-1.9-.2z"/>
<path class="s67" d="M508.3 198.3l1.8-1.4-1.5-.5-1.8 1.4z"/>
<path class="s24" d="M547.1 239.5l1.8-.4-1.6-3.2-1.8 .3z"/>
<path class="s12" d="M555 250.8l1.8-.6-1.5-2.6-1.8 .5z"/>
<path class="s62" d="M501.3 203.7l1.8-2.3-1.5-.2-1.8 2.2z"/>
<path class="s52" d="M533 212.6l1.8 .1-1.5-3-1.8-.1z"/>
<path class="s21" d="M548.6 242.7l1.8-.5-1.5-3.1-1.8 .4z"/>
<path class="s65" d="M521.7 199.8l1.8-.2-1.5-1.8-1.8 .2z"/>
<path class="s61" d="M526.6 204.1l1.8 0-1.5-2.3-1.8-.1z"/>
<path class="s49" d="M534.5 215.8l1.9 .1-1.6-3.2-1.8-.1z"/>
<path class="s59" d="M499.4 206.2l1.9-2.5-1.5-.3-1.8 2.5z"/>
<path class="s68" d="M511.6 197.7l1.9-1.1-1.5-.8-1.9 1.1z"/>
<path class="s18" d="M550.1 245.7l1.8-.5-1.5-3-1.8 .5z"/>
<path class="s10" d="M556.5 253.3l1.8-.6-1.5-2.5-1.8 .6z"/>
<path class="s46" d="M536.1 219.2l1.8-.1-1.5-3.2-1.9-.1z"/>
<path class="s66" d="M506.4 200l1.9-1.7-1.5-.5-1.9 1.7z"/>
<path class="s67" d="M518.3 198.4l1.9-.4-1.5-1.5-1.9 .5z"/>
<path class="s57" d="M497.6 208.9l1.8-2.7-1.4-.3-1.9 2.6z"/>
<path class="s68" d="M515 197.7l1.8-.7-1.5-1.1-1.8 .7z"/>
<path class="s43" d="M537.6 222.7l1.8-.2-1.5-3.4-1.8 .1z"/>
<path class="s15" d="M551.7 248.6l1.8-.5-1.6-2.9-1.8 .5z"/>
<path class="s54" d="M495.8 211.8l1.8-2.9-1.5-.4-1.8 2.9z"/>
<path class="s39" d="M539.1 226.2l1.8-.3-1.5-3.4-1.8 .2z"/>
<path class="s59" d="M528.1 206.7l1.8 0-1.5-2.6-1.8 0z"/>
<path class="s35" d="M540.6 229.7l1.9-.3-1.6-3.5-1.8 .3z"/>
<path class="s32" d="M542.2 233.2l1.8-.4-1.5-3.4-1.9 .3z"/>
<path class="s28" d="M543.7 236.6l1.8-.4-1.5-3.4-1.8 .4z"/>
<path class="s64" d="M523.2 201.9l1.9-.2-1.6-2.1-1.8 .2z"/>
<path class="s13" d="M553.2 251.4l1.8-.6-1.5-2.7-1.8 .5z"/>
<path class="s64" d="M504.6 202l1.8-2-1.5-.5-1.8 1.9z"/>
<path class="s25" d="M545.2 240l1.9-.5-1.6-3.3-1.8 .4z"/>
<path class="s67" d="M509.8 199.1l1.8-1.4-1.5-.8-1.8 1.4z"/>
<path class="s56" d="M529.6 209.6l1.9 0-1.6-2.9-1.8 0z"/>
<path class="s22" d="M546.8 243.2l1.8-.5-1.5-3.2-1.9 .5z"/>
<path class="s66" d="M519.8 200.3l1.9-.5-1.5-1.8-1.9 .4z"/>
<path class="s54" d="M531.2 212.8l1.8-.2-1.5-3-1.9 0z"/>
<path class="s62" d="M502.8 204.3l1.8-2.3-1.5-.6-1.8 2.3z"/>
<path class="s10" d="M554.7 254l1.8-.7-1.5-2.5-1.8 .6z"/>
<path class="s19" d="M548.3 246.3l1.8-.6-1.5-3-1.8 .5z"/>
<path class="s68" d="M513.1 198.8l1.9-1.1-1.5-1.1-1.9 1.1z"/>
<path class="s62" d="M524.7 204.3l1.9-.2-1.5-2.4-1.9 .2z"/>
<path class="s67" d="M516.5 199.2l1.8-.8-1.5-1.4-1.8 .7z"/>
<path class="s50" d="M532.7 216.1l1.8-.3-1.5-3.2-1.8 .2z"/>
<path class="s60" d="M500.9 206.8l1.9-2.5-1.5-.6-1.9 2.5z"/>
<path class="s16" d="M549.8 249.3l1.9-.7-1.6-2.9-1.8 .6z"/>
<path class="s47" d="M534.2 219.5l1.9-.3-1.6-3.4-1.8 .3z"/>
<path class="s66" d="M507.9 200.8l1.9-1.7-1.5-.8-1.9 1.7z"/>
<path class="s43" d="M535.8 223l1.8-.3-1.5-3.5-1.9 .3z"/>
<path class="s40" d="M537.3 226.6l1.8-.4-1.5-3.5-1.8 .3z"/>
<path class="s57" d="M499.1 209.6l1.8-2.8-1.5-.6-1.8 2.7z"/>
<path class="s36" d="M538.8 230.2l1.8-.5-1.5-3.5-1.8 .4z"/>
<path class="s32" d="M540.4 233.8l1.8-.6-1.6-3.5-1.8 .5z"/>
<path class="s55" d="M497.3 212.5l1.8-2.9-1.5-.7-1.8 2.9z"/>
<path class="s60" d="M526.3 207l1.8-.3-1.5-2.6-1.9 .2z"/>
<path class="s29" d="M541.9 237.3l1.8-.7-1.5-3.4-1.8 .6z"/>
<path class="s13" d="M551.4 252.1l1.8-.7-1.5-2.8-1.9 .7z"/>
<path class="s65" d="M521.4 202.4l1.8-.5-1.5-2.1-1.9 .5z"/>
<path class="s25" d="M543.4 240.6l1.8-.6-1.5-3.4-1.8 .7z"/>
<path class="s67" d="M511.3 200.3l1.8-1.5-1.5-1.1-1.8 1.4z"/>
<path class="s65" d="M506.1 202.9l1.8-2.1-1.5-.8-1.8 2z"/>
<path class="s22" d="M544.9 243.9l1.9-.7-1.6-3.2-1.8 .6z"/>
<path class="s57" d="M527.8 210l1.8-.4-1.5-2.9-1.8 .3z"/>
<path class="s66" d="M518 201.1l1.8-.8-1.5-1.9-1.8 .8z"/>
<path class="s10" d="M552.9 254.8l1.8-.8-1.5-2.6-1.8 .7z"/>
<path class="s67" d="M514.6 200.4l1.9-1.2-1.5-1.5-1.9 1.1z"/>
<path class="s19" d="M546.5 247.1l1.8-.8-1.5-3.1-1.9 .7z"/>
<path class="s54" d="M529.3 213.2l1.9-.4-1.6-3.2-1.8 .4z"/>
<path class="s63" d="M504.2 205.2l1.9-2.3-1.5-.9-1.8 2.3z"/>
<path class="s63" d="M522.9 204.9l1.8-.6-1.5-2.4-1.8 .5z"/>
<path class="s16" d="M548 250.1l1.8-.8-1.5-3-1.8 .8z"/>
<path class="s51" d="M530.9 216.6l1.8-.5-1.5-3.3-1.9 .4z"/>
<path class="s66" d="M509.4 202l1.9-1.7-1.5-1.2-1.9 1.7z"/>
<path class="s48" d="M532.4 220l1.8-.5-1.5-3.4-1.8 .5z"/>
<path class="s60" d="M502.4 207.7l1.8-2.5-1.4-.9-1.9 2.5z"/>
<path class="s44" d="M533.9 223.6l1.9-.6-1.6-3.5-1.8 .5z"/>
<path class="s40" d="M535.5 227.3l1.8-.7-1.5-3.6-1.9 .6z"/>
<path class="s37" d="M537 230.9l1.8-.7-1.5-3.6-1.8 .7z"/>
<path class="s33" d="M538.5 234.5l1.9-.7-1.6-3.6-1.8 .7z"/>
<path class="s13" d="M549.6 252.9l1.8-.8-1.6-2.8-1.8 .8z"/>
<path class="s29" d="M540.1 238l1.8-.7-1.5-3.5-1.9 .7z"/>
<path class="s58" d="M500.6 210.5l1.8-2.8-1.5-.9-1.8 2.8z"/>
<path class="s65" d="M519.5 203.3l1.9-.9-1.6-2.1-1.8 .8z"/>
<path class="s61" d="M524.4 207.6l1.9-.6-1.6-2.7-1.8 .6z"/>
<path class="s26" d="M541.6 241.4l1.8-.8-1.5-3.3-1.8 .7z"/>
<path class="s55" d="M498.7 213.5l1.9-3-1.5-.9-1.8 2.9z"/>
<path class="s67" d="M512.8 201.8l1.8-1.4-1.5-1.6-1.8 1.5z"/>
<path class="s22" d="M543.1 244.7l1.8-.8-1.5-3.3-1.8 .8z"/>
<path class="s66" d="M516.2 202.2l1.8-1.1-1.5-1.9-1.9 1.2z"/>
<path class="s64" d="M507.6 204.1l1.8-2.1-1.5-1.2-1.8 2.1z"/>
<path class="s58" d="M525.9 210.7l1.9-.7-1.5-3-1.9 .6z"/>
<path class="s11" d="M551.1 255.6l1.8-.8-1.5-2.7-1.8 .8z"/>
<path class="s19" d="M544.7 247.9l1.8-.8-1.6-3.2-1.8 .8z"/>
<path class="s63" d="M521 205.8l1.9-.9-1.5-2.5-1.9 .9z"/>
<path class="s55" d="M527.5 213.9l1.8-.7-1.5-3.2-1.9 .7z"/>
<path class="s16" d="M546.2 250.9l1.8-.8-1.5-3-1.8 .8z"/>
<path class="s63" d="M505.7 206.4l1.9-2.3-1.5-1.2-1.9 2.3z"/>
<path class="s51" d="M529 217.3l1.9-.7-1.6-3.4-1.8 .7z"/>
<path class="s65" d="M510.9 203.6l1.9-1.8-1.5-1.5-1.9 1.7z"/>
<path class="s48" d="M530.5 220.8l1.9-.8-1.5-3.4-1.9 .7z"/>
<path class="s44" d="M532.1 224.4l1.8-.8-1.5-3.6-1.9 .8z"/>
<path class="s40" d="M533.6 228.1l1.9-.8-1.6-3.7-1.8 .8z"/>
<path class="s65" d="M517.7 204.4l1.8-1.1-1.5-2.2-1.8 1.1z"/>
<path class="s37" d="M535.2 231.8l1.8-.9-1.5-3.6-1.9 .8z"/>
<path class="s33" d="M536.7 235.4l1.8-.9-1.5-3.6-1.8 .9z"/>
<path class="s60" d="M503.9 209l1.8-2.6-1.5-1.2-1.8 2.5z"/>
<path class="s13" d="M547.7 253.8l1.9-.9-1.6-2.8-1.8 .8z"/>
<path class="s29" d="M538.2 238.9l1.9-.9-1.6-3.5-1.8 .9z"/>
<path class="s65" d="M514.3 203.7l1.9-1.5-1.6-1.8-1.8 1.4z"/>
<path class="s61" d="M522.6 208.6l1.8-1-1.5-2.7-1.9 .9z"/>
<path class="s26" d="M539.8 242.4l1.8-1-1.5-3.4-1.9 .9z"/>
<path class="s57" d="M502.1 211.8l1.8-2.8-1.5-1.3-1.8 2.8z"/>
<path class="s22" d="M541.3 245.7l1.8-1-1.5-3.3-1.8 1z"/>
<path class="s55" d="M500.2 214.8l1.9-3-1.5-1.3-1.9 3z"/>
<path class="s64" d="M509.1 205.7l1.8-2.1-1.5-1.6-1.8 2.1z"/>
<path class="s19" d="M542.8 248.9l1.9-1-1.6-3.2-1.8 1z"/>
<path class="s11" d="M549.3 256.4l1.8-.8-1.5-2.7-1.9 .9z"/>
<path class="s58" d="M524.1 211.6l1.8-.9-1.5-3.1-1.8 1z"/>
<path class="s63" d="M519.2 207l1.8-1.2-1.5-2.5-1.8 1.1z"/>
<path class="s55" d="M525.6 214.9l1.9-1-1.6-3.2-1.8 .9z"/>
<path class="s16" d="M544.4 251.9l1.8-1-1.5-3-1.9 1z"/>
<path class="s64" d="M512.5 205.5l1.8-1.8-1.5-1.9-1.9 1.8z"/>
<path class="s62" d="M507.3 208l1.8-2.3-1.5-1.6-1.9 2.3z"/>
<path class="s64" d="M515.8 205.9l1.9-1.5-1.5-2.2-1.9 1.5z"/>
<path class="s51" d="M527.2 218.3l1.8-1-1.5-3.4-1.9 1z"/>
<path class="s48" d="M528.7 221.8l1.8-1-1.5-3.5-1.8 1z"/>
<path class="s44" d="M530.2 225.5l1.9-1.1-1.6-3.6-1.8 1z"/>
<path class="s36" d="M533.3 232.8l1.9-1-1.6-3.7-1.8 1.1z"/>
<path class="s40" d="M531.8 229.2l1.8-1.1-1.5-3.7-1.9 1.1z"/>
<path class="s33" d="M534.8 236.4l1.9-1-1.5-3.6-1.9 1z"/>
<path class="s29" d="M536.4 240l1.8-1.1-1.5-3.5-1.9 1z"/>
<path class="s60" d="M505.4 210.6l1.9-2.6-1.6-1.6-1.8 2.6z"/>
<path class="s60" d="M520.7 209.8l1.9-1.2-1.6-2.8-1.8 1.2z"/>
<path class="s13" d="M545.9 254.7l1.8-.9-1.5-2.9-1.8 1z"/>
<path class="s25" d="M537.9 243.4l1.9-1-1.6-3.5-1.8 1.1z"/>
<path class="s57" d="M503.6 213.4l1.8-2.8-1.5-1.6-1.8 2.8z"/>
<path class="s22" d="M539.5 246.7l1.8-1-1.5-3.3-1.9 1z"/>
<path class="s63" d="M510.6 207.6l1.9-2.1-1.6-1.9-1.8 2.1z"/>
<path class="s54" d="M501.7 216.4l1.9-3-1.5-1.6-1.9 3z"/>
<path class="s62" d="M517.4 208.5l1.8-1.5-1.5-2.6-1.9 1.5z"/>
<path class="s57" d="M522.3 212.8l1.8-1.2-1.5-3-1.9 1.2z"/>
<path class="s19" d="M541 249.9l1.8-1-1.5-3.2-1.8 1z"/>
<path class="s63" d="M514 207.7l1.8-1.8-1.5-2.2-1.8 1.8z"/>
<path class="s11" d="M547.4 257.4l1.9-1-1.6-2.6-1.8 .9z"/>
<path class="s54" d="M523.8 216.1l1.8-1.2-1.5-3.3-1.8 1.2z"/>
<path class="s61" d="M508.8 209.9l1.8-2.3-1.5-1.9-1.8 2.3z"/>
<path class="s16" d="M542.5 252.9l1.9-1-1.6-3-1.8 1z"/>
<path class="s51" d="M525.3 219.5l1.9-1.2-1.6-3.4-1.8 1.2z"/>
<path class="s47" d="M526.9 223.1l1.8-1.3-1.5-3.5-1.9 1.2z"/>
<path class="s60" d="M518.9 211.3l1.8-1.5-1.5-2.8-1.8 1.5z"/>
<path class="s44" d="M528.4 226.7l1.8-1.2-1.5-3.7-1.8 1.3z"/>
<path class="s36" d="M531.5 234.1l1.8-1.3-1.5-3.6-1.9 1.2z"/>
<path class="s40" d="M529.9 230.4l1.9-1.2-1.6-3.7-1.8 1.2z"/>
<path class="s32" d="M533 237.7l1.8-1.3-1.5-3.6-1.8 1.3z"/>
<path class="s28" d="M534.5 241.2l1.9-1.2-1.6-3.6-1.8 1.3z"/>
<path class="s58" d="M506.9 212.5l1.9-2.6-1.5-1.9-1.9 2.6z"/>
<path class="s61" d="M512.1 209.8l1.9-2.1-1.5-2.2-1.9 2.1z"/>
<path class="s25" d="M536.1 244.6l1.8-1.2-1.5-3.4-1.9 1.2z"/>
<path class="s13" d="M544.1 255.7l1.8-1-1.5-2.8-1.9 1z"/>
<path class="s61" d="M515.5 210.3l1.9-1.8-1.6-2.6-1.8 1.8z"/>
<path class="s56" d="M505.1 215.3l1.8-2.8-1.5-1.9-1.8 2.8z"/>
<path class="s21" d="M537.6 247.9l1.9-1.2-1.6-3.3-1.8 1.2z"/>
<path class="s57" d="M520.4 214.4l1.9-1.6-1.6-3-1.8 1.5z"/>
<path class="s53" d="M503.3 218.3l1.8-3-1.5-1.9-1.9 3z"/>
<path class="s18" d="M539.2 251.1l1.8-1.2-1.5-3.2-1.9 1.2z"/>
<path class="s59" d="M510.3 212.2l1.8-2.4-1.5-2.2-1.8 2.3z"/>
<path class="s54" d="M521.9 217.6l1.9-1.5-1.5-3.3-1.9 1.6z"/>
<path class="s10" d="M545.6 258.4l1.8-1-1.5-2.7-1.8 1z"/>
<path class="s58" d="M517 213.1l1.9-1.8-1.5-2.8-1.9 1.8z"/>
<path class="s50" d="M523.5 221.1l1.8-1.6-1.5-3.4-1.9 1.5z"/>
<path class="s59" d="M513.7 212.4l1.8-2.1-1.5-2.6-1.9 2.1z"/>
<path class="s15" d="M540.7 254l1.8-1.1-1.5-3-1.8 1.2z"/>
<path class="s47" d="M525 224.6l1.9-1.5-1.6-3.6-1.8 1.6z"/>
<path class="s57" d="M508.4 214.8l1.9-2.6-1.5-2.3-1.9 2.6z"/>
<path class="s43" d="M526.6 228.2l1.8-1.5-1.5-3.6-1.9 1.5z"/>
<path class="s39" d="M528.1 231.9l1.8-1.5-1.5-3.7-1.8 1.5z"/>
<path class="s35" d="M529.6 235.5l1.9-1.4-1.6-3.7-1.8 1.5z"/>
<path class="s31" d="M531.2 239.1l1.8-1.4-1.5-3.6-1.9 1.4z"/>
<path class="s28" d="M532.7 242.6l1.8-1.4-1.5-3.5-1.8 1.4z"/>
<path class="s56" d="M518.6 216.1l1.8-1.7-1.5-3.1-1.9 1.8z"/>
<path class="s54" d="M506.6 217.5l1.8-2.7-1.5-2.3-1.8 2.8z"/>
<path class="s24" d="M534.2 246l1.9-1.4-1.6-3.4-1.8 1.4z"/>
<path class="s51" d="M504.8 220.5l1.8-3-1.5-2.2-1.8 3z"/>
<path class="s57" d="M511.8 214.7l1.9-2.3-1.6-2.6-1.8 2.4z"/>
<path class="s13" d="M542.2 256.8l1.9-1.1-1.6-2.8-1.8 1.1z"/>
<path class="s21" d="M535.8 249.2l1.8-1.3-1.5-3.3-1.9 1.4z"/>
<path class="s57" d="M515.2 215.2l1.8-2.1-1.5-2.8-1.8 2.1z"/>
<path class="s52" d="M520.1 219.4l1.8-1.8-1.5-3.2-1.8 1.7z"/>
<path class="s49" d="M521.6 222.8l1.9-1.7-1.6-3.5-1.8 1.8z"/>
<path class="s18" d="M537.3 252.3l1.9-1.2-1.6-3.2-1.8 1.3z"/>
<path class="s55" d="M510 217.2l1.8-2.5-1.5-2.5-1.9 2.6z"/>
<path class="s45" d="M523.2 226.3l1.8-1.7-1.5-3.5-1.9 1.7z"/>
<path class="s42" d="M524.7 229.9l1.9-1.7-1.6-3.6-1.8 1.7z"/>
<path class="s54" d="M516.7 218.2l1.9-2.1-1.6-3-1.8 2.1z"/>
<path class="s38" d="M526.3 233.5l1.8-1.6-1.5-3.7-1.9 1.7z"/>
<path class="s34" d="M527.8 237.1l1.8-1.6-1.5-3.6-1.8 1.6z"/>
<path class="s10" d="M543.8 259.5l1.8-1.1-1.5-2.7-1.9 1.1z"/>
<path class="s55" d="M513.3 217.5l1.9-2.3-1.5-2.8-1.9 2.3z"/>
<path class="s31" d="M529.3 240.6l1.9-1.5-1.6-3.6-1.8 1.6z"/>
<path class="s52" d="M508.1 220l1.9-2.8-1.6-2.4-1.8 2.7z"/>
<path class="s27" d="M530.9 244.1l1.8-1.5-1.5-3.5-1.9 1.5z"/>
<path class="s15" d="M538.9 255.3l1.8-1.3-1.5-2.9-1.9 1.2z"/>
<path class="s49" d="M506.3 222.9l1.8-2.9-1.5-2.5-1.8 3z"/>
<path class="s51" d="M518.3 221.4l1.8-2-1.5-3.3-1.9 2.1z"/>
<path class="s23" d="M532.4 247.4l1.8-1.4-1.5-3.4-1.8 1.5z"/>
<path class="s52" d="M511.5 220l1.8-2.5-1.5-2.8-1.8 2.5z"/>
<path class="s48" d="M519.8 224.8l1.8-2-1.5-3.4-1.8 2z"/>
<path class="s52" d="M514.9 220.5l1.8-2.3-1.5-3-1.9 2.3z"/>
<path class="s20" d="M533.9 250.6l1.9-1.4-1.6-3.2-1.8 1.4z"/>
<path class="s44" d="M521.3 228.2l1.9-1.9-1.6-3.5-1.8 2z"/>
<path class="s12" d="M540.4 258l1.8-1.2-1.5-2.8-1.8 1.3z"/>
<path class="s50" d="M509.7 222.7l1.8-2.7-1.5-2.8-1.9 2.8z"/>
<path class="s40" d="M522.9 231.8l1.8-1.9-1.5-3.6-1.9 1.9z"/>
<path class="s37" d="M524.4 235.3l1.9-1.8-1.6-3.6-1.8 1.9z"/>
<path class="s33" d="M525.9 238.8l1.9-1.7-1.5-3.6-1.9 1.8z"/>
<path class="s17" d="M535.5 253.6l1.8-1.3-1.5-3.1-1.9 1.4z"/>
<path class="s49" d="M516.4 223.6l1.9-2.2-1.6-3.2-1.8 2.3z"/>
<path class="s47" d="M507.8 225.5l1.9-2.8-1.6-2.7-1.8 2.9z"/>
<path class="s50" d="M513 222.9l1.9-2.4-1.6-3-1.8 2.5z"/>
<path class="s29" d="M527.5 242.3l1.8-1.7-1.5-3.5-1.9 1.7z"/>
<path class="s26" d="M529 245.7l1.9-1.6-1.6-3.5-1.8 1.7z"/>
<path class="s46" d="M517.9 226.9l1.9-2.1-1.5-3.4-1.9 2.2z"/>
<path class="s10" d="M541.9 260.6l1.9-1.1-1.6-2.7-1.8 1.2z"/>
<path class="s47" d="M511.2 225.6l1.8-2.7-1.5-2.9-1.8 2.7z"/>
<path class="s22" d="M530.6 248.9l1.8-1.5-1.5-3.3-1.9 1.6z"/>
<path class="s14" d="M537 256.5l1.9-1.2-1.6-3-1.8 1.3z"/>
<path class="s42" d="M519.5 230.3l1.8-2.1-1.5-3.4-1.9 2.1z"/>
<path class="s47" d="M514.6 226l1.8-2.4-1.5-3.1-1.9 2.4z"/>
<path class="s39" d="M521 233.8l1.9-2-1.6-3.6-1.8 2.1z"/>
<path class="s45" d="M509.3 228.4l1.9-2.8-1.5-2.9-1.9 2.8z"/>
<path class="s35" d="M522.6 237.3l1.8-2-1.5-3.5-1.9 2z"/>
<path class="s19" d="M532.1 252.1l1.8-1.5-1.5-3.2-1.8 1.5z"/>
<path class="s44" d="M516.1 229.3l1.8-2.4-1.5-3.3-1.8 2.4z"/>
<path class="s32" d="M524.1 240.7l1.8-1.9-1.5-3.5-1.8 2z"/>
<path class="s44" d="M512.7 228.6l1.9-2.6-1.6-3.1-1.8 2.7z"/>
<path class="s28" d="M525.6 244.1l1.9-1.8-1.6-3.5-1.8 1.9z"/>
<path class="s12" d="M538.6 259.3l1.8-1.3-1.5-2.7-1.9 1.2z"/>
<path class="s40" d="M517.6 232.6l1.9-2.3-1.6-3.4-1.8 2.4z"/>
<path class="s16" d="M533.6 255.1l1.9-1.5-1.6-3-1.8 1.5z"/>
<path class="s42" d="M510.9 231.3l1.8-2.7-1.5-3-1.9 2.8z"/>
<path class="s25" d="M527.2 247.4l1.8-1.7-1.5-3.4-1.9 1.8z"/>
<path class="s37" d="M519.2 236l1.8-2.2-1.5-3.5-1.9 2.3z"/>
<path class="s41" d="M514.3 231.8l1.8-2.5-1.5-3.3-1.9 2.6z"/>
<path class="s33" d="M520.7 239.4l1.9-2.1-1.6-3.5-1.8 2.2z"/>
<path class="s21" d="M528.7 250.6l1.9-1.7-1.6-3.2-1.8 1.7z"/>
<path class="s38" d="M515.8 235l1.8-2.4-1.5-3.3-1.8 2.5z"/>
<path class="s39" d="M512.4 234.4l1.9-2.6-1.6-3.2-1.8 2.7z"/>
<path class="s30" d="M522.3 242.7l1.8-2-1.5-3.4-1.9 2.1z"/>
<path class="s13" d="M535.2 257.9l1.8-1.4-1.5-2.9-1.9 1.5z"/>
<path class="s9" d="M540.1 261.8l1.8-1.2-1.5-2.6-1.8 1.3z"/>
<path class="s35" d="M517.3 238.3l1.9-2.3-1.6-3.4-1.8 2.4z"/>
<path class="s18" d="M530.3 253.6l1.8-1.5-1.5-3.2-1.9 1.7z"/>
<path class="s27" d="M523.8 246l1.8-1.9-1.5-3.4-1.8 2z"/>
<path class="s36" d="M513.9 237.5l1.9-2.5-1.5-3.2-1.9 2.6z"/>
<path class="s31" d="M518.9 241.6l1.8-2.2-1.5-3.4-1.9 2.3z"/>
<path class="s23" d="M525.3 249.2l1.9-1.8-1.6-3.3-1.8 1.9z"/>
<path class="s15" d="M531.8 256.6l1.8-1.5-1.5-3-1.8 1.5z"/>
<path class="s11" d="M536.7 260.6l1.9-1.3-1.6-2.8-1.8 1.4z"/>
<path class="s33" d="M515.5 240.7l1.8-2.4-1.5-3.3-1.9 2.5z"/>
<path class="s28" d="M520.4 244.8l1.9-2.1-1.6-3.3-1.8 2.2z"/>
<path class="s20" d="M526.9 252.3l1.8-1.7-1.5-3.2-1.9 1.8z"/>
<path class="s25" d="M521.9 248l1.9-2-1.5-3.3-1.9 2.1z"/>
<path class="s29" d="M517 243.8l1.9-2.2-1.6-3.3-1.8 2.4z"/>
<path class="s13" d="M533.3 259.3l1.9-1.4-1.6-2.8-1.8 1.5z"/>
<path class="s17" d="M528.4 255.3l1.9-1.7-1.6-3-1.8 1.7z"/>
<path class="s22" d="M523.5 251.1l1.8-1.9-1.5-3.2-1.9 2z"/>
<path class="s26" d="M518.6 247l1.8-2.2-1.5-3.2-1.9 2.2z"/>
<path class="s9" d="M538.3 263.1l1.8-1.3-1.5-2.5-1.9 1.3z"/>
<path class="s23" d="M520.1 250l1.8-2-1.5-3.2-1.8 2.2z"/>
<path class="s19" d="M525 254.1l1.9-1.8-1.6-3.1-1.8 1.9z"/>
<path class="s14" d="M529.9 258.1l1.9-1.5-1.5-3-1.9 1.7z"/>
<path class="s10" d="M534.9 261.9l1.8-1.3-1.5-2.7-1.9 1.4z"/>
<path class="s20" d="M521.6 253l1.9-1.9-1.6-3.1-1.8 2z"/>
<path class="s16" d="M526.6 257l1.8-1.7-1.5-3-1.9 1.8z"/>
<path class="s12" d="M531.5 260.8l1.8-1.5-1.5-2.7-1.9 1.5z"/>
<path class="s17" d="M523.2 255.9l1.8-1.8-1.5-3-1.9 1.9z"/>
<path class="s8" d="M536.4 264.4l1.9-1.3-1.6-2.5-1.8 1.3z"/>
<path class="s13" d="M528.1 259.7l1.8-1.6-1.5-2.8-1.8 1.7z"/>
<path class="s9" d="M533 263.3l1.9-1.4-1.6-2.6-1.8 1.5z"/>
<path class="s15" d="M524.7 258.7l1.9-1.7-1.6-2.9-1.8 1.8z"/>
<path class="s11" d="M529.6 262.3l1.9-1.5-1.6-2.7-1.8 1.6z"/>
<path class="s12" d="M526.2 261.3l1.9-1.6-1.5-2.7-1.9 1.7z"/>
<path class="s7" d="M534.6 265.7l1.8-1.3-1.5-2.5-1.9 1.4z"/>
<path class="s9" d="M531.2 264.8l1.8-1.5-1.5-2.5-1.9 1.5z"/>
<path class="s10" d="M527.8 263.8l1.8-1.5-1.5-2.6-1.9 1.6z"/>
<path class="s7" d="M532.7 267.1l1.9-1.4-1.6-2.4-1.8 1.5z"/>
<path class="s8" d="M529.3 266.2l1.9-1.4-1.6-2.5-1.8 1.5z"/>
<path class="s6" d="M530.9 268.4l1.8-1.3-1.5-2.3-1.9 1.4z"/>
</g>
<polyline points="415.5,207.2 528.7,285.2 667.2,218.9" fill="none" stroke="#1a1a1a" stroke-width="2.8" stroke-linejoin="miter" stroke-linecap="square"/>
<line x1="435.9" y1="221.2" x2="432.3" y2="222.9" stroke="#1a1a1a" stroke-width="2.8" stroke-linecap="butt"/>
<text opacity="0.9999" stroke="#262626" stroke-width="0.3" x="422.8" y="245.1" text-anchor="middle" font-size="11.3" fill="#262626">10</text>
<line x1="457.7" y1="236.2" x2="454.0" y2="237.9" stroke="#1a1a1a" stroke-width="2.8" stroke-linecap="butt"/>
<text opacity="0.9999" stroke="#262626" stroke-width="0.3" x="444.2" y="260.3" text-anchor="middle" font-size="11.3" fill="#262626">5</text>
<line x1="480.1" y1="251.7" x2="476.5" y2="253.4" stroke="#1a1a1a" stroke-width="2.8" stroke-linecap="butt"/>
<text opacity="0.9999" stroke="#262626" stroke-width="0.3" x="466.3" y="276.2" text-anchor="middle" font-size="11.3" fill="#262626">0</text>
<line x1="503.3" y1="267.6" x2="499.6" y2="269.3" stroke="#1a1a1a" stroke-width="2.8" stroke-linecap="butt"/>
<text opacity="0.9999" stroke="#262626" stroke-width="0.3" x="489.5" y="292.5" text-anchor="middle" font-size="11.3" fill="#262626">−5</text>
<line x1="527.2" y1="284.1" x2="523.6" y2="285.8" stroke="#1a1a1a" stroke-width="2.8" stroke-linecap="butt"/>
<text opacity="0.9999" stroke="#262626" stroke-width="0.3" x="513.5" y="309.0" text-anchor="middle" font-size="11.3" fill="#262626">−10</text>
<line x1="553.6" y1="273.3" x2="556.9" y2="275.5" stroke="#1a1a1a" stroke-width="2.8" stroke-linecap="butt"/>
<text opacity="0.9999" stroke="#262626" stroke-width="0.3" x="565.1" y="300.2" text-anchor="middle" font-size="11.3" fill="#262626">−10</text>
<line x1="577.0" y1="262.1" x2="580.3" y2="264.4" stroke="#1a1a1a" stroke-width="2.8" stroke-linecap="butt"/>
<text opacity="0.9999" stroke="#262626" stroke-width="0.3" x="588.1" y="289.1" text-anchor="middle" font-size="11.3" fill="#262626">−8</text>
<line x1="599.9" y1="251.2" x2="603.2" y2="253.4" stroke="#1a1a1a" stroke-width="2.8" stroke-linecap="butt"/>
<text opacity="0.9999" stroke="#262626" stroke-width="0.3" x="610.9" y="278.0" text-anchor="middle" font-size="11.3" fill="#262626">−6</text>
<line x1="622.2" y1="240.4" x2="625.5" y2="242.7" stroke="#1a1a1a" stroke-width="2.8" stroke-linecap="butt"/>
<text opacity="0.9999" stroke="#262626" stroke-width="0.3" x="633.2" y="267.3" text-anchor="middle" font-size="11.3" fill="#262626">−4</text>
<line x1="644.1" y1="230.0" x2="647.4" y2="232.2" stroke="#1a1a1a" stroke-width="2.8" stroke-linecap="butt"/>
<text opacity="0.9999" stroke="#262626" stroke-width="0.3" x="655.2" y="256.4" text-anchor="middle" font-size="11.3" fill="#262626">−2</text>
<text opacity="0.9999" stroke="#262626" stroke-width="0.3" x="537.8" y="10.5" text-anchor="middle" font-size="11.55" fill="#262626"><tspan font-weight="bold">(b)</tspan> Surface plot</text>
</g>
<g>
<circle cx="122.7" cy="371.1" r="6.2" fill="#000" fill-opacity="0.74"/><circle cx="122.7" cy="371.1" r="5.5" fill="none" stroke="#000" stroke-opacity="0.45" stroke-width="1.4"/>
<circle cx="131.8" cy="375.4" r="6.2" fill="#000" fill-opacity="0.74"/><circle cx="131.8" cy="375.4" r="5.5" fill="none" stroke="#000" stroke-opacity="0.45" stroke-width="1.4"/>
<circle cx="140.5" cy="379.5" r="6.2" fill="#000" fill-opacity="0.74"/><circle cx="140.5" cy="379.5" r="5.5" fill="none" stroke="#000" stroke-opacity="0.45" stroke-width="1.4"/>
<circle cx="141.7" cy="448.2" r="6.2" fill="#000" fill-opacity="0.74"/><circle cx="141.7" cy="448.2" r="5.5" fill="none" stroke="#000" stroke-opacity="0.45" stroke-width="1.4"/>
<circle cx="125.9" cy="477.5" r="6.2" fill="#000" fill-opacity="0.74"/><circle cx="125.9" cy="477.5" r="5.5" fill="none" stroke="#000" stroke-opacity="0.45" stroke-width="1.4"/>
<circle cx="198.4" cy="469.4" r="6.2" fill="#000" fill-opacity="0.74"/><circle cx="198.4" cy="469.4" r="5.5" fill="none" stroke="#000" stroke-opacity="0.45" stroke-width="1.4"/>
<circle cx="217.8" cy="440.3" r="6.2" fill="#000" fill-opacity="0.74"/><circle cx="217.8" cy="440.3" r="5.5" fill="none" stroke="#000" stroke-opacity="0.45" stroke-width="1.4"/>
<circle cx="231.9" cy="456.4" r="6.2" fill="#000" fill-opacity="0.74"/><circle cx="231.9" cy="456.4" r="5.5" fill="none" stroke="#000" stroke-opacity="0.45" stroke-width="1.4"/>
<circle cx="247.1" cy="432.8" r="6.2" fill="#000" fill-opacity="0.74"/><circle cx="247.1" cy="432.8" r="5.5" fill="none" stroke="#000" stroke-opacity="0.45" stroke-width="1.4"/>
<circle cx="248.4" cy="455.0" r="6.2" fill="#000" fill-opacity="0.74"/><circle cx="248.4" cy="455.0" r="5.5" fill="none" stroke="#000" stroke-opacity="0.45" stroke-width="1.4"/>
<circle cx="263.2" cy="490.0" r="6.2" fill="#000" fill-opacity="0.74"/><circle cx="263.2" cy="490.0" r="5.5" fill="none" stroke="#000" stroke-opacity="0.45" stroke-width="1.4"/>
<circle cx="295.8" cy="460.1" r="6.2" fill="#000" fill-opacity="0.74"/><circle cx="295.8" cy="460.1" r="5.5" fill="none" stroke="#000" stroke-opacity="0.45" stroke-width="1.4"/>
<circle cx="303.4" cy="431.8" r="6.2" fill="#000" fill-opacity="0.74"/><circle cx="303.4" cy="431.8" r="5.5" fill="none" stroke="#000" stroke-opacity="0.45" stroke-width="1.4"/>
<circle cx="55.1" cy="571.3" r="6.2" fill="#000" fill-opacity="0.74"/><circle cx="55.1" cy="571.3" r="5.5" fill="none" stroke="#000" stroke-opacity="0.45" stroke-width="1.4"/>
<circle cx="65.6" cy="566.2" r="6.2" fill="#000" fill-opacity="0.74"/><circle cx="65.6" cy="566.2" r="5.5" fill="none" stroke="#000" stroke-opacity="0.45" stroke-width="1.4"/>
<circle cx="76.2" cy="561.1" r="6.2" fill="#000" fill-opacity="0.74"/><circle cx="76.2" cy="561.1" r="5.5" fill="none" stroke="#000" stroke-opacity="0.45" stroke-width="1.4"/>
<circle cx="297.8" cy="618.9" r="6.2" fill="#000" fill-opacity="0.74"/><circle cx="297.8" cy="618.9" r="5.5" fill="none" stroke="#000" stroke-opacity="0.45" stroke-width="1.4"/>
<circle cx="308.7" cy="624.1" r="6.2" fill="#000" fill-opacity="0.74"/><circle cx="308.7" cy="624.1" r="5.5" fill="none" stroke="#000" stroke-opacity="0.45" stroke-width="1.4"/>
<circle cx="320.2" cy="630.0" r="6.2" fill="#000" fill-opacity="0.74"/><circle cx="320.2" cy="630.0" r="5.5" fill="none" stroke="#000" stroke-opacity="0.45" stroke-width="1.4"/>
<line x1="122.7" y1="371.1" x2="131.8" y2="375.4" stroke="#00ffff" stroke-opacity="0.65" stroke-width="7.31"/>
<line x1="131.8" y1="375.4" x2="140.5" y2="379.5" stroke="#00ffff" stroke-opacity="0.65" stroke-width="7.31"/>
<line x1="140.5" y1="379.5" x2="141.7" y2="448.2" stroke="#8c73ff" stroke-opacity="0.65" stroke-width="3.47"/>
<line x1="141.7" y1="448.2" x2="125.9" y2="477.5" stroke="#38c7ff" stroke-opacity="0.65" stroke-width="5.01"/>
<line x1="141.7" y1="448.2" x2="198.4" y2="469.4" stroke="#38c7ff" stroke-opacity="0.65" stroke-width="5.01"/>
<line x1="198.4" y1="469.4" x2="231.9" y2="456.4" stroke="#2ed1ff" stroke-opacity="0.65" stroke-width="5.29"/>
<line x1="217.8" y1="440.3" x2="231.9" y2="456.4" stroke="#14ebff" stroke-opacity="0.65" stroke-width="6.19"/>
<line x1="217.8" y1="440.3" x2="247.1" y2="432.8" stroke="#1fe0ff" stroke-opacity="0.65" stroke-width="5.79"/>
<line x1="231.9" y1="456.4" x2="248.4" y2="455.0" stroke="#0ff0ff" stroke-opacity="0.65" stroke-width="6.43"/>
<line x1="247.1" y1="432.8" x2="303.4" y2="431.8" stroke="#33ccff" stroke-opacity="0.65" stroke-width="5.14"/>
<line x1="248.4" y1="455.0" x2="295.8" y2="460.1" stroke="#33ccff" stroke-opacity="0.65" stroke-width="5.14"/>
<line x1="295.8" y1="460.1" x2="263.2" y2="490.0" stroke="#47b8ff" stroke-opacity="0.65" stroke-width="4.64"/>
<line x1="125.9" y1="477.5" x2="76.2" y2="561.1" stroke="#b04fff" stroke-opacity="0.65" stroke-width="3.04"/>
<line x1="76.2" y1="561.1" x2="65.6" y2="566.2" stroke="#00ffff" stroke-opacity="0.65" stroke-width="7.31"/>
<line x1="65.6" y1="566.2" x2="55.1" y2="571.3" stroke="#00ffff" stroke-opacity="0.65" stroke-width="7.31"/>
<line x1="76.2" y1="561.1" x2="297.8" y2="618.9" stroke="#ff00ff" stroke-opacity="0.65" stroke-width="2.3"/>
<line x1="297.8" y1="618.9" x2="308.7" y2="624.1" stroke="#00ffff" stroke-opacity="0.65" stroke-width="7.31"/>
<line x1="308.7" y1="624.1" x2="320.2" y2="630.0" stroke="#00ffff" stroke-opacity="0.65" stroke-width="7.31"/>
<rect x="41.9" y="358.8" width="291.75" height="283.50" fill="none" stroke="#262626" stroke-width="2.6"/>
<text opacity="0.9999" stroke="#262626" stroke-width="0.3" x="187.2" y="351.3" text-anchor="middle" font-size="11.55" fill="#262626"><tspan font-weight="bold">(c)</tspan> Minimum spanning tree</text>
</g>
<g>
<rect x="440.7" y="358.6" width="79.1" height="25.2" fill="#fde725"/>
<rect x="516.2" y="384.2" width="67.1" height="9.8" fill="#95d840"/>
<rect x="582.0" y="394.4" width="53.8" height="8.9" fill="#3fbc73"/>
<rect x="405.0" y="384.2" width="12.4" height="181.3" fill="#443983"/>
<rect x="484.9" y="394.2" width="11.8" height="182.8" fill="#443983"/>
<rect x="563.9" y="403.8" width="12.1" height="224.2" fill="#443983"/>
<rect x="628.0" y="403.8" width="41.9" height="41.8" fill="#21918c"/>
<rect x="630.1" y="445.1" width="37.8" height="4.5" fill="#24878e"/>
<rect x="632.5" y="449.1" width="33.4" height="18.2" fill="#2d708e"/>
<rect x="634.1" y="466.8" width="29.8" height="4.0" fill="#31668e"/>
<linearGradient id="gb" x1="0" y1="0" x2="0" y2="1"><stop offset="0" stop-color="#3b528b"/><stop offset="1" stop-color="#424086"/></linearGradient>
<rect x="638.7" y="467.0" width="20.5" height="31.9" fill="url(#gb)"/>
<rect x="640.7" y="498.4" width="16.9" height="10.6" fill="#453781"/>
<rect x="642.7" y="508.5" width="12.5" height="30.1" fill="#443983"/>
<line x1="404.5" y1="384.1" x2="583.8" y2="384.1" stroke="#000" stroke-width="1.1"/>
<line x1="484.6" y1="394.3" x2="636.4" y2="394.3" stroke="#000" stroke-width="1.1"/>
<line x1="563.3" y1="403.6" x2="670.2" y2="403.6" stroke="#000" stroke-width="1.1"/>
<clipPath id="cd"><rect x="391.8" y="357" width="291.2" height="285.0"/></clipPath>
<g clip-path="url(#cd)" fill="none" stroke-width="1.9">
<ellipse cx="411.2" cy="475" rx="13.7" ry="109.5" stroke="#1f77b4"/>
<ellipse cx="490.8" cy="485.5" rx="13.4" ry="110.5" stroke="#ff7f0e"/>
<ellipse cx="570" cy="513.8" rx="13.5" ry="133.8" stroke="#2ca02c"/>
<ellipse cx="648.5" cy="470.8" rx="41.2" ry="81.7" stroke="#d62728"/>
</g>
<line x1="391.8" y1="357.4" x2="391.8" y2="643.4" stroke="#262626" stroke-width="2.8"/>
<text opacity="0.9999" stroke="#262626" stroke-width="0.3" x="373.2" y="362.8" text-anchor="end" font-size="11.3" fill="#262626">0.0</text>
<text opacity="0.9999" stroke="#262626" stroke-width="0.3" x="373.2" y="406.7" text-anchor="end" font-size="11.3" fill="#262626">0.2</text>
<text opacity="0.9999" stroke="#262626" stroke-width="0.3" x="373.2" y="450.6" text-anchor="end" font-size="11.3" fill="#262626">0.4</text>
<text opacity="0.9999" stroke="#262626" stroke-width="0.3" x="373.2" y="494.6" text-anchor="end" font-size="11.3" fill="#262626">0.6</text>
<text opacity="0.9999" stroke="#262626" stroke-width="0.3" x="373.2" y="538.5" text-anchor="end" font-size="11.3" fill="#262626">0.8</text>
<text opacity="0.9999" stroke="#262626" stroke-width="0.3" x="373.2" y="582.4" text-anchor="end" font-size="11.3" fill="#262626">1.0</text>
<text opacity="0.9999" stroke="#262626" stroke-width="0.3" x="373.2" y="626.3" text-anchor="end" font-size="11.3" fill="#262626">1.2</text>
<text opacity="0.9999" stroke="#262626" stroke-width="0.3" transform="translate(350.3,500.3) rotate(-90)" text-anchor="middle" font-size="11.8" fill="#262626">λ value</text>
<text opacity="0.9999" stroke="#262626" stroke-width="0.3" x="537.1" y="351.3" text-anchor="middle" font-size="11.55" fill="#262626"><tspan font-weight="bold">(d)</tspan> Dendrogram</text>
</g>
</g>
</svg></body></html>
